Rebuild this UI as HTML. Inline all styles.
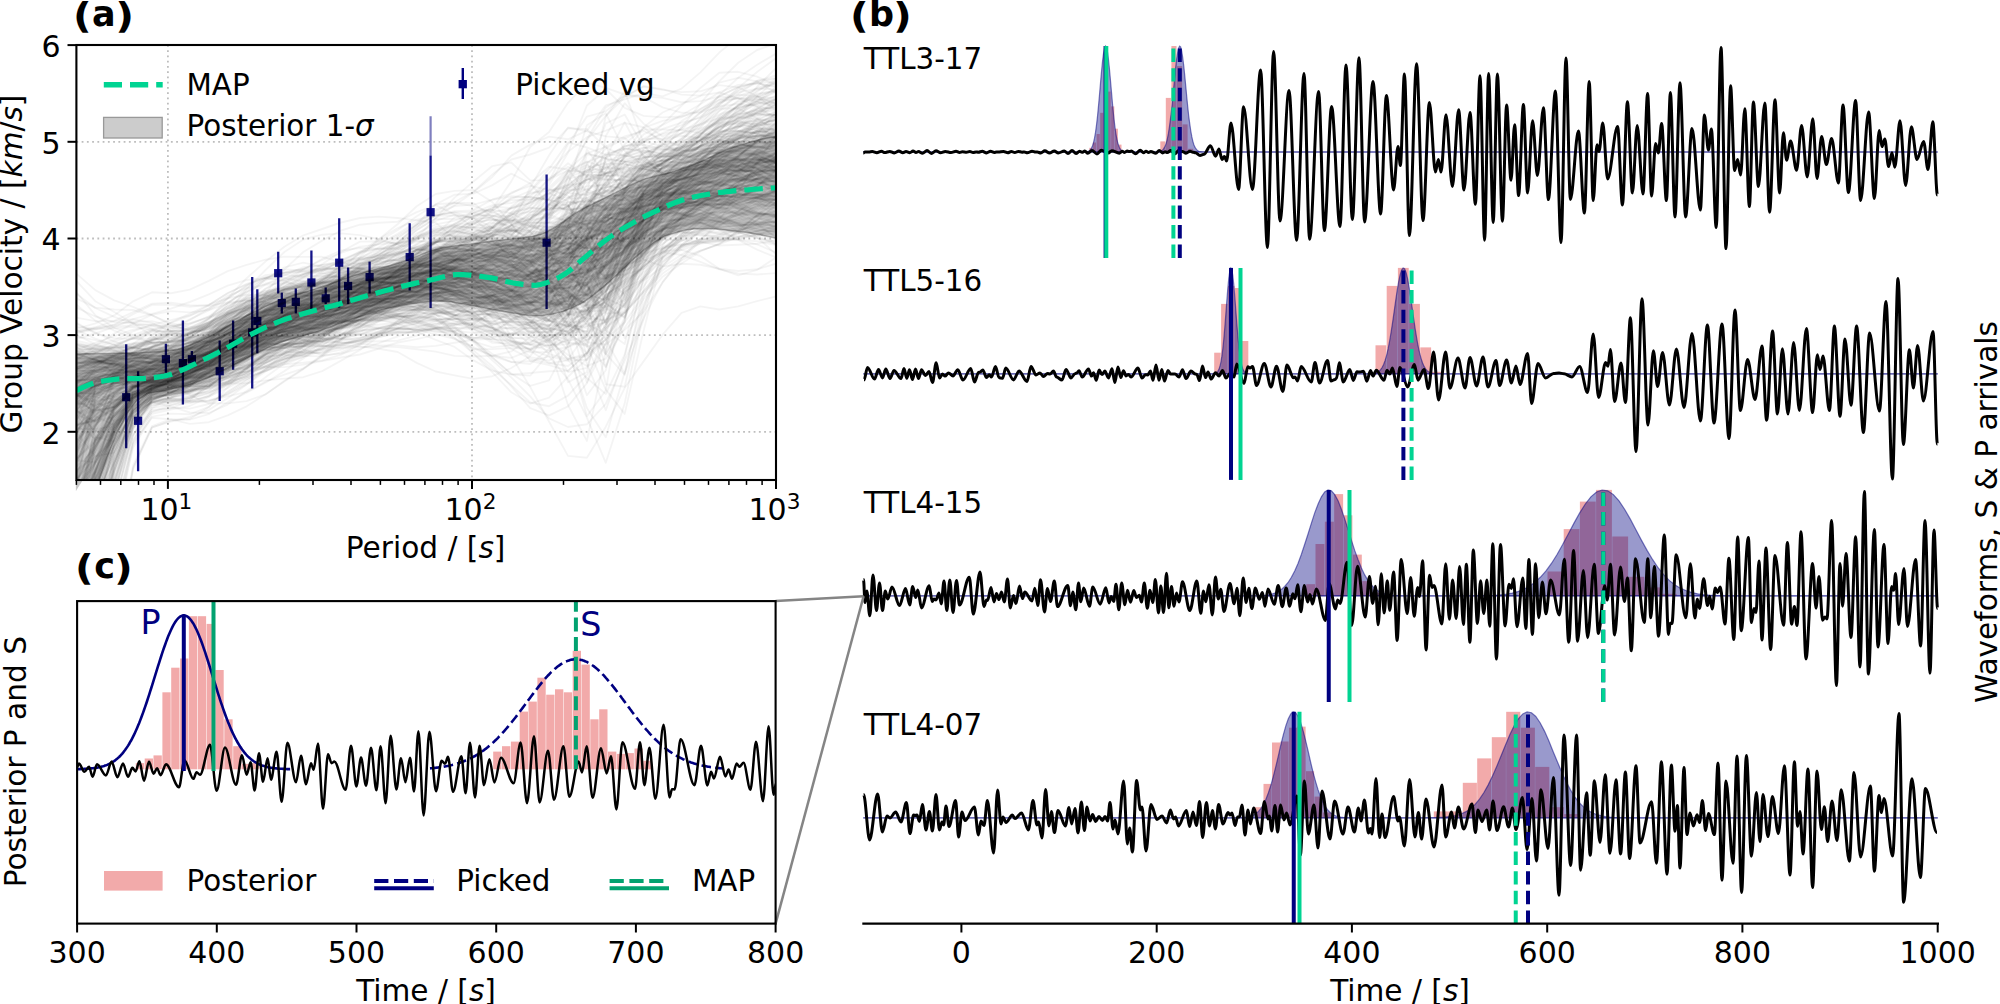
<!DOCTYPE html>
<html><head><meta charset="utf-8"><title>Figure</title><style>
html,body{margin:0;padding:0;background:#fff;}
svg{display:block;}
text{font-family:'DejaVu Sans','Liberation Sans',sans-serif;fill:#000;}
.tl{font-size:30px;}
.lb{font-size:29.6px;}
.lg{font-size:29.4px;}
.ttl{font-size:35px;font-weight:bold;}
.ttp{font-size:36px;font-weight:bold;}
.it{font-style:italic;}
.tk{stroke:#000;stroke-width:2.0;}
.grid{stroke:#bdbdbd;stroke-width:1.8;stroke-dasharray:1.8 3.45;}
</style></head>
<body><svg width="2000" height="1004" viewBox="0 0 2000 1004">
<rect width="2000" height="1004" fill="#fff"/>
<g id="pa">
<clipPath id="clipA"><rect x="76.4" y="45.0" width="699.6" height="435.0"/></clipPath>
<line x1="167.9" y1="45.0" x2="167.9" y2="480.0" class="grid"/>
<line x1="472" y1="45.0" x2="472" y2="480.0" class="grid"/>
<line x1="76.4" y1="431.8" x2="776.0" y2="431.8" class="grid"/>
<line x1="76.4" y1="335.1" x2="776.0" y2="335.1" class="grid"/>
<line x1="76.4" y1="238.5" x2="776.0" y2="238.5" class="grid"/>
<line x1="76.4" y1="141.8" x2="776.0" y2="141.8" class="grid"/>
<g clip-path="url(#clipA)">
<line x1="430.6" y1="116.2" x2="430.6" y2="156" stroke="#000080" stroke-opacity="0.5" stroke-width="2.2"/>
<line x1="126.2" y1="344.3" x2="126.2" y2="448.3" stroke="#000080" stroke-opacity="0.92" stroke-width="2.3"/>
<rect x="122.1" y="393.1" width="8.2" height="8.2" fill="#000080" fill-opacity="0.92"/>
<line x1="138.1" y1="371.2" x2="138.1" y2="471.3" stroke="#000080" stroke-opacity="0.92" stroke-width="2.3"/>
<rect x="134" y="416.7" width="8.2" height="8.2" fill="#000080" fill-opacity="0.92"/>
<line x1="165.9" y1="343.7" x2="165.9" y2="372.7" stroke="#000080" stroke-opacity="0.92" stroke-width="2.3"/>
<rect x="161.8" y="355.1" width="8.2" height="8.2" fill="#000080" fill-opacity="0.92"/>
<line x1="182.9" y1="320.4" x2="182.9" y2="404.6" stroke="#000080" stroke-opacity="0.92" stroke-width="2.3"/>
<rect x="178.8" y="359" width="8.2" height="8.2" fill="#000080" fill-opacity="0.92"/>
<line x1="191.9" y1="350.9" x2="191.9" y2="366.7" stroke="#000080" stroke-opacity="0.92" stroke-width="2.3"/>
<rect x="187.8" y="355.1" width="8.2" height="8.2" fill="#000080" fill-opacity="0.92"/>
<line x1="219.7" y1="340.4" x2="219.7" y2="401.1" stroke="#000080" stroke-opacity="0.92" stroke-width="2.3"/>
<rect x="215.6" y="367.1" width="8.2" height="8.2" fill="#000080" fill-opacity="0.92"/>
<line x1="233.1" y1="320.4" x2="233.1" y2="369.7" stroke="#000080" stroke-opacity="0.92" stroke-width="2.3"/>
<rect x="229" y="339.6" width="8.2" height="8.2" fill="#000080" fill-opacity="0.92"/>
<line x1="252.2" y1="277.1" x2="252.2" y2="388.5" stroke="#000080" stroke-opacity="0.92" stroke-width="2.3"/>
<rect x="248.1" y="328.3" width="8.2" height="8.2" fill="#000080" fill-opacity="0.92"/>
<line x1="257.3" y1="289.3" x2="257.3" y2="353.3" stroke="#000080" stroke-opacity="0.92" stroke-width="2.3"/>
<rect x="253.2" y="316.9" width="8.2" height="8.2" fill="#000080" fill-opacity="0.92"/>
<line x1="278.2" y1="251.7" x2="278.2" y2="293.5" stroke="#000080" stroke-opacity="0.92" stroke-width="2.3"/>
<rect x="274.1" y="269.1" width="8.2" height="8.2" fill="#000080" fill-opacity="0.92"/>
<line x1="281.8" y1="292.6" x2="281.8" y2="313.5" stroke="#000080" stroke-opacity="0.92" stroke-width="2.3"/>
<rect x="277.7" y="299" width="8.2" height="8.2" fill="#000080" fill-opacity="0.92"/>
<line x1="295.8" y1="288.4" x2="295.8" y2="313.5" stroke="#000080" stroke-opacity="0.92" stroke-width="2.3"/>
<rect x="291.7" y="297.8" width="8.2" height="8.2" fill="#000080" fill-opacity="0.92"/>
<line x1="311.4" y1="250.5" x2="311.4" y2="309.9" stroke="#000080" stroke-opacity="0.92" stroke-width="2.3"/>
<rect x="307.3" y="278.4" width="8.2" height="8.2" fill="#000080" fill-opacity="0.92"/>
<line x1="325.7" y1="287.5" x2="325.7" y2="304" stroke="#000080" stroke-opacity="0.92" stroke-width="2.3"/>
<rect x="321.6" y="294.2" width="8.2" height="8.2" fill="#000080" fill-opacity="0.92"/>
<line x1="339.2" y1="218.2" x2="339.2" y2="307.6" stroke="#000080" stroke-opacity="0.92" stroke-width="2.3"/>
<rect x="335.1" y="258.6" width="8.2" height="8.2" fill="#000080" fill-opacity="0.92"/>
<line x1="348.1" y1="267.5" x2="348.1" y2="304" stroke="#000080" stroke-opacity="0.92" stroke-width="2.3"/>
<rect x="344" y="281.9" width="8.2" height="8.2" fill="#000080" fill-opacity="0.92"/>
<line x1="369.6" y1="261.6" x2="369.6" y2="293.5" stroke="#000080" stroke-opacity="0.92" stroke-width="2.3"/>
<rect x="365.5" y="273" width="8.2" height="8.2" fill="#000080" fill-opacity="0.92"/>
<line x1="409.7" y1="223.3" x2="409.7" y2="290.5" stroke="#000080" stroke-opacity="0.92" stroke-width="2.3"/>
<rect x="405.6" y="253" width="8.2" height="8.2" fill="#000080" fill-opacity="0.92"/>
<line x1="430.6" y1="155.7" x2="430.6" y2="308" stroke="#000080" stroke-opacity="0.92" stroke-width="2.3"/>
<rect x="426.5" y="208.1" width="8.2" height="8.2" fill="#000080" fill-opacity="0.92"/>
<line x1="546.6" y1="174.5" x2="546.6" y2="309" stroke="#000080" stroke-opacity="0.92" stroke-width="2.3"/>
<rect x="542.5" y="238.6" width="8.2" height="8.2" fill="#000080" fill-opacity="0.92"/>
</g>
<g clip-path="url(#clipA)" fill="none" stroke="#000" stroke-opacity="0.043" stroke-width="1.9" stroke-linejoin="round">
<polyline points="76.4,424.4 95.3,398.3 114.2,387.2 133.1,380.9 152,380.1 170.9,377.1 189.8,370.3 208.8,368.7 227.7,365.6 246.6,359.5 265.5,354.5 284.4,345.2 303.3,335.5 322.2,331.1 341.1,322.8 360,309.7 378.9,299.6 397.8,291.7 416.7,286.4 435.7,284.3 454.6,286.8 473.5,302.2 492.4,326.7 511.3,356.2 530.2,386.9 549.1,421.8 568,455.9 586.9,457.7 605.8,426.7 624.7,387.8 643.6,361.4 662.6,334.7 681.5,312.8 700.4,306.4 719.3,309.5 738.2,306.4 757.1,301.1 776,296.4"/>
<polyline points="76.4,393.4 95.3,385.9 114.2,381.3 133.1,381.3 152,380.9 170.9,376.9 189.8,372.4 208.8,366.6 227.7,359 246.6,349.6 265.5,338.8 284.4,327.7 303.3,317.4 322.2,309.1 341.1,296.9 360,282.8 378.9,274.6 397.8,270.5 416.7,266.7 435.7,267 454.6,271.9 473.5,282.5 492.4,298.2 511.3,315.7 530.2,331.4 549.1,341.2 568,334.6 586.9,344.5 605.8,366.6 624.7,318.9 643.6,245.5 662.6,210.2 681.5,195 700.4,184 719.3,175.6 738.2,171.1 757.1,170.3 776,171.5"/>
<polyline points="76.4,419.1 95.3,408.8 114.2,399.9 133.1,391.9 152,390 170.9,392 189.8,388.7 208.8,381.7 227.7,371.4 246.6,358.3 265.5,347.4 284.4,340.8 303.3,333.1 322.2,324.4 341.1,317.3 360,311.5 378.9,307.5 397.8,305.4 416.7,301.9 435.7,298.2 454.6,299.3 473.5,298.4 492.4,295.1 511.3,291.6 530.2,292 549.1,290.2 568,285.8 586.9,306.5 605.8,354.5 624.7,322 643.6,228 662.6,184.3 681.5,169.1 700.4,162.1 719.3,153.1 738.2,143 757.1,134.2 776,127.5"/>
<polyline points="76.4,749 95.3,624.5 114.2,515.8 133.1,443 152,417.7 170.9,419.4 189.8,423.9 208.8,422.2 227.7,415.3 246.6,406.3 265.5,394.3 284.4,381.5 303.3,369.2 322.2,355.6 341.1,339.3 360,321.7 378.9,306.5 397.8,295.5 416.7,286.3 435.7,277.6 454.6,268.3 473.5,261.5 492.4,259.7 511.3,262.7 530.2,271.1 549.1,273.2 568,260.4 586.9,252.4 605.8,245.2 624.7,230.2 643.6,211.4 662.6,199.4 681.5,189 700.4,179.2 719.3,169.9 738.2,166.6 757.1,167.6 776,170.8"/>
<polyline points="76.4,563.1 95.3,497.7 114.2,436.6 133.1,394.2 152,377.7 170.9,364.9 189.8,354.8 208.8,344.4 227.7,333.1 246.6,323.9 265.5,315.6 284.4,313 303.3,316.1 322.2,317.9 341.1,313.3 360,304.9 378.9,296.6 397.8,285.8 416.7,273.2 435.7,257.9 454.6,244.1 473.5,234.1 492.4,230.5 511.3,230.6 530.2,232.6 549.1,236.1 568,235.8 586.9,238.4 605.8,239.3 624.7,225.4 643.6,212.4 662.6,205.9 681.5,199.8 700.4,197.7 719.3,195.3 738.2,188.8 757.1,181.1 776,175.2"/>
<polyline points="76.4,396 95.3,396.4 114.2,404.2 133.1,394.7 152,385.7 170.9,378.6 189.8,367.9 208.8,356.4 227.7,341.9 246.6,326.7 265.5,311.9 284.4,302 303.3,295.3 322.2,289.9 341.1,281.9 360,275.2 378.9,273.6 397.8,270.9 416.7,264.8 435.7,264.6 454.6,271.7 473.5,278.4 492.4,286.2 511.3,290.2 530.2,295.2 549.1,301.8 568,296.8 586.9,290.6 605.8,279.3 624.7,267.2 643.6,255.5 662.6,243.8 681.5,230.4 700.4,222.9 719.3,222 738.2,219.8 757.1,215.7 776,210.5"/>
<polyline points="76.4,576.8 95.3,526.8 114.2,469.6 133.1,421.4 152,400.1 170.9,392.6 189.8,384.5 208.8,373.3 227.7,360.5 246.6,351.1 265.5,342.4 284.4,336.7 303.3,334.4 322.2,331 341.1,328.2 360,323.9 378.9,317.9 397.8,314.2 416.7,313.2 435.7,312.8 454.6,315.4 473.5,318.5 492.4,321.3 511.3,322.7 530.2,328.1 549.1,328.7 568,321.3 586.9,313.2 605.8,301.2 624.7,279.8 643.6,260.7 662.6,240.2 681.5,222.5 700.4,208.4 719.3,195.9 738.2,185.8 757.1,178.7 776,175"/>
<polyline points="76.4,364.2 95.3,361.7 114.2,364 133.1,365.9 152,365.6 170.9,366.1 189.8,364.7 208.8,361.6 227.7,355.9 246.6,354.6 265.5,352.6 284.4,348.2 303.3,345.8 322.2,341.7 341.1,334.5 360,326.6 378.9,316.7 397.8,304.2 416.7,291.8 435.7,279.2 454.6,267.3 473.5,255.6 492.4,250.1 511.3,253.2 530.2,256.6 549.1,252.9 568,269.2 586.9,296.3 605.8,275 624.7,226 643.6,195.9 662.6,179.8 681.5,168.1 700.4,162.2 719.3,157.5 738.2,153.7 757.1,155.1 776,162.3"/>
<polyline points="76.4,554.8 95.3,504.9 114.2,450.5 133.1,413.2 152,397.6 170.9,392.3 189.8,383 208.8,371.5 227.7,361.1 246.6,350.1 265.5,336.3 284.4,326.9 303.3,322.2 322.2,314.3 341.1,303.8 360,293.6 378.9,284.4 397.8,271.4 416.7,253.3 435.7,236.5 454.6,223.7 473.5,216 492.4,208 511.3,200.1 530.2,199.5 549.1,199.6 568,206 586.9,227.5 605.8,232.9 624.7,229.7 643.6,223.2 662.6,213.8 681.5,204.4 700.4,197.6 719.3,187.2 738.2,174.2 757.1,163.1 776,153.6"/>
<polyline points="76.4,408.8 95.3,431.7 114.2,423.2 133.1,408.1 152,397.7 170.9,394.8 189.8,391.4 208.8,384.8 227.7,374.3 246.6,366.4 265.5,356.9 284.4,347.6 303.3,342.3 322.2,335.4 341.1,327.2 360,320.4 378.9,310.4 397.8,298.4 416.7,284.7 435.7,266.6 454.6,249.8 473.5,233 492.4,220.2 511.3,220.3 530.2,225.3 549.1,226.6 568,227.3 586.9,220.7 605.8,217.6 624.7,219.9 643.6,209 662.6,197.5 681.5,189.4 700.4,181.5 719.3,172.6 738.2,165.9 757.1,160 776,156.8"/>
<polyline points="76.4,401.6 95.3,410.6 114.2,407.1 133.1,390.4 152,381.9 170.9,375.6 189.8,367.3 208.8,358.6 227.7,350.5 246.6,344.8 265.5,337 284.4,332.2 303.3,333.6 322.2,333.6 341.1,328.4 360,319.8 378.9,312.4 397.8,307.3 416.7,299.4 435.7,287.6 454.6,278.3 473.5,269.5 492.4,262.9 511.3,260.6 530.2,268.7 549.1,272.8 568,264.5 586.9,299.3 605.8,384.3 624.7,386.8 643.6,304.4 662.6,266.6 681.5,263.7 700.4,264.8 719.3,268.8 738.2,271 757.1,269.3 776,263.7"/>
<polyline points="76.4,382.7 95.3,383.6 114.2,383.4 133.1,382.1 152,380 170.9,377.5 189.8,371.3 208.8,360.9 227.7,347.3 246.6,331.2 265.5,313 284.4,297 303.3,283.9 322.2,271.4 341.1,260.2 360,252.8 378.9,248.8 397.8,243.5 416.7,236.4 435.7,230.6 454.6,227.9 473.5,227.1 492.4,222.8 511.3,225.4 530.2,231.7 549.1,232.9 568,220.6 586.9,207 605.8,217.3 624.7,220.9 643.6,205.8 662.6,192.1 681.5,183.5 700.4,177.5 719.3,171 738.2,165.3 757.1,162.6 776,161.7"/>
<polyline points="76.4,568.1 95.3,480.4 114.2,427.7 133.1,400 152,389.8 170.9,386.6 189.8,384.2 208.8,382.4 227.7,376.3 246.6,368.8 265.5,358.5 284.4,344.1 303.3,332.8 322.2,321.1 341.1,308.3 360,295 378.9,282.8 397.8,272.8 416.7,262.3 435.7,251.6 454.6,248.5 473.5,251.2 492.4,257.6 511.3,261.8 530.2,264.4 549.1,261.3 568,253.9 586.9,237.9 605.8,231.5 624.7,218.5 643.6,192 662.6,173.5 681.5,160.6 700.4,145.8 719.3,130.1 738.2,117.8 757.1,108.3 776,107.9"/>
<polyline points="76.4,511 95.3,427.4 114.2,382.5 133.1,376.9 152,373.3 170.9,363.5 189.8,353.8 208.8,348.8 227.7,344.9 246.6,343.6 265.5,343.1 284.4,343.9 303.3,344.1 322.2,342 341.1,336 360,326.9 378.9,314.2 397.8,300.8 416.7,287.2 435.7,271.9 454.6,261.8 473.5,258 492.4,258.5 511.3,265.3 530.2,278.4 549.1,292.1 568,297.5 586.9,303 605.8,289 624.7,267.2 643.6,247.1 662.6,225.6 681.5,208 700.4,192.8 719.3,182 738.2,171.1 757.1,163.2 776,158.9"/>
<polyline points="76.4,634.5 95.3,548.2 114.2,464.3 133.1,410.9 152,392.6 170.9,384.4 189.8,370.5 208.8,353.3 227.7,335.9 246.6,317.2 265.5,298.3 284.4,282.6 303.3,269.8 322.2,258.7 341.1,250.5 360,248 378.9,248.7 397.8,249.2 416.7,249.2 435.7,250.7 454.6,258 473.5,266.6 492.4,269.3 511.3,273.1 530.2,274.5 549.1,267.8 568,258.2 586.9,254.4 605.8,247.4 624.7,233.4 643.6,220.6 662.6,214.6 681.5,215.4 700.4,218.2 719.3,221.9 738.2,222.7 757.1,222.5 776,222.3"/>
<polyline points="76.4,613.7 95.3,556.3 114.2,488.9 133.1,425.9 152,400 170.9,392.3 189.8,382.7 208.8,370.1 227.7,356.8 246.6,342.8 265.5,328.4 284.4,318.8 303.3,312.3 322.2,305.5 341.1,294.1 360,285.1 378.9,276.7 397.8,266.5 416.7,254.4 435.7,239.5 454.6,226.8 473.5,216.2 492.4,209.9 511.3,213.3 530.2,222.5 549.1,222.9 568,213.5 586.9,202.2 605.8,194.3 624.7,182.7 643.6,165.8 662.6,155.1 681.5,148.8 700.4,141.1 719.3,132.5 738.2,125.9 757.1,126.5 776,131.7"/>
<polyline points="76.4,395.1 95.3,382 114.2,376.5 133.1,375.4 152,377 170.9,376.9 189.8,370 208.8,361.9 227.7,354.9 246.6,348.4 265.5,339.5 284.4,333.8 303.3,330.7 322.2,325.6 341.1,314.7 360,301.9 378.9,288.9 397.8,284.9 416.7,285.1 435.7,279.8 454.6,279.9 473.5,289 492.4,292 511.3,297.7 530.2,318.5 549.1,334.2 568,316.5 586.9,274.8 605.8,251 624.7,227.4 643.6,192.4 662.6,167.5 681.5,154.9 700.4,140.1 719.3,119.1 738.2,105.4 757.1,91.8 776,78.6"/>
<polyline points="76.4,304.5 95.3,320.6 114.2,330.6 133.1,337.8 152,342.6 170.9,341.6 189.8,333.8 208.8,325.4 227.7,316.9 246.6,307.8 265.5,299.9 284.4,294.7 303.3,292.2 322.2,290.6 341.1,286.6 360,282.1 378.9,276.5 397.8,269.4 416.7,257.1 435.7,242.6 454.6,230.4 473.5,221.1 492.4,216.3 511.3,215.9 530.2,231.5 549.1,254.9 568,273.6 586.9,278.2 605.8,269.7 624.7,260 643.6,248.9 662.6,229.6 681.5,214.8 700.4,198.5 719.3,182.4 738.2,173.7 757.1,164 776,159.9"/>
<polyline points="76.4,500.9 95.3,446.7 114.2,407.6 133.1,388.1 152,378.4 170.9,369 189.8,356.9 208.8,340.3 227.7,325.2 246.6,312 265.5,298 284.4,289.9 303.3,287.7 322.2,286.5 341.1,287.5 360,288.9 378.9,290.8 397.8,292.8 416.7,293.8 435.7,294.1 454.6,296.3 473.5,299.2 492.4,305.6 511.3,303.9 530.2,293.3 549.1,284.7 568,279.7 586.9,267.4 605.8,240.7 624.7,212.6 643.6,194.6 662.6,179.4 681.5,162.7 700.4,157.9 719.3,156.4 738.2,159 757.1,168.1 776,179.8"/>
<polyline points="76.4,393.7 95.3,390.5 114.2,385 133.1,376.4 152,367.9 170.9,362.1 189.8,350.8 208.8,340.1 227.7,333.4 246.6,327.6 265.5,322.8 284.4,325 303.3,329.9 322.2,333.5 341.1,339 360,340.5 378.9,337 397.8,333.3 416.7,332.7 435.7,327.3 454.6,316.2 473.5,302.8 492.4,291.8 511.3,274 530.2,258.3 549.1,242.5 568,200.4 586.9,176.8 605.8,173.7 624.7,157.6 643.6,150.1 662.6,153.8 681.5,153.3 700.4,148.4 719.3,149.8 738.2,154.2 757.1,156.8 776,162.3"/>
<polyline points="76.4,521 95.3,460.1 114.2,418.1 133.1,391.9 152,380.1 170.9,368.6 189.8,356 208.8,344.9 227.7,333.5 246.6,323.4 265.5,313.6 284.4,309 303.3,306 322.2,301.4 341.1,298.1 360,293.8 378.9,291.4 397.8,290.8 416.7,289 435.7,285.6 454.6,285 473.5,287.5 492.4,289.6 511.3,296.8 530.2,298.1 549.1,292.9 568,284 586.9,259.9 605.8,232.8 624.7,206.8 643.6,180.2 662.6,159.5 681.5,143.2 700.4,130.8 719.3,123.5 738.2,123.7 757.1,128.2 776,135.7"/>
<polyline points="76.4,363.3 95.3,361.4 114.2,360.6 133.1,354.4 152,346 170.9,341 189.8,334.6 208.8,326.5 227.7,314.7 246.6,303.1 265.5,292.7 284.4,281.4 303.3,273.8 322.2,267.2 341.1,262.9 360,263.7 378.9,264.4 397.8,262.6 416.7,261.5 435.7,266 454.6,272.6 473.5,275.8 492.4,282.6 511.3,296.1 530.2,302.6 549.1,302.4 568,311.5 586.9,311.8 605.8,297.2 624.7,274.1 643.6,250.2 662.6,229.1 681.5,214.8 700.4,207.7 719.3,199.8 738.2,188.3 757.1,179.1 776,172.3"/>
<polyline points="76.4,357.9 95.3,360.9 114.2,365.6 133.1,369.5 152,376.4 170.9,378.8 189.8,377.1 208.8,376 227.7,373.3 246.6,371.8 265.5,368.1 284.4,364.2 303.3,362.7 322.2,360.5 341.1,354.6 360,345 378.9,336 397.8,328.4 416.7,320.3 435.7,311.7 454.6,304.8 473.5,301.2 492.4,299.9 511.3,290.3 530.2,274.8 549.1,256.2 568,248.9 586.9,284 605.8,322.5 624.7,265 643.6,194.7 662.6,173.1 681.5,165 700.4,156.1 719.3,143.8 738.2,136.4 757.1,131.4 776,131.3"/>
<polyline points="76.4,453.4 95.3,388.8 114.2,370.5 133.1,356.1 152,346.9 170.9,341.9 189.8,333.6 208.8,324.3 227.7,315 246.6,306.3 265.5,297.5 284.4,289.2 303.3,284.3 322.2,278.7 341.1,275.2 360,273.3 378.9,273.7 397.8,272.8 416.7,272.9 435.7,277.3 454.6,283.3 473.5,288.2 492.4,295.9 511.3,303.2 530.2,305.4 549.1,293.2 568,267 586.9,239.8 605.8,215.7 624.7,192.6 643.6,174.4 662.6,162.3 681.5,151.5 700.4,147.1 719.3,142.2 738.2,137.9 757.1,135.5 776,137.4"/>
<polyline points="76.4,395 95.3,385.5 114.2,381.8 133.1,379.2 152,379.9 170.9,381 189.8,378.4 208.8,370.4 227.7,359.7 246.6,348.4 265.5,334.7 284.4,320.9 303.3,310 322.2,301.4 341.1,290.9 360,282.2 378.9,277.9 397.8,276.5 416.7,276.1 435.7,276.3 454.6,285.7 473.5,300.3 492.4,312.6 511.3,326.2 530.2,339 549.1,348.2 568,339.5 586.9,310.6 605.8,281.6 624.7,258.6 643.6,230.4 662.6,199.5 681.5,175.1 700.4,159.1 719.3,145 738.2,133.8 757.1,123.6 776,113.3"/>
<polyline points="76.4,622.3 95.3,528 114.2,458.5 133.1,413.9 152,394.9 170.9,390.9 189.8,387.5 208.8,381.4 227.7,374 246.6,366.2 265.5,353.1 284.4,337.5 303.3,327.6 322.2,319.3 341.1,307.4 360,297.5 378.9,289.9 397.8,286.7 416.7,284.6 435.7,283.4 454.6,279.1 473.5,274.4 492.4,274.7 511.3,267.3 530.2,248.2 549.1,215 568,185.3 586.9,171.3 605.8,158 624.7,145.6 643.6,144.7 662.6,148.9 681.5,150.4 700.4,151.6 719.3,151.2 738.2,151.6 757.1,154.3 776,157.1"/>
<polyline points="76.4,421.3 95.3,391.5 114.2,377.2 133.1,372.1 152,367.2 170.9,360.7 189.8,349.7 208.8,341.4 227.7,330.2 246.6,319.3 265.5,311.9 284.4,307.8 303.3,307.1 322.2,304.5 341.1,299.3 360,293.8 378.9,291.6 397.8,288 416.7,283.8 435.7,282.9 454.6,285.9 473.5,288.6 492.4,290 511.3,287.2 530.2,277.8 549.1,262.6 568,250.5 586.9,231.3 605.8,210.2 624.7,189.5 643.6,168.4 662.6,159.6 681.5,157.2 700.4,155.7 719.3,152.1 738.2,150.9 757.1,150.1 776,153.1"/>
<polyline points="76.4,471.5 95.3,445.7 114.2,414.6 133.1,394.8 152,387.3 170.9,382.5 189.8,376.9 208.8,374.1 227.7,368.8 246.6,360.9 265.5,350.6 284.4,343.8 303.3,340.3 322.2,333.7 341.1,320.7 360,309 378.9,297.9 397.8,287.2 416.7,280.6 435.7,276.8 454.6,276 473.5,275.9 492.4,280.5 511.3,283.6 530.2,283.7 549.1,285.6 568,281.8 586.9,274.1 605.8,226.7 624.7,164.7 643.6,166.5 662.6,169.4 681.5,154.4 700.4,140.4 719.3,126.6 738.2,118.2 757.1,114.3 776,114.7"/>
<polyline points="76.4,449.9 95.3,419 114.2,399.9 133.1,388.5 152,383.3 170.9,378.4 189.8,370.5 208.8,362.1 227.7,352.4 246.6,342.6 265.5,331.9 284.4,322.1 303.3,314 322.2,307.7 341.1,303.1 360,299.6 378.9,293.8 397.8,289.7 416.7,288.1 435.7,283.5 454.6,279.3 473.5,277.6 492.4,276.6 511.3,266.4 530.2,254.7 549.1,247 568,238.5 586.9,236.6 605.8,231.5 624.7,214.8 643.6,199.4 662.6,194.3 681.5,194.6 700.4,196.7 719.3,199.6 738.2,205.3 757.1,211.1 776,216.6"/>
<polyline points="76.4,473.7 95.3,452.1 114.2,427 133.1,400 152,388.1 170.9,382 189.8,373 208.8,360.6 227.7,345.6 246.6,329.9 265.5,313.3 284.4,300.1 303.3,292 322.2,286.5 341.1,279.8 360,273.2 378.9,269.5 397.8,267.5 416.7,262.1 435.7,252.8 454.6,250.9 473.5,254.1 492.4,255.3 511.3,265.3 530.2,272.2 549.1,266.9 568,248.1 586.9,233 605.8,226.2 624.7,212.3 643.6,194.5 662.6,183.7 681.5,176 700.4,170.7 719.3,165.6 738.2,160.5 757.1,157.2 776,158.2"/>
<polyline points="76.4,444.5 95.3,415.2 114.2,397 133.1,386 152,377.6 170.9,368.9 189.8,359.7 208.8,351.9 227.7,344.4 246.6,338.5 265.5,333.9 284.4,333 303.3,336.2 322.2,338.7 341.1,338.2 360,334.3 378.9,328.4 397.8,324 416.7,314 435.7,298.5 454.6,286.9 473.5,273.8 492.4,258.7 511.3,236 530.2,215.3 549.1,213.7 568,206.3 586.9,197.8 605.8,191.5 624.7,198 643.6,210.8 662.6,213.3 681.5,213 700.4,215.6 719.3,222.5 738.2,225.1 757.1,223.9 776,225.8"/>
<polyline points="76.4,363 95.3,358.4 114.2,355.5 133.1,351.9 152,349.4 170.9,351.7 189.8,349.5 208.8,344.8 227.7,338.7 246.6,331.7 265.5,325.1 284.4,318.4 303.3,315.6 322.2,317 341.1,314.4 360,311.5 378.9,311.1 397.8,313.8 416.7,312.7 435.7,306.9 454.6,304.1 473.5,302.2 492.4,295.4 511.3,290.7 530.2,286.4 549.1,282 568,276.4 586.9,256.3 605.8,237.9 624.7,231.3 643.6,220 662.6,209.8 681.5,205.5 700.4,200.9 719.3,196.7 738.2,194.6 757.1,191 776,184.3"/>
<polyline points="76.4,442.9 95.3,404 114.2,387.7 133.1,380.5 152,377.8 170.9,374.9 189.8,364.4 208.8,352 227.7,341.1 246.6,332 265.5,322.6 284.4,314.7 303.3,306.3 322.2,297.4 341.1,289.7 360,283.6 378.9,278.5 397.8,275 416.7,272.3 435.7,273.9 454.6,278.6 473.5,279.6 492.4,284.6 511.3,295.6 530.2,298.7 549.1,291.1 568,281.9 586.9,282.9 605.8,266.7 624.7,244.9 643.6,225.1 662.6,205 681.5,190.3 700.4,177.3 719.3,161.2 738.2,149.7 757.1,142.5 776,137.5"/>
<polyline points="76.4,410.7 95.3,422.7 114.2,417.2 133.1,401.3 152,393.9 170.9,396.2 189.8,396.1 208.8,390.8 227.7,382.6 246.6,372.7 265.5,360 284.4,345.9 303.3,329.9 322.2,314 341.1,300.2 360,287.6 378.9,274.5 397.8,265.4 416.7,260.2 435.7,255 454.6,255.5 473.5,262.8 492.4,274.4 511.3,290.3 530.2,304.9 549.1,307.4 568,299.1 586.9,283.3 605.8,264.5 624.7,248.1 643.6,232.3 662.6,221.5 681.5,215.4 700.4,206.5 719.3,196.5 738.2,188.5 757.1,182.6 776,181.3"/>
<polyline points="76.4,470.1 95.3,456.8 114.2,440.8 133.1,414 152,395.5 170.9,384.9 189.8,374.4 208.8,363.8 227.7,345.1 246.6,320 265.5,293.7 284.4,269.5 303.3,252 322.2,240.6 341.1,230.5 360,224.7 378.9,222.7 397.8,221.7 416.7,212.2 435.7,205.2 454.6,214.3 473.5,227.4 492.4,236.6 511.3,247.4 530.2,255.7 549.1,250.4 568,220.6 586.9,195.4 605.8,185.9 624.7,176.2 643.6,164.7 662.6,156.2 681.5,151.8 700.4,149.3 719.3,153.2 738.2,161.2 757.1,169.3 776,176.8"/>
<polyline points="76.4,459 95.3,438 114.2,418.2 133.1,396.6 152,388.4 170.9,385 189.8,375.5 208.8,366.6 227.7,356.1 246.6,341.2 265.5,328.6 284.4,315.6 303.3,308.5 322.2,301 341.1,288.1 360,277.2 378.9,270.1 397.8,262.4 416.7,252.9 435.7,242.5 454.6,238.5 473.5,240 492.4,241.7 511.3,252.3 530.2,271.8 549.1,284 568,298.9 586.9,298.2 605.8,284.4 624.7,275 643.6,254.7 662.6,230.9 681.5,212 700.4,193.1 719.3,174.7 738.2,156 757.1,141.4 776,131.6"/>
<polyline points="76.4,384.2 95.3,371.1 114.2,363 133.1,351.9 152,338.4 170.9,328.1 189.8,319.3 208.8,310.3 227.7,298.8 246.6,285.5 265.5,275.2 284.4,272.6 303.3,271.2 322.2,268.8 341.1,268.1 360,268.1 378.9,266.8 397.8,261.4 416.7,253.8 435.7,249.1 454.6,248.8 473.5,250.2 492.4,260.5 511.3,274.6 530.2,286.5 549.1,299.9 568,307.6 586.9,301.3 605.8,288.1 624.7,275.9 643.6,257.7 662.6,234.7 681.5,224.3 700.4,222 719.3,217.5 738.2,208.3 757.1,198.3 776,188.2"/>
<polyline points="76.4,352.9 95.3,351 114.2,347.5 133.1,343.2 152,340 170.9,337.7 189.8,334.2 208.8,327 227.7,312.9 246.6,308.2 265.5,307.6 284.4,305.3 303.3,309.9 322.2,318.6 341.1,317.7 360,317.6 378.9,317.2 397.8,316.1 416.7,317.9 435.7,316.6 454.6,311.5 473.5,301.1 492.4,285.8 511.3,270 530.2,251.5 549.1,217.3 568,177.4 586.9,170.1 605.8,169.2 624.7,155 643.6,147.7 662.6,149.5 681.5,150.8 700.4,149.7 719.3,146.9 738.2,148.3 757.1,155.5 776,163.2"/>
<polyline points="76.4,448.2 95.3,424.8 114.2,393.5 133.1,380 152,366.2 170.9,357.5 189.8,350.2 208.8,339.4 227.7,327.7 246.6,320.5 265.5,315 284.4,310 303.3,307.1 322.2,305.9 341.1,302.5 360,297.7 378.9,293.7 397.8,289.4 416.7,282.9 435.7,273.2 454.6,263.4 473.5,255.7 492.4,248.7 511.3,244.7 530.2,249.6 549.1,253.4 568,238.7 586.9,221.6 605.8,209.2 624.7,203.1 643.6,196.2 662.6,188.1 681.5,182 700.4,179 719.3,175.6 738.2,171.9 757.1,170.8 776,170.9"/>
<polyline points="76.4,425.3 95.3,420.3 114.2,409.3 133.1,393.4 152,384.4 170.9,378.5 189.8,369 208.8,355.1 227.7,339.4 246.6,326 265.5,314.8 284.4,305.8 303.3,300.7 322.2,296.3 341.1,290.7 360,288.6 378.9,285.2 397.8,277.2 416.7,267.2 435.7,258.3 454.6,248.1 473.5,238.3 492.4,232.8 511.3,228.5 530.2,219.1 549.1,198.4 568,171.2 586.9,161.4 605.8,168.1 624.7,169.9 643.6,167.1 662.6,165.7 681.5,164.9 700.4,159 719.3,146.5 738.2,135.4 757.1,124 776,114.2"/>
<polyline points="76.4,366.7 95.3,364.7 114.2,361.8 133.1,355.8 152,349.8 170.9,346 189.8,340.8 208.8,335 227.7,326.1 246.6,317.9 265.5,311 284.4,307.3 303.3,309.1 322.2,311.1 341.1,308 360,305.8 378.9,304.9 397.8,300.8 416.7,294.6 435.7,287.5 454.6,280 473.5,270 492.4,266.9 511.3,267.8 530.2,263.2 549.1,255.9 568,247.6 586.9,238.7 605.8,221.6 624.7,207.7 643.6,195.5 662.6,184.6 681.5,175.4 700.4,168.1 719.3,161.2 738.2,159.8 757.1,163 776,168.6"/>
<polyline points="76.4,572 95.3,489.9 114.2,432.2 133.1,397.2 152,385.5 170.9,380.7 189.8,373.2 208.8,363.9 227.7,353.3 246.6,341.1 265.5,328.7 284.4,317.4 303.3,307.5 322.2,297.2 341.1,287.4 360,278.7 378.9,273.6 397.8,268.8 416.7,262.8 435.7,257.7 454.6,255.7 473.5,253 492.4,255.5 511.3,256.9 530.2,257.5 549.1,247.5 568,241.2 586.9,240 605.8,231.3 624.7,207.8 643.6,192.7 662.6,185.4 681.5,177.9 700.4,172.4 719.3,164.9 738.2,159.1 757.1,159 776,163"/>
<polyline points="76.4,380.1 95.3,373.7 114.2,371 133.1,371.3 152,371.6 170.9,373.2 189.8,370 208.8,365.7 227.7,357.3 246.6,349.7 265.5,345.1 284.4,340.1 303.3,335.4 322.2,329 341.1,321.7 360,313.1 378.9,305 397.8,301.9 416.7,301.6 435.7,297.3 454.6,293.2 473.5,293.4 492.4,299.8 511.3,310.8 530.2,305.6 549.1,279.9 568,253.5 586.9,253.5 605.8,238.1 624.7,218.5 643.6,201.5 662.6,187.4 681.5,180.2 700.4,173.5 719.3,167.6 738.2,162.4 757.1,159.8 776,159.6"/>
<polyline points="76.4,374.1 95.3,369.8 114.2,369.6 133.1,369.4 152,369.2 170.9,370.2 189.8,365.9 208.8,358.2 227.7,348.7 246.6,340.2 265.5,332.3 284.4,322.6 303.3,312.9 322.2,306 341.1,301.5 360,299.6 378.9,298.6 397.8,299.5 416.7,303 435.7,309.2 454.6,318.1 473.5,325.4 492.4,332.8 511.3,341.4 530.2,343.1 549.1,326.5 568,306.2 586.9,281.8 605.8,258.7 624.7,239.4 643.6,221.7 662.6,206.6 681.5,192 700.4,182.2 719.3,176 738.2,171.8 757.1,169.8 776,170"/>
<polyline points="76.4,568.1 95.3,498.1 114.2,447.8 133.1,410.6 152,393.4 170.9,388 189.8,382.8 208.8,375.7 227.7,363 246.6,349.4 265.5,337.4 284.4,329.7 303.3,324.4 322.2,314.2 341.1,302.7 360,293.4 378.9,284.2 397.8,276.2 416.7,265.2 435.7,252.6 454.6,243.9 473.5,238.4 492.4,232.7 511.3,229.7 530.2,226.1 549.1,214.4 568,202.1 586.9,201.3 605.8,202.2 624.7,210.9 643.6,206.8 662.6,200.9 681.5,200.3 700.4,202.5 719.3,208.8 738.2,214 757.1,216.1 776,217.1"/>
<polyline points="76.4,397 95.3,402.3 114.2,392.8 133.1,386.1 152,381.9 170.9,374.7 189.8,361.5 208.8,347.2 227.7,330.7 246.6,315.5 265.5,301.2 284.4,291.3 303.3,286 322.2,282.9 341.1,278.7 360,270.8 378.9,260.9 397.8,250.8 416.7,237.5 435.7,226.9 454.6,224.4 473.5,223.5 492.4,227.8 511.3,240.3 530.2,260.7 549.1,270.1 568,275.4 586.9,272.6 605.8,262.7 624.7,240.5 643.6,220.2 662.6,205.2 681.5,198.2 700.4,194.3 719.3,189 738.2,188.4 757.1,189.8 776,190.6"/>
<polyline points="76.4,521.8 95.3,479.1 114.2,441.4 133.1,409.4 152,395.9 170.9,391.7 189.8,385.2 208.8,376.5 227.7,364.3 246.6,350 265.5,336.9 284.4,329.3 303.3,322.9 322.2,317.3 341.1,311.8 360,306.2 378.9,301 397.8,296.8 416.7,296.4 435.7,298.4 454.6,305 473.5,310.3 492.4,314.6 511.3,319.1 530.2,326.1 549.1,339.1 568,325.7 586.9,291.7 605.8,260.8 624.7,231 643.6,202.9 662.6,183.5 681.5,175.1 700.4,166.7 719.3,159.9 738.2,156.2 757.1,150.2 776,144.8"/>
<polyline points="76.4,602.9 95.3,523.2 114.2,463.1 133.1,419.6 152,401.8 170.9,399.7 189.8,396.7 208.8,387.2 227.7,371 246.6,355 265.5,339.4 284.4,324.1 303.3,310.7 322.2,299.4 341.1,288.3 360,279.6 378.9,273.2 397.8,265.9 416.7,257.8 435.7,252.2 454.6,247.4 473.5,245.1 492.4,247.5 511.3,245 530.2,229 549.1,212.6 568,192.8 586.9,179.9 605.8,173.5 624.7,166.1 643.6,158.5 662.6,153.3 681.5,155.8 700.4,159 719.3,165.9 738.2,176.7 757.1,184.8 776,190.1"/>
<polyline points="76.4,434.2 95.3,393.9 114.2,388.6 133.1,387.1 152,383.6 170.9,382.1 189.8,379 208.8,373.2 227.7,365 246.6,356.8 265.5,347.8 284.4,338.9 303.3,331.1 322.2,321.9 341.1,312.4 360,306.8 378.9,306.1 397.8,303.3 416.7,298.7 435.7,299.3 454.6,306.9 473.5,313 492.4,310.1 511.3,305.1 530.2,301.8 549.1,286.6 568,256.5 586.9,234.5 605.8,221.5 624.7,209.8 643.6,194.2 662.6,186.3 681.5,186.9 700.4,191.1 719.3,194.7 738.2,196.1 757.1,198.6 776,200.5"/>
<polyline points="76.4,490.3 95.3,385.7 114.2,366.8 133.1,355.5 152,348.9 170.9,345.6 189.8,343 208.8,340.6 227.7,337.6 246.6,335 265.5,330.1 284.4,323.9 303.3,318.1 322.2,311.5 341.1,302.2 360,290.5 378.9,279.5 397.8,270.1 416.7,260.2 435.7,253.2 454.6,252.7 473.5,250.4 492.4,245.6 511.3,245.2 530.2,250.8 549.1,236.8 568,230.6 586.9,242.7 605.8,240.3 624.7,237.7 643.6,228.9 662.6,213.5 681.5,204.3 700.4,201 719.3,199.5 738.2,198.5 757.1,197.5 776,198.9"/>
<polyline points="76.4,361 95.3,345.6 114.2,333.6 133.1,323.6 152,314.7 170.9,311.1 189.8,312.4 208.8,310.1 227.7,303.6 246.6,300.4 265.5,298 284.4,296.5 303.3,299 322.2,299.9 341.1,297.4 360,293 378.9,290.4 397.8,288.1 416.7,286.4 435.7,286.8 454.6,292.7 473.5,303.1 492.4,304.7 511.3,299.4 530.2,289.8 549.1,272.2 568,249.7 586.9,219 605.8,197.1 624.7,179.1 643.6,168.8 662.6,159.2 681.5,147.5 700.4,135.2 719.3,119.8 738.2,108.5 757.1,101.7 776,104.7"/>
<polyline points="76.4,369.7 95.3,362.3 114.2,356.5 133.1,354.8 152,356 170.9,353.6 189.8,349.4 208.8,342.9 227.7,333.4 246.6,324.7 265.5,316.3 284.4,308.3 303.3,305.6 322.2,304.9 341.1,303.3 360,300.1 378.9,298.5 397.8,299.3 416.7,303.9 435.7,311.1 454.6,317.8 473.5,326.7 492.4,334.4 511.3,337.1 530.2,340.1 549.1,346.2 568,335.1 586.9,310.3 605.8,285 624.7,269.7 643.6,253 662.6,234.4 681.5,218.2 700.4,201.2 719.3,186.7 738.2,176 757.1,166.1 776,156.8"/>
<polyline points="76.4,353.6 95.3,353.3 114.2,355.8 133.1,360.3 152,364.6 170.9,365.4 189.8,360.7 208.8,355.7 227.7,349.6 246.6,342.2 265.5,335.8 284.4,336.2 303.3,339.7 322.2,341.9 341.1,342.4 360,343.8 378.9,345.3 397.8,345.4 416.7,347.3 435.7,345.9 454.6,342.8 473.5,339.7 492.4,338.8 511.3,340.7 530.2,344.8 549.1,350.7 568,347 586.9,339.6 605.8,327.1 624.7,313 643.6,292.7 662.6,273.5 681.5,260.5 700.4,250.6 719.3,244.1 738.2,237.1 757.1,231.5 776,225.7"/>
<polyline points="76.4,394.6 95.3,389.1 114.2,386.9 133.1,380.1 152,376.8 170.9,370.5 189.8,358.2 208.8,347.5 227.7,336.6 246.6,326.7 265.5,317.7 284.4,310.1 303.3,306.1 322.2,302.3 341.1,296.4 360,291.6 378.9,287.6 397.8,282.8 416.7,275.2 435.7,267.8 454.6,260.5 473.5,251.2 492.4,244.7 511.3,232.6 530.2,226.9 549.1,232.1 568,224.9 586.9,223.8 605.8,222.2 624.7,214.2 643.6,203.8 662.6,194.7 681.5,188.1 700.4,183.7 719.3,183.2 738.2,187.2 757.1,194.2 776,203"/>
<polyline points="76.4,392.7 95.3,383.8 114.2,375.9 133.1,367.8 152,361.6 170.9,358.2 189.8,354.3 208.8,348.4 227.7,341.1 246.6,337.8 265.5,336.6 284.4,331.4 303.3,327.6 322.2,323.1 341.1,314 360,308.2 378.9,304 397.8,299.6 416.7,295.6 435.7,293 454.6,292.1 473.5,294.6 492.4,300 511.3,301.6 530.2,302.4 549.1,303 568,282 586.9,264.7 605.8,250.4 624.7,225.4 643.6,202.6 662.6,188.2 681.5,172.6 700.4,161.1 719.3,156.2 738.2,153.7 757.1,153.4 776,153.6"/>
<polyline points="76.4,415.1 95.3,420.8 114.2,416.1 133.1,398.8 152,387.4 170.9,380.8 189.8,373.6 208.8,365.1 227.7,355.6 246.6,348.9 265.5,344 284.4,337.9 303.3,334.5 322.2,331.1 341.1,328 360,327.1 378.9,327.3 397.8,322.8 416.7,317.4 435.7,313.2 454.6,312.4 473.5,307.7 492.4,297.1 511.3,293.7 530.2,296.9 549.1,300.6 568,324.4 586.9,360.2 605.8,324.6 624.7,273.3 643.6,251.4 662.6,236.2 681.5,226.4 700.4,215.2 719.3,199.3 738.2,184.6 757.1,174.7 776,167.4"/>
<polyline points="76.4,505.9 95.3,443.9 114.2,408.4 133.1,392.8 152,386 170.9,385.8 189.8,386.7 208.8,385.8 227.7,378 246.6,369.4 265.5,361.1 284.4,352.7 303.3,342.1 322.2,330.2 341.1,317.4 360,306.9 378.9,294.9 397.8,282.1 416.7,270.5 435.7,258 454.6,250.1 473.5,244.6 492.4,236.8 511.3,229.6 530.2,230.7 549.1,233.8 568,236 586.9,234.1 605.8,228 624.7,225 643.6,215.2 662.6,210.7 681.5,207.4 700.4,198.8 719.3,193.2 738.2,191.2 757.1,184.4 776,176.7"/>
<polyline points="76.4,510.5 95.3,488.1 114.2,446 133.1,410.5 152,396.4 170.9,393.5 189.8,391.7 208.8,386.3 227.7,378 246.6,368.1 265.5,354.7 284.4,343.3 303.3,338.2 322.2,334.3 341.1,325 360,313.9 378.9,308 397.8,303.2 416.7,294.9 435.7,283.8 454.6,278.7 473.5,274.9 492.4,270.5 511.3,259.8 530.2,251.1 549.1,250.2 568,245.6 586.9,225.8 605.8,203.3 624.7,189.8 643.6,173.4 662.6,163 681.5,155 700.4,147.8 719.3,142.3 738.2,142.9 757.1,148.9 776,157.7"/>
<polyline points="76.4,727.5 95.3,598.1 114.2,485.9 133.1,417.2 152,392.7 170.9,381.1 189.8,368 208.8,353.5 227.7,341.1 246.6,332.2 265.5,325.1 284.4,319.1 303.3,317 322.2,320 341.1,321.7 360,321.5 378.9,320 397.8,318 416.7,315 435.7,317.9 454.6,323.8 473.5,328.6 492.4,337.7 511.3,348.9 530.2,358.8 549.1,363.3 568,360.4 586.9,378.1 605.8,394 624.7,354.4 643.6,276.4 662.6,228.6 681.5,205 700.4,187.4 719.3,171.4 738.2,155.6 757.1,141.6 776,128.2"/>
<polyline points="76.4,331.5 95.3,328.5 114.2,326.5 133.1,325.4 152,324.3 170.9,327.9 189.8,328.5 208.8,322 227.7,311.7 246.6,301.4 265.5,292.5 284.4,287 303.3,281.1 322.2,276.1 341.1,272.7 360,271.2 378.9,270.4 397.8,268.8 416.7,266.2 435.7,263.3 454.6,268 473.5,276.9 492.4,283.5 511.3,299.3 530.2,313 549.1,302.5 568,278.1 586.9,263.5 605.8,246.8 624.7,228.4 643.6,220.2 662.6,213.3 681.5,207 700.4,205.3 719.3,207.2 738.2,203.4 757.1,197.1 776,191.1"/>
<polyline points="76.4,403.6 95.3,396.4 114.2,389.6 133.1,384.7 152,381 170.9,375.1 189.8,366.1 208.8,355.1 227.7,341.4 246.6,325.9 265.5,311.1 284.4,299.4 303.3,287.5 322.2,277.3 341.1,269.8 360,263.6 378.9,258.9 397.8,254.2 416.7,247.1 435.7,241.6 454.6,238.2 473.5,238.1 492.4,239.9 511.3,251.3 530.2,271.6 549.1,275.5 568,273.9 586.9,278.1 605.8,264.4 624.7,243.9 643.6,217.5 662.6,195.2 681.5,174.3 700.4,152.7 719.3,130.6 738.2,111.8 757.1,100 776,92.3"/>
<polyline points="76.4,525.7 95.3,478.8 114.2,435.4 133.1,406.8 152,393.9 170.9,389.1 189.8,382 208.8,371.9 227.7,358.2 246.6,343.4 265.5,328.7 284.4,316.7 303.3,308.8 322.2,303.4 341.1,297.4 360,290.5 378.9,286.2 397.8,281.9 416.7,274.7 435.7,266.4 454.6,261.1 473.5,257.4 492.4,255.4 511.3,249.2 530.2,239.4 549.1,237.1 568,225.6 586.9,207.2 605.8,181.2 624.7,164.7 643.6,157.7 662.6,152.6 681.5,147.7 700.4,143 719.3,136.8 738.2,135.3 757.1,136.1 776,136.4"/>
<polyline points="76.4,358 95.3,356.6 114.2,355.4 133.1,353 152,353.5 170.9,353.3 189.8,345.9 208.8,335.8 227.7,323 246.6,309.4 265.5,294.6 284.4,283 303.3,274.9 322.2,267.1 341.1,260.2 360,251.6 378.9,248.5 397.8,247.8 416.7,241.9 435.7,239.8 454.6,242.1 473.5,242.5 492.4,247.3 511.3,254.2 530.2,262 549.1,260.8 568,250 586.9,240.9 605.8,226.3 624.7,214.1 643.6,202.5 662.6,194.5 681.5,192.4 700.4,188.9 719.3,183.5 738.2,180.9 757.1,175.7 776,169.4"/>
<polyline points="76.4,386.8 95.3,408.9 114.2,415.8 133.1,398.6 152,390.8 170.9,388.9 189.8,385.1 208.8,381.5 227.7,376.1 246.6,371.8 265.5,366.5 284.4,362.4 303.3,354.7 322.2,343 341.1,330.6 360,318.3 378.9,304.4 397.8,289.1 416.7,273.5 435.7,259.2 454.6,252.6 473.5,249.1 492.4,249.3 511.3,259.5 530.2,277.5 549.1,288.3 568,290.5 586.9,307.9 605.8,307.3 624.7,291.8 643.6,280.5 662.6,267 681.5,254.6 700.4,243.1 719.3,236.6 738.2,228.6 757.1,215.9 776,202.1"/>
<polyline points="76.4,367.7 95.3,361.7 114.2,363.9 133.1,367 152,368.7 170.9,371.5 189.8,366.2 208.8,357.3 227.7,347.3 246.6,336.6 265.5,320.3 284.4,307.6 303.3,303 322.2,297.5 341.1,288.6 360,280.7 378.9,275 397.8,271.4 416.7,265.5 435.7,259.6 454.6,259.7 473.5,259.6 492.4,256 511.3,245.1 530.2,231 549.1,218 568,198.3 586.9,175.8 605.8,153.6 624.7,148.6 643.6,150.5 662.6,154.3 681.5,160.2 700.4,164.2 719.3,166 738.2,172.2 757.1,179.3 776,187.6"/>
<polyline points="76.4,399.3 95.3,384.1 114.2,372.8 133.1,366.7 152,362.6 170.9,354.7 189.8,343.9 208.8,336.2 227.7,326.9 246.6,314.2 265.5,302.7 284.4,294.2 303.3,288.4 322.2,283.1 341.1,281.3 360,281.6 378.9,279.1 397.8,271.7 416.7,262.4 435.7,256.2 454.6,248.6 473.5,235.9 492.4,225 511.3,218.2 530.2,210.2 549.1,193.8 568,178.7 586.9,174.4 605.8,175.4 624.7,176.6 643.6,176.3 662.6,174.6 681.5,171.8 700.4,169 719.3,164.1 738.2,162.4 757.1,164.1 776,170.6"/>
<polyline points="76.4,388.2 95.3,381.3 114.2,378.3 133.1,380.2 152,382 170.9,378.8 189.8,372.9 208.8,366.4 227.7,360.9 246.6,355.6 265.5,346.1 284.4,339.4 303.3,336 322.2,332 341.1,321.1 360,308.2 378.9,299 397.8,291.4 416.7,284.4 435.7,278.2 454.6,273.5 473.5,271.9 492.4,268.2 511.3,264.6 530.2,266.5 549.1,253.5 568,234.7 586.9,223.3 605.8,217.7 624.7,219.6 643.6,211.1 662.6,204.5 681.5,198.4 700.4,194.3 719.3,191.6 738.2,182.7 757.1,171.4 776,162.4"/>
<polyline points="76.4,447.8 95.3,397.5 114.2,380.2 133.1,377.8 152,374.9 170.9,368.4 189.8,360.8 208.8,353.8 227.7,349.1 246.6,344.1 265.5,334.9 284.4,331.9 303.3,333.8 322.2,332.1 341.1,326.8 360,320 378.9,317.1 397.8,314.3 416.7,308.3 435.7,305.2 454.6,305.2 473.5,300.3 492.4,292.5 511.3,289.1 530.2,300.7 549.1,304.8 568,287.4 586.9,273.7 605.8,265.1 624.7,244.8 643.6,235.3 662.6,235.3 681.5,233.2 700.4,231.2 719.3,231.8 738.2,230.2 757.1,225.7 776,220"/>
<polyline points="76.4,380.9 95.3,378.4 114.2,379.1 133.1,376.3 152,373.3 170.9,368.1 189.8,355.3 208.8,343.3 227.7,327.1 246.6,309.8 265.5,296.5 284.4,288.8 303.3,284.2 322.2,282 341.1,281 360,279 378.9,277.9 397.8,273.3 416.7,268.8 435.7,266.6 454.6,264.9 473.5,262.7 492.4,258.9 511.3,254 530.2,254.6 549.1,255.3 568,245.3 586.9,225.3 605.8,207.6 624.7,198.3 643.6,194 662.6,182.6 681.5,172.9 700.4,169.5 719.3,167.2 738.2,166.9 757.1,167.8 776,168.4"/>
<polyline points="76.4,500.7 95.3,447.3 114.2,416.3 133.1,397.2 152,389.1 170.9,388.3 189.8,388.9 208.8,388.8 227.7,384.4 246.6,377.3 265.5,371 284.4,364.3 303.3,356.8 322.2,348.1 341.1,338.4 360,329.1 378.9,320.8 397.8,314.1 416.7,310.6 435.7,306.3 454.6,300.3 473.5,297.8 492.4,296.2 511.3,295.3 530.2,283.3 549.1,265.2 568,239.2 586.9,206.7 605.8,183.4 624.7,156.1 643.6,134.4 662.6,124.8 681.5,115.2 700.4,104.3 719.3,92.3 738.2,85 757.1,83.4 776,87.4"/>
<polyline points="76.4,352 95.3,359.1 114.2,367.2 133.1,374 152,378.9 170.9,380.6 189.8,380.7 208.8,381.7 227.7,383.5 246.6,383.3 265.5,380.4 284.4,378.6 303.3,377.2 322.2,371.2 341.1,360.6 360,349.9 378.9,336.3 397.8,320.8 416.7,307.7 435.7,294.7 454.6,282.1 473.5,270.1 492.4,256.9 511.3,240.4 530.2,221.7 549.1,204.8 568,191.5 586.9,186.3 605.8,184.9 624.7,189.7 643.6,190.4 662.6,190 681.5,190.7 700.4,190.8 719.3,189.7 738.2,188.1 757.1,186.5 776,183.1"/>
<polyline points="76.4,428.8 95.3,428.9 114.2,426.8 133.1,411.7 152,402.6 170.9,406.3 189.8,412.5 208.8,413 227.7,404.6 246.6,391.1 265.5,377.3 284.4,363.4 303.3,346.4 322.2,326.2 341.1,304.6 360,282.1 378.9,260.7 397.8,242.6 416.7,227.4 435.7,215.1 454.6,212.4 473.5,212.4 492.4,218.6 511.3,231.7 530.2,245.9 549.1,256.9 568,264.8 586.9,270.9 605.8,254.5 624.7,238.9 643.6,231.8 662.6,222.6 681.5,218.6 700.4,215.8 719.3,210.4 738.2,199.1 757.1,185 776,171.6"/>
<polyline points="76.4,491.6 95.3,461.7 114.2,435.1 133.1,407 152,391.8 170.9,386 189.8,382.1 208.8,379.9 227.7,372.1 246.6,365.4 265.5,360.4 284.4,356.8 303.3,352.8 322.2,348.3 341.1,343.7 360,340.3 378.9,337 397.8,332.8 416.7,331.4 435.7,325.3 454.6,315.6 473.5,309.4 492.4,303.8 511.3,296.3 530.2,284.3 549.1,274.2 568,271.7 586.9,270.9 605.8,266 624.7,249.9 643.6,227.1 662.6,209.4 681.5,197 700.4,184.9 719.3,173.7 738.2,165.4 757.1,158.7 776,154.9"/>
<polyline points="76.4,363.4 95.3,361.5 114.2,360.2 133.1,358.2 152,354.1 170.9,349.3 189.8,342.5 208.8,334.6 227.7,328.6 246.6,322 265.5,311.2 284.4,301.1 303.3,295.8 322.2,288.3 341.1,279.2 360,273.9 378.9,269.9 397.8,265.8 416.7,261.1 435.7,254.7 454.6,251.1 473.5,250.7 492.4,249.6 511.3,243.7 530.2,241.3 549.1,229.4 568,218.8 586.9,207 605.8,197.2 624.7,200.4 643.6,199.2 662.6,193.2 681.5,191 700.4,192.6 719.3,193.1 738.2,193.4 757.1,201.3 776,212.6"/>
<polyline points="76.4,379.7 95.3,379.5 114.2,376.7 133.1,372.5 152,369.6 170.9,365.5 189.8,357.8 208.8,351 227.7,341 246.6,328.3 265.5,314.2 284.4,302.7 303.3,293.3 322.2,283.3 341.1,271 360,258.5 378.9,247.3 397.8,236.9 416.7,225.4 435.7,215.6 454.6,211.3 473.5,210.5 492.4,210.3 511.3,224.4 530.2,245.1 549.1,250.5 568,244.3 586.9,251.1 605.8,249.8 624.7,232.9 643.6,218 662.6,209.5 681.5,199.1 700.4,187.6 719.3,174.3 738.2,162.8 757.1,151.2 776,142.5"/>
<polyline points="76.4,411.6 95.3,381.7 114.2,373.7 133.1,370.4 152,368.8 170.9,365.4 189.8,357.5 208.8,347.6 227.7,334.2 246.6,321 265.5,310.8 284.4,305.6 303.3,302.4 322.2,297.9 341.1,296.6 360,295.9 378.9,292.2 397.8,289.5 416.7,287.9 435.7,281.3 454.6,273.5 473.5,270.3 492.4,264 511.3,252 530.2,249.5 549.1,233.8 568,218.1 586.9,218.4 605.8,217.2 624.7,209.7 643.6,205.6 662.6,204.1 681.5,201.5 700.4,201.4 719.3,204 738.2,203.1 757.1,201.8 776,199"/>
<polyline points="76.4,508.3 95.3,473.6 114.2,432.4 133.1,401 152,389.8 170.9,385.2 189.8,377.6 208.8,369.7 227.7,359.5 246.6,351.5 265.5,343.8 284.4,337.6 303.3,333.2 322.2,328.3 341.1,322.5 360,319.2 378.9,318.2 397.8,319.1 416.7,322.5 435.7,327.9 454.6,337.5 473.5,353.4 492.4,369.1 511.3,385.1 530.2,402.5 549.1,406.2 568,395.7 586.9,375 605.8,343.3 624.7,296.5 643.6,253.6 662.6,223.2 681.5,194 700.4,169.8 719.3,151.8 738.2,136.1 757.1,125.3 776,118.9"/>
<polyline points="76.4,656.2 95.3,585.5 114.2,496.4 133.1,427.1 152,402.6 170.9,395.9 189.8,385.3 208.8,370.4 227.7,353.2 246.6,333.4 265.5,314.8 284.4,299.6 303.3,289.5 322.2,281.4 341.1,273 360,268.6 378.9,272.2 397.8,275.2 416.7,277 435.7,284.5 454.6,294.3 473.5,308.2 492.4,316.4 511.3,318.6 530.2,312.6 549.1,297.3 568,286.3 586.9,259.6 605.8,221.9 624.7,192 643.6,170.6 662.6,163.8 681.5,159.3 700.4,154 719.3,152.5 738.2,157.6 757.1,164.7 776,171.1"/>
<polyline points="76.4,393.4 95.3,393.5 114.2,400.3 133.1,398.1 152,392.1 170.9,391.5 189.8,390.5 208.8,385.9 227.7,372.8 246.6,356.5 265.5,337.5 284.4,319.4 303.3,303.1 322.2,289.2 341.1,278.1 360,271 378.9,266.3 397.8,260.1 416.7,250.2 435.7,248.7 454.6,257.3 473.5,262.8 492.4,264.7 511.3,270.7 530.2,278.1 549.1,286.9 568,289.1 586.9,272 605.8,249.9 624.7,237.3 643.6,225.6 662.6,211 681.5,197.9 700.4,188.6 719.3,183.8 738.2,180.8 757.1,179 776,182"/>
<polyline points="76.4,511.6 95.3,473.5 114.2,442.3 133.1,410.2 152,395.2 170.9,392.9 189.8,392.2 208.8,388.4 227.7,381.9 246.6,374.2 265.5,363 284.4,354 303.3,347.5 322.2,337.8 341.1,325.2 360,313.5 378.9,302.2 397.8,291.4 416.7,282.1 435.7,272.7 454.6,262.1 473.5,248.4 492.4,231.7 511.3,221.3 530.2,210.2 549.1,189.8 568,172.2 586.9,162.1 605.8,154.8 624.7,148.3 643.6,152.1 662.6,156.3 681.5,155.4 700.4,152.5 719.3,145.9 738.2,139.6 757.1,136 776,132.1"/>
<polyline points="76.4,389.7 95.3,369 114.2,359.2 133.1,352.9 152,347.8 170.9,343.8 189.8,338.3 208.8,332.5 227.7,326.6 246.6,321 265.5,312.7 284.4,307.5 303.3,305.4 322.2,303.2 341.1,301.4 360,296.3 378.9,289.8 397.8,286 416.7,283 435.7,279.1 454.6,279.1 473.5,280.1 492.4,280.9 511.3,289.7 530.2,294.7 549.1,287.8 568,279.3 586.9,260.9 605.8,242.4 624.7,224.5 643.6,207 662.6,199.7 681.5,201 700.4,203.1 719.3,203.6 738.2,207 757.1,212.5 776,216.2"/>
<polyline points="76.4,439.8 95.3,424.6 114.2,405.1 133.1,393.7 152,391.7 170.9,392.3 189.8,389.3 208.8,383.5 227.7,372.6 246.6,359.1 265.5,343.6 284.4,329.9 303.3,316.2 322.2,299.1 341.1,281.5 360,270.1 378.9,263.8 397.8,257.6 416.7,253 435.7,251.4 454.6,248.3 473.5,240.5 492.4,232.5 511.3,230.9 530.2,224.5 549.1,212.6 568,192.9 586.9,179.6 605.8,179.8 624.7,179.8 643.6,181.9 662.6,182.5 681.5,178.7 700.4,174.8 719.3,168.5 738.2,165.1 757.1,162.1 776,160.5"/>
<polyline points="76.4,350.6 95.3,352.2 114.2,356.7 133.1,360.8 152,362.4 170.9,364.5 189.8,362.7 208.8,357.4 227.7,351.1 246.6,343.7 265.5,332.2 284.4,321.1 303.3,315.2 322.2,310.8 341.1,305.4 360,301.3 378.9,298.6 397.8,297.2 416.7,297.2 435.7,299.8 454.6,305 473.5,307.2 492.4,311.8 511.3,315.4 530.2,317 549.1,319 568,309 586.9,293.2 605.8,275.4 624.7,250 643.6,220.1 662.6,191.3 681.5,177.4 700.4,167.1 719.3,154.6 738.2,145.9 757.1,143.9 776,148.2"/>
<polyline points="76.4,637.7 95.3,552.8 114.2,484.7 133.1,422.6 152,396.2 170.9,387 189.8,375.6 208.8,360 227.7,344.3 246.6,331 265.5,319.3 284.4,309.8 303.3,305.2 322.2,300.3 341.1,295.9 360,290.9 378.9,285.4 397.8,282.6 416.7,276.6 435.7,265.1 454.6,257.7 473.5,259.6 492.4,256.3 511.3,246.3 530.2,242.9 549.1,242.2 568,232.3 586.9,205.8 605.8,187.8 624.7,182.4 643.6,175.8 662.6,167.9 681.5,157.8 700.4,145.9 719.3,141.2 738.2,140.1 757.1,137 776,133.9"/>
<polyline points="76.4,404.9 95.3,390.8 114.2,382.9 133.1,381 152,381.2 170.9,378 189.8,371.8 208.8,365.4 227.7,355.7 246.6,346.1 265.5,337.9 284.4,332 303.3,327.7 322.2,321.2 341.1,311.1 360,301.3 378.9,293.7 397.8,286.6 416.7,279.6 435.7,272.7 454.6,272.2 473.5,277.9 492.4,282.3 511.3,278 530.2,276.5 549.1,275 568,264.8 586.9,245.5 605.8,225.1 624.7,211 643.6,197.7 662.6,186.3 681.5,178.6 700.4,174.4 719.3,172.4 738.2,175.8 757.1,181.7 776,187.9"/>
<polyline points="76.4,602.8 95.3,511.6 114.2,442.7 133.1,399.4 152,387.9 170.9,386.3 189.8,380.7 208.8,372.3 227.7,360.8 246.6,352.3 265.5,345.9 284.4,338.2 303.3,330.5 322.2,323.7 341.1,316.5 360,312.9 378.9,311 397.8,306.7 416.7,300.9 435.7,294.8 454.6,292.4 473.5,290.5 492.4,280.9 511.3,262.3 530.2,235.3 549.1,213.9 568,190.3 586.9,179.4 605.8,177.2 624.7,171.9 643.6,168.9 662.6,173.2 681.5,177.5 700.4,180.4 719.3,184.4 738.2,189.3 757.1,194.7 776,199.9"/>
<polyline points="76.4,380.6 95.3,379.8 114.2,377.4 133.1,378.4 152,373.7 170.9,363.8 189.8,354.5 208.8,341.9 227.7,325.2 246.6,311.7 265.5,302.2 284.4,298.2 303.3,298.8 322.2,298.8 341.1,295.3 360,290 378.9,285.5 397.8,280.4 416.7,272 435.7,264 454.6,258.5 473.5,255.1 492.4,262.9 511.3,281.3 530.2,302 549.1,320.8 568,325.8 586.9,326.4 605.8,322.4 624.7,304.5 643.6,279 662.6,259.4 681.5,250 700.4,243.5 719.3,241.6 738.2,239.3 757.1,235 776,229.4"/>
<polyline points="76.4,355.5 95.3,360.3 114.2,365.4 133.1,368.1 152,366.5 170.9,362.8 189.8,355.9 208.8,351.8 227.7,346.4 246.6,338.6 265.5,331.2 284.4,326.3 303.3,327.1 322.2,328.3 341.1,326.1 360,321.2 378.9,318.4 397.8,316.3 416.7,315.6 435.7,319.4 454.6,333 473.5,348.4 492.4,355.9 511.3,362.1 530.2,364 549.1,349 568,316.1 586.9,275.5 605.8,236.8 624.7,204.1 643.6,177.5 662.6,162.5 681.5,152.3 700.4,145.6 719.3,139.9 738.2,143.6 757.1,150.1 776,159.6"/>
<polyline points="76.4,426.1 95.3,409.9 114.2,391.3 133.1,385.3 152,382.1 170.9,379 189.8,375.2 208.8,371.2 227.7,364.8 246.6,357.2 265.5,349.8 284.4,345.7 303.3,343.1 322.2,335.6 341.1,326.5 360,316.9 378.9,306.2 397.8,298.3 416.7,293.4 435.7,288.8 454.6,291.7 473.5,299.5 492.4,306.6 511.3,309.2 530.2,313 549.1,303.5 568,284.9 586.9,268.7 605.8,249.2 624.7,230.6 643.6,215.9 662.6,203 681.5,196.5 700.4,195.7 719.3,195.7 738.2,197.6 757.1,198.9 776,199.3"/>
<polyline points="76.4,389.5 95.3,377.9 114.2,369.2 133.1,359.8 152,351.1 170.9,346.5 189.8,342.1 208.8,338.1 227.7,333.5 246.6,330 265.5,328.8 284.4,328.1 303.3,328.7 322.2,328.8 341.1,327.7 360,324 378.9,320.5 397.8,316.4 416.7,314.9 435.7,313.3 454.6,307.9 473.5,304.4 492.4,302.7 511.3,305.5 530.2,300.3 549.1,286.4 568,284.2 586.9,295.1 605.8,299.8 624.7,265.7 643.6,229.5 662.6,216.2 681.5,208.7 700.4,199.5 719.3,194.2 738.2,191.8 757.1,188.7 776,185.4"/>
<polyline points="76.4,438.3 95.3,418.1 114.2,408.6 133.1,392.6 152,385 170.9,382 189.8,379.2 208.8,374.8 227.7,368.3 246.6,363.5 265.5,359.6 284.4,353.9 303.3,347 322.2,337.2 341.1,326 360,316 378.9,304.5 397.8,293.6 416.7,282.7 435.7,273.9 454.6,268.7 473.5,263.5 492.4,257.5 511.3,251.6 530.2,247.3 549.1,235.3 568,217.3 586.9,200 605.8,190.4 624.7,192.9 643.6,191.1 662.6,187.5 681.5,190.1 700.4,196.5 719.3,204.8 738.2,214.9 757.1,224.7 776,230.4"/>
<polyline points="76.4,396.5 95.3,385.7 114.2,380.8 133.1,377.3 152,374.1 170.9,374.1 189.8,368.4 208.8,362.5 227.7,355.3 246.6,349.2 265.5,345.6 284.4,343.2 303.3,343.1 322.2,341.3 341.1,335.2 360,328.4 378.9,320.8 397.8,314.7 416.7,308.9 435.7,305 454.6,303.6 473.5,302.8 492.4,302.8 511.3,307.4 530.2,302.2 549.1,298 568,304.3 586.9,305 605.8,283.6 624.7,260.3 643.6,234.8 662.6,212.5 681.5,192.6 700.4,171.9 719.3,148.6 738.2,128.2 757.1,113.3 776,103.3"/>
<polyline points="76.4,459.5 95.3,441.7 114.2,423.3 133.1,402.4 152,390.4 170.9,385.6 189.8,377.8 208.8,368.3 227.7,357.1 246.6,344.1 265.5,332.2 284.4,322.4 303.3,314.1 322.2,309.2 341.1,303.1 360,297.4 378.9,292.8 397.8,287.8 416.7,283.2 435.7,278.4 454.6,277.1 473.5,275.4 492.4,272.9 511.3,264.2 530.2,253.7 549.1,255.7 568,248.7 586.9,229.6 605.8,214.9 624.7,196.5 643.6,177 662.6,168.1 681.5,162.2 700.4,154.8 719.3,148.6 738.2,146.2 757.1,145.8 776,148.2"/>
<polyline points="76.4,355.6 95.3,352 114.2,349 133.1,344.2 152,341.7 170.9,342.5 189.8,338.9 208.8,330 227.7,316.9 246.6,308.5 265.5,305.9 284.4,303.5 303.3,300.9 322.2,298.3 341.1,295.6 360,295.3 378.9,291.4 397.8,280.9 416.7,271 435.7,270 454.6,269.5 473.5,269.1 492.4,261.4 511.3,250.9 530.2,261.2 549.1,262.9 568,258.5 586.9,253.1 605.8,245.5 624.7,245.7 643.6,236 662.6,230.3 681.5,225.1 700.4,222.5 719.3,227.7 738.2,233.2 757.1,231 776,228.3"/>
<polyline points="76.4,359.8 95.3,359.5 114.2,357.8 133.1,357.7 152,359.8 170.9,359.7 189.8,356.3 208.8,350.5 227.7,340.9 246.6,331.7 265.5,323.3 284.4,315.8 303.3,311.6 322.2,307.3 341.1,303.5 360,299.6 378.9,296.3 397.8,291.5 416.7,284.7 435.7,275 454.6,266.6 473.5,260.9 492.4,251.7 511.3,240.9 530.2,236.7 549.1,246.8 568,279.5 586.9,272.3 605.8,207.9 624.7,190.3 643.6,194.3 662.6,190.7 681.5,179 700.4,166.9 719.3,153.6 738.2,138 757.1,124.8 776,114"/>
<polyline points="76.4,387.7 95.3,371.1 114.2,361.7 133.1,358.4 152,357.7 170.9,358.6 189.8,356.6 208.8,354.6 227.7,349.9 246.6,343 265.5,336.4 284.4,327.7 303.3,318 322.2,311.1 341.1,300.7 360,292.4 378.9,288.7 397.8,284.7 416.7,278.6 435.7,273.5 454.6,273.5 473.5,271.8 492.4,267 511.3,258.6 530.2,240.4 549.1,226.2 568,234.1 586.9,231.1 605.8,217.5 624.7,206 643.6,199.3 662.6,202.4 681.5,208.4 700.4,213.4 719.3,220.8 738.2,231.8 757.1,238.3 776,241.4"/>
<polyline points="76.4,365.4 95.3,358.6 114.2,356.4 133.1,357.8 152,357.5 170.9,354.9 189.8,350.5 208.8,347.4 227.7,340.6 246.6,332.5 265.5,327.6 284.4,328.3 303.3,327.9 322.2,324.5 341.1,321.3 360,320.6 378.9,318.5 397.8,310 416.7,298.7 435.7,288.8 454.6,283.7 473.5,279.9 492.4,278.1 511.3,279.1 530.2,281.9 549.1,275.9 568,261.8 586.9,236.9 605.8,208.1 624.7,189.5 643.6,167.4 662.6,155 681.5,145.8 700.4,133.3 719.3,119.7 738.2,112.1 757.1,101.2 776,87.3"/>
<polyline points="76.4,357.4 95.3,359.4 114.2,359.4 133.1,358.5 152,356.4 170.9,354.5 189.8,350 208.8,345.8 227.7,337.7 246.6,330.5 265.5,325.8 284.4,322.9 303.3,319.5 322.2,316.8 341.1,312.9 360,307.5 378.9,303.5 397.8,302.5 416.7,304.7 435.7,310.8 454.6,315.2 473.5,315.5 492.4,313.2 511.3,308.6 530.2,302.7 549.1,294.3 568,269.9 586.9,234.3 605.8,213.6 624.7,190.3 643.6,166.4 662.6,151 681.5,139.1 700.4,125.9 719.3,110.9 738.2,101.8 757.1,99.5 776,99.8"/>
<polyline points="76.4,342.3 95.3,348.5 114.2,348.1 133.1,348.7 152,349.3 170.9,348.8 189.8,345.6 208.8,336.6 227.7,327.4 246.6,318.3 265.5,310.2 284.4,304.1 303.3,295.6 322.2,290.7 341.1,286.3 360,275.2 378.9,263.7 397.8,255.2 416.7,243.9 435.7,232.5 454.6,223.8 473.5,212.8 492.4,205.2 511.3,203 530.2,196.5 549.1,179.1 568,170.6 586.9,172.1 605.8,172.2 624.7,170.9 643.6,167.6 662.6,167.8 681.5,169.6 700.4,170.4 719.3,167.7 738.2,164.3 757.1,161.4 776,161.6"/>
<polyline points="76.4,281 95.3,301.2 114.2,312 133.1,323.4 152,335.7 170.9,349 189.8,358.2 208.8,362.1 227.7,360.1 246.6,353.4 265.5,341.1 284.4,327 303.3,313.2 322.2,292.7 341.1,269.5 360,252.4 378.9,239 397.8,228.1 416.7,219.7 435.7,215.4 454.6,212.5 473.5,218.3 492.4,234.8 511.3,263 530.2,288.6 549.1,283.5 568,276.1 586.9,271.8 605.8,245.4 624.7,216.6 643.6,186.5 662.6,167.8 681.5,155.8 700.4,146.9 719.3,132.4 738.2,126.6 757.1,130.4 776,134.7"/>
<polyline points="76.4,466.3 95.3,448.9 114.2,414.1 133.1,398 152,390.2 170.9,387.1 189.8,381.7 208.8,373.3 227.7,362.8 246.6,347.5 265.5,332.8 284.4,325.1 303.3,318.5 322.2,309 341.1,303.7 360,299.5 378.9,295 397.8,290.5 416.7,292.2 435.7,295.2 454.6,301 473.5,303.7 492.4,296 511.3,279.8 530.2,263.9 549.1,248.3 568,244.3 586.9,269.9 605.8,262.3 624.7,193 643.6,148.6 662.6,139.6 681.5,135.7 700.4,138 719.3,137.1 738.2,135.4 757.1,139.1 776,146.3"/>
<polyline points="76.4,355.9 95.3,351 114.2,346.5 133.1,343.5 152,341.7 170.9,342.5 189.8,342.9 208.8,340.3 227.7,334.4 246.6,331.2 265.5,329.6 284.4,329.3 303.3,326.8 322.2,321.9 341.1,315 360,305.1 378.9,293.6 397.8,280.4 416.7,262.3 435.7,242.5 454.6,226 473.5,209.8 492.4,199.5 511.3,193.7 530.2,183.2 549.1,166.7 568,169.5 586.9,192.1 605.8,196.4 624.7,195.2 643.6,197.3 662.6,196.1 681.5,193.6 700.4,192 719.3,184.8 738.2,174.1 757.1,164.6 776,157.5"/>
<polyline points="76.4,352.3 95.3,347.8 114.2,341.6 133.1,335 152,328.7 170.9,326.9 189.8,323.3 208.8,316.6 227.7,308.3 246.6,301.8 265.5,298.4 284.4,299.1 303.3,301.3 322.2,308.1 341.1,311 360,309.7 378.9,310 397.8,313.7 416.7,317.1 435.7,319.3 454.6,326.2 473.5,340.4 492.4,354 511.3,362 530.2,361.3 549.1,356.3 568,360.5 586.9,359.8 605.8,339.3 624.7,311.6 643.6,286.3 662.6,262 681.5,248.2 700.4,241.2 719.3,234.3 738.2,226.8 757.1,220 776,214.9"/>
<polyline points="76.4,344 95.3,352.2 114.2,350.4 133.1,345 152,342.7 170.9,342.8 189.8,336.8 208.8,326.7 227.7,315.2 246.6,306.6 265.5,300.7 284.4,295.3 303.3,293.2 322.2,290.6 341.1,287.9 360,284.8 378.9,280 397.8,270.3 416.7,259.5 435.7,249.7 454.6,237.5 473.5,224.8 492.4,210.7 511.3,197.6 530.2,196.7 549.1,200.4 568,212.2 586.9,223.5 605.8,220.5 624.7,212.5 643.6,206.9 662.6,202 681.5,195.9 700.4,187.2 719.3,179.9 738.2,178 757.1,179.1 776,182.2"/>
<polyline points="76.4,382.3 95.3,373.5 114.2,368.8 133.1,365.1 152,360 170.9,352.2 189.8,341.9 208.8,333.2 227.7,322.4 246.6,312.7 265.5,304.9 284.4,299 303.3,295.6 322.2,292.8 341.1,290 360,284.4 378.9,278 397.8,277.3 416.7,279.3 435.7,284.6 454.6,295.5 473.5,311.1 492.4,327.6 511.3,340.3 530.2,357.1 549.1,360.8 568,346.7 586.9,336.3 605.8,304.3 624.7,264.6 643.6,232.9 662.6,209.3 681.5,193.4 700.4,180.9 719.3,167.3 738.2,155.5 757.1,145.2 776,140.9"/>
<polyline points="76.4,546.7 95.3,443.5 114.2,393.9 133.1,376.5 152,362.6 170.9,352.2 189.8,347.5 208.8,344.7 227.7,340.7 246.6,339.4 265.5,336.6 284.4,335.5 303.3,336.5 322.2,332 341.1,327.6 360,322 378.9,315.4 397.8,309.1 416.7,302 435.7,296.1 454.6,294.1 473.5,296.2 492.4,299.5 511.3,304.6 530.2,309 549.1,310.6 568,299 586.9,286 605.8,267.8 624.7,249.3 643.6,235.2 662.6,222.8 681.5,218.2 700.4,222.9 719.3,229.6 738.2,239.9 757.1,249.7 776,257.3"/>
<polyline points="76.4,370.3 95.3,358.2 114.2,347.1 133.1,337.2 152,330.3 170.9,332.4 189.8,337.1 208.8,334.1 227.7,327.6 246.6,323.3 265.5,319 284.4,315.1 303.3,313.9 322.2,314.3 341.1,313.3 360,313.1 378.9,312.2 397.8,308 416.7,301.3 435.7,292.4 454.6,283.1 473.5,273 492.4,262.6 511.3,256.3 530.2,243.4 549.1,220.4 568,205.6 586.9,190.8 605.8,173.3 624.7,161.9 643.6,157.8 662.6,154.7 681.5,147.3 700.4,136.6 719.3,130.6 738.2,130.9 757.1,133.7 776,138.3"/>
<polyline points="76.4,345.3 95.3,349.9 114.2,355.6 133.1,351.1 152,347.9 170.9,347.9 189.8,342.5 208.8,340.9 227.7,336.1 246.6,324.6 265.5,320.8 284.4,318.6 303.3,316.5 322.2,316.2 341.1,312.8 360,313.7 378.9,314.2 397.8,315.2 416.7,321.3 435.7,327.4 454.6,328.5 473.5,339.6 492.4,357.7 511.3,373.5 530.2,385.9 549.1,380.4 568,344.2 586.9,304.8 605.8,263.1 624.7,224.6 643.6,181.8 662.6,161.7 681.5,147.4 700.4,127.6 719.3,107.9 738.2,96.5 757.1,89 776,84.1"/>
<polyline points="76.4,516.6 95.3,476.8 114.2,433.3 133.1,398.5 152,383.6 170.9,374.3 189.8,360.5 208.8,344.2 227.7,324.2 246.6,305.2 265.5,288.5 284.4,278.1 303.3,274 322.2,270.1 341.1,266.6 360,268.7 378.9,274 397.8,277.7 416.7,282.6 435.7,291.6 454.6,307.7 473.5,320.4 492.4,327.8 511.3,337.8 530.2,350.7 549.1,363.2 568,366 586.9,352.9 605.8,328.8 624.7,312.6 643.6,291 662.6,270.2 681.5,257.6 700.4,250.7 719.3,244.5 738.2,230.5 757.1,215.4 776,202"/>
<polyline points="76.4,546.1 95.3,460.5 114.2,413.7 133.1,393.1 152,387.8 170.9,387.5 189.8,386.2 208.8,380.7 227.7,373.7 246.6,367.8 265.5,357.8 284.4,350.3 303.3,344.5 322.2,335.2 341.1,324.2 360,315.4 378.9,308.4 397.8,302 416.7,300 435.7,305 454.6,316.1 473.5,332.1 492.4,342.9 511.3,343.2 530.2,344.5 549.1,335.6 568,313.1 586.9,285.7 605.8,257.8 624.7,230.2 643.6,207.7 662.6,192.4 681.5,183.3 700.4,178.8 719.3,177.5 738.2,179.5 757.1,180.4 776,184.6"/>
<polyline points="76.4,577.1 95.3,521.2 114.2,469.7 133.1,424.2 152,403.8 170.9,401.3 189.8,398.6 208.8,392.6 227.7,383.9 246.6,375.5 265.5,366.3 284.4,359.4 303.3,355.3 322.2,349.1 341.1,339.4 360,327.1 378.9,313.2 397.8,299.9 416.7,285.9 435.7,271.3 454.6,257 473.5,247.1 492.4,244.5 511.3,244.9 530.2,241.1 549.1,235.2 568,228.2 586.9,220 605.8,209.1 624.7,196.8 643.6,186.6 662.6,186 681.5,185.7 700.4,184.8 719.3,179.7 738.2,175.3 757.1,176 776,181.5"/>
<polyline points="76.4,521.5 95.3,439.1 114.2,395.5 133.1,379.1 152,369.6 170.9,359.4 189.8,348.3 208.8,334.8 227.7,323.8 246.6,319.9 265.5,315.8 284.4,313.4 303.3,319.5 322.2,325.3 341.1,324.9 360,325.8 378.9,324.8 397.8,322.3 416.7,321.9 435.7,320 454.6,318.6 473.5,320.9 492.4,316.9 511.3,313.8 530.2,322.2 549.1,320.4 568,311.7 586.9,295.6 605.8,278.1 624.7,257.8 643.6,234.1 662.6,214.2 681.5,200.2 700.4,188.4 719.3,175 738.2,166.8 757.1,163 776,161"/>
<polyline points="76.4,425.7 95.3,419.2 114.2,401.6 133.1,388 152,381.9 170.9,379 189.8,375.6 208.8,371.2 227.7,366.2 246.6,359.8 265.5,351.8 284.4,345.2 303.3,336.9 322.2,327.3 341.1,316.3 360,308.6 378.9,302.1 397.8,295.7 416.7,290.4 435.7,288.1 454.6,285.2 473.5,280.8 492.4,280.9 511.3,285.7 530.2,288.5 549.1,275.7 568,262.6 586.9,263.1 605.8,256.8 624.7,247.5 643.6,238 662.6,229 681.5,224.8 700.4,223.6 719.3,228.4 738.2,232.1 757.1,233.7 776,234.3"/>
<polyline points="76.4,614.9 95.3,521.9 114.2,443.4 133.1,397.8 152,384.2 170.9,375.8 189.8,362.7 208.8,352 227.7,341.8 246.6,332.6 265.5,323.8 284.4,315.2 303.3,307.7 322.2,301.7 341.1,294.7 360,288.3 378.9,284.8 397.8,277.9 416.7,266.9 435.7,258.5 454.6,249.6 473.5,238.4 492.4,228 511.3,212.2 530.2,208 549.1,210.1 568,182.5 586.9,153.3 605.8,146.8 624.7,136.4 643.6,131 662.6,140.2 681.5,146.1 700.4,145 719.3,141.2 738.2,147.2 757.1,153.9 776,159"/>
<polyline points="76.4,376.4 95.3,371.2 114.2,362.9 133.1,357.8 152,355.1 170.9,349.5 189.8,342.2 208.8,334.6 227.7,326.7 246.6,318.9 265.5,310 284.4,303 303.3,300 322.2,296.9 341.1,290.8 360,285.2 378.9,280.8 397.8,272.7 416.7,265.2 435.7,258.9 454.6,255.3 473.5,250.9 492.4,246.6 511.3,240.2 530.2,225.9 549.1,205.1 568,171.5 586.9,140.2 605.8,115.8 624.7,97.3 643.6,86 662.6,89.2 681.5,94.6 700.4,95.6 719.3,92.5 738.2,98.4 757.1,106.9 776,118.2"/>
<polyline points="76.4,380.4 95.3,372.5 114.2,369.3 133.1,372.2 152,373.7 170.9,373.6 189.8,365.9 208.8,357.7 227.7,351.8 246.6,345.5 265.5,338.6 284.4,335.8 303.3,332.7 322.2,329.5 341.1,328.8 360,324.8 378.9,318.9 397.8,315.9 416.7,316.5 435.7,319.1 454.6,319.2 473.5,312.8 492.4,302.6 511.3,289.1 530.2,279.8 549.1,263.9 568,234.5 586.9,224.1 605.8,221.7 624.7,210.1 643.6,197.3 662.6,192.5 681.5,193 700.4,194.9 719.3,196.6 738.2,197 757.1,194.8 776,190.7"/>
<polyline points="76.4,344.3 95.3,345.5 114.2,349.8 133.1,350.9 152,351.6 170.9,352.7 189.8,349 208.8,345.5 227.7,341.6 246.6,335.6 265.5,329.3 284.4,323.1 303.3,319.4 322.2,316 341.1,308.6 360,302.2 378.9,297.6 397.8,293.7 416.7,289.6 435.7,285.4 454.6,286.1 473.5,293.9 492.4,306.4 511.3,319.7 530.2,332.2 549.1,332.8 568,314.6 586.9,309.1 605.8,299.2 624.7,260.6 643.6,227.5 662.6,203 681.5,184.6 700.4,166.9 719.3,149.3 738.2,136.2 757.1,126.2 776,119.8"/>
<polyline points="76.4,454.3 95.3,425.6 114.2,404.5 133.1,389.1 152,384.7 170.9,383.4 189.8,374.8 208.8,362.2 227.7,351 246.6,339.7 265.5,327.5 284.4,311 303.3,301 322.2,289.8 341.1,277.5 360,266.2 378.9,254.5 397.8,242.9 416.7,224.6 435.7,204.4 454.6,194.7 473.5,193.6 492.4,185.1 511.3,173.6 530.2,183.5 549.1,204.7 568,210.2 586.9,205.9 605.8,190.8 624.7,183.8 643.6,173.2 662.6,163 681.5,148.3 700.4,131.3 719.3,120.4 738.2,115.5 757.1,109.5 776,107.6"/>
<polyline points="76.4,695.4 95.3,564.2 114.2,464.9 133.1,412 152,391.4 170.9,379.6 189.8,365.1 208.8,351.9 227.7,337.2 246.6,321.8 265.5,309.3 284.4,301.4 303.3,295.4 322.2,289.6 341.1,282.8 360,278.1 378.9,272 397.8,264.8 416.7,258.9 435.7,257.6 454.6,258.7 473.5,263.5 492.4,268.7 511.3,273.3 530.2,289.2 549.1,305.4 568,297.9 586.9,283.9 605.8,277.9 624.7,265.1 643.6,244.5 662.6,226.6 681.5,212 700.4,198 719.3,183.2 738.2,166 757.1,150.5 776,136.9"/>
<polyline points="76.4,362.6 95.3,362.2 114.2,363.3 133.1,364 152,362.9 170.9,358.4 189.8,352.4 208.8,345.7 227.7,336.9 246.6,331.5 265.5,323.7 284.4,315.2 303.3,310 322.2,304 341.1,292.5 360,284.2 378.9,279.8 397.8,272.8 416.7,265.5 435.7,266.2 454.6,272.3 473.5,279.8 492.4,289.8 511.3,297.5 530.2,307.5 549.1,316.2 568,305.8 586.9,300.2 605.8,285.9 624.7,253.7 643.6,226.1 662.6,204.9 681.5,187.5 700.4,169.4 719.3,152 738.2,139.1 757.1,132 776,133.5"/>
<polyline points="76.4,390.6 95.3,380.3 114.2,373.5 133.1,368.8 152,366.1 170.9,361.2 189.8,355.4 208.8,346.5 227.7,332.6 246.6,320.1 265.5,306.6 284.4,297.8 303.3,293.3 322.2,288.1 341.1,285.5 360,283.9 378.9,280.7 397.8,275.1 416.7,267.7 435.7,262.5 454.6,262.1 473.5,267.3 492.4,270 511.3,268.1 530.2,261.6 549.1,246.9 568,224.9 586.9,217.6 605.8,215 624.7,212 643.6,202.6 662.6,195.2 681.5,187.6 700.4,182.8 719.3,179.9 738.2,179 757.1,179.4 776,179.5"/>
<polyline points="76.4,371 95.3,370.6 114.2,372.4 133.1,374.2 152,369.5 170.9,361.7 189.8,352.2 208.8,342.2 227.7,332.4 246.6,323.8 265.5,318.2 284.4,313.6 303.3,309.9 322.2,303.6 341.1,297.2 360,294.6 378.9,293.1 397.8,291 416.7,291.9 435.7,295.2 454.6,300.3 473.5,299.9 492.4,296.7 511.3,301.4 530.2,293.3 549.1,254.2 568,224.8 586.9,191.6 605.8,170.4 624.7,162.1 643.6,157.1 662.6,156.5 681.5,155 700.4,151.1 719.3,145.6 738.2,138.9 757.1,135.4 776,135.4"/>
<polyline points="76.4,396.8 95.3,386.6 114.2,385.9 133.1,383.6 152,380.7 170.9,380 189.8,377.9 208.8,376.1 227.7,369.3 246.6,361 265.5,349.5 284.4,332.1 303.3,314 322.2,299 341.1,285.4 360,269.9 378.9,256.8 397.8,247.1 416.7,235.8 435.7,228.6 454.6,225.6 473.5,227.6 492.4,227.3 511.3,229.4 530.2,238.1 549.1,239.2 568,225.6 586.9,211.8 605.8,209.5 624.7,209 643.6,207.3 662.6,208.5 681.5,213.8 700.4,219.6 719.3,224.3 738.2,223.8 757.1,222.3 776,222.1"/>
<polyline points="76.4,351 95.3,347.2 114.2,347.4 133.1,347.4 152,350.5 170.9,353.9 189.8,352.4 208.8,346.9 227.7,338.3 246.6,328.6 265.5,316.2 284.4,308 303.3,305.4 322.2,300.7 341.1,294.4 360,289.3 378.9,286 397.8,281.2 416.7,274.1 435.7,270.4 454.6,267 473.5,259.7 492.4,250.6 511.3,248.6 530.2,256.6 549.1,252 568,244.3 586.9,240.4 605.8,227.7 624.7,210.7 643.6,196.4 662.6,188.8 681.5,178.2 700.4,167.8 719.3,158.9 738.2,149.6 757.1,143.6 776,143.6"/>
<polyline points="76.4,366.4 95.3,362.2 114.2,359.1 133.1,359.3 152,362.2 170.9,361.9 189.8,359.2 208.8,353.8 227.7,343.7 246.6,335.1 265.5,326.6 284.4,319.8 303.3,317 322.2,314.9 341.1,308.8 360,303.4 378.9,299.5 397.8,293.5 416.7,286.3 435.7,278.3 454.6,276.4 473.5,282.5 492.4,284.5 511.3,277.2 530.2,275.5 549.1,269 568,249.5 586.9,247.7 605.8,246.9 624.7,237 643.6,219.7 662.6,206.5 681.5,201.2 700.4,202.8 719.3,207 738.2,212.1 757.1,217.8 776,222.6"/>
<polyline points="76.4,481.9 95.3,438.3 114.2,415.9 133.1,394.9 152,385.2 170.9,378.9 189.8,367.7 208.8,356.7 227.7,346.2 246.6,337.8 265.5,333.1 284.4,330.6 303.3,326.6 322.2,320.4 341.1,312.9 360,308.2 378.9,304.5 397.8,299.5 416.7,293.2 435.7,288.6 454.6,290.1 473.5,289.5 492.4,285.3 511.3,282.2 530.2,285.1 549.1,280.1 568,270 586.9,258.6 605.8,231.7 624.7,203.8 643.6,182.8 662.6,169.7 681.5,163.7 700.4,157.1 719.3,152.4 738.2,152.7 757.1,157.9 776,166.5"/>
<polyline points="76.4,556.2 95.3,481 114.2,425.9 133.1,395.4 152,385.1 170.9,380.7 189.8,373.1 208.8,364.9 227.7,353.5 246.6,344.8 265.5,339.3 284.4,334.1 303.3,330.9 322.2,326.7 341.1,318.7 360,310.5 378.9,302.7 397.8,293.1 416.7,283.2 435.7,277.2 454.6,272.9 473.5,263.4 492.4,253.7 511.3,243.8 530.2,230.9 549.1,211 568,188 586.9,172.4 605.8,165.1 624.7,156.1 643.6,151.8 662.6,149.2 681.5,147.5 700.4,147.3 719.3,144.3 738.2,144.3 757.1,146.5 776,149.4"/>
<polyline points="76.4,512 95.3,471.1 114.2,428 133.1,395.4 152,381.8 170.9,373.4 189.8,360.2 208.8,344.7 227.7,329.4 246.6,315.6 265.5,304 284.4,298 303.3,296.3 322.2,293.5 341.1,287.5 360,284.2 378.9,283.4 397.8,277.8 416.7,272.6 435.7,263.9 454.6,257.1 473.5,254.4 492.4,248.4 511.3,252.3 530.2,266.6 549.1,256.8 568,243.5 586.9,245.4 605.8,239 624.7,224.7 643.6,211.4 662.6,206.6 681.5,206.6 700.4,207.1 719.3,208.1 738.2,207.9 757.1,207.7 776,204.9"/>
<polyline points="76.4,534 95.3,500.8 114.2,452.2 133.1,411.6 152,395 170.9,389.1 189.8,382.5 208.8,373.8 227.7,364.8 246.6,357 265.5,348.6 284.4,340.9 303.3,335.2 322.2,330.4 341.1,325.7 360,319.3 378.9,311.8 397.8,303.6 416.7,296.5 435.7,289.1 454.6,285.9 473.5,291.6 492.4,299.4 511.3,308.2 530.2,311.4 549.1,301.5 568,297.2 586.9,294.4 605.8,287.1 624.7,275.6 643.6,252.4 662.6,230.3 681.5,218.9 700.4,209.5 719.3,199.4 738.2,190.6 757.1,182.6 776,177.4"/>
<polyline points="76.4,382 95.3,377.2 114.2,374 133.1,370.8 152,365.9 170.9,357 189.8,345.8 208.8,333.1 227.7,311.8 246.6,289.1 265.5,270 284.4,252 303.3,239.5 322.2,234.7 341.1,233.4 360,235.1 378.9,239.2 397.8,244.7 416.7,249 435.7,252.9 454.6,255.5 473.5,256.7 492.4,261.8 511.3,264.4 530.2,262.1 549.1,249.5 568,229.7 586.9,203.4 605.8,177.8 624.7,157.2 643.6,138.8 662.6,129 681.5,122.7 700.4,117.9 719.3,108.5 738.2,108.5 757.1,118.2 776,131.1"/>
<polyline points="76.4,848.9 95.3,643.8 114.2,497.6 133.1,416.2 152,390.1 170.9,377.4 189.8,360.9 208.8,339.4 227.7,314 246.6,295.6 265.5,279.2 284.4,267.3 303.3,262.6 322.2,266.7 341.1,270.2 360,273 378.9,281.9 397.8,283.4 416.7,277.3 435.7,271.5 454.6,264.1 473.5,257.1 492.4,245.7 511.3,231.1 530.2,227.3 549.1,215.3 568,205.9 586.9,220.9 605.8,232.6 624.7,225.8 643.6,208 662.6,199.3 681.5,195.7 700.4,184.5 719.3,171.3 738.2,162.3 757.1,152.9 776,150.7"/>
<polyline points="76.4,366.1 95.3,362.1 114.2,359.7 133.1,353 152,346.6 170.9,340.9 189.8,333.3 208.8,326.1 227.7,314.6 246.6,304.6 265.5,296.9 284.4,289.8 303.3,284.4 322.2,282 341.1,278.7 360,273.2 378.9,267.2 397.8,264.9 416.7,261.2 435.7,255.6 454.6,256.6 473.5,267 492.4,280.3 511.3,290.9 530.2,305.6 549.1,320.2 568,326.7 586.9,314.5 605.8,283.5 624.7,249.4 643.6,225.4 662.6,208.3 681.5,193.7 700.4,178 719.3,165.2 738.2,158.3 757.1,155.2 776,156.3"/>
<polyline points="76.4,450.3 95.3,431.3 114.2,405.5 133.1,387.2 152,379.8 170.9,371.1 189.8,361 208.8,352 227.7,340.8 246.6,332.5 265.5,327.7 284.4,326.8 303.3,328.2 322.2,326.9 341.1,322 360,319.3 378.9,315.8 397.8,309.9 416.7,303 435.7,296.8 454.6,293.4 473.5,290.2 492.4,290.8 511.3,292.3 530.2,295.6 549.1,299.8 568,287.8 586.9,263.3 605.8,229.8 624.7,196.1 643.6,175.5 662.6,164 681.5,152.9 700.4,140.8 719.3,126.7 738.2,117 757.1,113.2 776,115.2"/>
<polyline points="76.4,354.1 95.3,360.1 114.2,364.6 133.1,369.9 152,374 170.9,374.9 189.8,369.9 208.8,362.2 227.7,351.7 246.6,337 265.5,322.7 284.4,310.2 303.3,297.4 322.2,285.1 341.1,274 360,263.8 378.9,259 397.8,256 416.7,250 435.7,246.4 454.6,248.6 473.5,248.8 492.4,250.5 511.3,256.5 530.2,260.1 549.1,257.5 568,248.4 586.9,239.8 605.8,229.1 624.7,217.7 643.6,206.4 662.6,196.3 681.5,193.3 700.4,190.5 719.3,191.2 738.2,193.1 757.1,194.2 776,194.9"/>
<polyline points="76.4,404.2 95.3,382.2 114.2,366.6 133.1,352.2 152,340.1 170.9,330.2 189.8,320.1 208.8,308.4 227.7,295.9 246.6,288.4 265.5,284.7 284.4,283.2 303.3,283.6 322.2,283.5 341.1,283.6 360,284.8 378.9,284.6 397.8,282.6 416.7,278.5 435.7,276.1 454.6,276.3 473.5,274.3 492.4,268.5 511.3,261.5 530.2,257.7 549.1,246.5 568,240.4 586.9,228.3 605.8,209.5 624.7,198.2 643.6,180.5 662.6,168.7 681.5,159.8 700.4,146.3 719.3,129.6 738.2,114.4 757.1,102.4 776,90"/>
<polyline points="76.4,384.4 95.3,385.7 114.2,389.2 133.1,386.7 152,382.8 170.9,379.6 189.8,373.6 208.8,364.6 227.7,351.4 246.6,341.8 265.5,331.9 284.4,320.3 303.3,313.4 322.2,307.6 341.1,297.6 360,288.8 378.9,282.4 397.8,272.9 416.7,263.5 435.7,256.3 454.6,252.2 473.5,245.2 492.4,235.8 511.3,216.7 530.2,194.2 549.1,187.4 568,169.7 586.9,153.1 605.8,158.5 624.7,161.9 643.6,162.1 662.6,166.2 681.5,168.6 700.4,164.7 719.3,155.2 738.2,146.7 757.1,140.4 776,135.2"/>
<polyline points="76.4,412.7 95.3,405.7 114.2,421.2 133.1,415.4 152,401.6 170.9,400.5 189.8,402.4 208.8,401.7 227.7,393.9 246.6,382.9 265.5,369.1 284.4,358.5 303.3,354.5 322.2,347.4 341.1,339.1 360,338.1 378.9,332.2 397.8,320.7 416.7,309.5 435.7,295 454.6,280.1 473.5,265.8 492.4,257.1 511.3,261.3 530.2,263.5 549.1,242.7 568,248.5 586.9,306.7 605.8,367.3 624.7,321.6 643.6,247.6 662.6,228.5 681.5,228.6 700.4,229.3 719.3,226.1 738.2,213.9 757.1,202.7 776,188.8"/>
<polyline points="76.4,380.8 95.3,376.4 114.2,377.2 133.1,382.2 152,384.3 170.9,384.4 189.8,382.5 208.8,376.9 227.7,366.3 246.6,353.8 265.5,340.9 284.4,328.6 303.3,319.4 322.2,310.9 341.1,302.2 360,294.8 378.9,289.5 397.8,286.1 416.7,281.8 435.7,270.6 454.6,260.3 473.5,253.8 492.4,248.4 511.3,246.3 530.2,234.4 549.1,232.2 568,243.6 586.9,247 605.8,248.9 624.7,248.2 643.6,238.5 662.6,225.5 681.5,216.8 700.4,209.7 719.3,207.5 738.2,200 757.1,185.9 776,169.6"/>
<polyline points="76.4,344.1 95.3,347.9 114.2,350.8 133.1,355 152,359.2 170.9,361.2 189.8,359.6 208.8,357.9 227.7,350.5 246.6,341.6 265.5,335.1 284.4,329.1 303.3,323.5 322.2,319 341.1,311.4 360,303.7 378.9,296.4 397.8,289.7 416.7,282.8 435.7,278 454.6,277.3 473.5,277.5 492.4,277.2 511.3,277.7 530.2,267.8 549.1,246.5 568,227.5 586.9,204.6 605.8,182.9 624.7,167.5 643.6,153.5 662.6,145.4 681.5,142.3 700.4,141.1 719.3,135.2 738.2,126 757.1,119 776,112.1"/>
<polyline points="76.4,322.6 95.3,333.3 114.2,338.3 133.1,339.1 152,338.1 170.9,340.9 189.8,340.8 208.8,336.8 227.7,330.5 246.6,321.8 265.5,311 284.4,303.2 303.3,298.1 322.2,292.7 341.1,285.9 360,281.5 378.9,281.9 397.8,283.8 416.7,286.8 435.7,289.9 454.6,295.6 473.5,303.8 492.4,309.7 511.3,307.8 530.2,301.9 549.1,289.2 568,287.3 586.9,294 605.8,307.1 624.7,300.1 643.6,253.8 662.6,226.7 681.5,222.8 700.4,220.5 719.3,221.1 738.2,216.2 757.1,204.9 776,189.4"/>
<polyline points="76.4,351 95.3,354.4 114.2,362.5 133.1,372.7 152,381.8 170.9,384.7 189.8,385.4 208.8,386.3 227.7,383.1 246.6,375.8 265.5,366.3 284.4,356.8 303.3,347.5 322.2,335.5 341.1,321 360,310.3 378.9,302.4 397.8,293.7 416.7,285 435.7,276.5 454.6,268 473.5,259.6 492.4,252.3 511.3,247 530.2,234.2 549.1,218.7 568,184.8 586.9,125.2 605.8,113.2 624.7,150.9 643.6,166 662.6,164.1 681.5,159.4 700.4,155.9 719.3,151.9 738.2,144.2 757.1,138 776,134.4"/>
<polyline points="76.4,388.9 95.3,381.3 114.2,373.5 133.1,366.1 152,359 170.9,353.8 189.8,348.8 208.8,341.8 227.7,333.7 246.6,327.5 265.5,321.1 284.4,316 303.3,313.7 322.2,309.3 341.1,301.3 360,293.9 378.9,285.5 397.8,278.6 416.7,274.3 435.7,271.9 454.6,271.2 473.5,274.9 492.4,280.7 511.3,288.7 530.2,301.2 549.1,304.4 568,296.1 586.9,284.9 605.8,271.1 624.7,248.7 643.6,224.1 662.6,203 681.5,187.2 700.4,174 719.3,164.4 738.2,160.2 757.1,157.9 776,156.5"/>
<polyline points="76.4,368.4 95.3,365.9 114.2,363.1 133.1,359.1 152,356.5 170.9,357.2 189.8,353.7 208.8,347.6 227.7,338.5 246.6,329.6 265.5,321.1 284.4,314.7 303.3,310 322.2,306 341.1,302 360,299.3 378.9,297.2 397.8,297.6 416.7,294.1 435.7,292.3 454.6,297 473.5,301.7 492.4,304.7 511.3,301.7 530.2,296 549.1,279 568,225.6 586.9,154.2 605.8,158 624.7,174.1 643.6,168.2 662.6,162.8 681.5,154.7 700.4,145.9 719.3,144.4 738.2,147.8 757.1,147.5 776,145.4"/>
<polyline points="76.4,398.9 95.3,386.7 114.2,379.3 133.1,376.5 152,369.5 170.9,360.8 189.8,354.4 208.8,348.6 227.7,339.8 246.6,333.3 265.5,332.8 284.4,331.6 303.3,331.1 322.2,327.5 341.1,318.9 360,307.6 378.9,295.2 397.8,286.2 416.7,277.9 435.7,268.8 454.6,266.7 473.5,272.5 492.4,292.1 511.3,314.1 530.2,320.4 549.1,320.3 568,333 586.9,322.6 605.8,278.6 624.7,238.5 643.6,198.9 662.6,170.7 681.5,151.9 700.4,135.1 719.3,116.4 738.2,106.9 757.1,103.7 776,99.3"/>
<polyline points="76.4,366.9 95.3,360.8 114.2,359.6 133.1,360.7 152,362.4 170.9,366.3 189.8,366.4 208.8,365.9 227.7,366 246.6,365.1 265.5,362.9 284.4,358.6 303.3,354.3 322.2,349.4 341.1,344.5 360,338.3 378.9,331.5 397.8,325.5 416.7,319 435.7,313.3 454.6,311 473.5,305.5 492.4,294.2 511.3,278.1 530.2,274.3 549.1,268.1 568,248.5 586.9,233.4 605.8,217.4 624.7,205.2 643.6,199.1 662.6,192.5 681.5,183.7 700.4,172.3 719.3,163.3 738.2,158.2 757.1,152.2 776,145"/>
<polyline points="76.4,392.4 95.3,416.3 114.2,425.1 133.1,409.8 152,399 170.9,399.4 189.8,400.8 208.8,395.8 227.7,382.1 246.6,368.4 265.5,351.9 284.4,335.4 303.3,323.3 322.2,315.9 341.1,305.7 360,292.1 378.9,282.8 397.8,273.6 416.7,264.4 435.7,259.9 454.6,256.7 473.5,253.5 492.4,252 511.3,256.7 530.2,261.8 549.1,269.1 568,277.4 586.9,286.6 605.8,303.1 624.7,316.6 643.6,281.9 662.6,231 681.5,207.1 700.4,195.5 719.3,186.8 738.2,178.8 757.1,171.8 776,165.8"/>
<polyline points="76.4,380.8 95.3,375.4 114.2,370.3 133.1,364.5 152,361.1 170.9,356.5 189.8,347 208.8,335.2 227.7,320.1 246.6,308.6 265.5,299.3 284.4,293 303.3,292.1 322.2,297.3 341.1,303.2 360,303.4 378.9,302.8 397.8,303.5 416.7,303.2 435.7,301.5 454.6,298.3 473.5,293.6 492.4,288.8 511.3,279.8 530.2,275.2 549.1,264.6 568,262.5 586.9,246.8 605.8,240.2 624.7,239.7 643.6,233.1 662.6,230.9 681.5,231.6 700.4,233.5 719.3,237.8 738.2,233.1 757.1,220 776,205.9"/>
<polyline points="76.4,389.2 95.3,378.3 114.2,375.2 133.1,374.6 152,372.3 170.9,369.8 189.8,363.5 208.8,355 227.7,341.2 246.6,325.1 265.5,312.1 284.4,302.8 303.3,292.3 322.2,281.4 341.1,272.2 360,263.9 378.9,254.7 397.8,241.2 416.7,227.6 435.7,213.5 454.6,206 473.5,204.6 492.4,199.7 511.3,196.2 530.2,197.1 549.1,199.7 568,203.2 586.9,201.5 605.8,195.6 624.7,195.2 643.6,200.3 662.6,198.4 681.5,193.9 700.4,189.8 719.3,183.7 738.2,173.5 757.1,154.6 776,134.7"/>
<polyline points="76.4,381.4 95.3,371.6 114.2,365.5 133.1,358 152,355.8 170.9,356.8 189.8,348.7 208.8,337.3 227.7,327.8 246.6,318.3 265.5,307.1 284.4,297.4 303.3,290.6 322.2,283.8 341.1,276.1 360,268.8 378.9,263.8 397.8,258.5 416.7,253 435.7,254.1 454.6,257.5 473.5,255.9 492.4,254.9 511.3,254.3 530.2,255.4 549.1,251.6 568,248.3 586.9,238.6 605.8,232.5 624.7,219.6 643.6,210.8 662.6,209.5 681.5,202.5 700.4,194.6 719.3,188.4 738.2,181.9 757.1,175.1 776,169.1"/>
<polyline points="76.4,396.8 95.3,385.4 114.2,379 133.1,375.8 152,374.2 170.9,372.6 189.8,365.7 208.8,358.1 227.7,349 246.6,340.9 265.5,333.2 284.4,328.6 303.3,323.6 322.2,317.7 341.1,313 360,307.9 378.9,301.8 397.8,293.8 416.7,286.4 435.7,283.7 454.6,282.6 473.5,278.7 492.4,276.9 511.3,275.2 530.2,274.2 549.1,266.8 568,259.7 586.9,243 605.8,222.1 624.7,207.5 643.6,197.6 662.6,189.8 681.5,188.1 700.4,190.1 719.3,192.5 738.2,194.7 757.1,195.1 776,192.7"/>
<polyline points="76.4,362 95.3,360.6 114.2,357.8 133.1,352.9 152,347.4 170.9,340.4 189.8,332.4 208.8,323.6 227.7,314.2 246.6,305.8 265.5,299.3 284.4,296.3 303.3,293.7 322.2,292.5 341.1,290.2 360,284.2 378.9,277.1 397.8,272.2 416.7,266.2 435.7,259.2 454.6,258.4 473.5,263 492.4,270.1 511.3,267.8 530.2,260.4 549.1,260.5 568,256.2 586.9,237.3 605.8,215.4 624.7,192.9 643.6,167.5 662.6,156.7 681.5,149.3 700.4,139.4 719.3,127.6 738.2,121.9 757.1,121.2 776,126.8"/>
<polyline points="76.4,384.3 95.3,364.6 114.2,355.5 133.1,347.4 152,339.7 170.9,333.9 189.8,329.1 208.8,322.7 227.7,311.9 246.6,301.8 265.5,293.7 284.4,289.3 303.3,287.4 322.2,284.5 341.1,279.7 360,276.3 378.9,274.6 397.8,271.6 416.7,266.1 435.7,263.8 454.6,267.4 473.5,272.9 492.4,279.3 511.3,290.6 530.2,303.5 549.1,315.3 568,316.1 586.9,290.4 605.8,265 624.7,234.8 643.6,203.6 662.6,184.7 681.5,169 700.4,154.8 719.3,140.3 738.2,124 757.1,108.8 776,97.7"/>
<polyline points="76.4,399 95.3,385.9 114.2,380 133.1,381.8 152,382.6 170.9,380.9 189.8,375.3 208.8,370.6 227.7,365.7 246.6,361.6 265.5,358.4 284.4,352.3 303.3,346.1 322.2,340.1 341.1,329.6 360,315.7 378.9,300.3 397.8,286.3 416.7,269 435.7,251.7 454.6,241.7 473.5,238.5 492.4,239 511.3,241.3 530.2,241.7 549.1,237.8 568,234 586.9,236.1 605.8,233.6 624.7,220.7 643.6,204 662.6,191.8 681.5,184.8 700.4,175.9 719.3,169.5 738.2,170.8 757.1,171.7 776,170.3"/>
<polyline points="76.4,358.7 95.3,352.9 114.2,346.7 133.1,338.4 152,332.1 170.9,331.3 189.8,330.5 208.8,324.6 227.7,316.1 246.6,310.1 265.5,306 284.4,305.5 303.3,305.2 322.2,305.5 341.1,304.7 360,303.3 378.9,301.5 397.8,298.6 416.7,296 435.7,292.4 454.6,288.4 473.5,284.4 492.4,280.3 511.3,282.9 530.2,282.1 549.1,273.7 568,255.9 586.9,257 605.8,278 624.7,294.8 643.6,240.2 662.6,186.8 681.5,168.4 700.4,161.6 719.3,159.9 738.2,160.2 757.1,160.7 776,163.7"/>
<polyline points="76.4,410.7 95.3,396.7 114.2,386.8 133.1,378.1 152,372.2 170.9,366.3 189.8,359.4 208.8,352.2 227.7,343.6 246.6,333.9 265.5,324.4 284.4,317.3 303.3,311.6 322.2,308.1 341.1,304.1 360,298.1 378.9,292.6 397.8,287.4 416.7,278.3 435.7,265.5 454.6,252.9 473.5,239.2 492.4,226.5 511.3,212.6 530.2,191.5 549.1,172.9 568,151.7 586.9,137.2 605.8,130.6 624.7,123 643.6,127.3 662.6,143.3 681.5,153.9 700.4,161.4 719.3,169.7 738.2,182.4 757.1,193 776,197.1"/>
<polyline points="76.4,474 95.3,424.8 114.2,394.2 133.1,380.6 152,374.1 170.9,366.3 189.8,355.1 208.8,341.9 227.7,329.3 246.6,322.4 265.5,318.6 284.4,318.4 303.3,320.8 322.2,322.4 341.1,320.5 360,315.9 378.9,312.5 397.8,306 416.7,293 435.7,279.8 454.6,268.5 473.5,253.2 492.4,233.3 511.3,214.6 530.2,205.2 549.1,195.1 568,175.4 586.9,167.4 605.8,163.6 624.7,163.9 643.6,168.9 662.6,171.7 681.5,168.5 700.4,164 719.3,159.3 738.2,158.5 757.1,159.3 776,161.7"/>
<polyline points="76.4,371.8 95.3,362.8 114.2,361.3 133.1,362.7 152,365.9 170.9,363.3 189.8,354.3 208.8,344.3 227.7,334.3 246.6,323.4 265.5,311.6 284.4,303.4 303.3,304.7 322.2,304.5 341.1,298.2 360,296.1 378.9,292.9 397.8,284.4 416.7,271.8 435.7,260.9 454.6,252.9 473.5,243.3 492.4,232.6 511.3,225.4 530.2,218.9 549.1,207.6 568,209.3 586.9,208.6 605.8,208.1 624.7,208.2 643.6,199.4 662.6,194.2 681.5,191.5 700.4,188 719.3,185.2 738.2,185.5 757.1,186.6 776,185.4"/>
<polyline points="76.4,593.9 95.3,511.6 114.2,442.8 133.1,401.4 152,387.1 170.9,380.3 189.8,368.9 208.8,356.3 227.7,344.8 246.6,335.8 265.5,324.9 284.4,315.4 303.3,309.9 322.2,302.8 341.1,292.5 360,280.5 378.9,267.3 397.8,253.2 416.7,238.4 435.7,218.2 454.6,197.6 473.5,181.4 492.4,166.1 511.3,162.5 530.2,180.4 549.1,180.2 568,163.2 586.9,177.1 605.8,191.4 624.7,188.7 643.6,187.4 662.6,184.4 681.5,175 700.4,165.8 719.3,158.4 738.2,150.1 757.1,140.8 776,130.7"/>
<polyline points="76.4,552.8 95.3,491 114.2,433.6 133.1,398.8 152,384.7 170.9,374.2 189.8,357.7 208.8,341.3 227.7,322 246.6,308.1 265.5,300.7 284.4,294.3 303.3,291.5 322.2,291.2 341.1,291.6 360,292.5 378.9,292.3 397.8,291.4 416.7,291.2 435.7,291 454.6,292.6 473.5,292.2 492.4,286.8 511.3,274.9 530.2,267.4 549.1,263.6 568,263 586.9,260.8 605.8,251.2 624.7,229 643.6,213.4 662.6,200.9 681.5,191.7 700.4,184.8 719.3,180 738.2,179.5 757.1,182 776,187"/>
<polyline points="76.4,390.4 95.3,377.9 114.2,373.8 133.1,371 152,366 170.9,364.6 189.8,363.5 208.8,355.2 227.7,342.4 246.6,334.3 265.5,329.6 284.4,321 303.3,318.4 322.2,322.7 341.1,323.3 360,319.4 378.9,317.4 397.8,317.1 416.7,314.5 435.7,310.6 454.6,306.2 473.5,299.7 492.4,295.1 511.3,288.4 530.2,285.5 549.1,274.3 568,267.5 586.9,269.8 605.8,275.4 624.7,270.6 643.6,262.5 662.6,251.3 681.5,249.9 700.4,256 719.3,268.9 738.2,275.3 757.1,269.9 776,257.5"/>
<polyline points="76.4,368.8 95.3,361.7 114.2,357.3 133.1,354.3 152,351.5 170.9,350 189.8,346.9 208.8,342.1 227.7,333.3 246.6,323.5 265.5,313.4 284.4,304.1 303.3,297.8 322.2,294 341.1,291.1 360,289.4 378.9,287.6 397.8,286.2 416.7,284.6 435.7,283.4 454.6,283.6 473.5,284 492.4,280.4 511.3,277.8 530.2,285.1 549.1,288.4 568,300.7 586.9,325.6 605.8,311.5 624.7,252.4 643.6,221.3 662.6,209.1 681.5,198.1 700.4,188.7 719.3,181.7 738.2,179.5 757.1,180.2 776,181.5"/>
<polyline points="76.4,430.1 95.3,413 114.2,392.5 133.1,381.4 152,377.7 170.9,370.1 189.8,359.4 208.8,351.3 227.7,342.3 246.6,333.3 265.5,324 284.4,316.8 303.3,314.9 322.2,313.7 341.1,309.6 360,304.3 378.9,299 397.8,294.1 416.7,286.8 435.7,277.6 454.6,272.7 473.5,274.5 492.4,275.8 511.3,270.7 530.2,269.3 549.1,270 568,268.9 586.9,275.2 605.8,279.2 624.7,259.7 643.6,236 662.6,217.7 681.5,203.8 700.4,190.6 719.3,174.5 738.2,162.1 757.1,152.6 776,146.5"/>
<polyline points="76.4,335 95.3,344.1 114.2,350.5 133.1,355.3 152,359.6 170.9,364.8 189.8,360.1 208.8,349.4 227.7,333.2 246.6,316.2 265.5,302.4 284.4,292.1 303.3,285.4 322.2,281.7 341.1,276 360,272 378.9,272 397.8,273.2 416.7,272 435.7,268.9 454.6,269.6 473.5,273.8 492.4,279.4 511.3,288.6 530.2,297.8 549.1,307.5 568,315.4 586.9,310.1 605.8,290.3 624.7,269.1 643.6,251.9 662.6,239.1 681.5,229.5 700.4,219.5 719.3,212.2 738.2,211.2 757.1,212.9 776,215.1"/>
<polyline points="76.4,620.6 95.3,502.9 114.2,428.8 133.1,396.3 152,385.8 170.9,379.8 189.8,370.8 208.8,359.3 227.7,346.6 246.6,334.5 265.5,319.6 284.4,303.3 303.3,290.3 322.2,280 341.1,268.7 360,259.4 378.9,255.7 397.8,253.4 416.7,250 435.7,247.2 454.6,248.5 473.5,253.3 492.4,258.2 511.3,260.9 530.2,260 549.1,254.1 568,252.8 586.9,251.5 605.8,242.7 624.7,229.8 643.6,220.4 662.6,211.1 681.5,205.6 700.4,200.2 719.3,193 738.2,184.6 757.1,172.8 776,160.2"/>
<polyline points="76.4,380.9 95.3,367.7 114.2,363.1 133.1,368.6 152,377.3 170.9,377.2 189.8,372 208.8,366.3 227.7,357.2 246.6,344.7 265.5,330.8 284.4,315.3 303.3,304.8 322.2,299.6 341.1,292.2 360,283.6 378.9,281.2 397.8,283 416.7,286.3 435.7,290.9 454.6,299.8 473.5,312.1 492.4,326.5 511.3,338.4 530.2,337.5 549.1,336.1 568,343.3 586.9,345.6 605.8,389.7 624.7,413.9 643.6,330.7 662.6,256.7 681.5,226.7 700.4,205.3 719.3,187.8 738.2,171.6 757.1,154.5 776,143.9"/>
<polyline points="76.4,502.1 95.3,463.7 114.2,430 133.1,404.8 152,392.4 170.9,387.1 189.8,382 208.8,373.6 227.7,359.6 246.6,345.8 265.5,332.5 284.4,322.4 303.3,317.5 322.2,311.7 341.1,305.5 360,300.8 378.9,299.9 397.8,303.7 416.7,307.4 435.7,306.9 454.6,306 473.5,306.8 492.4,303.1 511.3,299.7 530.2,298.8 549.1,283.4 568,265.5 586.9,268.4 605.8,297.9 624.7,307.1 643.6,257.9 662.6,218.4 681.5,207.5 700.4,201.7 719.3,196.2 738.2,195.4 757.1,194.9 776,195.3"/>
<polyline points="76.4,559.7 95.3,498.2 114.2,445.4 133.1,408.2 152,390.6 170.9,381.6 189.8,371.4 208.8,360.4 227.7,346 246.6,329.2 265.5,314.4 284.4,303.3 303.3,291.8 322.2,279.7 341.1,269.1 360,260.3 378.9,254.5 397.8,251.8 416.7,251 435.7,249.7 454.6,254.8 473.5,267.8 492.4,281.5 511.3,289 530.2,303 549.1,311.9 568,340.4 586.9,395.3 605.8,370.3 624.7,282.9 643.6,231.5 662.6,210.3 681.5,202.3 700.4,197 719.3,192.5 738.2,187 757.1,183.3 776,179.9"/>
<polyline points="76.4,545 95.3,481.6 114.2,447.3 133.1,413.7 152,398 170.9,394.4 189.8,391.4 208.8,383.7 227.7,369.1 246.6,351.2 265.5,331.2 284.4,315.1 303.3,303.6 322.2,289.9 341.1,278 360,271.6 378.9,268.1 397.8,266 416.7,263.9 435.7,265.9 454.6,272.6 473.5,276.3 492.4,276.3 511.3,280.8 530.2,288.5 549.1,291.9 568,282.1 586.9,270.3 605.8,253.7 624.7,231.8 643.6,209.5 662.6,189.9 681.5,173.5 700.4,159.3 719.3,144.4 738.2,133.3 757.1,128.1 776,129.8"/>
<polyline points="76.4,396.5 95.3,376.5 114.2,362.7 133.1,352.8 152,346.7 170.9,342 189.8,337.3 208.8,331.8 227.7,325.7 246.6,322.1 265.5,320.3 284.4,320.8 303.3,324.9 322.2,325.1 341.1,321.9 360,316.7 378.9,312.3 397.8,309.4 416.7,306.9 435.7,304.2 454.6,308.1 473.5,317.2 492.4,331.2 511.3,345.3 530.2,349.5 549.1,345.1 568,344.2 586.9,317.6 605.8,276.4 624.7,229.7 643.6,192.7 662.6,166.3 681.5,147.8 700.4,134 719.3,121.8 738.2,114.3 757.1,110.2 776,111.8"/>
<polyline points="76.4,376 95.3,368.8 114.2,365.4 133.1,360.9 152,356.8 170.9,355.3 189.8,351.1 208.8,344.4 227.7,334.4 246.6,324.7 265.5,315.6 284.4,307.8 303.3,300.3 322.2,292.9 341.1,283.9 360,277.6 378.9,271 397.8,261.7 416.7,249.9 435.7,240.3 454.6,237.6 473.5,235.3 492.4,227.9 511.3,222.4 530.2,226.4 549.1,230.6 568,227.8 586.9,223.8 605.8,225.2 624.7,218.4 643.6,200.5 662.6,184.5 681.5,175.4 700.4,167.8 719.3,156.5 738.2,147.5 757.1,143.5 776,141.2"/>
<polyline points="76.4,364 95.3,359.8 114.2,356.6 133.1,355.8 152,354.4 170.9,352.6 189.8,352.5 208.8,351.8 227.7,347.6 246.6,345 265.5,344.8 284.4,344.7 303.3,342.7 322.2,340.5 341.1,335 360,326.6 378.9,319.4 397.8,312.3 416.7,305.5 435.7,299.9 454.6,298.7 473.5,305 492.4,309.7 511.3,308.3 530.2,305 549.1,305 568,295.2 586.9,273.6 605.8,257.9 624.7,234.6 643.6,216.2 662.6,208.7 681.5,203.7 700.4,203.2 719.3,207.8 738.2,214.7 757.1,221.5 776,226.3"/>
<polyline points="76.4,620 95.3,497.1 114.2,425.9 133.1,390.3 152,375.4 170.9,363.3 189.8,349 208.8,333.6 227.7,316.7 246.6,297.5 265.5,284.5 284.4,275.3 303.3,267.2 322.2,265 341.1,262.7 360,259.2 378.9,261.3 397.8,260.1 416.7,251 435.7,242.3 454.6,233.1 473.5,218.2 492.4,206.5 511.3,208.1 530.2,202.8 549.1,193.2 568,201.4 586.9,205.5 605.8,215.6 624.7,213.2 643.6,192.7 662.6,189.1 681.5,180.3 700.4,163.4 719.3,143.9 738.2,126.8 757.1,112.1 776,104.8"/>
<polyline points="76.4,408.3 95.3,403.4 114.2,407.4 133.1,397 152,388.6 170.9,384.1 189.8,375.2 208.8,359.8 227.7,340.1 246.6,320.6 265.5,303.7 284.4,291.2 303.3,285 322.2,283.1 341.1,283.2 360,282.2 378.9,282.1 397.8,282.8 416.7,279.7 435.7,274.4 454.6,270.5 473.5,269.1 492.4,264.6 511.3,258.2 530.2,257.8 549.1,259.5 568,257.7 586.9,247.9 605.8,217.4 624.7,193.6 643.6,171.3 662.6,152.7 681.5,138 700.4,122.5 719.3,104.8 738.2,91 757.1,83 776,81.7"/>
<polyline points="76.4,361.7 95.3,367.5 114.2,371.7 133.1,375 152,374.7 170.9,370.1 189.8,360.4 208.8,349.6 227.7,338.6 246.6,326.9 265.5,316 284.4,310.5 303.3,308.9 322.2,306.9 341.1,304.2 360,302.5 378.9,300.6 397.8,297.6 416.7,296.5 435.7,295.4 454.6,295.5 473.5,292.9 492.4,283.8 511.3,269.1 530.2,255.5 549.1,242.5 568,228.3 586.9,212.8 605.8,223.6 624.7,247.1 643.6,219.5 662.6,177.6 681.5,159.8 700.4,151.6 719.3,142.8 738.2,136.8 757.1,130.9 776,124.3"/>
<polyline points="76.4,414.5 95.3,440.3 114.2,434.6 133.1,412.5 152,397.8 170.9,392.9 189.8,390.1 208.8,387.2 227.7,380.6 246.6,368.7 265.5,354 284.4,338.6 303.3,326.2 322.2,317.2 341.1,308.1 360,298.5 378.9,293.1 397.8,289.1 416.7,285.4 435.7,281 454.6,277.3 473.5,272.3 492.4,264.8 511.3,253.6 530.2,241.7 549.1,234.6 568,229.3 586.9,215.5 605.8,196.4 624.7,179.6 643.6,169.6 662.6,164 681.5,159.9 700.4,160.3 719.3,162.8 738.2,168.3 757.1,175 776,182.6"/>
<polyline points="76.4,574.7 95.3,500.1 114.2,441.2 133.1,404 152,390.8 170.9,384.4 189.8,376.4 208.8,365.9 227.7,352.6 246.6,338.6 265.5,324.1 284.4,311.2 303.3,300.1 322.2,292.7 341.1,287.4 360,281.7 378.9,279.1 397.8,275.8 416.7,275.1 435.7,273.3 454.6,275.8 473.5,281.8 492.4,284.3 511.3,290.1 530.2,310 549.1,327.6 568,332.6 586.9,326.4 605.8,311.2 624.7,292.7 643.6,272.2 662.6,257.6 681.5,247.2 700.4,242.1 719.3,239.8 738.2,234.2 757.1,227.5 776,216"/>
<polyline points="76.4,480.6 95.3,448.4 114.2,415.4 133.1,394.3 152,386.2 170.9,383.5 189.8,378.7 208.8,372.5 227.7,362.7 246.6,352.6 265.5,341.4 284.4,331.2 303.3,324 322.2,317.2 341.1,309.3 360,301.4 378.9,294.6 397.8,291 416.7,290.7 435.7,294.2 454.6,302.9 473.5,314.9 492.4,329.6 511.3,334.9 530.2,326.8 549.1,319.9 568,296.5 586.9,274.6 605.8,251.7 624.7,227.7 643.6,211.9 662.6,202.5 681.5,198.5 700.4,198.8 719.3,201.3 738.2,202.3 757.1,197.6 776,188.7"/>
<polyline points="76.4,522.7 95.3,451.2 114.2,410.7 133.1,388.5 152,380 170.9,374.2 189.8,367 208.8,357.3 227.7,344.6 246.6,335.6 265.5,325.5 284.4,316 303.3,310.5 322.2,303.4 341.1,294.9 360,285.5 378.9,278.1 397.8,270.1 416.7,261.6 435.7,259.3 454.6,259.5 473.5,261.4 492.4,262.4 511.3,256.3 530.2,250.7 549.1,250.5 568,244 586.9,229.8 605.8,216.7 624.7,199.7 643.6,183.6 662.6,173.5 681.5,167.7 700.4,159.9 719.3,146.1 738.2,131.8 757.1,123.5 776,120.2"/>
<polyline points="76.4,478 95.3,440.8 114.2,415.9 133.1,404.4 152,392.4 170.9,388.2 189.8,384 208.8,376.6 227.7,367.9 246.6,359 265.5,348.8 284.4,343.4 303.3,343.6 322.2,346.2 341.1,345.4 360,346.4 378.9,348.8 397.8,352 416.7,362.9 435.7,371.5 454.6,375.4 473.5,378.9 492.4,376.2 511.3,368 530.2,356.2 549.1,330.5 568,313.6 586.9,304.6 605.8,281.2 624.7,247.7 643.6,226.3 662.6,209.6 681.5,206.9 700.4,204.1 719.3,194.5 738.2,182.4 757.1,170.3 776,162.5"/>
<polyline points="76.4,544.2 95.3,494 114.2,438.2 133.1,403.3 152,390.8 170.9,387.1 189.8,380.1 208.8,368.7 227.7,357.5 246.6,348.9 265.5,338.5 284.4,330.2 303.3,325.1 322.2,320.3 341.1,313 360,307.7 378.9,302.5 397.8,296.4 416.7,285.4 435.7,275.9 454.6,275.8 473.5,281.3 492.4,291.3 511.3,310.7 530.2,317 549.1,316 568,327.6 586.9,340.2 605.8,329.5 624.7,302.7 643.6,275.5 662.6,250 681.5,233.6 700.4,220.1 719.3,207.3 738.2,196.9 757.1,190.6 776,188.1"/>
<polyline points="76.4,675.8 95.3,573.3 114.2,479.8 133.1,418.5 152,396.7 170.9,388.6 189.8,378 208.8,364.2 227.7,349.3 246.6,336.6 265.5,323.6 284.4,311.2 303.3,302.7 322.2,299.7 341.1,295.1 360,288.3 378.9,281.2 397.8,275.5 416.7,266.8 435.7,257.8 454.6,252.8 473.5,248.6 492.4,252.2 511.3,259.3 530.2,255.1 549.1,251.1 568,248.6 586.9,247.9 605.8,251.3 624.7,247.1 643.6,236.1 662.6,227.9 681.5,225.3 700.4,229.4 719.3,234 738.2,236.5 757.1,236 776,232.9"/>
<polyline points="76.4,386.7 95.3,380 114.2,375.6 133.1,374.9 152,376.7 170.9,374.7 189.8,368.8 208.8,361.3 227.7,351.1 246.6,338.6 265.5,324 284.4,312.5 303.3,305.1 322.2,295.9 341.1,283.4 360,268.4 378.9,256.8 397.8,249.1 416.7,239.4 435.7,230 454.6,225.4 473.5,229 492.4,234.9 511.3,236.5 530.2,247.4 549.1,254.4 568,253.4 586.9,244.1 605.8,222.4 624.7,209.7 643.6,196.1 662.6,183 681.5,171.6 700.4,165.4 719.3,161.9 738.2,167.6 757.1,180.2 776,195.5"/>
<polyline points="76.4,516.3 95.3,475.1 114.2,431 133.1,400.2 152,388.4 170.9,381.6 189.8,373.4 208.8,366.8 227.7,356.4 246.6,345.4 265.5,336.7 284.4,331.8 303.3,330.1 322.2,326.6 341.1,320.6 360,314.3 378.9,308.5 397.8,300.1 416.7,291.7 435.7,283.7 454.6,282.3 473.5,284.7 492.4,286.5 511.3,286.9 530.2,286.6 549.1,281.3 568,277.7 586.9,258.8 605.8,223.4 624.7,201.9 643.6,183.6 662.6,167.4 681.5,156.2 700.4,151.5 719.3,150.1 738.2,151.8 757.1,157.7 776,168"/>
<polyline points="76.4,385.8 95.3,381 114.2,377.8 133.1,377.1 152,377.4 170.9,376 189.8,371.1 208.8,361.9 227.7,350.8 246.6,339.6 265.5,324.2 284.4,312.2 303.3,301.2 322.2,288.7 341.1,278 360,269.8 378.9,266.7 397.8,267.7 416.7,263.5 435.7,260.4 454.6,263.4 473.5,265.4 492.4,266 511.3,265.2 530.2,259.8 549.1,243.5 568,226.1 586.9,213.9 605.8,208.6 624.7,204.4 643.6,194.7 662.6,186 681.5,178.6 700.4,169.2 719.3,160.1 738.2,155.9 757.1,152.3 776,153.4"/>
<polyline points="76.4,482 95.3,491 114.2,452.2 133.1,416.5 152,400 170.9,392.8 189.8,386.8 208.8,383.1 227.7,376.7 246.6,364.5 265.5,351.9 284.4,340.5 303.3,330 322.2,317.3 341.1,301.3 360,284.1 378.9,270.1 397.8,257.5 416.7,245.7 435.7,241.6 454.6,246.8 473.5,261.3 492.4,273.7 511.3,270.4 530.2,263.1 549.1,289.5 568,331.4 586.9,317 605.8,295.6 624.7,280.4 643.6,260.4 662.6,236.1 681.5,220.8 700.4,204.2 719.3,179.3 738.2,156.3 757.1,141 776,129.5"/>
<polyline points="76.4,576.3 95.3,488.4 114.2,429.1 133.1,396.7 152,386.2 170.9,381.2 189.8,372.5 208.8,364.7 227.7,356.7 246.6,347.5 265.5,339.1 284.4,331.1 303.3,323.8 322.2,319.3 341.1,311.3 360,299.2 378.9,284.8 397.8,269.8 416.7,257.4 435.7,247.3 454.6,239.7 473.5,235.8 492.4,234.6 511.3,234.8 530.2,240.5 549.1,244.4 568,243.1 586.9,248 605.8,248.3 624.7,239 643.6,220.1 662.6,203.2 681.5,192 700.4,184.9 719.3,178.3 738.2,170.2 757.1,161 776,154"/>
<polyline points="76.4,329.8 95.3,338.6 114.2,344.7 133.1,348 152,351.4 170.9,354.5 189.8,352.6 208.8,347.3 227.7,338.8 246.6,329.9 265.5,323.5 284.4,318.2 303.3,311 322.2,306.9 341.1,301.8 360,292.8 378.9,282 397.8,269.7 416.7,257 435.7,247.9 454.6,245.6 473.5,244.5 492.4,244.6 511.3,247.9 530.2,259 549.1,260.4 568,260.5 586.9,259.6 605.8,248.6 624.7,238.8 643.6,222.7 662.6,206 681.5,193.8 700.4,181.7 719.3,170.2 738.2,155.8 757.1,142.2 776,133.7"/>
<polyline points="76.4,658.9 95.3,580.5 114.2,493.6 133.1,428 152,400.1 170.9,387.3 189.8,370.1 208.8,351.1 227.7,332.6 246.6,315.1 265.5,300 284.4,289.7 303.3,286.4 322.2,284.5 341.1,283.5 360,283 378.9,281.4 397.8,278.9 416.7,271.8 435.7,261.7 454.6,255.3 473.5,249.3 492.4,245.3 511.3,241.6 530.2,240.7 549.1,243.3 568,241.9 586.9,248.7 605.8,249.3 624.7,237 643.6,219.8 662.6,205.6 681.5,194.4 700.4,181.7 719.3,163.7 738.2,145.6 757.1,129.3 776,115.5"/>
<polyline points="76.4,473.1 95.3,444.3 114.2,425 133.1,406.3 152,394.1 170.9,392.7 189.8,393.4 208.8,386.7 227.7,374.8 246.6,365.3 265.5,355.5 284.4,345.4 303.3,333.2 322.2,323.2 341.1,317.5 360,310.8 378.9,304.2 397.8,296.9 416.7,291 435.7,286.9 454.6,287.3 473.5,287.3 492.4,286.9 511.3,291.2 530.2,301 549.1,307.4 568,301.7 586.9,294.8 605.8,274 624.7,257.2 643.6,246 662.6,228.5 681.5,214.5 700.4,203.1 719.3,192.8 738.2,185.5 757.1,179.3 776,177.2"/>
<polyline points="76.4,446.8 95.3,405.6 114.2,390.9 133.1,385.3 152,378.4 170.9,370.2 189.8,365.3 208.8,360.8 227.7,354.4 246.6,348.8 265.5,339.2 284.4,326.9 303.3,312.3 322.2,298.8 341.1,279.8 360,256.9 378.9,239.3 397.8,224 416.7,206.3 435.7,194 454.6,190.9 473.5,190 492.4,202.1 511.3,223.7 530.2,253.6 549.1,268.9 568,228.2 586.9,162.1 605.8,206 624.7,299.6 643.6,257.8 662.6,196 681.5,173.4 700.4,163.9 719.3,160.7 738.2,159.6 757.1,163.7 776,170.6"/>
<polyline points="76.4,809.8 95.3,651.3 114.2,526 133.1,441.1 152,408.2 170.9,397.7 189.8,386.4 208.8,368.9 227.7,350.5 246.6,329.2 265.5,309 284.4,296.7 303.3,289.4 322.2,280.2 341.1,270.5 360,265.4 378.9,262.9 397.8,259.4 416.7,254.4 435.7,248 454.6,244.8 473.5,246.6 492.4,254.6 511.3,257.7 530.2,261.2 549.1,284.2 568,324.1 586.9,337.4 605.8,292.8 624.7,248.5 643.6,219.7 662.6,201.6 681.5,188.8 700.4,174.2 719.3,161.4 738.2,157 757.1,154 776,149.6"/>
<polyline points="76.4,307.6 95.3,316.5 114.2,322.1 133.1,322.9 152,325.5 170.9,330.7 189.8,331.6 208.8,329.5 227.7,320.2 246.6,309.9 265.5,303.9 284.4,300.8 303.3,300.4 322.2,298.5 341.1,294.2 360,289.4 378.9,286.1 397.8,281.2 416.7,274.9 435.7,272.7 454.6,272.8 473.5,272.7 492.4,277.5 511.3,280.4 530.2,263.6 549.1,230.8 568,230 586.9,246.9 605.8,217.1 624.7,195.1 643.6,183.3 662.6,172.6 681.5,161.6 700.4,150.9 719.3,146.5 738.2,147.2 757.1,151.4 776,155.1"/>
<polyline points="76.4,557.6 95.3,517.9 114.2,479.6 133.1,429.1 152,405.6 170.9,402.7 189.8,397.6 208.8,387.7 227.7,371.1 246.6,352.2 265.5,335.8 284.4,322.9 303.3,309.6 322.2,293.9 341.1,278.6 360,266.2 378.9,255.6 397.8,243.1 416.7,230.1 435.7,218 454.6,205.3 473.5,192.2 492.4,176.9 511.3,155.6 530.2,144.6 549.1,136.6 568,139.3 586.9,130.6 605.8,105.3 624.7,99.3 643.6,93 662.6,96.4 681.5,88.6 700.4,72.4 719.3,52.6 738.2,37.1 757.1,26.7 776,26.5"/>
<polyline points="76.4,458 95.3,425.9 114.2,406.3 133.1,391.7 152,382.8 170.9,377.5 189.8,368.5 208.8,354.3 227.7,336.7 246.6,320.7 265.5,305.6 284.4,290.9 303.3,283.2 322.2,279.8 341.1,274.9 360,271.9 378.9,270.2 397.8,266.7 416.7,263 435.7,257.4 454.6,255.4 473.5,254.8 492.4,250.5 511.3,236.2 530.2,237.4 549.1,245.8 568,225.6 586.9,220.5 605.8,220.5 624.7,213 643.6,207.9 662.6,199.2 681.5,191.1 700.4,183.2 719.3,176.6 738.2,169 757.1,164.1 776,159.6"/>
<polyline points="76.4,273.7 95.3,290.1 114.2,300.4 133.1,306.8 152,315.2 170.9,324.9 189.8,330.6 208.8,332.2 227.7,330.6 246.6,329.6 265.5,328.8 284.4,331.2 303.3,332.1 322.2,332.3 341.1,326.1 360,319.6 378.9,315.6 397.8,313.7 416.7,308.3 435.7,298.4 454.6,298.2 473.5,301.4 492.4,300.8 511.3,299 530.2,286.6 549.1,256.2 568,249 586.9,243.5 605.8,229 624.7,211.7 643.6,209.3 662.6,208.2 681.5,199.6 700.4,197.2 719.3,196.6 738.2,197.4 757.1,196.7 776,195.5"/>
<polyline points="76.4,292.1 95.3,315.2 114.2,327.9 133.1,335 152,343.2 170.9,352.6 189.8,355.5 208.8,354.7 227.7,350.5 246.6,345.5 265.5,340 284.4,335.9 303.3,336.6 322.2,335.4 341.1,327.4 360,320 378.9,313.8 397.8,306.9 416.7,299.2 435.7,288.9 454.6,281.9 473.5,275.7 492.4,273.1 511.3,270.1 530.2,272.6 549.1,275.8 568,291.7 586.9,341.7 605.8,320.2 624.7,261.3 643.6,230.7 662.6,219.2 681.5,213.4 700.4,207.2 719.3,199.5 738.2,195.4 757.1,191.2 776,187.3"/>
<polyline points="76.4,504.7 95.3,471.1 114.2,433.8 133.1,402.8 152,389.5 170.9,382.5 189.8,373 208.8,359.2 227.7,343.3 246.6,329.5 265.5,316 284.4,305.1 303.3,299.2 322.2,293.4 341.1,287.4 360,282.2 378.9,279.5 397.8,277.3 416.7,270.9 435.7,264.5 454.6,262.2 473.5,260.9 492.4,260.2 511.3,260.6 530.2,266 549.1,278.5 568,282.8 586.9,279.1 605.8,266.2 624.7,252 643.6,231.7 662.6,214.4 681.5,205.6 700.4,200.1 719.3,192.5 738.2,184.8 757.1,178.4 776,174.3"/>
<polyline points="76.4,391 95.3,381.3 114.2,379.6 133.1,378.4 152,375.9 170.9,372.7 189.8,363.7 208.8,353.7 227.7,342.4 246.6,329.8 265.5,321.2 284.4,316.8 303.3,316.4 322.2,316.6 341.1,312.9 360,311 378.9,308.6 397.8,307.1 416.7,306 435.7,302.2 454.6,298.5 473.5,297.3 492.4,302.6 511.3,311.2 530.2,316.7 549.1,327.7 568,331.8 586.9,314.6 605.8,294.7 624.7,282.4 643.6,266.2 662.6,247.9 681.5,234.6 700.4,224.9 719.3,218.5 738.2,214.6 757.1,214.5 776,214.7"/>
<polyline points="76.4,397.8 95.3,383.4 114.2,373.8 133.1,365.1 152,353.8 170.9,345.3 189.8,336.5 208.8,327.3 227.7,318.5 246.6,309.5 265.5,302.7 284.4,298.6 303.3,295.8 322.2,295.8 341.1,295 360,292.1 378.9,288.2 397.8,283.1 416.7,279 435.7,273.9 454.6,271.3 473.5,274.3 492.4,279.2 511.3,281 530.2,283.4 549.1,284.9 568,277.4 586.9,270.6 605.8,261.6 624.7,253.4 643.6,242.5 662.6,229.8 681.5,219.2 700.4,207 719.3,194 738.2,182.6 757.1,173.2 776,164.8"/>
<polyline points="76.4,407.3 95.3,387 114.2,379.6 133.1,374.8 152,367.5 170.9,361.3 189.8,351 208.8,340.4 227.7,326.9 246.6,312.1 265.5,299.1 284.4,291.9 303.3,290.2 322.2,290 341.1,286.8 360,284.7 378.9,286.6 397.8,289.7 416.7,292.3 435.7,296.2 454.6,302.2 473.5,314.6 492.4,323.6 511.3,325.3 530.2,324.3 549.1,315.5 568,292.7 586.9,237.9 605.8,206 624.7,244.6 643.6,230.8 662.6,189.7 681.5,170.6 700.4,160 719.3,151 738.2,144 757.1,142.2 776,142.9"/>
<polyline points="76.4,424.9 95.3,416.3 114.2,400.8 133.1,388 152,375.8 170.9,361.2 189.8,348.6 208.8,337.6 227.7,323.1 246.6,310.3 265.5,302.4 284.4,301 303.3,304 322.2,308.9 341.1,311.1 360,310.7 378.9,313.4 397.8,319 416.7,321.2 435.7,319.4 454.6,318.8 473.5,320.3 492.4,321.4 511.3,314.4 530.2,314.5 549.1,321.6 568,313.4 586.9,298.6 605.8,262.9 624.7,223.2 643.6,192.4 662.6,166.3 681.5,141.5 700.4,118.1 719.3,95.1 738.2,77.7 757.1,64.8 776,53.6"/>
<polyline points="76.4,376.4 95.3,369.8 114.2,367.4 133.1,370.1 152,372.7 170.9,374 189.8,368 208.8,360.8 227.7,351.3 246.6,342.6 265.5,333.6 284.4,324.7 303.3,313.9 322.2,304 341.1,293.4 360,284.6 378.9,279.1 397.8,276.9 416.7,274.7 435.7,270.5 454.6,268.4 473.5,272 492.4,275.5 511.3,277.8 530.2,275 549.1,266.4 568,256.1 586.9,235.3 605.8,206.3 624.7,185.2 643.6,164.7 662.6,152 681.5,139.4 700.4,124.6 719.3,105.3 738.2,87.9 757.1,71.9 776,58.3"/>
<polyline points="76.4,512.9 95.3,450.8 114.2,402.6 133.1,382.5 152,377.4 170.9,371.6 189.8,361.2 208.8,349.8 227.7,336.4 246.6,324.5 265.5,313.2 284.4,303.2 303.3,296.8 322.2,288 341.1,280 360,275.2 378.9,271.8 397.8,270.1 416.7,267.7 435.7,265.9 454.6,271 473.5,281.2 492.4,287.1 511.3,293.9 530.2,294.7 549.1,280.1 568,256.6 586.9,239.8 605.8,219.6 624.7,196.7 643.6,176.9 662.6,162.8 681.5,153.2 700.4,146.1 719.3,136 738.2,131.3 757.1,133.4 776,136.8"/>
<polyline points="76.4,410.3 95.3,421.1 114.2,409 133.1,397.6 152,391.4 170.9,390.9 189.8,391.2 208.8,388.3 227.7,381.3 246.6,372.1 265.5,360.1 284.4,348.5 303.3,340.7 322.2,329.5 341.1,314.2 360,303.3 378.9,290.5 397.8,276.2 416.7,268 435.7,262.8 454.6,263.3 473.5,267.5 492.4,273.4 511.3,280.9 530.2,296.6 549.1,310.6 568,319.9 586.9,313.1 605.8,290.2 624.7,266.9 643.6,240.9 662.6,218.6 681.5,204.3 700.4,192.6 719.3,186 738.2,181.5 757.1,179 776,177.8"/>
<polyline points="76.4,409.2 95.3,389.2 114.2,383.1 133.1,381.9 152,381 170.9,379.3 189.8,375.8 208.8,373.4 227.7,369.2 246.6,367.1 265.5,362.1 284.4,356 303.3,351.4 322.2,345 341.1,334.3 360,322.7 378.9,311.3 397.8,301.7 416.7,292.3 435.7,280.9 454.6,273.3 473.5,273 492.4,275.9 511.3,280.8 530.2,286.9 549.1,288 568,277 586.9,265.1 605.8,250.5 624.7,231.9 643.6,220.7 662.6,208.8 681.5,196.7 700.4,187.7 719.3,178.7 738.2,170.8 757.1,165.6 776,167.4"/>
<polyline points="76.4,667.3 95.3,567.1 114.2,465.7 133.1,409.1 152,389.3 170.9,376.5 189.8,356.9 208.8,336.6 227.7,318.3 246.6,306.5 265.5,296.8 284.4,289.1 303.3,286.3 322.2,287.5 341.1,289.5 360,290.4 378.9,294.2 397.8,295.9 416.7,291.6 435.7,288.5 454.6,286.4 473.5,278.5 492.4,265.5 511.3,256.2 530.2,243.7 549.1,227.4 568,210.9 586.9,206.8 605.8,202.3 624.7,189.9 643.6,170.8 662.6,165.2 681.5,163.4 700.4,154.1 719.3,144.1 738.2,141.8 757.1,138.1 776,132.8"/>
<polyline points="76.4,526.3 95.3,477.7 114.2,444.7 133.1,410.6 152,394.1 170.9,388 189.8,382.2 208.8,371.1 227.7,356.7 246.6,343.6 265.5,329.3 284.4,313.9 303.3,301.7 322.2,291.5 341.1,283.9 360,275.3 378.9,265.1 397.8,254.8 416.7,244.5 435.7,234.5 454.6,231.4 473.5,235.3 492.4,244.3 511.3,246.8 530.2,246.1 549.1,255.6 568,257.6 586.9,255.6 605.8,252.7 624.7,246.6 643.6,233.1 662.6,218.1 681.5,208.1 700.4,203.2 719.3,199.7 738.2,196.9 757.1,198.6 776,200.3"/>
<polyline points="76.4,437.4 95.3,401.1 114.2,383.6 133.1,374.5 152,369.8 170.9,367 189.8,360.4 208.8,352 227.7,343.3 246.6,334.4 265.5,326.1 284.4,317.9 303.3,313.7 322.2,307.9 341.1,298.2 360,289.1 378.9,282.8 397.8,275.2 416.7,267.1 435.7,264.1 454.6,266.1 473.5,268.6 492.4,270.1 511.3,272.8 530.2,276.6 549.1,277.5 568,305.3 586.9,312.8 605.8,247.9 624.7,190.1 643.6,167 662.6,165.9 681.5,167.8 700.4,169.5 719.3,172.6 738.2,176.6 757.1,182.4 776,186.6"/>
<polyline points="76.4,415.3 95.3,403.7 114.2,391.9 133.1,377.8 152,368.4 170.9,356.5 189.8,344.8 208.8,332.2 227.7,314.1 246.6,301.9 265.5,294.4 284.4,285.5 303.3,277.1 322.2,270.6 341.1,266.7 360,262.8 378.9,262 397.8,260.1 416.7,249.3 435.7,241.2 454.6,242.2 473.5,249 492.4,256.6 511.3,267.2 530.2,274 549.1,259.8 568,249.2 586.9,251.7 605.8,245.9 624.7,223.2 643.6,201.1 662.6,181.1 681.5,154.4 700.4,135 719.3,118.4 738.2,105.1 757.1,93.6 776,91.2"/>
<polyline points="76.4,373.4 95.3,359.8 114.2,351.9 133.1,347.6 152,343.3 170.9,341.4 189.8,340.2 208.8,341.8 227.7,344 246.6,346.5 265.5,346.8 284.4,348.2 303.3,352.2 322.2,353.2 341.1,349.6 360,343.5 378.9,334.1 397.8,323.7 416.7,312.6 435.7,298.3 454.6,284.7 473.5,270.8 492.4,257.4 511.3,251.9 530.2,260.8 549.1,269.2 568,259.1 586.9,236.1 605.8,215.3 624.7,189.8 643.6,161.5 662.6,142.9 681.5,127.7 700.4,112.6 719.3,99.5 738.2,94.8 757.1,96.1 776,103.8"/>
<polyline points="76.4,377.1 95.3,374.6 114.2,373.3 133.1,372.3 152,371.3 170.9,371.2 189.8,366.2 208.8,361.1 227.7,353.3 246.6,343.7 265.5,335.4 284.4,331.6 303.3,329.3 322.2,326.4 341.1,319.9 360,313.8 378.9,309.7 397.8,305 416.7,298.7 435.7,292.1 454.6,287.5 473.5,285.7 492.4,281.1 511.3,276.9 530.2,273.8 549.1,266.9 568,253.9 586.9,244.9 605.8,241.8 624.7,230.3 643.6,210.4 662.6,192.4 681.5,182.5 700.4,175.7 719.3,166.3 738.2,161.5 757.1,159.4 776,158.4"/>
<polyline points="76.4,326.8 95.3,329.3 114.2,328.4 133.1,326.8 152,329.9 170.9,338.3 189.8,341.7 208.8,342.3 227.7,342.3 246.6,342 265.5,343.5 284.4,345.2 303.3,346.7 322.2,346.1 341.1,343 360,341.4 378.9,335.8 397.8,331.1 416.7,327.7 435.7,321.4 454.6,315.7 473.5,308.6 492.4,296.1 511.3,284.6 530.2,276.4 549.1,257 568,236.7 586.9,249.6 605.8,269.6 624.7,235.5 643.6,196.9 662.6,185.6 681.5,179.5 700.4,172.4 719.3,165.6 738.2,163.6 757.1,161.8 776,158.9"/>
<polyline points="76.4,600.7 95.3,520.4 114.2,451.2 133.1,406.2 152,389.5 170.9,380.6 189.8,366 208.8,349.7 227.7,332.5 246.6,318.7 265.5,309 284.4,301.3 303.3,296.8 322.2,293.1 341.1,291.6 360,292.7 378.9,291.3 397.8,288.4 416.7,285.8 435.7,280.2 454.6,273.9 473.5,271.8 492.4,273.3 511.3,272.1 530.2,265 549.1,250.7 568,206.7 586.9,176.3 605.8,179.2 624.7,180.5 643.6,174.1 662.6,169.9 681.5,170.3 700.4,166.9 719.3,169.1 738.2,178.8 757.1,187.7 776,198.1"/>
<polyline points="76.4,377 95.3,369.6 114.2,364.6 133.1,360.7 152,359 170.9,358.4 189.8,354.1 208.8,349 227.7,342.2 246.6,336.7 265.5,331.6 284.4,325.8 303.3,320.1 322.2,316.1 341.1,311.9 360,300.8 378.9,287.4 397.8,275.2 416.7,262.4 435.7,250.4 454.6,242.4 473.5,235.6 492.4,223.3 511.3,207.4 530.2,198.8 549.1,197.3 568,188.8 586.9,175.6 605.8,166.9 624.7,169 643.6,165.3 662.6,160.7 681.5,163 700.4,166.8 719.3,167.6 738.2,170.5 757.1,171.5 776,171.6"/>
<polyline points="76.4,381.6 95.3,380.5 114.2,379.9 133.1,379.7 152,379.7 170.9,376 189.8,366.8 208.8,361 227.7,353.8 246.6,346.3 265.5,339.9 284.4,336.1 303.3,330.7 322.2,325.1 341.1,318.1 360,307.2 378.9,299.5 397.8,297.1 416.7,292.6 435.7,288 454.6,290.2 473.5,296.1 492.4,304.8 511.3,305.4 530.2,297.9 549.1,301.9 568,304.9 586.9,291.2 605.8,263.7 624.7,242 643.6,218.1 662.6,198.9 681.5,187.8 700.4,176.3 719.3,164.4 738.2,150.8 757.1,141.1 776,136.3"/>
<polyline points="76.4,381 95.3,375.9 114.2,374.3 133.1,373.2 152,376.5 170.9,375.3 189.8,366.2 208.8,356.4 227.7,347.2 246.6,337.2 265.5,327.1 284.4,317.9 303.3,309.9 322.2,299.5 341.1,288.2 360,279.1 378.9,270.9 397.8,266.3 416.7,265.3 435.7,269.7 454.6,278.7 473.5,285.3 492.4,290.6 511.3,297.2 530.2,303.1 549.1,299.7 568,284.4 586.9,266.4 605.8,254.9 624.7,224.4 643.6,193.9 662.6,181.3 681.5,171.3 700.4,164 719.3,155 738.2,148.8 757.1,146.8 776,149.5"/>
<polyline points="76.4,515.7 95.3,426.3 114.2,384.5 133.1,371.3 152,361.8 170.9,355.6 189.8,349.9 208.8,342.3 227.7,333.1 246.6,330.6 265.5,334.5 284.4,336.6 303.3,339.7 322.2,345.7 341.1,348.2 360,343.4 378.9,333.5 397.8,328.5 416.7,329.9 435.7,331 454.6,333.9 473.5,337.9 492.4,336.8 511.3,333.8 530.2,321.6 549.1,306.5 568,269.1 586.9,194 605.8,163.1 624.7,197.3 643.6,215.2 662.6,209.4 681.5,208.5 700.4,207.6 719.3,203.6 738.2,200.8 757.1,194 776,189.4"/>
<polyline points="76.4,578.5 95.3,487.5 114.2,430.5 133.1,399.7 152,387.3 170.9,380 189.8,369.9 208.8,360.1 227.7,353.8 246.6,346.7 265.5,339.9 284.4,335.6 303.3,331 322.2,327.2 341.1,322.1 360,314.2 378.9,302.6 397.8,291.8 416.7,286.3 435.7,282.8 454.6,281.4 473.5,283 492.4,288.8 511.3,290.8 530.2,292.9 549.1,290.9 568,291.4 586.9,278.9 605.8,253 624.7,226.8 643.6,215.4 662.6,205 681.5,194 700.4,189.8 719.3,188.7 738.2,189.2 757.1,193.8 776,199.5"/>
<polyline points="76.4,593.5 95.3,472.3 114.2,409.6 133.1,387.4 152,378.6 170.9,367.1 189.8,358.3 208.8,350.4 227.7,339.1 246.6,329.9 265.5,322 284.4,317.5 303.3,316 322.2,312.7 341.1,306.9 360,301.9 378.9,298.9 397.8,296 416.7,294.7 435.7,289.2 454.6,286.7 473.5,290.9 492.4,293.8 511.3,292.6 530.2,290.4 549.1,288.8 568,287.9 586.9,267.9 605.8,239.7 624.7,214.5 643.6,191.4 662.6,176.6 681.5,165.6 700.4,158.7 719.3,156.3 738.2,155.9 757.1,158 776,167.9"/>
<polyline points="76.4,369.4 95.3,363 114.2,358.5 133.1,356.4 152,352.6 170.9,347.7 189.8,342.6 208.8,336.4 227.7,326.3 246.6,316.4 265.5,306.1 284.4,299.3 303.3,296.8 322.2,293.4 341.1,289.7 360,284.5 378.9,279.1 397.8,272.1 416.7,265.3 435.7,259 454.6,251.9 473.5,249.5 492.4,252.9 511.3,248.1 530.2,247 549.1,248.2 568,238.2 586.9,236.3 605.8,240.1 624.7,225.5 643.6,213.8 662.6,208.3 681.5,205 700.4,200.4 719.3,196.2 738.2,191.3 757.1,183.7 776,174.8"/>
<polyline points="76.4,515.2 95.3,448 114.2,409.3 133.1,387.8 152,374.9 170.9,360.5 189.8,348.2 208.8,336 227.7,320.2 246.6,307.6 265.5,298.3 284.4,290.5 303.3,287 322.2,285.9 341.1,284.1 360,279.4 378.9,277 397.8,275.8 416.7,270.1 435.7,264.7 454.6,259.6 473.5,254.9 492.4,249.6 511.3,243.4 530.2,238.5 549.1,227.3 568,220.1 586.9,225 605.8,271.5 624.7,307.1 643.6,241.6 662.6,180.1 681.5,169.7 700.4,168.3 719.3,163.7 738.2,162 757.1,159.9 776,160.7"/>
<polyline points="76.4,397.1 95.3,385.2 114.2,378.2 133.1,372.3 152,368.4 170.9,364.8 189.8,359.1 208.8,352.1 227.7,344.2 246.6,338.9 265.5,331.6 284.4,325 303.3,321.3 322.2,315.6 341.1,307.2 360,298 378.9,287.5 397.8,281.1 416.7,276.6 435.7,274.9 454.6,279 473.5,287.9 492.4,301.4 511.3,312.6 530.2,324.8 549.1,339.7 568,359.2 586.9,355.8 605.8,339.5 624.7,322.3 643.6,295.7 662.6,266.7 681.5,246.9 700.4,231.8 719.3,222.1 738.2,211.4 757.1,196.7 776,183.1"/>
<polyline points="76.4,403.6 95.3,404.8 114.2,401.9 133.1,394.5 152,388.4 170.9,384.5 189.8,376.4 208.8,363.8 227.7,349.4 246.6,337.8 265.5,326.2 284.4,316.9 303.3,310.5 322.2,304.5 341.1,296.7 360,287.8 378.9,281.6 397.8,275 416.7,269.8 435.7,271.7 454.6,277.6 473.5,287.9 492.4,296 511.3,298.2 530.2,289.6 549.1,276.9 568,262 586.9,235.4 605.8,205.2 624.7,173.8 643.6,153.4 662.6,144.8 681.5,140.6 700.4,137 719.3,139.3 738.2,143.7 757.1,146.9 776,151.4"/>
<polyline points="76.4,445.5 95.3,409.4 114.2,392.2 133.1,385 152,379.9 170.9,375.5 189.8,368.9 208.8,363.8 227.7,357.4 246.6,353.9 265.5,349.1 284.4,345.6 303.3,342 322.2,337.3 341.1,329 360,315.7 378.9,306.1 397.8,301.5 416.7,292.9 435.7,285.3 454.6,286.5 473.5,286.5 492.4,293.1 511.3,305.9 530.2,311.7 549.1,306.8 568,301.2 586.9,272.9 605.8,233 624.7,206.6 643.6,188 662.6,176.7 681.5,165.6 700.4,157.4 719.3,152.2 738.2,151.1 757.1,155 776,162.6"/>
<polyline points="76.4,399.9 95.3,391.7 114.2,397 133.1,394.7 152,389.8 170.9,388.2 189.8,385.7 208.8,379.5 227.7,369.8 246.6,358.3 265.5,343.8 284.4,333.2 303.3,324.4 322.2,311.4 341.1,297.8 360,287.7 378.9,281.4 397.8,274.8 416.7,264.5 435.7,251.6 454.6,243.1 473.5,239.1 492.4,235.7 511.3,230.8 530.2,236.1 549.1,242.7 568,229.7 586.9,203.9 605.8,185 624.7,177.8 643.6,168 662.6,160.1 681.5,151.4 700.4,139.9 719.3,127.6 738.2,122.6 757.1,123.9 776,131"/>
<polyline points="76.4,347.3 95.3,345.8 114.2,347.4 133.1,347.4 152,345 170.9,345.9 189.8,345.3 208.8,341.8 227.7,335.6 246.6,330.9 265.5,329.6 284.4,329.7 303.3,329.2 322.2,327.9 341.1,326.1 360,322.9 378.9,315.8 397.8,306.5 416.7,298.4 435.7,292.5 454.6,290.8 473.5,286.1 492.4,281 511.3,274.3 530.2,276.1 549.1,282.4 568,280.8 586.9,260.7 605.8,239.7 624.7,230.3 643.6,221.7 662.6,203.7 681.5,187 700.4,176.3 719.3,166.6 738.2,157.1 757.1,151.4 776,151.9"/>
<polyline points="76.4,462.7 95.3,418.2 114.2,401.2 133.1,391.8 152,385 170.9,380 189.8,374.3 208.8,367.8 227.7,355.3 246.6,342.6 265.5,331 284.4,323.2 303.3,318 322.2,314.1 341.1,308.6 360,298.8 378.9,287.4 397.8,279.8 416.7,274.9 435.7,267.1 454.6,257.2 473.5,252.1 492.4,249.3 511.3,248.7 530.2,245.6 549.1,203.6 568,176.3 586.9,207.3 605.8,234.7 624.7,242.4 643.6,233.9 662.6,221.3 681.5,213.7 700.4,208.1 719.3,204.4 738.2,200.5 757.1,197.1 776,196.1"/>
<polyline points="76.4,364.2 95.3,357.2 114.2,355.2 133.1,353.8 152,355.4 170.9,357.8 189.8,354.1 208.8,347.7 227.7,338.2 246.6,329.5 265.5,321.8 284.4,312.5 303.3,302.7 322.2,292.6 341.1,283.1 360,275.1 378.9,270.2 397.8,266.6 416.7,264.5 435.7,266.3 454.6,270 473.5,277.5 492.4,287 511.3,291.4 530.2,295.1 549.1,291.4 568,292.6 586.9,304.8 605.8,305.5 624.7,262.6 643.6,217.6 662.6,193.7 681.5,182.4 700.4,181.7 719.3,185.5 738.2,190.5 757.1,198 776,203.3"/>
<polyline points="76.4,513.3 95.3,398.9 114.2,374.7 133.1,358.2 152,347 170.9,341.5 189.8,337.6 208.8,331.3 227.7,321.8 246.6,315.7 265.5,310.5 284.4,307.4 303.3,306.5 322.2,306.2 341.1,304.3 360,300.5 378.9,298.9 397.8,299.2 416.7,297.7 435.7,292.4 454.6,288.6 473.5,283.5 492.4,275.5 511.3,265.6 530.2,259.1 549.1,254.3 568,240.3 586.9,212.6 605.8,191.8 624.7,173.1 643.6,163.7 662.6,160.7 681.5,156 700.4,155.9 719.3,158.9 738.2,167.6 757.1,178.8 776,190.2"/>
<polyline points="76.4,404.8 95.3,394.3 114.2,387.6 133.1,377.5 152,365.7 170.9,356.3 189.8,347.6 208.8,338.5 227.7,327.7 246.6,321.5 265.5,321.6 284.4,320.6 303.3,318.8 322.2,318.8 341.1,315.8 360,313.4 378.9,313.6 397.8,311 416.7,309.5 435.7,303 454.6,294.4 473.5,284.9 492.4,275.5 511.3,274.5 530.2,280.6 549.1,296.4 568,306.9 586.9,297.8 605.8,276.9 624.7,255.5 643.6,230.4 662.6,204.5 681.5,183.8 700.4,160.4 719.3,132.5 738.2,107.9 757.1,86.8 776,68.1"/>
<polyline points="76.4,385.9 95.3,366.2 114.2,355 133.1,346.5 152,339.7 170.9,338.6 189.8,333.9 208.8,324.2 227.7,312.4 246.6,303.1 265.5,297.2 284.4,294.8 303.3,293.5 322.2,292.5 341.1,288.1 360,282 378.9,278.3 397.8,276.8 416.7,273.2 435.7,270.3 454.6,269.6 473.5,272.1 492.4,278.1 511.3,283.5 530.2,290.8 549.1,296.8 568,294.5 586.9,295.3 605.8,272.7 624.7,246.8 643.6,230.2 662.6,217.8 681.5,206.2 700.4,195.3 719.3,186.2 738.2,180.5 757.1,175 776,171.5"/>
<polyline points="76.4,345.2 95.3,349.3 114.2,352.5 133.1,354.2 152,357 170.9,362.1 189.8,359.8 208.8,354 227.7,345.3 246.6,337.7 265.5,329.1 284.4,323.7 303.3,319.3 322.2,312.6 341.1,300.9 360,287.5 378.9,279.7 397.8,272.2 416.7,262.3 435.7,256.5 454.6,255.4 473.5,253.8 492.4,253.3 511.3,260.1 530.2,272.6 549.1,283.1 568,293 586.9,307 605.8,302.6 624.7,282.5 643.6,263.9 662.6,239.4 681.5,217.4 700.4,202.8 719.3,188 738.2,172.4 757.1,156.9 776,139.9"/>
<polyline points="76.4,358.4 95.3,358.2 114.2,354.8 133.1,351.6 152,350.7 170.9,350.3 189.8,347.9 208.8,343.4 227.7,333.1 246.6,321.2 265.5,309.3 284.4,299.4 303.3,291.3 322.2,282.5 341.1,272.8 360,263.1 378.9,254.5 397.8,245.6 416.7,229.9 435.7,218.7 454.6,219 473.5,216.4 492.4,215.2 511.3,220.4 530.2,226.2 549.1,227.5 568,226.2 586.9,228.3 605.8,231.3 624.7,225.9 643.6,216.3 662.6,210.4 681.5,203.9 700.4,195.6 719.3,182.4 738.2,166.4 757.1,149.4 776,136.3"/>
<polyline points="76.4,353.7 95.3,359.6 114.2,364.7 133.1,365.8 152,366.3 170.9,370 189.8,367.2 208.8,357.7 227.7,344.4 246.6,334.4 265.5,327.9 284.4,320.5 303.3,310.8 322.2,302.9 341.1,298.7 360,292.3 378.9,285.9 397.8,282.4 416.7,279.8 435.7,278 454.6,282.1 473.5,292.5 492.4,302.2 511.3,306.4 530.2,303.8 549.1,311.7 568,322.4 586.9,321.2 605.8,305.6 624.7,287.9 643.6,279.4 662.6,257.6 681.5,239 700.4,229.5 719.3,222.2 738.2,211.2 757.1,199.8 776,190.3"/>
<polyline points="76.4,390.3 95.3,380 114.2,376 133.1,370.5 152,362.5 170.9,359.2 189.8,353.3 208.8,343.1 227.7,330.9 246.6,317.9 265.5,304.6 284.4,296 303.3,292.9 322.2,290.4 341.1,286.7 360,286.4 378.9,286.3 397.8,282.7 416.7,280.9 435.7,276.1 454.6,265.9 473.5,260.8 492.4,255.7 511.3,250 530.2,247.3 549.1,243.4 568,243.2 586.9,243.4 605.8,217.6 624.7,200.6 643.6,190.2 662.6,175.8 681.5,164.3 700.4,155.1 719.3,146.9 738.2,138.7 757.1,130.5 776,124.5"/>
<polyline points="76.4,391.3 95.3,385.6 114.2,378.3 133.1,373.5 152,369.2 170.9,367 189.8,358.1 208.8,344.1 227.7,330.1 246.6,319.5 265.5,309.4 284.4,297.7 303.3,291.1 322.2,286.9 341.1,277.8 360,268.3 378.9,264.7 397.8,259.5 416.7,249.6 435.7,242.9 454.6,240.5 473.5,238.6 492.4,244 511.3,249.5 530.2,244.4 549.1,248.1 568,314.3 586.9,382.6 605.8,328.8 624.7,257.6 643.6,233.4 662.6,221.9 681.5,208.9 700.4,199 719.3,192 738.2,185.8 757.1,179.2 776,173.7"/>
<polyline points="76.4,386.9 95.3,379.4 114.2,377.7 133.1,375.8 152,371.6 170.9,369.1 189.8,364.3 208.8,356.6 227.7,345.5 246.6,334.8 265.5,327.9 284.4,326.1 303.3,325.7 322.2,323.5 341.1,320.7 360,317.2 378.9,314.5 397.8,311.2 416.7,305.9 435.7,304.9 454.6,309.9 473.5,312.9 492.4,308.3 511.3,308.6 530.2,322 549.1,325.8 568,325.8 586.9,332.2 605.8,320.9 624.7,289.4 643.6,266.7 662.6,252.2 681.5,238 700.4,227.5 719.3,220.7 738.2,215.4 757.1,209.1 776,199.8"/>
<polyline points="76.4,463.5 95.3,426.6 114.2,392.7 133.1,377.4 152,370.8 170.9,364 189.8,352.7 208.8,338.3 227.7,324.2 246.6,311.8 265.5,305 284.4,303 303.3,302 322.2,300.6 341.1,295.8 360,290.6 378.9,285.3 397.8,279.9 416.7,276.2 435.7,270.9 454.6,269.8 473.5,274.7 492.4,277.8 511.3,278.6 530.2,279 549.1,267.1 568,264.7 586.9,296.1 605.8,309.4 624.7,256.8 643.6,213.9 662.6,207.1 681.5,207.7 700.4,209.8 719.3,217.5 738.2,227.6 757.1,235.5 776,244.5"/>
<polyline points="76.4,479.7 95.3,457.2 114.2,436.1 133.1,407.2 152,392 170.9,388.4 189.8,385.2 208.8,378.1 227.7,367 246.6,357.2 265.5,346.9 284.4,335 303.3,324.7 322.2,317.3 341.1,309.7 360,300.4 378.9,289.8 397.8,281.7 416.7,276.4 435.7,270.9 454.6,270.2 473.5,273.8 492.4,276.2 511.3,271.7 530.2,267 549.1,260.1 568,247 586.9,222.2 605.8,203.9 624.7,187.6 643.6,163.7 662.6,140.1 681.5,121.1 700.4,109.3 719.3,96.7 738.2,86.9 757.1,83.3 776,86.4"/>
<polyline points="76.4,707.7 95.3,587.2 114.2,503.7 133.1,434.5 152,407.9 170.9,404.8 189.8,403.3 208.8,395.7 227.7,383.3 246.6,370 265.5,354.8 284.4,341.9 303.3,331.7 322.2,320.3 341.1,309.5 360,302.5 378.9,295.8 397.8,287.3 416.7,282.1 435.7,279.6 454.6,278.8 473.5,278.4 492.4,280.6 511.3,285 530.2,279.7 549.1,270.1 568,270.9 586.9,260.4 605.8,238 624.7,210.4 643.6,190.7 662.6,174.1 681.5,154.8 700.4,139.6 719.3,125 738.2,111 757.1,100.9 776,96.1"/>
<polyline points="76.4,389.9 95.3,383.5 114.2,377.2 133.1,371.3 152,365.7 170.9,359.3 189.8,349.1 208.8,337.7 227.7,326.8 246.6,315.7 265.5,306.1 284.4,299.2 303.3,294.4 322.2,289.1 341.1,284.9 360,282.6 378.9,280.1 397.8,275.1 416.7,268.2 435.7,263 454.6,259.9 473.5,255.2 492.4,251.8 511.3,254.5 530.2,270 549.1,287.5 568,294.7 586.9,303.4 605.8,288.9 624.7,272.3 643.6,253.7 662.6,236.4 681.5,223.8 700.4,213.1 719.3,207.8 738.2,208.9 757.1,213 776,217.1"/>
<polyline points="76.4,349.8 95.3,342.9 114.2,336.1 133.1,329.7 152,325.8 170.9,325.8 189.8,323.5 208.8,317.6 227.7,311.5 246.6,304.6 265.5,296.6 284.4,293.6 303.3,294.7 322.2,298.4 341.1,302.4 360,308.3 378.9,313.9 397.8,318.6 416.7,326.4 435.7,332.3 454.6,331.2 473.5,324.2 492.4,311.4 511.3,296.7 530.2,278.5 549.1,247.9 568,208.9 586.9,179.9 605.8,167.9 624.7,159.7 643.6,154.3 662.6,156.6 681.5,157.2 700.4,153.8 719.3,148.3 738.2,142.6 757.1,137.9 776,137.9"/>
<polyline points="76.4,505.7 95.3,487.7 114.2,446.5 133.1,411.8 152,398.7 170.9,395 189.8,390.6 208.8,384.8 227.7,377.7 246.6,371.1 265.5,362.9 284.4,353.9 303.3,343 322.2,333.7 341.1,326.1 360,317.6 378.9,312.2 397.8,314.9 416.7,320.6 435.7,326.1 454.6,331.5 473.5,340.8 492.4,357.2 511.3,374.5 530.2,375.6 549.1,353.2 568,320.3 586.9,241.1 605.8,136 624.7,103.2 643.6,123.7 662.6,136.4 681.5,129.2 700.4,112.7 719.3,96.2 738.2,87.4 757.1,82.2 776,78.7"/>
<polyline points="76.4,581.3 95.3,474.6 114.2,420.5 133.1,395.4 152,384.9 170.9,378.2 189.8,366.1 208.8,352.8 227.7,339.8 246.6,328.9 265.5,319.6 284.4,312 303.3,307.3 322.2,304.4 341.1,299 360,290.7 378.9,284.7 397.8,275.2 416.7,261.1 435.7,249.1 454.6,239.5 473.5,227.4 492.4,216.4 511.3,208.6 530.2,203.1 549.1,192.2 568,185.1 586.9,182.6 605.8,173.3 624.7,167.3 643.6,169.1 662.6,172.5 681.5,173.8 700.4,173.5 719.3,173.9 738.2,173.7 757.1,169.1 776,160.8"/>
<polyline points="76.4,381.9 95.3,376.9 114.2,373.5 133.1,369.2 152,367.8 170.9,367.4 189.8,361.4 208.8,354.4 227.7,349.7 246.6,347.2 265.5,341.5 284.4,337.4 303.3,334.1 322.2,327.2 341.1,318.9 360,311.8 378.9,302.3 397.8,290.8 416.7,281.3 435.7,274.8 454.6,279.2 473.5,286.1 492.4,286.7 511.3,293 530.2,311.5 549.1,319.8 568,317.9 586.9,310.4 605.8,297.5 624.7,276.6 643.6,254.3 662.6,237.5 681.5,227.5 700.4,218.8 719.3,213.3 738.2,206.5 757.1,198.5 776,191.6"/>
<polyline points="76.4,481.4 95.3,444.9 114.2,413.3 133.1,391.8 152,382.3 170.9,374.7 189.8,363.3 208.8,350.1 227.7,334.5 246.6,320.9 265.5,310.4 284.4,302 303.3,296 322.2,290 341.1,284 360,278.8 378.9,274.1 397.8,269.5 416.7,267.2 435.7,266.4 454.6,268.4 473.5,268.4 492.4,271.1 511.3,274.4 530.2,281.5 549.1,286.2 568,291.6 586.9,304.8 605.8,339.6 624.7,373.7 643.6,319.1 662.6,245.8 681.5,216.1 700.4,203.2 719.3,194.6 738.2,186.2 757.1,173.9 776,162.5"/>
<polyline points="76.4,522.1 95.3,486.4 114.2,438.4 133.1,403.1 152,391.2 170.9,387.8 189.8,380.7 208.8,369.2 227.7,356.1 246.6,343.1 265.5,326.8 284.4,313.3 303.3,306.4 322.2,302.4 341.1,295.7 360,290 378.9,285.1 397.8,280.6 416.7,275.1 435.7,275.6 454.6,282.5 473.5,294.2 492.4,311.8 511.3,328.5 530.2,344.6 549.1,345.3 568,340.9 586.9,336.8 605.8,299.1 624.7,260.5 643.6,226.6 662.6,194.4 681.5,169.1 700.4,145.2 719.3,120.8 738.2,105.8 757.1,96.5 776,91.2"/>
<polyline points="76.4,367.2 95.3,363.6 114.2,360.9 133.1,358.2 152,359.1 170.9,362.9 189.8,360.4 208.8,354.6 227.7,347.6 246.6,339.7 265.5,330.8 284.4,323.2 303.3,318.1 322.2,313.6 341.1,309.5 360,305.5 378.9,302.1 397.8,298.5 416.7,295.3 435.7,292.8 454.6,290.9 473.5,289 492.4,282.6 511.3,270.2 530.2,264.5 549.1,250.6 568,230.1 586.9,218.5 605.8,203.5 624.7,188.1 643.6,170.5 662.6,156 681.5,148.8 700.4,140 719.3,126.8 738.2,118.7 757.1,115.1 776,115"/>
<polyline points="76.4,424 95.3,420.8 114.2,403.7 133.1,386.3 152,379.3 170.9,375.3 189.8,366.8 208.8,358.3 227.7,351.2 246.6,347.2 265.5,343.1 284.4,337.5 303.3,336.6 322.2,338.7 341.1,338.5 360,332 378.9,321.7 397.8,315.7 416.7,311.1 435.7,309.4 454.6,313.3 473.5,316.7 492.4,323.8 511.3,329.9 530.2,328.5 549.1,329.5 568,331.2 586.9,315.1 605.8,291.5 624.7,264.7 643.6,236.4 662.6,219.8 681.5,206.9 700.4,198.4 719.3,199.8 738.2,206.6 757.1,216.7 776,228.7"/>
<polyline points="76.4,388.8 95.3,378.3 114.2,372.5 133.1,371.7 152,369.4 170.9,367.3 189.8,364.3 208.8,359.2 227.7,353.9 246.6,347.9 265.5,338.5 284.4,328.7 303.3,321.7 322.2,314.6 341.1,304.9 360,294.1 378.9,288.6 397.8,283.7 416.7,276.6 435.7,269.4 454.6,268.1 473.5,265.4 492.4,260.4 511.3,253.9 530.2,244.8 549.1,241.9 568,223.2 586.9,177 605.8,123.3 624.7,114.6 643.6,146.6 662.6,161.3 681.5,162.6 700.4,161.7 719.3,160 738.2,165.7 757.1,174.8 776,184.9"/>
<polyline points="76.4,399.5 95.3,387.9 114.2,393.1 133.1,391.5 152,386 170.9,384.8 189.8,381.8 208.8,377.3 227.7,371.3 246.6,364.7 265.5,355 284.4,346.4 303.3,342.5 322.2,335.1 341.1,327 360,318.7 378.9,311 397.8,308.8 416.7,311.6 435.7,314.9 454.6,320.6 473.5,326.9 492.4,331.2 511.3,321.5 530.2,322.9 549.1,330.1 568,308 586.9,269.1 605.8,235.3 624.7,218.5 643.6,198.4 662.6,187.2 681.5,174.4 700.4,154.2 719.3,134.2 738.2,124.3 757.1,119.4 776,119.3"/>
<polyline points="76.4,468.8 95.3,401.9 114.2,380.9 133.1,366.7 152,356 170.9,347.9 189.8,338.7 208.8,328.8 227.7,319.1 246.6,309.9 265.5,300.3 284.4,293.5 303.3,291.9 322.2,294.5 341.1,296.2 360,297.2 378.9,299.5 397.8,304.3 416.7,307.5 435.7,308.6 454.6,309 473.5,305.1 492.4,302.5 511.3,290.7 530.2,273 549.1,270.6 568,271.5 586.9,257.6 605.8,236.6 624.7,218 643.6,195.3 662.6,177 681.5,159.2 700.4,135.1 719.3,110.5 738.2,94.1 757.1,81 776,75.5"/>
<polyline points="76.4,374.1 95.3,363 114.2,354.5 133.1,347.3 152,337.2 170.9,333.7 189.8,332.8 208.8,326.9 227.7,318.6 246.6,312.9 265.5,308.7 284.4,307.8 303.3,310.1 322.2,311.7 341.1,310 360,305.2 378.9,300.5 397.8,297 416.7,296.7 435.7,296.7 454.6,296.3 473.5,296.4 492.4,297.8 511.3,293.8 530.2,282.3 549.1,263.6 568,253.4 586.9,246.7 605.8,227 624.7,204.7 643.6,186.9 662.6,171.7 681.5,162.8 700.4,154.7 719.3,146.6 738.2,141.2 757.1,141.3 776,146.5"/>
<polyline points="76.4,616.7 95.3,531.9 114.2,466.1 133.1,419.9 152,398.2 170.9,390.4 189.8,381.7 208.8,368 227.7,350.9 246.6,334.3 265.5,319.5 284.4,308.4 303.3,300.4 322.2,293.3 341.1,286.7 360,278.9 378.9,275 397.8,272.5 416.7,270.3 435.7,268.9 454.6,276.5 473.5,284.4 492.4,289.9 511.3,291 530.2,289.4 549.1,299.3 568,313.8 586.9,309.9 605.8,297.8 624.7,285.2 643.6,266 662.6,249.4 681.5,233.7 700.4,218.4 719.3,208.6 738.2,190.6 757.1,164.2 776,136.4"/>
<polyline points="76.4,373.6 95.3,372.1 114.2,369.6 133.1,366.5 152,362.5 170.9,358.7 189.8,351.6 208.8,340 227.7,325.3 246.6,313.3 265.5,304.4 284.4,296 303.3,288.7 322.2,282.7 341.1,278.7 360,274.1 378.9,273.5 397.8,274.4 416.7,274.2 435.7,274.2 454.6,273.8 473.5,270.1 492.4,261.9 511.3,262.6 530.2,254.9 549.1,229.3 568,237.3 586.9,295.6 605.8,281.2 624.7,212.7 643.6,186.2 662.6,192.1 681.5,200.2 700.4,206.7 719.3,216.7 738.2,223.7 757.1,229.2 776,231.7"/>
<polyline points="76.4,576.9 95.3,487.1 114.2,429.5 133.1,397.9 152,386.5 170.9,379.8 189.8,371.3 208.8,363.1 227.7,352.8 246.6,341.9 265.5,330.5 284.4,320.3 303.3,311.6 322.2,302 341.1,291.2 360,283.4 378.9,276.8 397.8,270.3 416.7,264.8 435.7,264.5 454.6,270.5 473.5,274 492.4,277.7 511.3,279.6 530.2,279.9 549.1,279.9 568,274.8 586.9,254.8 605.8,229.9 624.7,212.3 643.6,192.6 662.6,181.2 681.5,178.6 700.4,173.8 719.3,169.7 738.2,170.4 757.1,170.6 776,166.7"/>
<polyline points="76.4,419.1 95.3,393.2 114.2,381.5 133.1,373.8 152,367.7 170.9,357.4 189.8,345.1 208.8,333.9 227.7,321.4 246.6,307.3 265.5,295.7 284.4,289.7 303.3,284 322.2,280.8 341.1,278 360,273.2 378.9,270.6 397.8,269.7 416.7,266.6 435.7,265.5 454.6,268.2 473.5,269.1 492.4,273.1 511.3,274.4 530.2,274.8 549.1,277.2 568,276.9 586.9,266.1 605.8,253.6 624.7,238.4 643.6,217.8 662.6,201.3 681.5,194.1 700.4,184.1 719.3,173.3 738.2,165.4 757.1,160.1 776,158.8"/>
<polyline points="76.4,375.3 95.3,363.2 114.2,352.9 133.1,347.3 152,343.5 170.9,342.4 189.8,339.5 208.8,331.7 227.7,319.8 246.6,310.3 265.5,303.6 284.4,302.5 303.3,305.3 322.2,306.3 341.1,307.7 360,309 378.9,307.7 397.8,304.8 416.7,299.9 435.7,293.6 454.6,290.4 473.5,291.2 492.4,286.5 511.3,273.5 530.2,266 549.1,263.6 568,260.6 586.9,255.3 605.8,255.9 624.7,252.6 643.6,242.6 662.6,229.8 681.5,218.7 700.4,208.2 719.3,197.7 738.2,184.2 757.1,169.8 776,162.6"/>
<polyline points="76.4,404.1 95.3,385 114.2,375.8 133.1,363.2 152,351.9 170.9,345.1 189.8,339.4 208.8,333.2 227.7,322.5 246.6,315 265.5,311.9 284.4,313.3 303.3,312.7 322.2,309.3 341.1,302.7 360,294.8 378.9,284.9 397.8,271.7 416.7,260.8 435.7,249.7 454.6,243.6 473.5,240.1 492.4,241.7 511.3,256.2 530.2,264.4 549.1,276.5 568,315 586.9,342.3 605.8,344.5 624.7,329.9 643.6,311.8 662.6,282.4 681.5,259.3 700.4,241 719.3,220 738.2,192.8 757.1,161.6 776,136"/>
<polyline points="76.4,293.8 95.3,308 114.2,316.9 133.1,323.5 152,328.7 170.9,335 189.8,338.3 208.8,337.2 227.7,331.7 246.6,325.9 265.5,317 284.4,305.4 303.3,297.2 322.2,289.1 341.1,279.3 360,270.1 378.9,267 397.8,268.1 416.7,269.2 435.7,271.1 454.6,276 473.5,281.6 492.4,280.3 511.3,271.9 530.2,261.8 549.1,253.4 568,243.2 586.9,219.4 605.8,178.4 624.7,146.8 643.6,139.1 662.6,138.5 681.5,133.4 700.4,128.5 719.3,122.6 738.2,121 757.1,125.9 776,138.1"/>
<polyline points="76.4,383 95.3,376 114.2,371.1 133.1,367.4 152,365.8 170.9,363.9 189.8,358.4 208.8,351.9 227.7,344.5 246.6,337.8 265.5,329 284.4,319.4 303.3,312.4 322.2,306.1 341.1,295.4 360,286.3 378.9,280.7 397.8,276.9 416.7,273.1 435.7,268.4 454.6,266.4 473.5,271.3 492.4,279.7 511.3,290.6 530.2,286.5 549.1,267.8 568,296.6 586.9,355.5 605.8,304.3 624.7,227.2 643.6,197.6 662.6,186.3 681.5,179.6 700.4,174.1 719.3,167.9 738.2,161.3 757.1,154 776,146.4"/>
<polyline points="76.4,493.9 95.3,440.9 114.2,406.5 133.1,386.2 152,378.8 170.9,373.3 189.8,366.1 208.8,357.4 227.7,349.7 246.6,344.5 265.5,340.2 284.4,338.6 303.3,338.5 322.2,333.5 341.1,326.7 360,320.3 378.9,313.2 397.8,305.3 416.7,298.5 435.7,291.3 454.6,287.8 473.5,283.8 492.4,276.8 511.3,269.9 530.2,266.8 549.1,252.3 568,220.7 586.9,207 605.8,204.9 624.7,191.4 643.6,178.3 662.6,172.6 681.5,167.8 700.4,166.9 719.3,165.4 738.2,168 757.1,174.1 776,180.3"/>
<polyline points="76.4,384.3 95.3,367.8 114.2,359.1 133.1,354.5 152,350 170.9,348.3 189.8,344.3 208.8,341.9 227.7,335.5 246.6,327.1 265.5,320.9 284.4,314.3 303.3,308.3 322.2,303.1 341.1,297.6 360,287.3 378.9,281.4 397.8,277.6 416.7,269.6 435.7,264.4 454.6,268.8 473.5,275.5 492.4,280.8 511.3,281.6 530.2,278.7 549.1,277.9 568,276.8 586.9,254.7 605.8,242.5 624.7,240.8 643.6,228.6 662.6,225.8 681.5,231.7 700.4,235.6 719.3,235.2 738.2,231.5 757.1,224.5 776,215.1"/>
<polyline points="76.4,858.4 95.3,729.3 114.2,584.6 133.1,467.9 152,427.4 170.9,421.5 189.8,417 208.8,409.9 227.7,398.3 246.6,384.5 265.5,371.5 284.4,362.6 303.3,356.8 322.2,351.1 341.1,347.7 360,347.1 378.9,346.4 397.8,347.1 416.7,349.3 435.7,351.6 454.6,355.9 473.5,356.5 492.4,355.7 511.3,351.4 530.2,336.9 549.1,314.2 568,297.4 586.9,294.1 605.8,300.1 624.7,257.2 643.6,191.1 662.6,162.6 681.5,151.8 700.4,140.5 719.3,130.2 738.2,118.7 757.1,106.4 776,99.7"/>
<polyline points="76.4,487.4 95.3,460.3 114.2,422.7 133.1,394.6 152,384.9 170.9,380.8 189.8,373.1 208.8,363.2 227.7,350.8 246.6,340.2 265.5,329.5 284.4,321.9 303.3,314.4 322.2,303.2 341.1,293.1 360,283.8 378.9,273.9 397.8,263.8 416.7,251.6 435.7,241.8 454.6,239.7 473.5,240.9 492.4,243.1 511.3,244.9 530.2,249.9 549.1,258.3 568,263.1 586.9,262.6 605.8,256.6 624.7,243.5 643.6,228 662.6,212.4 681.5,203.1 700.4,195 719.3,187.7 738.2,179.4 757.1,172.9 776,169.7"/>
<polyline points="76.4,567.2 95.3,507.7 114.2,449.7 133.1,407.7 152,392.3 170.9,385.6 189.8,377.2 208.8,365.6 227.7,346.9 246.6,327.3 265.5,310.5 284.4,301.8 303.3,297.4 322.2,292.5 341.1,286 360,281 378.9,278.7 397.8,276.1 416.7,273.2 435.7,269.6 454.6,269.8 473.5,270.7 492.4,270.9 511.3,272.9 530.2,279.2 549.1,286 568,284.8 586.9,261.7 605.8,244.3 624.7,220.2 643.6,197.2 662.6,185.5 681.5,172.4 700.4,158.9 719.3,144 738.2,132.6 757.1,125.2 776,123.9"/>
<polyline points="76.4,384 95.3,377.4 114.2,373.7 133.1,372.4 152,374 170.9,374 189.8,369 208.8,363.5 227.7,357 246.6,347.9 265.5,338.7 284.4,330.7 303.3,322.3 322.2,314.2 341.1,307.6 360,301.5 378.9,295.2 397.8,289.2 416.7,285 435.7,284.6 454.6,285.5 473.5,286.8 492.4,287.1 511.3,284.4 530.2,293 549.1,303.5 568,289.4 586.9,258.7 605.8,236.3 624.7,217.6 643.6,203.3 662.6,186.5 681.5,176.4 700.4,170.9 719.3,165.5 738.2,165.9 757.1,168 776,171.6"/>
<polyline points="76.4,543.8 95.3,503.2 114.2,453.9 133.1,413.4 152,398.1 170.9,398 189.8,401.1 208.8,400.6 227.7,396.4 246.6,391.9 265.5,381.7 284.4,374.7 303.3,368.5 322.2,356.8 341.1,340.8 360,323.3 378.9,310.1 397.8,302.4 416.7,296.5 435.7,293 454.6,294.1 473.5,293.6 492.4,297.2 511.3,306.7 530.2,311.5 549.1,317.7 568,309.4 586.9,284.3 605.8,267.5 624.7,243.6 643.6,214.4 662.6,195.1 681.5,179.5 700.4,167.2 719.3,158.6 738.2,148.9 757.1,141.2 776,137.6"/>
<polyline points="76.4,358.5 95.3,349.5 114.2,345.4 133.1,338 152,330.2 170.9,331.2 189.8,329.6 208.8,322.8 227.7,313 246.6,302.6 265.5,293.4 284.4,287.4 303.3,283.6 322.2,281.5 341.1,282.2 360,284.2 378.9,283.2 397.8,282.7 416.7,281.5 435.7,278.3 454.6,277.8 473.5,274.7 492.4,269.6 511.3,268.1 530.2,263.1 549.1,255.1 568,238.6 586.9,214 605.8,206.1 624.7,204.4 643.6,195.8 662.6,195.4 681.5,198 700.4,198.9 719.3,202 738.2,204.1 757.1,204.5 776,204.7"/>
<polyline points="76.4,410.2 95.3,388 114.2,375.6 133.1,359.5 152,340.8 170.9,332 189.8,328.2 208.8,319.3 227.7,306.1 246.6,298.2 265.5,295 284.4,291.8 303.3,289 322.2,290.7 341.1,291.3 360,287.5 378.9,283.5 397.8,279.6 416.7,274.9 435.7,270 454.6,273.3 473.5,282.6 492.4,299.7 511.3,320.7 530.2,325.5 549.1,342 568,372.1 586.9,367.9 605.8,312 624.7,261.8 643.6,234.5 662.6,214.5 681.5,196.3 700.4,179.3 719.3,159.8 738.2,144.4 757.1,131.3 776,119.7"/>
<polyline points="76.4,398.3 95.3,413.6 114.2,406.3 133.1,395.3 152,388.3 170.9,384.2 189.8,377.9 208.8,373.3 227.7,369.8 246.6,362.7 265.5,353.8 284.4,347.3 303.3,341.2 322.2,333.1 341.1,321.3 360,309.7 378.9,300.4 397.8,292.8 416.7,288.3 435.7,285.3 454.6,284.6 473.5,285.7 492.4,290.6 511.3,301.5 530.2,314.5 549.1,321 568,321.6 586.9,334.1 605.8,354 624.7,317.7 643.6,263 662.6,237 681.5,226.8 700.4,219.5 719.3,216.2 738.2,210.5 757.1,203.8 776,195.8"/>
<polyline points="76.4,442.5 95.3,408.3 114.2,391.6 133.1,378 152,366.1 170.9,354.9 189.8,343.9 208.8,334.5 227.7,324.8 246.6,317.6 265.5,312 284.4,307.8 303.3,308.5 322.2,310.1 341.1,309 360,305 378.9,297.9 397.8,289.9 416.7,280.7 435.7,270 454.6,260.4 473.5,247.1 492.4,228.2 511.3,214.8 530.2,211.9 549.1,209.6 568,206.8 586.9,191.7 605.8,173.9 624.7,167.7 643.6,159.3 662.6,144.7 681.5,133.4 700.4,124 719.3,114.4 738.2,107.9 757.1,104.1 776,101.9"/>
<polyline points="76.4,379.2 95.3,370.5 114.2,364.3 133.1,364.5 152,368.2 170.9,369.2 189.8,363.9 208.8,356.3 227.7,346.9 246.6,340.1 265.5,334.6 284.4,329.4 303.3,323.3 322.2,315.4 341.1,308.3 360,300.7 378.9,291.3 397.8,283.9 416.7,275.8 435.7,265.4 454.6,260.9 473.5,257.8 492.4,253.3 511.3,251.7 530.2,246.1 549.1,240 568,228.4 586.9,214.1 605.8,199.5 624.7,192.6 643.6,186.5 662.6,182.2 681.5,178.9 700.4,174.6 719.3,172.8 738.2,170.5 757.1,166.6 776,162.6"/>
<polyline points="76.4,411.1 95.3,431.8 114.2,428.7 133.1,406.6 152,396.7 170.9,395.1 189.8,389.9 208.8,382.2 227.7,370.8 246.6,358.3 265.5,345.1 284.4,332.2 303.3,321.2 322.2,310.7 341.1,301 360,289.9 378.9,280.1 397.8,274.2 416.7,265.7 435.7,258.3 454.6,253.2 473.5,249.2 492.4,248.8 511.3,252.1 530.2,256.3 549.1,256.3 568,246.8 586.9,225.6 605.8,211.5 624.7,203.1 643.6,190.2 662.6,179.7 681.5,171.3 700.4,161.2 719.3,144.4 738.2,131 757.1,121.8 776,117"/>
<polyline points="76.4,418.3 95.3,387.6 114.2,375.5 133.1,364 152,353.8 170.9,348 189.8,341.9 208.8,332.7 227.7,321.1 246.6,309.2 265.5,298.7 284.4,291.5 303.3,285.8 322.2,282.6 341.1,281.9 360,279.5 378.9,280.8 397.8,285.1 416.7,288.3 435.7,291.1 454.6,295.2 473.5,304.9 492.4,312.4 511.3,303.3 530.2,287.6 549.1,265.2 568,210.1 586.9,149.5 605.8,175.6 624.7,220.7 643.6,218.7 662.6,205.1 681.5,199.2 700.4,198.3 719.3,198 738.2,199.1 757.1,201.2 776,205.5"/>
<polyline points="76.4,317.6 95.3,321.1 114.2,320.9 133.1,319.3 152,322.9 170.9,331.3 189.8,336.6 208.8,336.3 227.7,332.6 246.6,326.2 265.5,317.4 284.4,310.2 303.3,305.2 322.2,300.7 341.1,295.6 360,290.9 378.9,286.9 397.8,280.9 416.7,274 435.7,271.4 454.6,271.9 473.5,266.5 492.4,255.5 511.3,248.6 530.2,243 549.1,246.9 568,254.9 586.9,263.3 605.8,258.2 624.7,254.5 643.6,253.5 662.6,248.1 681.5,245 700.4,241.8 719.3,240.5 738.2,232.8 757.1,220 776,204.5"/>
<polyline points="76.4,578.4 95.3,486.8 114.2,424.9 133.1,396.8 152,385.9 170.9,379.3 189.8,369.6 208.8,359 227.7,349.3 246.6,339.8 265.5,330.8 284.4,324.1 303.3,321.9 322.2,318.7 341.1,312.1 360,304.3 378.9,297.6 397.8,294.1 416.7,289.6 435.7,282.9 454.6,277.4 473.5,273.1 492.4,269.6 511.3,259 530.2,248.9 549.1,236.6 568,223.8 586.9,192.7 605.8,116.4 624.7,91.4 643.6,143.3 662.6,174.2 681.5,172.8 700.4,165.5 719.3,152.2 738.2,138.5 757.1,126.9 776,118"/>
<polyline points="76.4,378.6 95.3,365.8 114.2,359.4 133.1,357.3 152,358.4 170.9,359.4 189.8,356 208.8,352.1 227.7,347.7 246.6,344.1 265.5,341.9 284.4,340.8 303.3,340.5 322.2,341.1 341.1,338.5 360,334.5 378.9,331.5 397.8,327.7 416.7,323.3 435.7,320.9 454.6,323.9 473.5,322.6 492.4,313 511.3,306.9 530.2,301.2 549.1,280.9 568,266.4 586.9,238.3 605.8,201.5 624.7,177.4 643.6,161.8 662.6,160.4 681.5,158.8 700.4,152.7 719.3,153.6 738.2,159.2 757.1,162.9 776,169.3"/>
<polyline points="76.4,368.9 95.3,357.2 114.2,353.1 133.1,349.2 152,349.4 170.9,350.1 189.8,348.3 208.8,349.4 227.7,348.4 246.6,346.7 265.5,347.4 284.4,347.3 303.3,346.3 322.2,343.7 341.1,340.6 360,337.5 378.9,333.4 397.8,329.4 416.7,328.2 435.7,329.3 454.6,327.9 473.5,327.5 492.4,325.1 511.3,318.8 530.2,319.8 549.1,329.7 568,326.4 586.9,303.7 605.8,279.8 624.7,261.1 643.6,242.9 662.6,227.7 681.5,217.3 700.4,203.6 719.3,195.3 738.2,197.9 757.1,202.6 776,208.4"/>
<polyline points="76.4,497.3 95.3,462.7 114.2,424.2 133.1,398.2 152,388 170.9,382.5 189.8,374.5 208.8,367.4 227.7,357 246.6,347.3 265.5,338.3 284.4,330.9 303.3,328.3 322.2,321.9 341.1,308.8 360,297.8 378.9,287.5 397.8,275.6 416.7,263 435.7,250.9 454.6,239.9 473.5,232.6 492.4,230.6 511.3,227 530.2,222 549.1,214.7 568,221.3 586.9,269.8 605.8,323.9 624.7,303.2 643.6,233.8 662.6,200.7 681.5,188.1 700.4,182 719.3,181.3 738.2,179.2 757.1,174.3 776,172.4"/>
<polyline points="76.4,468 95.3,409 114.2,381.1 133.1,373.4 152,362.8 170.9,352.4 189.8,342.6 208.8,333.7 227.7,325.6 246.6,317 265.5,310.6 284.4,307.6 303.3,304.5 322.2,303.2 341.1,303 360,303.6 378.9,301 397.8,296.6 416.7,295.5 435.7,295.2 454.6,299.6 473.5,305.6 492.4,306.5 511.3,299.9 530.2,294 549.1,293 568,284.2 586.9,254.2 605.8,232.3 624.7,216.7 643.6,201.3 662.6,194.9 681.5,191.7 700.4,191.2 719.3,190.3 738.2,187.4 757.1,184.1 776,181"/>
<polyline points="76.4,407.5 95.3,395.6 114.2,383.2 133.1,379 152,378.5 170.9,373 189.8,359 208.8,345 227.7,329.9 246.6,315.4 265.5,301.5 284.4,290 303.3,281.4 322.2,277.6 341.1,276.9 360,274.6 378.9,270.7 397.8,269.4 416.7,266.3 435.7,261.5 454.6,261.5 473.5,261.7 492.4,259.4 511.3,265.7 530.2,276.2 549.1,279.8 568,276.1 586.9,271.4 605.8,265.9 624.7,248.3 643.6,228.1 662.6,216.4 681.5,210.5 700.4,203.3 719.3,195.3 738.2,189.3 757.1,187.7 776,188.2"/>
<polyline points="76.4,553 95.3,500.2 114.2,456.9 133.1,414.1 152,397.8 170.9,395 189.8,391.1 208.8,385.5 227.7,374.4 246.6,363.6 265.5,354.3 284.4,344.4 303.3,341.2 322.2,341.4 341.1,336 360,331.3 378.9,328.8 397.8,327.7 416.7,329.6 435.7,329.6 454.6,330.7 473.5,332.9 492.4,330.5 511.3,327.6 530.2,328.3 549.1,325.9 568,302.3 586.9,261.3 605.8,233.5 624.7,220.2 643.6,205.1 662.6,190.8 681.5,176.9 700.4,161.6 719.3,148.3 738.2,141.3 757.1,141.1 776,142.5"/>
<polyline points="76.4,347 95.3,358.6 114.2,374.1 133.1,385.5 152,386.9 170.9,387.7 189.8,386.1 208.8,380.8 227.7,369.3 246.6,357.4 265.5,345.2 284.4,336.5 303.3,326.9 322.2,315.9 341.1,306.6 360,297.5 378.9,290.7 397.8,286.6 416.7,285.4 435.7,282.5 454.6,279.2 473.5,274 492.4,268.4 511.3,266.5 530.2,260.7 549.1,236 568,217.7 586.9,206 605.8,198 624.7,200.6 643.6,192.8 662.6,180.3 681.5,175.3 700.4,176 719.3,174.7 738.2,172.8 757.1,168.2 776,165.7"/>
<polyline points="76.4,419.4 95.3,379.9 114.2,368.5 133.1,364.4 152,361.7 170.9,356.9 189.8,351.1 208.8,344.8 227.7,337.9 246.6,333.5 265.5,328.1 284.4,324.3 303.3,320.3 322.2,314.3 341.1,307.1 360,298.3 378.9,290.9 397.8,286.6 416.7,283.2 435.7,279.4 454.6,280.1 473.5,286.1 492.4,292.5 511.3,302.9 530.2,315.3 549.1,310.3 568,308 586.9,300.1 605.8,284.3 624.7,265.8 643.6,245.1 662.6,229.5 681.5,219.1 700.4,209.9 719.3,205 738.2,202.3 757.1,196.9 776,192.2"/>
<polyline points="76.4,460.3 95.3,462.3 114.2,438.9 133.1,411 152,395.9 170.9,391.8 189.8,388.7 208.8,378.3 227.7,360.5 246.6,342.7 265.5,328.4 284.4,315.8 303.3,303 322.2,293.5 341.1,285.7 360,280 378.9,277.3 397.8,273.9 416.7,272.6 435.7,274 454.6,276.5 473.5,279.9 492.4,280.7 511.3,286.2 530.2,284.2 549.1,275.5 568,263.8 586.9,229.1 605.8,157.6 624.7,122.3 643.6,157.2 662.6,175.3 681.5,165.1 700.4,153.1 719.3,139.7 738.2,125 757.1,111.4 776,101.6"/>
<polyline points="76.4,348.5 95.3,349.2 114.2,351.5 133.1,354.1 152,359.4 170.9,364.9 189.8,366.6 208.8,369.5 227.7,370.4 246.6,368.8 265.5,367 284.4,367.1 303.3,364.6 322.2,361.1 341.1,357.5 360,354.5 378.9,348.5 397.8,342.5 416.7,339.1 435.7,334.7 454.6,335.1 473.5,338.5 492.4,333.3 511.3,319.5 530.2,308.3 549.1,294.6 568,281.1 586.9,267.5 605.8,250.3 624.7,240.8 643.6,224.9 662.6,210.4 681.5,206.4 700.4,205.3 719.3,202.5 738.2,199.3 757.1,197.3 776,195.9"/>
<polyline points="76.4,376.5 95.3,377.3 114.2,381.2 133.1,387.1 152,386 170.9,384.3 189.8,380.6 208.8,375.3 227.7,363.1 246.6,345.9 265.5,328.8 284.4,311.8 303.3,295.3 322.2,279.2 341.1,266.2 360,254.2 378.9,243.5 397.8,233.8 416.7,222.1 435.7,209.6 454.6,202 473.5,191.7 492.4,174.4 511.3,159.5 530.2,154.5 549.1,147.6 568,128.2 586.9,129.3 605.8,147.6 624.7,156.2 643.6,156.4 662.6,157.5 681.5,155.4 700.4,153.5 719.3,150.5 738.2,147.1 757.1,145.7 776,150.8"/>
<polyline points="76.4,782.6 95.3,670.1 114.2,565.1 133.1,469 152,427.7 170.9,420.6 189.8,419 208.8,407.1 227.7,387.3 246.6,366.9 265.5,354.7 284.4,348 303.3,336.4 322.2,324.6 341.1,315.9 360,309.6 378.9,300.6 397.8,291.3 416.7,280.3 435.7,268 454.6,260.2 473.5,259.5 492.4,252.6 511.3,224.6 530.2,187.5 549.1,155.3 568,127.5 586.9,131.4 605.8,136.4 624.7,138 643.6,155.1 662.6,176.2 681.5,190.8 700.4,200.8 719.3,209.9 738.2,217.6 757.1,225.5 776,236.7"/>
<polyline points="76.4,396.2 95.3,382.4 114.2,376.1 133.1,371.6 152,369.7 170.9,366.6 189.8,360.4 208.8,353.9 227.7,347.4 246.6,338.1 265.5,325.5 284.4,316.3 303.3,306.1 322.2,291.8 341.1,278.4 360,267.7 378.9,260.4 397.8,254.1 416.7,248.9 435.7,251.1 454.6,260.6 473.5,279 492.4,304.9 511.3,336.8 530.2,361 549.1,365.1 568,370.9 586.9,353.1 605.8,324.6 624.7,295.7 643.6,263.5 662.6,235.6 681.5,219.8 700.4,203.1 719.3,189.6 738.2,176.2 757.1,165.6 776,158.9"/>
<polyline points="76.4,397 95.3,367.3 114.2,354 133.1,353 152,357.8 170.9,364.5 189.8,364.8 208.8,364.5 227.7,359.8 246.6,351.4 265.5,343 284.4,327.9 303.3,309.7 322.2,293.6 341.1,279.7 360,267.8 378.9,260.7 397.8,253.9 416.7,246.9 435.7,249.9 454.6,263.8 473.5,280.1 492.4,294.7 511.3,311.5 530.2,335.2 549.1,354.2 568,359 586.9,353.6 605.8,339.7 624.7,308.7 643.6,277.5 662.6,251.9 681.5,237.2 700.4,221.9 719.3,205.6 738.2,190.9 757.1,177.6 776,165.6"/>
<polyline points="76.4,425.2 95.3,421 114.2,406.5 133.1,392.7 152,388.4 170.9,388.4 189.8,383.4 208.8,373.7 227.7,360.6 246.6,347.4 265.5,334.8 284.4,320 303.3,304.8 322.2,291.3 341.1,275.4 360,261.8 378.9,251.4 397.8,243.3 416.7,238.9 435.7,235 454.6,235.8 473.5,236.7 492.4,233.3 511.3,238.2 530.2,244.3 549.1,241.8 568,232 586.9,225.9 605.8,231.6 624.7,230 643.6,224.9 662.6,221.8 681.5,218.8 700.4,219.9 719.3,219.7 738.2,215.2 757.1,206.2 776,192.9"/>
<polyline points="76.4,537.2 95.3,466.4 114.2,411.8 133.1,387.4 152,379.2 170.9,369 189.8,355.6 208.8,341.1 227.7,324.5 246.6,310 265.5,296.2 284.4,286.3 303.3,278.9 322.2,273.5 341.1,271.9 360,271.3 378.9,271.9 397.8,272.3 416.7,267.4 435.7,263.4 454.6,260.3 473.5,250.7 492.4,247.7 511.3,240.9 530.2,238.3 549.1,250.4 568,254.4 586.9,240.8 605.8,224.7 624.7,217.8 643.6,209.7 662.6,201.2 681.5,198.8 700.4,196.7 719.3,190.9 738.2,182.2 757.1,173.7 776,163.8"/>
<polyline points="76.4,741.4 95.3,629.3 114.2,509.1 133.1,428.4 152,400.7 170.9,393.1 189.8,382 208.8,366 227.7,345.1 246.6,322.9 265.5,303.2 284.4,286.8 303.3,276.3 322.2,269.4 341.1,262.7 360,257.4 378.9,257.9 397.8,260.6 416.7,261.4 435.7,260.4 454.6,259.9 473.5,268.2 492.4,276.3 511.3,279.6 530.2,276.7 549.1,298 568,325.9 586.9,331.5 605.8,305.1 624.7,278 643.6,257.2 662.6,235.3 681.5,216.6 700.4,197.3 719.3,177.7 738.2,158.4 757.1,134.5 776,111.8"/>
<polyline points="76.4,354 95.3,359.9 114.2,364.2 133.1,370.3 152,379.3 170.9,381.2 189.8,378.5 208.8,374.3 227.7,365.8 246.6,354.4 265.5,341.6 284.4,330.2 303.3,319.9 322.2,310.6 341.1,299.9 360,290.4 378.9,283.7 397.8,277.3 416.7,272.6 435.7,270.6 454.6,270.7 473.5,268.5 492.4,260.8 511.3,256.4 530.2,262.2 549.1,267.8 568,253.6 586.9,237.7 605.8,235.1 624.7,241.6 643.6,241.7 662.6,239.6 681.5,240.3 700.4,241.6 719.3,245.5 738.2,244.8 757.1,243.7 776,240.3"/>
<polyline points="76.4,484.5 95.3,440.1 114.2,407.9 133.1,389.8 152,383.2 170.9,380.3 189.8,374.1 208.8,364.4 227.7,355.2 246.6,347.1 265.5,335 284.4,323.8 303.3,314.8 322.2,306.9 341.1,300.7 360,293.4 378.9,285.7 397.8,279.3 416.7,274.5 435.7,271.3 454.6,267.2 473.5,268 492.4,269.8 511.3,276 530.2,283.8 549.1,279.8 568,265.5 586.9,253.7 605.8,243.1 624.7,224.1 643.6,206.4 662.6,196.4 681.5,185.7 700.4,169.8 719.3,155.7 738.2,148.6 757.1,147.7 776,152.6"/>
<polyline points="76.4,529.1 95.3,506.9 114.2,460.5 133.1,418.3 152,401.8 170.9,398.7 189.8,392.9 208.8,381.3 227.7,364 246.6,343.1 265.5,322.8 284.4,306.6 303.3,291.9 322.2,277.4 341.1,266.6 360,258.6 378.9,253.1 397.8,247 416.7,238 435.7,232.5 454.6,231.4 473.5,233.7 492.4,239.2 511.3,244.2 530.2,248.1 549.1,242.1 568,247.2 586.9,278.4 605.8,353.6 624.7,374.8 643.6,289 662.6,229.4 681.5,206.9 700.4,192.1 719.3,179.8 738.2,170.2 757.1,160.4 776,152.3"/>
<polyline points="76.4,377.9 95.3,366 114.2,355.8 133.1,346.6 152,339 170.9,336.4 189.8,334.1 208.8,328.3 227.7,321.7 246.6,315.4 265.5,309.4 284.4,311 303.3,315.4 322.2,315.6 341.1,316.6 360,316.1 378.9,312.4 397.8,310.3 416.7,309.7 435.7,310.4 454.6,311.9 473.5,311.8 492.4,310.3 511.3,306 530.2,303.2 549.1,297 568,267 586.9,229.1 605.8,214.9 624.7,211.6 643.6,206.3 662.6,196.2 681.5,189 700.4,183.8 719.3,178.9 738.2,172.1 757.1,163.4 776,153.8"/>
<polyline points="76.4,336.5 95.3,340.1 114.2,344.8 133.1,355.9 152,364.4 170.9,368.6 189.8,367.9 208.8,363.3 227.7,355.9 246.6,351.8 265.5,346.3 284.4,338 303.3,331 322.2,323.2 341.1,314.2 360,302.5 378.9,289.6 397.8,282.5 416.7,279 435.7,273.1 454.6,265.2 473.5,260.6 492.4,261.9 511.3,266.6 530.2,282.3 549.1,294.8 568,295.9 586.9,299.7 605.8,290.8 624.7,280.1 643.6,268.2 662.6,249.8 681.5,236 700.4,229.5 719.3,227.5 738.2,225.3 757.1,224.4 776,225.8"/>
<polyline points="76.4,566.8 95.3,499.4 114.2,447.2 133.1,407.8 152,393.5 170.9,390.2 189.8,382 208.8,372.6 227.7,359.4 246.6,341.9 265.5,330 284.4,324.9 303.3,318.1 322.2,306.1 341.1,295.7 360,285.1 378.9,275.2 397.8,270.8 416.7,264 435.7,259.5 454.6,260 473.5,258.6 492.4,253.2 511.3,248.9 530.2,244.8 549.1,252.9 568,226.7 586.9,203 605.8,189 624.7,154.5 643.6,127.2 662.6,112.5 681.5,104.1 700.4,95.8 719.3,82.6 738.2,77.8 757.1,81.4 776,92.6"/>
<polyline points="76.4,392.9 95.3,382.8 114.2,374.2 133.1,365.9 152,354.7 170.9,346.9 189.8,337.6 208.8,325.5 227.7,311 246.6,301.5 265.5,296.1 284.4,293 303.3,294.9 322.2,299.7 341.1,302.9 360,305.2 378.9,307.8 397.8,308.9 416.7,309.1 435.7,309.2 454.6,314.7 473.5,319.6 492.4,315.2 511.3,310.4 530.2,303.2 549.1,284.2 568,250.1 586.9,211.8 605.8,191 624.7,182.2 643.6,178.4 662.6,176.4 681.5,173.9 700.4,170.2 719.3,163.2 738.2,158.2 757.1,157.8 776,160"/>
<polyline points="76.4,392.4 95.3,394.3 114.2,383.9 133.1,379.1 152,378 170.9,371.2 189.8,356.8 208.8,342.5 227.7,323.6 246.6,306.6 265.5,294.3 284.4,283.3 303.3,275 322.2,269.7 341.1,261.8 360,251.7 378.9,243.6 397.8,235.3 416.7,224.3 435.7,215.9 454.6,215.4 473.5,218.1 492.4,218.3 511.3,228.1 530.2,239.7 549.1,237.1 568,218.1 586.9,163.7 605.8,145.4 624.7,192.3 643.6,206.7 662.6,193.9 681.5,182.2 700.4,169.2 719.3,150.4 738.2,133.4 757.1,120.5 776,111.1"/>
<polyline points="76.4,371.1 95.3,358.1 114.2,351.2 133.1,347.5 152,347 170.9,346.9 189.8,343.3 208.8,337.5 227.7,330 246.6,326.8 265.5,323.9 284.4,319 303.3,314.2 322.2,311.2 341.1,306.6 360,299.8 378.9,293.6 397.8,287.1 416.7,282.5 435.7,278.7 454.6,278.6 473.5,280.5 492.4,284.9 511.3,291.2 530.2,291.1 549.1,292.5 568,292.7 586.9,279.2 605.8,265.1 624.7,252.6 643.6,237.6 662.6,226.7 681.5,218.7 700.4,213.5 719.3,211.9 738.2,212.9 757.1,213.7 776,213.7"/>
<polyline points="76.4,711.5 95.3,582.4 114.2,486.9 133.1,424.4 152,399.6 170.9,392.4 189.8,385 208.8,372.9 227.7,359.1 246.6,346.9 265.5,334.1 284.4,322.7 303.3,313.8 322.2,307.3 341.1,302.2 360,298.4 378.9,294.8 397.8,292 416.7,289.4 435.7,292.5 454.6,303.3 473.5,315.4 492.4,323 511.3,321.8 530.2,311.6 549.1,308.2 568,300.5 586.9,276.6 605.8,240.3 624.7,210.8 643.6,187.8 662.6,173.9 681.5,162.6 700.4,151.1 719.3,140.8 738.2,131.7 757.1,125.5 776,124.2"/>
<polyline points="76.4,360 95.3,364 114.2,371.2 133.1,385.8 152,389.5 170.9,390.5 189.8,386 208.8,379.3 227.7,368.2 246.6,355.3 265.5,343.3 284.4,334.4 303.3,329.7 322.2,322.5 341.1,314.6 360,307.5 378.9,304.4 397.8,305.4 416.7,300.3 435.7,296.4 454.6,298.4 473.5,301.5 492.4,305.3 511.3,309.8 530.2,320.1 549.1,346 568,405 586.9,440.9 605.8,350.8 624.7,268.9 643.6,239.6 662.6,229.3 681.5,223.6 700.4,221 719.3,222.1 738.2,218.6 757.1,210.9 776,199"/>
<polyline points="76.4,622.7 95.3,533 114.2,456.1 133.1,404.5 152,389.1 170.9,382.1 189.8,371.7 208.8,360 227.7,346.8 246.6,332.7 265.5,321.1 284.4,314.9 303.3,311.5 322.2,308.6 341.1,308 360,307.8 378.9,307.7 397.8,306.5 416.7,309.9 435.7,311.5 454.6,314.7 473.5,326.4 492.4,334 511.3,335.2 530.2,333.9 549.1,325.7 568,309.7 586.9,305.6 605.8,291.7 624.7,265.8 643.6,250.7 662.6,237.5 681.5,226.8 700.4,222.5 719.3,223.9 738.2,220.9 757.1,216.4 776,212.2"/>
<polyline points="76.4,502.5 95.3,462.6 114.2,420.9 133.1,395.2 152,386.4 170.9,383.2 189.8,375.4 208.8,364.2 227.7,350.3 246.6,337.5 265.5,324.2 284.4,313.6 303.3,307.3 322.2,298.8 341.1,290.5 360,286.7 378.9,283.2 397.8,280.2 416.7,275.9 435.7,269.1 454.6,266 473.5,266.4 492.4,265.5 511.3,266.7 530.2,275.7 549.1,282.6 568,284.5 586.9,273.4 605.8,258.4 624.7,251.4 643.6,234.1 662.6,215.6 681.5,207.7 700.4,204.4 719.3,200.8 738.2,194.5 757.1,185.7 776,175.7"/>
<polyline points="76.4,479.6 95.3,458.4 114.2,420.1 133.1,397.9 152,387 170.9,379.4 189.8,367.3 208.8,356.6 227.7,346.4 246.6,334.7 265.5,322.7 284.4,311.1 303.3,300.9 322.2,291.9 341.1,279.3 360,265 378.9,251.8 397.8,238.4 416.7,224.4 435.7,211.2 454.6,202.8 473.5,203.3 492.4,216.9 511.3,229.8 530.2,232.8 549.1,243.4 568,257 586.9,256.7 605.8,251.3 624.7,238.5 643.6,223.6 662.6,214.7 681.5,208.6 700.4,202.9 719.3,200.2 738.2,199.7 757.1,204.4 776,215.2"/>
<polyline points="76.4,489.5 95.3,462.6 114.2,431.7 133.1,402.3 152,388.4 170.9,381.3 189.8,370.8 208.8,357.1 227.7,343.5 246.6,331.3 265.5,322 284.4,316.1 303.3,310.7 322.2,305 341.1,298.8 360,294.4 378.9,292 397.8,290.9 416.7,291.9 435.7,293.1 454.6,293.6 473.5,296.7 492.4,301.2 511.3,300.6 530.2,304.3 549.1,306.2 568,303.6 586.9,290.2 605.8,280.5 624.7,268.1 643.6,248.7 662.6,230.7 681.5,217.6 700.4,203.5 719.3,192.1 738.2,181.1 757.1,169.4 776,156.7"/>
<polyline points="76.4,458.8 95.3,440.7 114.2,420.5 133.1,400.1 152,393.4 170.9,392.9 189.8,391.2 208.8,386.6 227.7,378.5 246.6,368 265.5,353.5 284.4,337.3 303.3,325.6 322.2,314.8 341.1,300.5 360,287.2 378.9,276.2 397.8,267.2 416.7,259.8 435.7,257.7 454.6,259.4 473.5,264.7 492.4,272 511.3,273 530.2,279.8 549.1,285.3 568,276.8 586.9,264.8 605.8,254.1 624.7,238.6 643.6,219.7 662.6,209 681.5,201.3 700.4,191.6 719.3,183.4 738.2,178.4 757.1,172.2 776,167.6"/>
<polyline points="76.4,386.1 95.3,377.8 114.2,371.8 133.1,371.5 152,371.7 170.9,370.1 189.8,366.7 208.8,360.5 227.7,353.8 246.6,348.6 265.5,340.5 284.4,330.8 303.3,322.1 322.2,311.9 341.1,300.7 360,287.7 378.9,277 397.8,266.1 416.7,252.7 435.7,242.4 454.6,237 473.5,232.2 492.4,226.5 511.3,214.9 530.2,207.5 549.1,209.2 568,198.4 586.9,198.2 605.8,210.4 624.7,208.8 643.6,208.5 662.6,211.7 681.5,214.8 700.4,217 719.3,217.5 738.2,214.2 757.1,206.3 776,198.8"/>
<polyline points="76.4,402 95.3,384.8 114.2,376 133.1,370.2 152,364.2 170.9,360.3 189.8,355.9 208.8,350.3 227.7,343.9 246.6,337.4 265.5,330.3 284.4,325.5 303.3,322.3 322.2,316.6 341.1,308.6 360,304.8 378.9,302.1 397.8,294.1 416.7,284.6 435.7,276.8 454.6,274.8 473.5,272.1 492.4,264.5 511.3,256.5 530.2,256.3 549.1,257.8 568,251.6 586.9,261 605.8,303.4 624.7,317.9 643.6,260.4 662.6,216.2 681.5,206.6 700.4,205.6 719.3,204.6 738.2,204.4 757.1,201.5 776,192.8"/>
<polyline points="76.4,455.7 95.3,397.1 114.2,372.1 133.1,366.5 152,361.2 170.9,347.2 189.8,332.3 208.8,317.7 227.7,302.8 246.6,291.2 265.5,278.6 284.4,269.4 303.3,270.5 322.2,271 341.1,272.7 360,275.3 378.9,277.9 397.8,280.3 416.7,279.4 435.7,282.1 454.6,284.8 473.5,285 492.4,286.5 511.3,286.8 530.2,286.8 549.1,279.4 568,259.3 586.9,243.1 605.8,215.1 624.7,192.8 643.6,186.2 662.6,178.4 681.5,170 700.4,169.4 719.3,166.1 738.2,156.8 757.1,141.7 776,121.9"/>
<polyline points="76.4,349.6 95.3,349.5 114.2,348.3 133.1,346.1 152,343.1 170.9,340.1 189.8,332.1 208.8,322.3 227.7,313.5 246.6,308.3 265.5,301.3 284.4,296.1 303.3,295.2 322.2,293.9 341.1,294.7 360,295.1 378.9,292 397.8,286.3 416.7,281.5 435.7,278.3 454.6,276.8 473.5,275.4 492.4,272.2 511.3,269.1 530.2,265.2 549.1,244.8 568,205.1 586.9,199.6 605.8,208.4 624.7,187.9 643.6,171.2 662.6,170.6 681.5,175.3 700.4,182.2 719.3,191.6 738.2,201.9 757.1,212.6 776,222.6"/>
<polyline points="76.4,575.5 95.3,480.5 114.2,423.3 133.1,395.1 152,384.9 170.9,378.4 189.8,368.6 208.8,360.6 227.7,350.5 246.6,338.5 265.5,326.2 284.4,317.9 303.3,313.4 322.2,309.1 341.1,303.7 360,302 378.9,298.4 397.8,293.1 416.7,289 435.7,285.2 454.6,279.8 473.5,267.6 492.4,256.4 511.3,254.7 530.2,247.4 549.1,230.3 568,213.6 586.9,209.7 605.8,199.6 624.7,184 643.6,185.6 662.6,182.6 681.5,172 700.4,167 719.3,166.6 738.2,166 757.1,164 776,166.8"/>
<polyline points="76.4,592.7 95.3,526.5 114.2,461.8 133.1,416.5 152,397.6 170.9,391.8 189.8,385 208.8,377.2 227.7,367.9 246.6,356.5 265.5,345.6 284.4,334.6 303.3,326.1 322.2,318.2 341.1,307.6 360,297.4 378.9,290.3 397.8,284.6 416.7,277.7 435.7,268.6 454.6,261 473.5,255.1 492.4,248 511.3,245.2 530.2,250.5 549.1,243.2 568,216 586.9,232.3 605.8,308.6 624.7,317.4 643.6,220.3 662.6,163.2 681.5,151.8 700.4,145.9 719.3,139.7 738.2,137.2 757.1,135.5 776,137.9"/>
<polyline points="76.4,395.7 95.3,383.7 114.2,380 133.1,376.6 152,370.4 170.9,365.6 189.8,358.6 208.8,348.1 227.7,334 246.6,322.5 265.5,314.7 284.4,310 303.3,308 322.2,306.3 341.1,302.1 360,297.1 378.9,293.2 397.8,290.4 416.7,283.8 435.7,272 454.6,264.7 473.5,255.9 492.4,244.8 511.3,236.8 530.2,239.6 549.1,249.5 568,253.4 586.9,257.6 605.8,262.1 624.7,260.5 643.6,248.3 662.6,231.6 681.5,222.2 700.4,213.4 719.3,203.9 738.2,192.4 757.1,180.1 776,170.9"/>
<polyline points="76.4,399.4 95.3,388.8 114.2,383 133.1,381.7 152,379.6 170.9,374.4 189.8,366.6 208.8,355.2 227.7,340.1 246.6,326.3 265.5,313.8 284.4,305.9 303.3,303.3 322.2,301.6 341.1,300.5 360,297.7 378.9,294.8 397.8,292 416.7,285.6 435.7,277.3 454.6,270.5 473.5,269.1 492.4,266 511.3,264.2 530.2,270 549.1,272 568,270 586.9,269.4 605.8,263.8 624.7,249.7 643.6,243.1 662.6,236.6 681.5,228 700.4,218.2 719.3,210.8 738.2,205.1 757.1,200.3 776,200.1"/>
<polyline points="76.4,388.2 95.3,378.7 114.2,372.4 133.1,370.7 152,369 170.9,362.9 189.8,353.7 208.8,344.6 227.7,334 246.6,322.6 265.5,309.7 284.4,299 303.3,295.9 322.2,294.2 341.1,291.9 360,293 378.9,293.1 397.8,294 416.7,300.3 435.7,309.3 454.6,317.9 473.5,329.4 492.4,341.1 511.3,345.5 530.2,352.3 549.1,352.1 568,336.4 586.9,316.5 605.8,286.3 624.7,250.3 643.6,219.6 662.6,200 681.5,184.5 700.4,172.4 719.3,163.1 738.2,158.8 757.1,158.9 776,163.7"/>
<polyline points="76.4,442.8 95.3,405.5 114.2,394 133.1,386 152,384.8 170.9,385.6 189.8,384.3 208.8,380.5 227.7,376 246.6,371.2 265.5,364.9 284.4,359.6 303.3,351.9 322.2,338.9 341.1,324.8 360,309.5 378.9,293.3 397.8,279.2 416.7,265 435.7,251.4 454.6,244.5 473.5,240.9 492.4,239 511.3,243.8 530.2,263.3 549.1,279.2 568,305.6 586.9,294.6 605.8,227.9 624.7,209.9 643.6,222.2 662.6,222.1 681.5,217 700.4,211.3 719.3,208.4 738.2,200.2 757.1,188.8 776,179.8"/>
<polyline points="76.4,432.5 95.3,456.3 114.2,452.6 133.1,423.7 152,405.5 170.9,400.7 189.8,397.4 208.8,390.4 227.7,376 246.6,360 265.5,341.4 284.4,325.2 303.3,313.1 322.2,302.6 341.1,293 360,283.8 378.9,276 397.8,268.8 416.7,258.3 435.7,250.5 454.6,252.3 473.5,256.9 492.4,264.2 511.3,270.2 530.2,272.6 549.1,276.4 568,272.3 586.9,241 605.8,187 624.7,161.1 643.6,165.8 662.6,163.5 681.5,152.8 700.4,140.8 719.3,132.2 738.2,130.9 757.1,133.3 776,141.5"/>
<polyline points="76.4,362.8 95.3,363.2 114.2,365.7 133.1,373 152,378.1 170.9,377 189.8,372.6 208.8,368.2 227.7,360.7 246.6,355 265.5,349.3 284.4,345.9 303.3,343.3 322.2,339.6 341.1,334.5 360,326 378.9,316.8 397.8,305.3 416.7,294.1 435.7,279.5 454.6,264.4 473.5,252.6 492.4,240.3 511.3,228.8 530.2,212.8 549.1,198.5 568,197.1 586.9,193.7 605.8,187.6 624.7,181.4 643.6,175.2 662.6,171.3 681.5,164.6 700.4,158.5 719.3,152.7 738.2,149 757.1,146.2 776,143.7"/>
<polyline points="76.4,608 95.3,508.3 114.2,444.8 133.1,405.4 152,389.9 170.9,382.1 189.8,370.9 208.8,355.7 227.7,337.3 246.6,318 265.5,299.7 284.4,289 303.3,285.6 322.2,285.4 341.1,285.4 360,286.5 378.9,290 397.8,289.7 416.7,284.2 435.7,280.7 454.6,282.8 473.5,284 492.4,279.8 511.3,280.7 530.2,286 549.1,287.4 568,301.8 586.9,301.9 605.8,275.4 624.7,248.5 643.6,225.1 662.6,204.6 681.5,184 700.4,162.3 719.3,140.4 738.2,116.7 757.1,96.3 776,80.1"/>
<polyline points="76.4,764.9 95.3,585.8 114.2,470.1 133.1,410.4 152,388 170.9,376.3 189.8,360.6 208.8,340.4 227.7,319.1 246.6,301 265.5,289.1 284.4,279.2 303.3,269 322.2,260 341.1,252.8 360,246.6 378.9,244.4 397.8,242.4 416.7,233.3 435.7,224.5 454.6,220.6 473.5,214.5 492.4,215.6 511.3,221.6 530.2,206.5 549.1,181.3 568,144 586.9,116.6 605.8,111.3 624.7,96.1 643.6,86.7 662.6,89.9 681.5,92.1 700.4,91.3 719.3,85.1 738.2,87.4 757.1,96 776,110.5"/>
<polyline points="76.4,700.1 95.3,615.6 114.2,514.7 133.1,440.1 152,411.7 170.9,405.3 189.8,399 208.8,386.5 227.7,369.1 246.6,355.4 265.5,343 284.4,329 303.3,315.1 322.2,306.3 341.1,299.8 360,296 378.9,295.8 397.8,296.1 416.7,294.6 435.7,296.1 454.6,302.4 473.5,308 492.4,310.1 511.3,312.5 530.2,313.3 549.1,302.3 568,289.8 586.9,284.6 605.8,267.6 624.7,239.1 643.6,211.2 662.6,191.4 681.5,175.5 700.4,159.9 719.3,147.4 738.2,135.4 757.1,130.9 776,137.8"/>
<polyline points="76.4,407.2 95.3,385.8 114.2,377.4 133.1,368.9 152,354.4 170.9,348.7 189.8,346.2 208.8,341.2 227.7,327.4 246.6,319.2 265.5,316.2 284.4,312.4 303.3,304.4 322.2,294.2 341.1,285.4 360,279.6 378.9,274.3 397.8,270.3 416.7,269.1 435.7,279.9 454.6,294 473.5,298.7 492.4,295.8 511.3,306.3 530.2,303.9 549.1,290 568,311.3 586.9,346.1 605.8,295.7 624.7,232.1 643.6,201.8 662.6,186.4 681.5,177.1 700.4,160.9 719.3,141.4 738.2,127.9 757.1,116 776,99.1"/>
<polyline points="76.4,339 95.3,333.5 114.2,326.8 133.1,319.1 152,313.9 170.9,308.6 189.8,302 208.8,294.4 227.7,285.7 246.6,280 265.5,278.1 284.4,280.8 303.3,288.1 322.2,291.8 341.1,292.9 360,292 378.9,291 397.8,289.7 416.7,286.2 435.7,286.6 454.6,292 473.5,302.4 492.4,308.5 511.3,313.7 530.2,307.1 549.1,292.2 568,287.6 586.9,284.2 605.8,262.4 624.7,223.2 643.6,204.5 662.6,202.3 681.5,196.9 700.4,191.3 719.3,195.8 738.2,209.4 757.1,223.6 776,237.6"/>
<polyline points="76.4,412.1 95.3,410 114.2,407.4 133.1,397.2 152,389.4 170.9,385.9 189.8,379.7 208.8,371.8 227.7,360.3 246.6,347.3 265.5,336.4 284.4,326.9 303.3,319.8 322.2,314.4 341.1,305.9 360,296.2 378.9,288.5 397.8,284.9 416.7,284.4 435.7,284.1 454.6,284.9 473.5,286.8 492.4,288.3 511.3,290.5 530.2,289.2 549.1,288.1 568,283.6 586.9,269.2 605.8,254.7 624.7,239.9 643.6,228.1 662.6,214.5 681.5,204.6 700.4,198.8 719.3,196 738.2,193.7 757.1,194 776,197.2"/>
<polyline points="76.4,400.1 95.3,411.2 114.2,407 133.1,396.2 152,388.1 170.9,383.5 189.8,373.9 208.8,358.4 227.7,339.1 246.6,321.5 265.5,304.2 284.4,292.7 303.3,286.1 322.2,282.5 341.1,280 360,279.3 378.9,279.3 397.8,278.5 416.7,273.7 435.7,265.3 454.6,261.3 473.5,259.7 492.4,256.6 511.3,255.8 530.2,256.8 549.1,258.8 568,256.9 586.9,240.3 605.8,229.2 624.7,222.6 643.6,218.2 662.6,209.5 681.5,203.8 700.4,204.6 719.3,203.8 738.2,197.7 757.1,186.6 776,171"/>
<polyline points="76.4,394.3 95.3,386.2 114.2,383.6 133.1,382 152,379 170.9,375.7 189.8,369.8 208.8,363.7 227.7,354.5 246.6,344.7 265.5,336 284.4,325.9 303.3,312.6 322.2,299.9 341.1,291.7 360,285.3 378.9,279.3 397.8,274.8 416.7,268.7 435.7,260.4 454.6,256.2 473.5,255.2 492.4,258.5 511.3,250.6 530.2,241.8 549.1,236.8 568,216.3 586.9,198.2 605.8,186.7 624.7,188 643.6,186.7 662.6,183.1 681.5,182.7 700.4,184.6 719.3,184.4 738.2,185.7 757.1,185.5 776,183.5"/>
<polyline points="76.4,517.9 95.3,470 114.2,426.4 133.1,397.1 152,387.9 170.9,382 189.8,372.9 208.8,362 227.7,347.2 246.6,330.8 265.5,314.8 284.4,300.9 303.3,290.1 322.2,282.7 341.1,274.8 360,265.6 378.9,257.8 397.8,252.5 416.7,247.6 435.7,244.7 454.6,243.9 473.5,239.2 492.4,240.8 511.3,256.8 530.2,272.5 549.1,280.6 568,291 586.9,311.6 605.8,310.2 624.7,288.2 643.6,257.4 662.6,230.1 681.5,208.4 700.4,187.9 719.3,165.8 738.2,139.9 757.1,118.2 776,103.8"/>
<polyline points="76.4,395.9 95.3,384.9 114.2,380.2 133.1,381.6 152,382.9 170.9,381.8 189.8,376.2 208.8,367.7 227.7,358.2 246.6,346.6 265.5,332.8 284.4,324 303.3,315.7 322.2,306.9 341.1,302.3 360,298.6 378.9,295 397.8,293.1 416.7,290.1 435.7,285.5 454.6,282.9 473.5,275.9 492.4,269.3 511.3,256 530.2,238.6 549.1,228.7 568,212.7 586.9,200.5 605.8,192.2 624.7,173.7 643.6,163.5 662.6,165 681.5,166.3 700.4,164.9 719.3,165.2 738.2,172.6 757.1,181.9 776,192.6"/>
<polyline points="76.4,367.2 95.3,363.6 114.2,363.8 133.1,363.3 152,357.9 170.9,352.6 189.8,345.4 208.8,336.1 227.7,323.9 246.6,311.8 265.5,302.1 284.4,294.8 303.3,288.6 322.2,284.5 341.1,276.8 360,265.6 378.9,257.9 397.8,253.2 416.7,247 435.7,239.7 454.6,232.7 473.5,227.2 492.4,229.1 511.3,231 530.2,235 549.1,242.6 568,238.9 586.9,223.9 605.8,212.4 624.7,198.1 643.6,184.4 662.6,174.6 681.5,171.2 700.4,167.9 719.3,162.5 738.2,161.5 757.1,168.9 776,178.2"/>
<polyline points="76.4,357 95.3,360.3 114.2,362.5 133.1,360.7 152,355.6 170.9,348.1 189.8,337.5 208.8,324.3 227.7,307.9 246.6,292.8 265.5,280.2 284.4,272.6 303.3,269.1 322.2,269.2 341.1,270.3 360,271.8 378.9,273.1 397.8,269.5 416.7,263.6 435.7,261.9 454.6,267.4 473.5,278.3 492.4,295.2 511.3,308.8 530.2,313.4 549.1,321.9 568,307.7 586.9,277.5 605.8,247 624.7,210.8 643.6,179.5 662.6,163.6 681.5,150.1 700.4,134.9 719.3,120.6 738.2,113.7 757.1,113.3 776,117.6"/>
<polyline points="76.4,431 95.3,410.1 114.2,389.3 133.1,378.6 152,371.4 170.9,360.3 189.8,346.3 208.8,333.6 227.7,321.9 246.6,314.5 265.5,310.9 284.4,309.2 303.3,307.8 322.2,308.1 341.1,304.8 360,295.6 378.9,284.1 397.8,272.2 416.7,259.2 435.7,250.8 454.6,247.5 473.5,244.9 492.4,244.9 511.3,246.1 530.2,245.4 549.1,237.7 568,238.1 586.9,235.7 605.8,223.9 624.7,202 643.6,178.7 662.6,167.8 681.5,159.5 700.4,145.2 719.3,126.9 738.2,113.9 757.1,103.9 776,95.9"/>
<polyline points="76.4,352.2 95.3,356.1 114.2,361.1 133.1,366.7 152,372.5 170.9,377.5 189.8,378.2 208.8,377 227.7,370.6 246.6,367.3 265.5,360.8 284.4,349 303.3,339.4 322.2,329.9 341.1,317.7 360,306.2 378.9,292.6 397.8,279.5 416.7,268.2 435.7,259.4 454.6,254.1 473.5,253.6 492.4,257.7 511.3,264.9 530.2,275.5 549.1,281.2 568,291.7 586.9,310.3 605.8,290.6 624.7,248.3 643.6,213 662.6,196.4 681.5,187.6 700.4,180.5 719.3,171.5 738.2,160.9 757.1,150 776,141.7"/>
<polyline points="76.4,491.6 95.3,445 114.2,407 133.1,387.2 152,380.7 170.9,375.6 189.8,364.1 208.8,353.5 227.7,344.6 246.6,334.5 265.5,321.7 284.4,312.4 303.3,309.4 322.2,309.7 341.1,308.1 360,302.3 378.9,300.1 397.8,301.9 416.7,307.9 435.7,314.7 454.6,321.5 473.5,325 492.4,328.2 511.3,333.5 530.2,335.8 549.1,343.2 568,328.6 586.9,303.5 605.8,278.3 624.7,252.2 643.6,226.3 662.6,205.3 681.5,191.9 700.4,179.8 719.3,173.6 738.2,169.6 757.1,164.3 776,160.9"/>
<polyline points="76.4,565.1 95.3,470.8 114.2,426.1 133.1,398.6 152,388.2 170.9,383.2 189.8,373.9 208.8,365 227.7,353.8 246.6,339.9 265.5,325.8 284.4,316.1 303.3,308.5 322.2,301.4 341.1,296.4 360,290 378.9,283.4 397.8,280.8 416.7,280.7 435.7,281.1 454.6,283.2 473.5,292.6 492.4,300.6 511.3,296.5 530.2,297.6 549.1,296.4 568,293.8 586.9,324.2 605.8,333.8 624.7,269.2 643.6,209.8 662.6,189.1 681.5,179.2 700.4,167.7 719.3,161.3 738.2,160.1 757.1,159.6 776,160.2"/>
<polyline points="76.4,396.2 95.3,391.7 114.2,382.7 133.1,384 152,381.8 170.9,377.5 189.8,370.8 208.8,364.1 227.7,353.3 246.6,342.8 265.5,334.4 284.4,328.8 303.3,323.6 322.2,322.4 341.1,321.3 360,316.9 378.9,315.7 397.8,315.9 416.7,319.5 435.7,326.3 454.6,332.9 473.5,341.3 492.4,347.4 511.3,345.2 530.2,342 549.1,335.3 568,333.1 586.9,353.5 605.8,327 624.7,269.1 643.6,240 662.6,225.3 681.5,215.8 700.4,213.3 719.3,213.3 738.2,213.3 757.1,213.8 776,214.9"/>
<polyline points="76.4,340.8 95.3,345 114.2,340 133.1,331.4 152,324.6 170.9,320.1 189.8,315.4 208.8,308.6 227.7,298.1 246.6,286.2 265.5,277.3 284.4,272.5 303.3,268.7 322.2,265 341.1,261.3 360,257.6 378.9,249.9 397.8,243.8 416.7,237.7 435.7,229.1 454.6,226.8 473.5,232.9 492.4,245.3 511.3,254.3 530.2,261.9 549.1,286.1 568,315.1 586.9,314 605.8,294.6 624.7,283.4 643.6,266.4 662.6,248.7 681.5,235.2 700.4,219.3 719.3,199.3 738.2,179.1 757.1,162.3 776,152.2"/>
<polyline points="76.4,413.1 95.3,412 114.2,401.5 133.1,388.8 152,380.9 170.9,373 189.8,359.2 208.8,347.4 227.7,334.3 246.6,322.4 265.5,313 284.4,307 303.3,303.5 322.2,300.8 341.1,296.3 360,292.9 378.9,290.4 397.8,285.6 416.7,278.2 435.7,273.4 454.6,268.8 473.5,266.2 492.4,263.9 511.3,266.6 530.2,271.6 549.1,266.9 568,255.2 586.9,240.4 605.8,218.1 624.7,196.4 643.6,173.8 662.6,161.4 681.5,153.6 700.4,147.1 719.3,134.4 738.2,120.6 757.1,113.3 776,108.9"/>
<polyline points="76.4,586.9 95.3,538.2 114.2,481.6 133.1,425 152,402.7 170.9,397.7 189.8,390 208.8,377.2 227.7,363.5 246.6,347.4 265.5,329.5 284.4,318.1 303.3,308.2 322.2,294.9 341.1,280 360,267.5 378.9,257.5 397.8,247.7 416.7,234.8 435.7,220.8 454.6,214.6 473.5,217.8 492.4,227.3 511.3,234.7 530.2,256.3 549.1,288.6 568,313.9 586.9,318.5 605.8,319.7 624.7,313 643.6,291.4 662.6,265.1 681.5,244.9 700.4,230.5 719.3,217.5 738.2,202.4 757.1,185.8 776,174"/>
<polyline points="76.4,323.9 95.3,332.4 114.2,341.5 133.1,347.6 152,349.2 170.9,350.6 189.8,347.1 208.8,339.8 227.7,329.6 246.6,322.2 265.5,315.1 284.4,308.8 303.3,304.1 322.2,299.2 341.1,293.3 360,287.1 378.9,280.3 397.8,273.4 416.7,267.2 435.7,262.9 454.6,255.8 473.5,244.8 492.4,236.1 511.3,225.1 530.2,215.1 549.1,206.8 568,204.9 586.9,238.4 605.8,278.2 624.7,237.3 643.6,187.5 662.6,176.3 681.5,176.2 700.4,179 719.3,185.6 738.2,192.8 757.1,198.8 776,206.3"/>
<polyline points="76.4,386.4 95.3,372.1 114.2,364 133.1,361.9 152,362.5 170.9,360.8 189.8,356.2 208.8,352.6 227.7,347 246.6,342.2 265.5,338.5 284.4,334.6 303.3,330.6 322.2,329 341.1,324.3 360,316.8 378.9,312.2 397.8,309.7 416.7,304.8 435.7,300.7 454.6,300.3 473.5,296.3 492.4,291.7 511.3,276.6 530.2,261.5 549.1,253.8 568,243.7 586.9,229.7 605.8,232.1 624.7,236.8 643.6,213 662.6,195.2 681.5,186.5 700.4,180.4 719.3,177.6 738.2,175.8 757.1,172.3 776,168.3"/>
<polyline points="76.4,426.8 95.3,389.5 114.2,377.5 133.1,373.6 152,371.8 170.9,369.7 189.8,364.6 208.8,358.4 227.7,350.8 246.6,344.5 265.5,337.6 284.4,331 303.3,327.3 322.2,324.3 341.1,317.3 360,307.9 378.9,299.7 397.8,294.3 416.7,291 435.7,289.2 454.6,287.8 473.5,288 492.4,288.9 511.3,295 530.2,296.4 549.1,290.9 568,288.4 586.9,277.2 605.8,255 624.7,232.6 643.6,220 662.6,208.6 681.5,195.9 700.4,185.8 719.3,179.3 738.2,174.9 757.1,167.9 776,159.5"/>
<polyline points="76.4,383 95.3,381.5 114.2,382.9 133.1,386.4 152,385.9 170.9,386.2 189.8,386.9 208.8,386.8 227.7,384.1 246.6,375.6 265.5,362.6 284.4,351.8 303.3,345.1 322.2,337.2 341.1,326.9 360,315.2 378.9,306.1 397.8,297.7 416.7,288.4 435.7,277.5 454.6,268.1 473.5,263 492.4,255.8 511.3,245.2 530.2,231.4 549.1,210.1 568,197.8 586.9,189 605.8,183.3 624.7,177.4 643.6,166.1 662.6,155.9 681.5,146.1 700.4,134.1 719.3,118.5 738.2,105.8 757.1,94.9 776,89.8"/>
<polyline points="76.4,380.7 95.3,378.7 114.2,380 133.1,383.5 152,382.5 170.9,381.1 189.8,379.4 208.8,376.5 227.7,371.9 246.6,365.8 265.5,356.2 284.4,345.3 303.3,335.8 322.2,326.3 341.1,314.8 360,304.1 378.9,295.2 397.8,286.9 416.7,276.9 435.7,267.2 454.6,261.8 473.5,257.2 492.4,253.8 511.3,263.6 530.2,278.1 549.1,273 568,264.6 586.9,262.3 605.8,250.8 624.7,237.3 643.6,214 662.6,190.3 681.5,173.1 700.4,155.7 719.3,135.8 738.2,121.1 757.1,112.4 776,105.7"/>
<polyline points="76.4,412.3 95.3,398.4 114.2,395.2 133.1,387.6 152,383.2 170.9,379.5 189.8,373.6 208.8,367.2 227.7,358 246.6,349.5 265.5,342 284.4,334.5 303.3,328 322.2,320.3 341.1,312.3 360,305 378.9,294.3 397.8,282.2 416.7,268.3 435.7,252.6 454.6,244.8 473.5,237.4 492.4,227.2 511.3,220.5 530.2,217.3 549.1,208.2 568,208.6 586.9,221.7 605.8,221 624.7,210.5 643.6,198.6 662.6,184.3 681.5,168 700.4,153.9 719.3,138.2 738.2,127 757.1,120.4 776,120.9"/>
<polyline points="76.4,485.6 95.3,437.5 114.2,406.9 133.1,391 152,385.7 170.9,384.4 189.8,381.9 208.8,375.3 227.7,364.9 246.6,356.4 265.5,350.1 284.4,348 303.3,344.7 322.2,340.3 341.1,335.5 360,330.3 378.9,328.4 397.8,327.7 416.7,329.7 435.7,334.4 454.6,338.8 473.5,347 492.4,355.8 511.3,357.9 530.2,350.3 549.1,339.6 568,326.9 586.9,315.1 605.8,300.8 624.7,274.9 643.6,245 662.6,226.5 681.5,219.2 700.4,213.7 719.3,204.4 738.2,193.8 757.1,186.3 776,179.3"/>
<polyline points="76.4,460.5 95.3,422.4 114.2,404.3 133.1,394.2 152,390.4 170.9,391.5 189.8,389.7 208.8,384.4 227.7,376.3 246.6,367.6 265.5,354.3 284.4,340.6 303.3,327.8 322.2,315.4 341.1,302 360,288.2 378.9,277.4 397.8,267.7 416.7,259.3 435.7,250.7 454.6,247.7 473.5,251.1 492.4,256.7 511.3,263.6 530.2,273 549.1,275.1 568,271.8 586.9,263.8 605.8,245.6 624.7,225.1 643.6,206.6 662.6,188.8 681.5,171.8 700.4,161.4 719.3,153.1 738.2,149.8 757.1,151.9 776,159"/>
<polyline points="76.4,534.5 95.3,463.9 114.2,417.9 133.1,392.9 152,384.5 170.9,380.7 189.8,372.6 208.8,366 227.7,362.1 246.6,359.4 265.5,356.3 284.4,354.7 303.3,356 322.2,356.4 341.1,352.5 360,344.6 378.9,333.5 397.8,322.3 416.7,311.1 435.7,296.4 454.6,284.4 473.5,278.6 492.4,274.7 511.3,275.5 530.2,279 549.1,282.1 568,278.6 586.9,285.6 605.8,330.6 624.7,344.1 643.6,267.5 662.6,206 681.5,184.7 700.4,171 719.3,156.4 738.2,142.9 757.1,132.7 776,125.3"/>
<polyline points="76.4,499.7 95.3,453.9 114.2,410.9 133.1,383.5 152,368 170.9,357 189.8,345.5 208.8,336.1 227.7,325.5 246.6,319.4 265.5,315.2 284.4,312.5 303.3,310.5 322.2,307.8 341.1,306.4 360,305.8 378.9,300.7 397.8,296.7 416.7,295.1 435.7,293.4 454.6,291.3 473.5,283.8 492.4,272.7 511.3,260.6 530.2,249.3 549.1,243.9 568,229 586.9,210.8 605.8,204.8 624.7,204.1 643.6,202.4 662.6,207.7 681.5,214.2 700.4,216.9 719.3,222.1 738.2,224.9 757.1,224.7 776,221.3"/>
<polyline points="76.4,388.4 95.3,376.1 114.2,366.2 133.1,364.4 152,364.3 170.9,363.9 189.8,360.1 208.8,357.9 227.7,356.1 246.6,352.3 265.5,349.6 284.4,351.1 303.3,353.5 322.2,352.5 341.1,346.4 360,340.3 378.9,333.9 397.8,328.7 416.7,323.3 435.7,313.4 454.6,306.4 473.5,303.1 492.4,298.6 511.3,287.5 530.2,274.3 549.1,261.6 568,250.8 586.9,244 605.8,220.1 624.7,198.5 643.6,184.9 662.6,179.1 681.5,179.1 700.4,181.5 719.3,181.7 738.2,187.8 757.1,197.5 776,204.1"/>
<polyline points="76.4,434.5 95.3,390.4 114.2,382.4 133.1,377.9 152,372.6 170.9,368.7 189.8,362.8 208.8,355.1 227.7,345.7 246.6,338.4 265.5,332.2 284.4,326.9 303.3,324.4 322.2,320.6 341.1,313.1 360,305.5 378.9,296.6 397.8,285.1 416.7,273.3 435.7,266.3 454.6,265.9 473.5,266.5 492.4,264.5 511.3,262.4 530.2,259.9 549.1,262.6 568,262.8 586.9,257.1 605.8,245.8 624.7,231.4 643.6,219.7 662.6,203.5 681.5,187 700.4,172.3 719.3,156.3 738.2,144.1 757.1,135.6 776,132.7"/>
<polyline points="76.4,494 95.3,447.5 114.2,405.4 133.1,386.6 152,381.5 170.9,377 189.8,371.1 208.8,366.2 227.7,356.1 246.6,349.7 265.5,343.5 284.4,335.2 303.3,328.8 322.2,322.6 341.1,316.6 360,309.9 378.9,303.6 397.8,299.7 416.7,299.3 435.7,300.2 454.6,307.3 473.5,318.3 492.4,328.5 511.3,342 530.2,349.2 549.1,338 568,333.2 586.9,331.1 605.8,304.4 624.7,256.7 643.6,219.6 662.6,200.1 681.5,187.4 700.4,177.4 719.3,173.8 738.2,175.8 757.1,177.7 776,177.3"/>
<polyline points="76.4,487.1 95.3,472.3 114.2,431.2 133.1,402 152,391.7 170.9,387.9 189.8,382.7 208.8,377 227.7,370.9 246.6,360.8 265.5,347.4 284.4,339.3 303.3,335.5 322.2,328.4 341.1,319.3 360,311 378.9,307.8 397.8,307.3 416.7,306.1 435.7,307 454.6,315.5 473.5,328.1 492.4,337.7 511.3,333.4 530.2,330.9 549.1,332.2 568,314.6 586.9,284.2 605.8,251.2 624.7,227.6 643.6,209.7 662.6,193.7 681.5,184.8 700.4,181.6 719.3,182.9 738.2,188.6 757.1,196.3 776,205.3"/>
<polyline points="76.4,457.2 95.3,390.4 114.2,371.6 133.1,365.5 152,362.5 170.9,361.5 189.8,359.3 208.8,356 227.7,350.7 246.6,345.9 265.5,340.9 284.4,334.6 303.3,326.2 322.2,317.9 341.1,307.8 360,296.5 378.9,286.4 397.8,278.5 416.7,270.7 435.7,264.4 454.6,263.7 473.5,263 492.4,258.9 511.3,253.9 530.2,251.3 549.1,244.3 568,232.6 586.9,228.3 605.8,226.1 624.7,217.1 643.6,216.7 662.6,219.3 681.5,220.3 700.4,218.4 719.3,218.1 738.2,222.8 757.1,226.2 776,228.9"/>
<polyline points="76.4,402.7 95.3,384.1 114.2,372.2 133.1,363.2 152,356.7 170.9,352.1 189.8,348 208.8,342.1 227.7,333.1 246.6,322.3 265.5,310.7 284.4,302.8 303.3,297.3 322.2,291.7 341.1,286.1 360,277.8 378.9,270.7 397.8,263 416.7,250 435.7,240.4 454.6,233.6 473.5,223.9 492.4,212.4 511.3,208.2 530.2,200.9 549.1,184.8 568,152.8 586.9,105.5 605.8,89 624.7,107.9 643.6,115.9 662.6,117.4 681.5,116.5 700.4,111.1 719.3,102.3 738.2,98.1 757.1,96.9 776,98.3"/>
<polyline points="76.4,729.8 95.3,582.2 114.2,481.2 133.1,420 152,399.4 170.9,392.6 189.8,385.1 208.8,377.7 227.7,366.8 246.6,350.9 265.5,332.9 284.4,315.3 303.3,298.7 322.2,281.5 341.1,264.5 360,253.4 378.9,241.4 397.8,230 416.7,216.2 435.7,204.3 454.6,203 473.5,206.1 492.4,212.6 511.3,219 530.2,223.9 549.1,234.9 568,248.7 586.9,235.3 605.8,216.6 624.7,211.5 643.6,199.6 662.6,187.5 681.5,181.2 700.4,176.3 719.3,171.7 738.2,170.9 757.1,166.6 776,163.1"/>
<polyline points="76.4,485.1 95.3,400.7 114.2,381.1 133.1,371.4 152,360.7 170.9,354.3 189.8,348.3 208.8,342 227.7,334.2 246.6,325.4 265.5,318.9 284.4,315.3 303.3,310.4 322.2,305.5 341.1,301.6 360,296.7 378.9,293.8 397.8,291 416.7,287.2 435.7,282.9 454.6,275.7 473.5,264.2 492.4,252.9 511.3,249.7 530.2,245.8 549.1,231.2 568,215.6 586.9,204.3 605.8,207 624.7,208.6 643.6,205.7 662.6,203.4 681.5,200.7 700.4,195.8 719.3,191.3 738.2,185.8 757.1,177.9 776,170.4"/>
<polyline points="76.4,332.8 95.3,327.6 114.2,324.8 133.1,321.8 152,321.2 170.9,325.9 189.8,328.9 208.8,327.6 227.7,322.2 246.6,319.4 265.5,317.2 284.4,312.8 303.3,308.8 322.2,303.2 341.1,294.4 360,283.5 378.9,274.6 397.8,265.7 416.7,254.5 435.7,242 454.6,237 473.5,237.2 492.4,238.4 511.3,237.8 530.2,236.1 549.1,224.6 568,217 586.9,240.6 605.8,282.3 624.7,256.8 643.6,202.4 662.6,184.4 681.5,179.3 700.4,173.9 719.3,171.9 738.2,170.2 757.1,162.7 776,152.7"/>
<polyline points="76.4,478.8 95.3,395.5 114.2,374 133.1,359.9 152,347.8 170.9,340.1 189.8,332.9 208.8,324.2 227.7,313.3 246.6,307 265.5,304 284.4,303.4 303.3,302.8 322.2,303 341.1,302.6 360,301.7 378.9,298.7 397.8,293.5 416.7,286.8 435.7,274.3 454.6,259.9 473.5,246.3 492.4,236.7 511.3,225.6 530.2,213 549.1,203.8 568,192.9 586.9,195.1 605.8,192.8 624.7,184 643.6,176.1 662.6,169.4 681.5,163.7 700.4,157.6 719.3,150.4 738.2,146.3 757.1,139.7 776,131.6"/>
<polyline points="76.4,573.9 95.3,525 114.2,471.5 133.1,418.7 152,397 170.9,394.1 189.8,386.9 208.8,371.2 227.7,352 246.6,337.4 265.5,327.2 284.4,314.9 303.3,309.4 322.2,305.7 341.1,296.4 360,285.9 378.9,277.2 397.8,264.7 416.7,250.1 435.7,242.1 454.6,240.9 473.5,243 492.4,246.5 511.3,239.9 530.2,239 549.1,253.9 568,275.9 586.9,290.6 605.8,259.6 624.7,215 643.6,175.8 662.6,151 681.5,127.4 700.4,103.6 719.3,81.2 738.2,62.8 757.1,50 776,43.5"/>
<polyline points="76.4,376.6 95.3,365.4 114.2,357.7 133.1,352.7 152,347 170.9,338.4 189.8,329.5 208.8,322.1 227.7,314.1 246.6,310.6 265.5,312.6 284.4,319 303.3,328.5 322.2,338.5 341.1,342.8 360,341.9 378.9,341.3 397.8,340.7 416.7,335.5 435.7,328.2 454.6,323 473.5,316.9 492.4,308.1 511.3,299.2 530.2,285.2 549.1,273.1 568,249.9 586.9,213.2 605.8,194.6 624.7,184.5 643.6,167.6 662.6,160.4 681.5,158.8 700.4,153.3 719.3,148.7 738.2,150.5 757.1,152.3 776,156.8"/>
<polyline points="76.4,374.1 95.3,372.2 114.2,370 133.1,369.7 152,369.7 170.9,368.9 189.8,362.6 208.8,353.8 227.7,341.8 246.6,329 265.5,318.4 284.4,308.1 303.3,301.3 322.2,297.7 341.1,291.8 360,288.3 378.9,287.7 397.8,287.5 416.7,287.1 435.7,283.8 454.6,283.1 473.5,280.1 492.4,271.3 511.3,264.8 530.2,264.4 549.1,257 568,239.5 586.9,214.2 605.8,204.2 624.7,192.6 643.6,174.8 662.6,162.5 681.5,152.1 700.4,142.9 719.3,132.2 738.2,126.5 757.1,123.1 776,123.6"/>
<polyline points="76.4,432.2 95.3,415.3 114.2,402.3 133.1,392.5 152,385.2 170.9,379.1 189.8,372.7 208.8,366.1 227.7,357.1 246.6,347.6 265.5,335.4 284.4,325 303.3,318.6 322.2,314.5 341.1,306 360,292.8 378.9,282.9 397.8,272 416.7,259.9 435.7,249.3 454.6,241.4 473.5,237 492.4,236.4 511.3,237.9 530.2,239.6 549.1,238.3 568,237.4 586.9,250.4 605.8,268.1 624.7,268.3 643.6,253.1 662.6,235.8 681.5,223.1 700.4,215.9 719.3,211.1 738.2,203.5 757.1,196.1 776,191.4"/>
<polyline points="76.4,423 95.3,381.4 114.2,360 133.1,343.7 152,330.9 170.9,322.8 189.8,315.8 208.8,305.4 227.7,293 246.6,284.6 265.5,277.7 284.4,273.5 303.3,271.7 322.2,273.1 341.1,277.7 360,280.9 378.9,279.2 397.8,277.3 416.7,277 435.7,273.2 454.6,274.5 473.5,281.6 492.4,285.4 511.3,281.6 530.2,279.1 549.1,287.8 568,288.5 586.9,282.2 605.8,266.2 624.7,252.1 643.6,230.3 662.6,202.4 681.5,180.9 700.4,163.2 719.3,151.3 738.2,137.3 757.1,124.7 776,119.6"/>
<polyline points="76.4,395 95.3,381.6 114.2,375.5 133.1,370.7 152,367.5 170.9,365.8 189.8,359.1 208.8,351.3 227.7,342.7 246.6,332.2 265.5,323.3 284.4,318.1 303.3,311.9 322.2,307 341.1,302.3 360,296.4 378.9,290.2 397.8,281 416.7,275 435.7,268 454.6,262.4 473.5,260.3 492.4,254.9 511.3,245.4 530.2,239.2 549.1,237 568,222.1 586.9,211.6 605.8,200 624.7,176.3 643.6,169.1 662.6,168.6 681.5,163.2 700.4,159.7 719.3,154.9 738.2,152.4 757.1,154.8 776,161.8"/>
<polyline points="76.4,562 95.3,507.3 114.2,450.4 133.1,408.3 152,389.6 170.9,380.2 189.8,368.8 208.8,357.3 227.7,345.6 246.6,333.8 265.5,322.8 284.4,314.8 303.3,308 322.2,302.6 341.1,301.1 360,297.8 378.9,290.3 397.8,282.5 416.7,274.5 435.7,265.9 454.6,255.7 473.5,246.6 492.4,235.5 511.3,218.6 530.2,201.5 549.1,178.1 568,166.9 586.9,175.2 605.8,176 624.7,174.2 643.6,175 662.6,179.6 681.5,180 700.4,171.9 719.3,160.1 738.2,149.1 757.1,137.2 776,125.5"/>
<polyline points="76.4,368.6 95.3,375 114.2,374.5 133.1,376.9 152,381 170.9,385 189.8,395.2 208.8,403.3 227.7,403.4 246.6,401.1 265.5,394.4 284.4,380.7 303.3,368.6 322.2,354.8 341.1,334.9 360,318 378.9,302.6 397.8,285.9 416.7,267.8 435.7,252.6 454.6,236.4 473.5,222.2 492.4,219.5 511.3,222.8 530.2,220 549.1,217.2 568,221.1 586.9,223.8 605.8,209.8 624.7,180.9 643.6,180.2 662.6,181 681.5,170.6 700.4,164.3 719.3,156.2 738.2,158.9 757.1,175.9 776,193.5"/>
<polyline points="76.4,359.2 95.3,358.2 114.2,357.6 133.1,359 152,363.5 170.9,368.5 189.8,368 208.8,362.8 227.7,353.4 246.6,346.4 265.5,341.1 284.4,334.7 303.3,328.7 322.2,324.9 341.1,322.3 360,320.1 378.9,320 397.8,323.6 416.7,331.7 435.7,339.9 454.6,346.9 473.5,360.4 492.4,370.7 511.3,374.4 530.2,373 549.1,371.2 568,370.9 586.9,353.3 605.8,312.9 624.7,270.2 643.6,237.7 662.6,215.3 681.5,200.3 700.4,191.1 719.3,182.5 738.2,178.9 757.1,178.2 776,178.7"/>
<polyline points="76.4,673.7 95.3,552.4 114.2,462.3 133.1,412.1 152,396.5 170.9,394.4 189.8,394.2 208.8,392.3 227.7,385.4 246.6,379 265.5,371.2 284.4,361.7 303.3,350 322.2,337.8 341.1,326.7 360,316.7 378.9,309.1 397.8,301.4 416.7,292 435.7,285.3 454.6,282.7 473.5,278.6 492.4,276.6 511.3,283.2 530.2,286.6 549.1,280 568,255.7 586.9,245.5 605.8,248.1 624.7,239.3 643.6,231.2 662.6,225.8 681.5,221.7 700.4,219.8 719.3,220.9 738.2,223 757.1,228.8 776,232.4"/>
<polyline points="76.4,431.8 95.3,410.9 114.2,395.5 133.1,386.8 152,382.9 170.9,380.8 189.8,372.8 208.8,361.9 227.7,350 246.6,336.3 265.5,320.6 284.4,307.9 303.3,299.4 322.2,291.2 341.1,282.4 360,275.9 378.9,270.9 397.8,262.7 416.7,249.4 435.7,236.8 454.6,229.5 473.5,221.2 492.4,210.3 511.3,198.8 530.2,190.8 549.1,168.9 568,142.4 586.9,147.5 605.8,154.6 624.7,155.4 643.6,160.3 662.6,173.1 681.5,185.6 700.4,188.9 719.3,195 738.2,204.8 757.1,209.1 776,208.4"/>
<polyline points="76.4,597 95.3,432.6 114.2,378.4 133.1,354.5 152,335.1 170.9,322.4 189.8,313.6 208.8,304.8 227.7,293.4 246.6,283.8 265.5,277.8 284.4,274.8 303.3,276.7 322.2,275.8 341.1,277.3 360,286 378.9,295.3 397.8,300.1 416.7,304.3 435.7,313.8 454.6,333.2 473.5,353.9 492.4,372.4 511.3,392.3 530.2,403.5 549.1,397.6 568,376.7 586.9,358.9 605.8,334.2 624.7,287.9 643.6,252.9 662.6,230.5 681.5,218 700.4,214.3 719.3,215.3 738.2,223.7 757.1,237.2 776,254.3"/>
<polyline points="76.4,347.8 95.3,352.1 114.2,353.2 133.1,355.3 152,355.5 170.9,355.3 189.8,348.6 208.8,339.4 227.7,330.6 246.6,320.1 265.5,308.9 284.4,303 303.3,296.9 322.2,291.6 341.1,287.4 360,280.5 378.9,278.5 397.8,280.6 416.7,279.5 435.7,282.4 454.6,286.8 473.5,293.2 492.4,299.8 511.3,303.1 530.2,317.4 549.1,336.5 568,330.9 586.9,318.4 605.8,299.8 624.7,268.8 643.6,237.5 662.6,214.3 681.5,199.2 700.4,183.4 719.3,168.1 738.2,159.2 757.1,159.9 776,167.3"/>
<polyline points="76.4,521.3 95.3,469.6 114.2,431.7 133.1,398.7 152,382.9 170.9,375.1 189.8,366.1 208.8,356.5 227.7,346.9 246.6,337.3 265.5,329.5 284.4,326.2 303.3,326.7 322.2,325.5 341.1,320.3 360,314.9 378.9,309.8 397.8,305 416.7,300.2 435.7,297.1 454.6,302.3 473.5,303.5 492.4,300.8 511.3,303.8 530.2,310.9 549.1,304.7 568,270.8 586.9,249.1 605.8,239.4 624.7,226.5 643.6,212.7 662.6,207.1 681.5,205.6 700.4,201.3 719.3,196.6 738.2,195.7 757.1,194.8 776,193.1"/>
<polyline points="76.4,425.9 95.3,438.8 114.2,433.2 133.1,409.4 152,395.9 170.9,390.1 189.8,383.4 208.8,377.6 227.7,368.7 246.6,358.4 265.5,346.1 284.4,334.1 303.3,322.3 322.2,312 341.1,303.7 360,295 378.9,288.9 397.8,283.8 416.7,279.9 435.7,278.9 454.6,278.1 473.5,287 492.4,298.4 511.3,306 530.2,309.9 549.1,313.5 568,314.6 586.9,311.7 605.8,291.4 624.7,271.2 643.6,257.9 662.6,248.8 681.5,240.8 700.4,229.9 719.3,224.9 738.2,222.3 757.1,216.8 776,210.9"/>
<polyline points="76.4,475.3 95.3,411.6 114.2,380.6 133.1,373.7 152,361.7 170.9,348.7 189.8,335.2 208.8,318.8 227.7,298.2 246.6,278.2 265.5,261.5 284.4,246.7 303.3,235.3 322.2,229 341.1,222.5 360,218 378.9,216.6 397.8,218 416.7,220.4 435.7,222.8 454.6,238.4 473.5,256.7 492.4,273.6 511.3,286.3 530.2,291.6 549.1,302.8 568,300.8 586.9,264.6 605.8,242.2 624.7,223.7 643.6,195.8 662.6,192.9 681.5,196 700.4,190.8 719.3,194.3 738.2,204.8 757.1,215.4 776,224.1"/>
<polyline points="76.4,389.4 95.3,372.8 114.2,366 133.1,360.5 152,351.7 170.9,345.3 189.8,336.8 208.8,326.4 227.7,314.8 246.6,305.7 265.5,297.7 284.4,293.1 303.3,289.9 322.2,287 341.1,286.2 360,287.6 378.9,287.7 397.8,288.1 416.7,287.4 435.7,286.6 454.6,292.7 473.5,301 492.4,302.4 511.3,301.4 530.2,302.6 549.1,305.7 568,300.4 586.9,292.2 605.8,270.7 624.7,241.2 643.6,220.2 662.6,204.2 681.5,192.7 700.4,183.6 719.3,174.8 738.2,166.4 757.1,160.4 776,156.6"/>
<polyline points="76.4,748.7 95.3,594.7 114.2,471.7 133.1,408.4 152,386.5 170.9,370.9 189.8,347.1 208.8,324.8 227.7,304.1 246.6,288.2 265.5,278.7 284.4,278.2 303.3,281.5 322.2,287.8 341.1,296 360,299.5 378.9,301.7 397.8,302.5 416.7,295.1 435.7,287.2 454.6,289.9 473.5,296.5 492.4,298 511.3,301.2 530.2,322.1 549.1,338.9 568,359.5 586.9,332.9 605.8,245.5 624.7,215.4 643.6,259.7 662.6,266.2 681.5,245.1 700.4,231.1 719.3,227.6 738.2,225.3 757.1,231.6 776,243.5"/>
<polyline points="76.4,532.1 95.3,483 114.2,445.4 133.1,409.3 152,394.9 170.9,388.9 189.8,378.2 208.8,362.4 227.7,345.7 246.6,328.6 265.5,311.8 284.4,301.1 303.3,297.5 322.2,297.8 341.1,296.7 360,291.9 378.9,286.6 397.8,282.7 416.7,276.5 435.7,268.2 454.6,259.9 473.5,251.5 492.4,241.1 511.3,231.1 530.2,230 549.1,222.1 568,222.8 586.9,230.2 605.8,222 624.7,207.4 643.6,194.7 662.6,191.9 681.5,193.8 700.4,194.7 719.3,196.2 738.2,195.8 757.1,192.3 776,191.1"/>
<polyline points="76.4,943.9 95.3,738.7 114.2,573.3 133.1,465.5 152,426.2 170.9,419.2 189.8,419.6 208.8,414.2 227.7,402.2 246.6,392.6 265.5,382.7 284.4,371.1 303.3,358.4 322.2,345.9 341.1,331.7 360,319.7 378.9,312.6 397.8,304.4 416.7,293.4 435.7,284.2 454.6,280 473.5,274.1 492.4,258.6 511.3,243 530.2,218.9 549.1,188.8 568,195.9 586.9,214.4 605.8,209.1 624.7,211.8 643.6,215.3 662.6,212.9 681.5,213.7 700.4,222.3 719.3,229.3 738.2,228.7 757.1,228.1 776,222.3"/>
<polyline points="76.4,359.6 95.3,361.9 114.2,364.1 133.1,367.4 152,369.3 170.9,369.4 189.8,363.9 208.8,357.2 227.7,348.8 246.6,337.7 265.5,325 284.4,315.8 303.3,307.4 322.2,297.8 341.1,291.7 360,288.5 378.9,284.6 397.8,282.9 416.7,285.4 435.7,288 454.6,295.1 473.5,298.1 492.4,295.5 511.3,285.7 530.2,273.5 549.1,261.6 568,236.3 586.9,208.1 605.8,182.2 624.7,161.7 643.6,152.7 662.6,151 681.5,147.3 700.4,139.9 719.3,133.8 738.2,134.4 757.1,139.4 776,149.2"/>
<polyline points="76.4,368.1 95.3,353.2 114.2,344 133.1,338.7 152,334.5 170.9,334 189.8,333 208.8,329.4 227.7,322.8 246.6,318.3 265.5,315.7 284.4,311.7 303.3,310.6 322.2,310.3 341.1,307.7 360,306.4 378.9,306.8 397.8,306.4 416.7,310.2 435.7,317.9 454.6,331.4 473.5,350.5 492.4,366.2 511.3,386.3 530.2,408.2 549.1,415.4 568,406.4 586.9,383.2 605.8,343.6 624.7,295.6 643.6,249.1 662.6,215.8 681.5,199.3 700.4,183.8 719.3,172.1 738.2,170.1 757.1,173.4 776,182.8"/>
<polyline points="76.4,409.8 95.3,387.3 114.2,379.4 133.1,373.3 152,364.8 170.9,357.2 189.8,348.1 208.8,338.5 227.7,326.9 246.6,315.4 265.5,304.5 284.4,295 303.3,287.6 322.2,283.3 341.1,279.1 360,277.1 378.9,281.5 397.8,284.3 416.7,285.4 435.7,288.3 454.6,295.1 473.5,302.8 492.4,301.9 511.3,295.3 530.2,296.6 549.1,298.7 568,289.7 586.9,270.6 605.8,243.7 624.7,216.8 643.6,203.5 662.6,193.5 681.5,184.1 700.4,177.7 719.3,171.3 738.2,169.1 757.1,169.7 776,170.2"/>
<polyline points="76.4,361.1 95.3,361.4 114.2,360.9 133.1,361.4 152,361 170.9,360.7 189.8,357.7 208.8,353.5 227.7,348.9 246.6,341.2 265.5,335.1 284.4,329.2 303.3,323.2 322.2,318.1 341.1,312.1 360,306.1 378.9,300 397.8,296.8 416.7,291.2 435.7,283.7 454.6,280.8 473.5,278 492.4,269.6 511.3,260 530.2,250.6 549.1,241.7 568,219.7 586.9,206.3 605.8,206.2 624.7,198.2 643.6,182.6 662.6,171.8 681.5,167.1 700.4,161.6 719.3,158.9 738.2,162.8 757.1,168.6 776,177"/>
<polyline points="76.4,298.4 95.3,307.6 114.2,309.5 133.1,310 152,315.3 170.9,323.3 189.8,327 208.8,326.1 227.7,320.3 246.6,316.8 265.5,313.6 284.4,308.8 303.3,306.9 322.2,303.6 341.1,300 360,299 378.9,297.5 397.8,293.6 416.7,288.6 435.7,287.2 454.6,291.2 473.5,296.4 492.4,300.3 511.3,309.2 530.2,321.1 549.1,331.3 568,334.4 586.9,323.7 605.8,319.5 624.7,300.5 643.6,269.7 662.6,240.4 681.5,221.5 700.4,206.4 719.3,194.7 738.2,181.7 757.1,169.4 776,163.3"/>
<polyline points="76.4,357.9 95.3,362.7 114.2,363.6 133.1,366 152,366.3 170.9,365.4 189.8,363.4 208.8,359.1 227.7,349.8 246.6,339.4 265.5,332.4 284.4,329.4 303.3,324.4 322.2,320.5 341.1,314.3 360,307.9 378.9,303.8 397.8,298.9 416.7,291.8 435.7,287.1 454.6,290.3 473.5,296 492.4,302.8 511.3,302.3 530.2,297.2 549.1,288.5 568,281 586.9,264.2 605.8,243.7 624.7,220.2 643.6,204.8 662.6,193.5 681.5,181.6 700.4,171.3 719.3,158.9 738.2,147.3 757.1,139.7 776,136.1"/>
<polyline points="76.4,394.9 95.3,402.4 114.2,396.6 133.1,387.1 152,380.4 170.9,372 189.8,361.5 208.8,351.9 227.7,340.7 246.6,330.8 265.5,324.3 284.4,324.1 303.3,327.5 322.2,330.5 341.1,332.6 360,334 378.9,328.3 397.8,324 416.7,321.9 435.7,314.6 454.6,310.3 473.5,311.4 492.4,308.9 511.3,296.1 530.2,294.1 549.1,304.1 568,304.1 586.9,284.6 605.8,266.6 624.7,264 643.6,260.5 662.6,252.3 681.5,255 700.4,261.9 719.3,269.4 738.2,273.5 757.1,274.5 776,273.1"/>
<polyline points="76.4,333.3 95.3,329.2 114.2,324.9 133.1,314.1 152,304.8 170.9,304.5 189.8,306.8 208.8,304.6 227.7,298.2 246.6,294.7 265.5,295.1 284.4,300.1 303.3,307.3 322.2,314.7 341.1,318.9 360,324 378.9,328.6 397.8,329 416.7,330.1 435.7,328.4 454.6,325.2 473.5,319.1 492.4,307.2 511.3,291.8 530.2,274 549.1,255.8 568,235 586.9,219.3 605.8,222.8 624.7,218.3 643.6,212.5 662.6,209.5 681.5,207.7 700.4,210 719.3,217.4 738.2,225 757.1,230.6 776,231.3"/>
<polyline points="76.4,370.9 95.3,369.6 114.2,367.7 133.1,368.5 152,370.1 170.9,369.2 189.8,360.6 208.8,352.3 227.7,341 246.6,328.3 265.5,317.5 284.4,308.9 303.3,303.7 322.2,297.9 341.1,290.1 360,283.7 378.9,280.4 397.8,277.3 416.7,272.9 435.7,270.7 454.6,276.6 473.5,284.5 492.4,289.2 511.3,296.4 530.2,301.9 549.1,302.5 568,308 586.9,311 605.8,302.7 624.7,285.6 643.6,266.1 662.6,252.9 681.5,246.1 700.4,239.3 719.3,240 738.2,239.1 757.1,234.1 776,228.2"/>
<polyline points="76.4,531.4 95.3,469.8 114.2,423.3 133.1,398.4 152,387.1 170.9,381.7 189.8,373.7 208.8,362.8 227.7,354.6 246.6,346.7 265.5,333.2 284.4,321.7 303.3,311.3 322.2,297.9 341.1,283.8 360,270.3 378.9,259.4 397.8,248.9 416.7,237.9 435.7,230.6 454.6,230.1 473.5,235 492.4,241.3 511.3,245.8 530.2,253.4 549.1,263.2 568,264.6 586.9,246.8 605.8,227.6 624.7,207.8 643.6,189.7 662.6,179.7 681.5,167.8 700.4,159.5 719.3,155.3 738.2,151.5 757.1,147.4 776,145.8"/>
<polyline points="76.4,542.7 95.3,417.7 114.2,378.1 133.1,364.5 152,347 170.9,331.3 189.8,324.5 208.8,316.4 227.7,302.4 246.6,292 265.5,283.5 284.4,280.1 303.3,274.2 322.2,268.7 341.1,268.2 360,268 378.9,268.1 397.8,270.8 416.7,273.2 435.7,273.5 454.6,275.2 473.5,285.6 492.4,295.9 511.3,300.9 530.2,288.6 549.1,268.2 568,253.1 586.9,236.6 605.8,213.1 624.7,192.2 643.6,176.5 662.6,159.2 681.5,145.5 700.4,139.3 719.3,140.6 738.2,144.8 757.1,147 776,150.4"/>
<polyline points="76.4,353.6 95.3,359.8 114.2,361.7 133.1,366.4 152,376.5 170.9,380.3 189.8,378.2 208.8,372.5 227.7,362.6 246.6,353.5 265.5,346.8 284.4,340.5 303.3,337.2 322.2,333.3 341.1,323.8 360,311 378.9,302.9 397.8,297.9 416.7,288.2 435.7,273.9 454.6,260.1 473.5,245.8 492.4,227.8 511.3,206.6 530.2,192.7 549.1,190.7 568,184.5 586.9,170.1 605.8,161.9 624.7,153.6 643.6,147.6 662.6,147 681.5,144.1 700.4,136.3 719.3,127.2 738.2,119.1 757.1,108.7 776,99.3"/>
<polyline points="76.4,373.4 95.3,366.4 114.2,363 133.1,361.5 152,363.4 170.9,365.2 189.8,360.6 208.8,354.2 227.7,347.3 246.6,341.5 265.5,337 284.4,331.6 303.3,328.6 322.2,324.8 341.1,317.3 360,309.2 378.9,302.2 397.8,293.9 416.7,282.3 435.7,273.1 454.6,272.1 473.5,272.8 492.4,274 511.3,275.7 530.2,278.8 549.1,270.8 568,255.5 586.9,240.7 605.8,221.2 624.7,205.6 643.6,184.1 662.6,167.1 681.5,161 700.4,152.5 719.3,143.8 738.2,142 757.1,141.6 776,143.8"/>
<polyline points="76.4,745.3 95.3,611.6 114.2,503.2 133.1,434.6 152,409.9 170.9,408.3 189.8,400.8 208.8,382.6 227.7,368.2 246.6,358.2 265.5,346.7 284.4,340.7 303.3,337.6 322.2,333.6 341.1,333.6 360,334.9 378.9,333.3 397.8,331.8 416.7,331.7 435.7,328.5 454.6,325.3 473.5,322.6 492.4,327.8 511.3,335.8 530.2,324.2 549.1,295.5 568,264.9 586.9,209.2 605.8,157.6 624.7,149.5 643.6,142 662.6,124.4 681.5,105.8 700.4,87.9 719.3,72.8 738.2,71.8 757.1,76.6 776,85.1"/>
<polyline points="76.4,672.8 95.3,544.1 114.2,454.1 133.1,406 152,388.9 170.9,383.2 189.8,376.6 208.8,369.8 227.7,360.9 246.6,351.4 265.5,343.6 284.4,337.1 303.3,331.4 322.2,325.5 341.1,319.4 360,310.7 378.9,302.1 397.8,296.8 416.7,295 435.7,293 454.6,294.4 473.5,298.4 492.4,293.7 511.3,282.2 530.2,273.1 549.1,257.3 568,219.8 586.9,184.7 605.8,167.3 624.7,154.6 643.6,142 662.6,134.2 681.5,129.7 700.4,124.5 719.3,117.8 738.2,117.2 757.1,119 776,122.5"/>
<polyline points="76.4,401.1 95.3,392.2 114.2,385.3 133.1,383 152,382.5 170.9,382.1 189.8,384.3 208.8,384.3 227.7,379.2 246.6,373 265.5,363.5 284.4,353.3 303.3,345.6 322.2,336.7 341.1,323.6 360,309.8 378.9,295.9 397.8,286.5 416.7,277.8 435.7,269.8 454.6,270.5 473.5,279.4 492.4,288.4 511.3,297.2 530.2,309 549.1,309.2 568,303.4 586.9,314.6 605.8,321.8 624.7,268.2 643.6,206.8 662.6,184.2 681.5,179.4 700.4,177.4 719.3,176.5 738.2,174.7 757.1,174.4 776,174.1"/>
<polyline points="76.4,477.8 95.3,447.3 114.2,414.9 133.1,395.3 152,386.9 170.9,382.9 189.8,376.6 208.8,369.8 227.7,363.6 246.6,358 265.5,351.1 284.4,343.9 303.3,339.6 322.2,336.1 341.1,328.5 360,316.4 378.9,305.1 397.8,296.4 416.7,291.5 435.7,283.4 454.6,275.9 473.5,273.2 492.4,272.2 511.3,271.5 530.2,282 549.1,285.7 568,288.2 586.9,282.9 605.8,275.3 624.7,274.7 643.6,268.9 662.6,257 681.5,245.5 700.4,239.7 719.3,238.9 738.2,236.7 757.1,230.9 776,226.3"/>
<polyline points="76.4,667.8 95.3,549.4 114.2,467.2 133.1,414.5 152,395 170.9,387.3 189.8,377.3 208.8,366 227.7,352.3 246.6,337.6 265.5,323.2 284.4,309.4 303.3,297.3 322.2,291 341.1,287 360,281 378.9,276.6 397.8,278.3 416.7,282.9 435.7,287.8 454.6,290.7 473.5,293.4 492.4,298.3 511.3,304.7 530.2,303.2 549.1,295.3 568,275.9 586.9,256.2 605.8,235.8 624.7,213.3 643.6,195.1 662.6,183.7 681.5,170.9 700.4,157.6 719.3,147.4 738.2,138.1 757.1,132.3 776,130.3"/>
<polyline points="76.4,547.1 95.3,469.5 114.2,428.7 133.1,400.9 152,387.6 170.9,382.4 189.8,376.4 208.8,372.8 227.7,365.8 246.6,356.9 265.5,349.8 284.4,344.8 303.3,339.4 322.2,329.9 341.1,316 360,299.4 378.9,284.4 397.8,270.1 416.7,254.7 435.7,234.2 454.6,217.4 473.5,212.8 492.4,208.9 511.3,192.5 530.2,185.8 549.1,190.1 568,187.8 586.9,179.6 605.8,173 624.7,176.2 643.6,183.1 662.6,180.8 681.5,174.3 700.4,166.9 719.3,153.8 738.2,142.4 757.1,134.8 776,128"/>
<polyline points="76.4,441.2 95.3,419.1 114.2,402.3 133.1,385.6 152,379.7 170.9,376 189.8,369.2 208.8,358.9 227.7,342.3 246.6,326.5 265.5,315.2 284.4,307.2 303.3,303.9 322.2,305.8 341.1,308 360,309.7 378.9,312.1 397.8,316.4 416.7,322.8 435.7,328.1 454.6,332.4 473.5,337.5 492.4,339.4 511.3,341.9 530.2,344.6 549.1,339.8 568,325.5 586.9,309.7 605.8,279.8 624.7,251.4 643.6,226.8 662.6,208.6 681.5,203.7 700.4,201.5 719.3,199.2 738.2,200.9 757.1,204.1 776,207.6"/>
<polyline points="76.4,622.4 95.3,507.3 114.2,432 133.1,393.4 152,381 170.9,369.9 189.8,357.3 208.8,349.1 227.7,341.6 246.6,334.3 265.5,324.8 284.4,316.3 303.3,311.9 322.2,304.1 341.1,293.7 360,282.5 378.9,271.8 397.8,263.5 416.7,254.4 435.7,242.4 454.6,231.6 473.5,223.1 492.4,219.4 511.3,220.7 530.2,218.6 549.1,206.2 568,190 586.9,189.3 605.8,197.3 624.7,193.8 643.6,185.5 662.6,182.4 681.5,179.8 700.4,173.8 719.3,163 738.2,151.2 757.1,141.7 776,132.1"/>
<polyline points="76.4,657.7 95.3,549.3 114.2,471.6 133.1,417.3 152,398.5 170.9,393.3 189.8,385.5 208.8,375 227.7,364 246.6,351.3 265.5,338.4 284.4,327.1 303.3,319.5 322.2,313.6 341.1,302.6 360,292.5 378.9,285.9 397.8,280.7 416.7,273.3 435.7,260.9 454.6,251 473.5,244.6 492.4,242.4 511.3,234.7 530.2,220.3 549.1,204.4 568,204.6 586.9,247.8 605.8,299.5 624.7,269.3 643.6,219.8 662.6,200.4 681.5,193.4 700.4,189.1 719.3,185.6 738.2,178 757.1,171.9 776,170.8"/>
<polyline points="76.4,434.6 95.3,394.8 114.2,382.3 133.1,375.1 152,370.2 170.9,369.2 189.8,367.1 208.8,364.9 227.7,359.3 246.6,354.3 265.5,351.1 284.4,347.7 303.3,346.1 322.2,346.5 341.1,344.7 360,339.3 378.9,334.1 397.8,332.2 416.7,332 435.7,328.5 454.6,328.2 473.5,329 492.4,322.7 511.3,311.4 530.2,309.8 549.1,307.7 568,292.7 586.9,273.2 605.8,256.9 624.7,241.3 643.6,223 662.6,206.6 681.5,194.5 700.4,181.9 719.3,170.9 738.2,163 757.1,157 776,154.4"/>
<polyline points="76.4,369.3 95.3,367.9 114.2,365.9 133.1,367 152,368.3 170.9,365.8 189.8,360.6 208.8,354 227.7,343.5 246.6,335.2 265.5,328.9 284.4,324.5 303.3,322.7 322.2,321.5 341.1,320.4 360,320.3 378.9,320.7 397.8,320.7 416.7,324.7 435.7,328.5 454.6,338.8 473.5,349.2 492.4,349.1 511.3,348.1 530.2,348.5 549.1,341.4 568,316.7 586.9,294.8 605.8,277.6 624.7,265.3 643.6,251.3 662.6,238.1 681.5,230.9 700.4,227 719.3,224 738.2,218.1 757.1,207.8 776,195.4"/>
<polyline points="76.4,374.6 95.3,364.6 114.2,357 133.1,348.7 152,341 170.9,335.2 189.8,327.6 208.8,318.7 227.7,306.3 246.6,296.6 265.5,291 284.4,288.3 303.3,283 322.2,274 341.1,267.6 360,269.8 378.9,268.5 397.8,263.2 416.7,264.1 435.7,269.6 454.6,276.1 473.5,286.6 492.4,298.1 511.3,301 530.2,291.4 549.1,276.3 568,254.6 586.9,227.7 605.8,203.5 624.7,184.6 643.6,174.7 662.6,173.9 681.5,170.3 700.4,164.8 719.3,161.3 738.2,156.6 757.1,153.9 776,153.9"/>
<polyline points="76.4,451.8 95.3,427 114.2,395.7 133.1,375.7 152,362.4 170.9,351.4 189.8,337.7 208.8,323.7 227.7,309.2 246.6,299.2 265.5,293 284.4,289.8 303.3,286.9 322.2,286.6 341.1,285.3 360,286.2 378.9,289.1 397.8,290.6 416.7,294.3 435.7,301.9 454.6,309.7 473.5,312.1 492.4,310.6 511.3,317.3 530.2,323.5 549.1,316.3 568,294.9 586.9,271.9 605.8,258.2 624.7,233.3 643.6,212.5 662.6,206.6 681.5,201.3 700.4,196.3 719.3,194.3 738.2,197.6 757.1,201 776,203.3"/>
<polyline points="76.4,461.7 95.3,420.8 114.2,402.9 133.1,387.5 152,378 170.9,371 189.8,364.5 208.8,353.9 227.7,341.7 246.6,330.6 265.5,319 284.4,311 303.3,307.6 322.2,304.2 341.1,302.3 360,301.7 378.9,301.7 397.8,305.3 416.7,308.3 435.7,311.8 454.6,314.8 473.5,315.3 492.4,313.9 511.3,306.4 530.2,289.6 549.1,262.7 568,231 586.9,212.2 605.8,195.3 624.7,183.6 643.6,165.2 662.6,151.7 681.5,142.4 700.4,130.6 719.3,115.4 738.2,100.5 757.1,87.8 776,82.4"/>
<polyline points="76.4,558.7 95.3,537.3 114.2,490.1 133.1,435.9 152,411.9 170.9,407.6 189.8,408.6 208.8,404 227.7,391.5 246.6,379.5 265.5,368.1 284.4,356.5 303.3,345.9 322.2,334.9 341.1,323.3 360,310.6 378.9,297.9 397.8,286.9 416.7,274 435.7,264 454.6,259.5 473.5,257.3 492.4,260.4 511.3,256.3 530.2,246.7 549.1,241.2 568,243.6 586.9,239.6 605.8,224.5 624.7,221.4 643.6,214.3 662.6,206.7 681.5,202.5 700.4,204.1 719.3,204.9 738.2,202.5 757.1,198 776,190"/>
<polyline points="76.4,361.9 95.3,366.1 114.2,368.7 133.1,374.2 152,379.3 170.9,377.9 189.8,370.5 208.8,361 227.7,347.5 246.6,331.3 265.5,314.9 284.4,300.4 303.3,289.8 322.2,283.7 341.1,282.5 360,281.4 378.9,281.7 397.8,287.1 416.7,292.8 435.7,298.4 454.6,306.2 473.5,313.6 492.4,315 511.3,316.8 530.2,317.4 549.1,310.8 568,296.3 586.9,272.3 605.8,239.9 624.7,207.9 643.6,187.8 662.6,175 681.5,168.5 700.4,164.7 719.3,163.8 738.2,165.5 757.1,165.9 776,169.1"/>
<polyline points="76.4,378.6 95.3,371.2 114.2,366.1 133.1,362.5 152,360.8 170.9,362.9 189.8,359.1 208.8,353.4 227.7,346.6 246.6,339.4 265.5,330.6 284.4,320.8 303.3,313.6 322.2,306.4 341.1,297.7 360,291.4 378.9,287.4 397.8,281.3 416.7,274.3 435.7,269.5 454.6,268.7 473.5,273 492.4,281.3 511.3,287.7 530.2,294.2 549.1,305.6 568,347 586.9,416.2 605.8,390.3 624.7,280.3 643.6,214.5 662.6,184.5 681.5,164.3 700.4,145.3 719.3,123.3 738.2,104.7 757.1,90.6 776,82.8"/>
<polyline points="76.4,514.6 95.3,502.8 114.2,463.3 133.1,420.9 152,400.5 170.9,393 189.8,384 208.8,372.7 227.7,357.3 246.6,343.4 265.5,331.8 284.4,322.8 303.3,317.6 322.2,310.6 341.1,302.4 360,293.8 378.9,287.7 397.8,283.3 416.7,280.7 435.7,281.1 454.6,283.2 473.5,288.5 492.4,298.6 511.3,307.2 530.2,307.6 549.1,304.3 568,301.1 586.9,281.6 605.8,262.1 624.7,250.4 643.6,233.3 662.6,220 681.5,212 700.4,204.8 719.3,203.5 738.2,208.5 757.1,213 776,215.1"/>
<polyline points="76.4,536.3 95.3,496.9 114.2,457.1 133.1,416.8 152,400.4 170.9,399 189.8,398.1 208.8,393.5 227.7,381.3 246.6,369 265.5,357.5 284.4,346.1 303.3,336 322.2,322.9 341.1,307.1 360,292.5 378.9,279.2 397.8,270.4 416.7,264.5 435.7,263.1 454.6,267.1 473.5,276.3 492.4,289.3 511.3,302.4 530.2,326.6 549.1,341.8 568,354.9 586.9,366 605.8,358.6 624.7,327.8 643.6,299.1 662.6,276.7 681.5,263.5 700.4,251.5 719.3,243.4 738.2,231.3 757.1,214.9 776,196.2"/>
<polyline points="76.4,608 95.3,541.2 114.2,474 133.1,423.3 152,402.4 170.9,397.5 189.8,391.5 208.8,379.9 227.7,362.8 246.6,348.7 265.5,336.6 284.4,325.7 303.3,316.5 322.2,308.6 341.1,299.2 360,291.3 378.9,283 397.8,275.3 416.7,269.3 435.7,263.1 454.6,259.3 473.5,257.3 492.4,255.2 511.3,257.5 530.2,268.5 549.1,282.3 568,287 586.9,282.2 605.8,264.6 624.7,249.5 643.6,234.4 662.6,217.3 681.5,201.9 700.4,193.5 719.3,186 738.2,177.6 757.1,175.3 776,176.5"/>
<polyline points="76.4,350.8 95.3,356 114.2,356.4 133.1,355.7 152,350.7 170.9,344.7 189.8,340 208.8,331.5 227.7,317 246.6,304.1 265.5,295.5 284.4,288.4 303.3,282.5 322.2,278.9 341.1,274.4 360,271.5 378.9,270 397.8,268.6 416.7,263.1 435.7,254.9 454.6,251.7 473.5,247.5 492.4,234.7 511.3,225.4 530.2,218.6 549.1,199 568,173.1 586.9,165.1 605.8,173.4 624.7,172.4 643.6,160.5 662.6,157.2 681.5,153.7 700.4,146.6 719.3,135.9 738.2,130.8 757.1,129 776,129.6"/>
<polyline points="76.4,518.1 95.3,487.4 114.2,446 133.1,413 152,402 170.9,402.6 189.8,401.9 208.8,400.5 227.7,394.7 246.6,384.5 265.5,369.5 284.4,352.6 303.3,334.3 322.2,320 341.1,305.6 360,293.8 378.9,288.6 397.8,286.7 416.7,285.4 435.7,287.7 454.6,296.4 473.5,307.2 492.4,316.8 511.3,322.4 530.2,325.5 549.1,324.9 568,308 586.9,278.4 605.8,248.6 624.7,225.8 643.6,199.7 662.6,179.2 681.5,166.3 700.4,154.6 719.3,143.7 738.2,138.8 757.1,136.4 776,135.2"/>
<polyline points="76.4,355 95.3,357.1 114.2,357.8 133.1,360.9 152,363.4 170.9,362.4 189.8,359 208.8,354.5 227.7,348.2 246.6,343.2 265.5,339.1 284.4,335.2 303.3,331 322.2,326.4 341.1,318.9 360,309.9 378.9,302.8 397.8,294.7 416.7,282.2 435.7,269 454.6,260.9 473.5,255.8 492.4,247.9 511.3,235.1 530.2,219.3 549.1,204.4 568,188.5 586.9,172 605.8,156.1 624.7,146.5 643.6,141.3 662.6,146.7 681.5,149.5 700.4,148.9 719.3,146.4 738.2,150.3 757.1,156.2 776,162.2"/>
<polyline points="76.4,637.4 95.3,536.7 114.2,459.8 133.1,411.6 152,394.4 170.9,387 189.8,375.7 208.8,363.3 227.7,350.3 246.6,339.4 265.5,329.4 284.4,321 303.3,316.7 322.2,313.7 341.1,309.9 360,302.6 378.9,295.4 397.8,293.2 416.7,291.3 435.7,287.1 454.6,281.8 473.5,276.9 492.4,274.7 511.3,271.1 530.2,270.9 549.1,266.8 568,249.2 586.9,232.6 605.8,207.3 624.7,187.5 643.6,172.5 662.6,168.1 681.5,161.8 700.4,151.9 719.3,144.3 738.2,138.4 757.1,132.1 776,127.9"/>
<polyline points="76.4,399.1 95.3,437 114.2,441.7 133.1,417.3 152,402.9 170.9,401 189.8,400.6 208.8,396.6 227.7,387.9 246.6,377.4 265.5,361.4 284.4,344.8 303.3,333.5 322.2,323.7 341.1,313.6 360,305.8 378.9,302.3 397.8,301 416.7,298 435.7,298.3 454.6,303.1 473.5,305.8 492.4,302 511.3,296.4 530.2,294.5 549.1,283 568,262.5 586.9,227.5 605.8,185.2 624.7,157.5 643.6,141.6 662.6,133.2 681.5,125.2 700.4,116.6 719.3,103.4 738.2,92.4 757.1,88.6 776,89.4"/>
<polyline points="76.4,429.2 95.3,415.2 114.2,397.6 133.1,386.5 152,381.3 170.9,375.7 189.8,364.4 208.8,353 227.7,342.5 246.6,331.9 265.5,321.2 284.4,313.3 303.3,310.7 322.2,308.9 341.1,303.2 360,295.8 378.9,290.7 397.8,286.7 416.7,283 435.7,283.5 454.6,290.8 473.5,301.8 492.4,315.1 511.3,325.4 530.2,335.8 549.1,335.1 568,334.6 586.9,316.2 605.8,285.9 624.7,260.5 643.6,231.7 662.6,207.1 681.5,189.9 700.4,177.1 719.3,166.6 738.2,153.7 757.1,143.4 776,139.6"/>
<polyline points="76.4,578.5 95.3,485.8 114.2,424.9 133.1,394.5 152,385 170.9,380.7 189.8,373.5 208.8,368.1 227.7,361.2 246.6,352.8 265.5,343.3 284.4,333 303.3,322.4 322.2,311.7 341.1,298.1 360,282.7 378.9,270.8 397.8,266.6 416.7,264.3 435.7,262.6 454.6,269.9 473.5,281.2 492.4,287.6 511.3,292.5 530.2,304.6 549.1,314.3 568,342.4 586.9,344.3 605.8,293.5 624.7,247.3 643.6,224.8 662.6,212.2 681.5,203.6 700.4,196.8 719.3,192.9 738.2,188.7 757.1,184 776,180.3"/>
<polyline points="76.4,406.3 95.3,393.7 114.2,384.7 133.1,377.2 152,368.6 170.9,363.9 189.8,358.8 208.8,347.4 227.7,330.4 246.6,315.7 265.5,301 284.4,289.1 303.3,277.7 322.2,264.1 341.1,251.8 360,241.6 378.9,241.2 397.8,243.5 416.7,240.5 435.7,243.7 454.6,259.3 473.5,274.2 492.4,289.9 511.3,298.4 530.2,302.8 549.1,294.1 568,276 586.9,272.4 605.8,254.9 624.7,227 643.6,201.3 662.6,189 681.5,178.5 700.4,171.4 719.3,170.6 738.2,168.1 757.1,164.8 776,162.1"/>
<polyline points="76.4,328.8 95.3,323.3 114.2,315.4 133.1,301.3 152,292.3 170.9,293.3 189.8,289.6 208.8,280.8 227.7,271.1 246.6,264.9 265.5,259.7 284.4,256.6 303.3,256.9 322.2,256.8 341.1,262.2 360,268.7 378.9,271.2 397.8,272.4 416.7,276 435.7,283.7 454.6,293.1 473.5,302.8 492.4,318.1 511.3,340 530.2,349.7 549.1,356.4 568,379.1 586.9,417.7 605.8,462.8 624.7,403.4 643.6,309.8 662.6,262.1 681.5,246.3 700.4,239 719.3,237 738.2,239.8 757.1,244.3 776,252.5"/>
<polyline points="76.4,449.3 95.3,407.3 114.2,384.4 133.1,379.1 152,376 170.9,368.4 189.8,359 208.8,352.5 227.7,343.4 246.6,332.2 265.5,323.3 284.4,316.4 303.3,310.9 322.2,306.7 341.1,302.3 360,298 378.9,298.7 397.8,298.5 416.7,296.9 435.7,296.7 454.6,296.1 473.5,295.3 492.4,295.1 511.3,293.2 530.2,298.4 549.1,306.2 568,290.5 586.9,279.4 605.8,278.1 624.7,267.1 643.6,255.7 662.6,246.8 681.5,244.2 700.4,243.2 719.3,241 738.2,237.4 757.1,234 776,231.1"/>
<polyline points="76.4,398 95.3,386.5 114.2,376.6 133.1,369.9 152,362.2 170.9,357.5 189.8,352.8 208.8,343.5 227.7,333.9 246.6,331 265.5,328.9 284.4,324.8 303.3,323.7 322.2,323.7 341.1,321.6 360,319.6 378.9,314.5 397.8,311.3 416.7,309.7 435.7,307.6 454.6,306.5 473.5,304.4 492.4,302.1 511.3,298.1 530.2,289.7 549.1,288.9 568,281.3 586.9,249.9 605.8,219 624.7,199.3 643.6,188.5 662.6,177.5 681.5,160.6 700.4,141.8 719.3,124.2 738.2,110.3 757.1,97.5 776,89.1"/>
<polyline points="76.4,539.1 95.3,459.4 114.2,406.5 133.1,384.8 152,376.1 170.9,367.7 189.8,360 208.8,352.2 227.7,342.2 246.6,332.5 265.5,323.6 284.4,318.5 303.3,315.7 322.2,311.6 341.1,305.4 360,300.5 378.9,297.2 397.8,292.4 416.7,287.4 435.7,286.9 454.6,293.2 473.5,300.4 492.4,307.8 511.3,308.3 530.2,311.5 549.1,311.2 568,291.3 586.9,284.6 605.8,313.5 624.7,312.2 643.6,242.1 662.6,190.3 681.5,174.3 700.4,167.7 719.3,163.5 738.2,165.6 757.1,172.6 776,183.4"/>
<polyline points="76.4,368.5 95.3,361.8 114.2,358.9 133.1,355.4 152,354.6 170.9,357 189.8,354 208.8,345.2 227.7,335.4 246.6,328.8 265.5,324.8 284.4,321.4 303.3,319.3 322.2,316.3 341.1,309.6 360,303.3 378.9,301.1 397.8,301.8 416.7,302.7 435.7,304.7 454.6,310 473.5,313.8 492.4,314.8 511.3,313.4 530.2,312.3 549.1,320.2 568,332.3 586.9,347 605.8,337.2 624.7,304.8 643.6,277.8 662.6,254.3 681.5,236.7 700.4,222.2 719.3,208.3 738.2,194 757.1,177.6 776,158.2"/>
<polyline points="76.4,364.6 95.3,357.5 114.2,357.9 133.1,362.6 152,369.6 170.9,375.7 189.8,376.7 208.8,379.1 227.7,377.9 246.6,374.3 265.5,366.1 284.4,358.3 303.3,350.2 322.2,338.6 341.1,323.5 360,305 378.9,286.7 397.8,269.8 416.7,254.8 435.7,242.7 454.6,234.8 473.5,230.4 492.4,230.6 511.3,233.8 530.2,248.7 549.1,263.9 568,271.8 586.9,284.5 605.8,324.6 624.7,304.9 643.6,233.7 662.6,198.6 681.5,186.3 700.4,169.8 719.3,151 738.2,139.2 757.1,131.8 776,126.8"/>
<polyline points="76.4,416 95.3,386.1 114.2,376.8 133.1,372.4 152,370.2 170.9,369.6 189.8,367.4 208.8,363.4 227.7,357.1 246.6,351 265.5,342.7 284.4,332.4 303.3,325.4 322.2,317.8 341.1,307 360,298.6 378.9,293.3 397.8,286.6 416.7,280 435.7,273.3 454.6,268.9 473.5,268.3 492.4,270.6 511.3,275.2 530.2,276.6 549.1,274.8 568,265 586.9,245.4 605.8,230.1 624.7,214.8 643.6,199.5 662.6,195.8 681.5,193.8 700.4,191.6 719.3,191.6 738.2,193.8 757.1,197.6 776,203.7"/>
<polyline points="76.4,364.5 95.3,371.7 114.2,376.3 133.1,380.4 152,382.7 170.9,381.2 189.8,374.3 208.8,364.9 227.7,350.3 246.6,335.1 265.5,321.2 284.4,308.4 303.3,301.2 322.2,297.3 341.1,293.1 360,292.2 378.9,293.1 397.8,296.2 416.7,300.6 435.7,305.8 454.6,314.5 473.5,323.5 492.4,331.6 511.3,334.3 530.2,332.4 549.1,320.2 568,278.5 586.9,203.6 605.8,173.7 624.7,187.4 643.6,177.1 662.6,164.4 681.5,161.9 700.4,162.3 719.3,165.5 738.2,169.3 757.1,172.4 776,172.8"/>
<polyline points="76.4,402.2 95.3,393.7 114.2,387.8 133.1,384.7 152,381.3 170.9,379.8 189.8,376.8 208.8,372.1 227.7,365.9 246.6,360.5 265.5,357.8 284.4,353.9 303.3,345.9 322.2,336.3 341.1,327.4 360,319.5 378.9,307.7 397.8,296.9 416.7,290.2 435.7,288.2 454.6,289.4 473.5,294 492.4,302.5 511.3,315.5 530.2,325.9 549.1,328.8 568,350.3 586.9,408.1 605.8,437.3 624.7,372.3 643.6,296.9 662.6,257.7 681.5,238.6 700.4,226.7 719.3,214.2 738.2,198 757.1,185.3 776,177.8"/>
<polyline points="76.4,801.6 95.3,650.9 114.2,531.4 133.1,444.7 152,413.8 170.9,409.5 189.8,406 208.8,397 227.7,384.8 246.6,373.3 265.5,359.7 284.4,348.2 303.3,336.5 322.2,324.3 341.1,311.2 360,300.4 378.9,291.1 397.8,286.5 416.7,281.1 435.7,279.4 454.6,287.3 473.5,298.1 492.4,311 511.3,320.7 530.2,333 549.1,331.6 568,323.6 586.9,334.1 605.8,321.5 624.7,290.1 643.6,263.8 662.6,244.4 681.5,228.8 700.4,217.1 719.3,202.9 738.2,183.7 757.1,163 776,143.4"/>
<polyline points="76.4,404.9 95.3,400.4 114.2,398.4 133.1,388.8 152,382.8 170.9,378.4 189.8,371.3 208.8,362.2 227.7,353.3 246.6,347.7 265.5,344.7 284.4,340.7 303.3,337.7 322.2,334.3 341.1,327.8 360,319.6 378.9,310.7 397.8,304.9 416.7,301 435.7,294.4 454.6,291.1 473.5,287.8 492.4,283 511.3,276.9 530.2,271.4 549.1,270 568,294.1 586.9,321.3 605.8,285 624.7,231.4 643.6,206.9 662.6,196.7 681.5,189.2 700.4,181.4 719.3,173.7 738.2,167 757.1,162.6 776,162.6"/>
<polyline points="76.4,368.1 95.3,367.1 114.2,367.1 133.1,367.4 152,371.1 170.9,372.4 189.8,366 208.8,358.4 227.7,351.4 246.6,344.8 265.5,336.5 284.4,329.1 303.3,322.5 322.2,318.6 341.1,311.8 360,301 378.9,289 397.8,276.8 416.7,263.8 435.7,249.7 454.6,240.8 473.5,236.7 492.4,237.4 511.3,240.1 530.2,244.6 549.1,249 568,268.5 586.9,288 605.8,281.9 624.7,270.5 643.6,254.1 662.6,235.7 681.5,225.2 700.4,216.8 719.3,206.4 738.2,196.7 757.1,189.9 776,187.4"/>
<polyline points="76.4,735.9 95.3,635.2 114.2,530.3 133.1,447.4 152,416.6 170.9,413.6 189.8,414.3 208.8,406.9 227.7,392.6 246.6,380.6 265.5,369.6 284.4,359.6 303.3,350.2 322.2,340.5 341.1,328 360,315.9 378.9,307.3 397.8,303.1 416.7,301.7 435.7,299.5 454.6,295.5 473.5,292.3 492.4,292.1 511.3,289.7 530.2,284.2 549.1,284.2 568,273.2 586.9,255.1 605.8,253.7 624.7,248.5 643.6,232.7 662.6,218.6 681.5,212.3 700.4,214.1 719.3,219.1 738.2,220.8 757.1,223.9 776,227.1"/>
<polyline points="76.4,330.7 95.3,327.3 114.2,320.9 133.1,312.2 152,303.6 170.9,302.6 189.8,305.3 208.8,305.9 227.7,302.4 246.6,300.1 265.5,302.3 284.4,307.3 303.3,308.5 322.2,306.4 341.1,304.7 360,301.8 378.9,297.7 397.8,292.1 416.7,292.4 435.7,293.2 454.6,290 473.5,289.8 492.4,294.9 511.3,304.8 530.2,304.6 549.1,289 568,303.9 586.9,363.6 605.8,410.2 624.7,356.5 643.6,278.9 662.6,251.6 681.5,240.9 700.4,232.8 719.3,233.3 738.2,231.1 757.1,224 776,217.3"/>
<polyline points="76.4,390.8 95.3,378.7 114.2,371.7 133.1,366.1 152,359.9 170.9,354.7 189.8,348.4 208.8,342.2 227.7,335 246.6,329.2 265.5,327.6 284.4,323.5 303.3,317.1 322.2,310.3 341.1,301.1 360,289.2 378.9,279.2 397.8,270.5 416.7,264.9 435.7,260.9 454.6,261.3 473.5,272.6 492.4,285.5 511.3,296.8 530.2,312.3 549.1,319.2 568,309.4 586.9,292.6 605.8,266.6 624.7,235 643.6,214.8 662.6,202.4 681.5,187.1 700.4,171 719.3,156.7 738.2,145.1 757.1,136.1 776,132.4"/>
<polyline points="76.4,427.2 95.3,408 114.2,399.8 133.1,396.2 152,391.2 170.9,388.5 189.8,380.5 208.8,368.1 227.7,354.7 246.6,342.5 265.5,328.4 284.4,314.8 303.3,305 322.2,298.7 341.1,291.8 360,283.9 378.9,278.6 397.8,276.1 416.7,276.6 435.7,280.5 454.6,287.5 473.5,302.4 492.4,317.5 511.3,321.6 530.2,322.2 549.1,324.9 568,324.5 586.9,307.4 605.8,285.4 624.7,269.1 643.6,245.8 662.6,227.9 681.5,217 700.4,203.5 719.3,193.7 738.2,186.5 757.1,178.5 776,170"/>
<polyline points="76.4,391.1 95.3,380 114.2,370.3 133.1,361 152,351 170.9,344.7 189.8,334.9 208.8,322.1 227.7,308.3 246.6,298.8 265.5,291.2 284.4,287.1 303.3,285.5 322.2,285.5 341.1,286.9 360,287.6 378.9,287.9 397.8,285.9 416.7,282.7 435.7,281.6 454.6,278.1 473.5,276.5 492.4,276 511.3,278.9 530.2,281.1 549.1,278.4 568,266.4 586.9,249.2 605.8,227.1 624.7,223.3 643.6,218 662.6,206 681.5,204.8 700.4,205 719.3,204.9 738.2,205.5 757.1,206.1 776,204.9"/>
<polyline points="76.4,394.5 95.3,373.5 114.2,361.5 133.1,349.2 152,343.1 170.9,346.7 189.8,343.4 208.8,335.7 227.7,331.9 246.6,330.9 265.5,324.7 284.4,316.9 303.3,314.1 322.2,311.5 341.1,302 360,288.3 378.9,274.1 397.8,264.5 416.7,253.7 435.7,241 454.6,227.4 473.5,216.2 492.4,208.9 511.3,181.4 530.2,147 549.1,131.9 568,102.8 586.9,82.7 605.8,87.8 624.7,94.5 643.6,96.4 662.6,97.9 681.5,102.3 700.4,101.1 719.3,96.5 738.2,98 757.1,101.9 776,107.1"/>
<polyline points="76.4,500.8 95.3,440 114.2,410.4 133.1,392.2 152,386.2 170.9,385.4 189.8,386.2 208.8,385.9 227.7,381.4 246.6,377 265.5,370.6 284.4,361.6 303.3,352.5 322.2,342 341.1,329.3 360,318.3 378.9,307.9 397.8,297.7 416.7,290.6 435.7,284.9 454.6,282.3 473.5,280.4 492.4,280.2 511.3,284 530.2,289.9 549.1,290.8 568,277.3 586.9,251.8 605.8,240.2 624.7,226.5 643.6,205.3 662.6,191 681.5,185.8 700.4,183.9 719.3,181.7 738.2,180.9 757.1,182.2 776,185.4"/>
<polyline points="76.4,380.1 95.3,370.9 114.2,366.8 133.1,363.7 152,361.5 170.9,361.5 189.8,358.6 208.8,353.6 227.7,344.2 246.6,332.1 265.5,320.1 284.4,311.6 303.3,304.8 322.2,298.8 341.1,292.9 360,287.3 378.9,286.3 397.8,287 416.7,287.2 435.7,288.9 454.6,292.3 473.5,293.3 492.4,289.6 511.3,288.4 530.2,286.1 549.1,261.6 568,233.1 586.9,209.2 605.8,170.9 624.7,144.2 643.6,127.8 662.6,120.9 681.5,117.2 700.4,108.8 719.3,100 738.2,98.9 757.1,98.8 776,103.5"/>
<polyline points="76.4,572.6 95.3,472.9 114.2,409 133.1,388.8 152,378.9 170.9,366.4 189.8,354.3 208.8,343.2 227.7,330.6 246.6,319.9 265.5,311.9 284.4,305.1 303.3,299 322.2,296.5 341.1,294.5 360,290.6 378.9,289.7 397.8,288.8 416.7,285.3 435.7,279.7 454.6,273.2 473.5,268.7 492.4,261.5 511.3,246.1 530.2,240.7 549.1,237.5 568,217.5 586.9,204.5 605.8,198.5 624.7,178 643.6,157.2 662.6,144.4 681.5,132.9 700.4,119.7 719.3,102.9 738.2,89.9 757.1,80.7 776,77.9"/>
<polyline points="76.4,394.3 95.3,406.6 114.2,395.2 133.1,387.7 152,385.2 170.9,383.6 189.8,377.2 208.8,371.1 227.7,362.1 246.6,353.6 265.5,347.8 284.4,346.3 303.3,342.7 322.2,338.6 341.1,334.9 360,330.8 378.9,327.9 397.8,324.1 416.7,318.1 435.7,306 454.6,293.1 473.5,288.7 492.4,280.3 511.3,273.5 530.2,271.8 549.1,245.5 568,217.8 586.9,225.7 605.8,278.1 624.7,273.7 643.6,209.4 662.6,176.7 681.5,171.3 700.4,167.8 719.3,158.6 738.2,154 757.1,147.7 776,141.7"/>
<polyline points="76.4,369.3 95.3,366.6 114.2,367.7 133.1,365.3 152,364.2 170.9,368.9 189.8,365.6 208.8,356.8 227.7,345.4 246.6,330.8 265.5,316.3 284.4,302.9 303.3,291.6 322.2,279.6 341.1,268.2 360,259.9 378.9,255.6 397.8,254.9 416.7,251.8 435.7,247.5 454.6,247.1 473.5,251.1 492.4,258.3 511.3,266.3 530.2,277.7 549.1,281.5 568,281.6 586.9,272.1 605.8,264.8 624.7,263.5 643.6,250.3 662.6,232.8 681.5,223.4 700.4,222.8 719.3,226 738.2,226 757.1,223.8 776,221.7"/>
<polyline points="76.4,492 95.3,478.7 114.2,444.7 133.1,409.8 152,394.8 170.9,390.8 189.8,386.4 208.8,379.6 227.7,369.9 246.6,357.1 265.5,341.8 284.4,326.4 303.3,313 322.2,301.1 341.1,292.3 360,285.3 378.9,281.7 397.8,281.9 416.7,284.3 435.7,285.9 454.6,288 473.5,287.5 492.4,283.7 511.3,272.9 530.2,250.8 549.1,221.9 568,177.4 586.9,138.9 605.8,107.5 624.7,95.5 643.6,97.2 662.6,107.3 681.5,112.7 700.4,112.6 719.3,106.2 738.2,104 757.1,105.9 776,110.4"/>
<polyline points="76.4,497.7 95.3,459.6 114.2,428.5 133.1,402.2 152,388.3 170.9,381.7 189.8,373.6 208.8,364 227.7,351.6 246.6,339.8 265.5,331.8 284.4,327.8 303.3,325.7 322.2,324.4 341.1,323.3 360,321.2 378.9,318.5 397.8,317.1 416.7,318.4 435.7,320.5 454.6,327.8 473.5,342.1 492.4,360.4 511.3,377.4 530.2,396.3 549.1,418.3 568,427 586.9,424.3 605.8,403.8 624.7,360.7 643.6,318.4 662.6,282.1 681.5,257.9 700.4,238.7 719.3,226 738.2,211.9 757.1,200 776,191.6"/>
<polyline points="76.4,431.9 95.3,386 114.2,376.8 133.1,375.1 152,377.9 170.9,375.7 189.8,369.9 208.8,366.7 227.7,361.7 246.6,353.4 265.5,344.8 284.4,335.3 303.3,325.3 322.2,313.4 341.1,301.5 360,294.5 378.9,293.8 397.8,294.7 416.7,295 435.7,296.5 454.6,305.8 473.5,316.7 492.4,324.8 511.3,320.6 530.2,310.7 549.1,305.3 568,297.6 586.9,320.7 605.8,351.1 624.7,291.9 643.6,222 662.6,199.8 681.5,190.2 700.4,184.3 719.3,182.1 738.2,177.6 757.1,173 776,169.4"/>
<polyline points="76.4,378.2 95.3,373.1 114.2,369 133.1,371.2 152,371.9 170.9,370.9 189.8,362.8 208.8,353.2 227.7,345.1 246.6,335.6 265.5,322.5 284.4,311.5 303.3,303.1 322.2,294.3 341.1,280 360,266.4 378.9,258.9 397.8,252.5 416.7,240 435.7,231.9 454.6,236.5 473.5,249.3 492.4,262.7 511.3,281.6 530.2,309.6 549.1,313.1 568,324.1 586.9,328.4 605.8,308.3 624.7,283.3 643.6,245.4 662.6,209.1 681.5,182 700.4,161.8 719.3,146.3 738.2,138.6 757.1,136.7 776,142.8"/>
<polyline points="76.4,371 95.3,370.6 114.2,369.2 133.1,372.5 152,374.4 170.9,372.2 189.8,368.6 208.8,365.8 227.7,362 246.6,357.4 265.5,353.5 284.4,352.8 303.3,351.8 322.2,349.8 341.1,345.5 360,340.1 378.9,334.9 397.8,329.2 416.7,326.2 435.7,323.6 454.6,324 473.5,325.2 492.4,327.3 511.3,328.4 530.2,322.1 549.1,312.9 568,306.9 586.9,279.4 605.8,248 624.7,216.5 643.6,191.5 662.6,175.1 681.5,161.2 700.4,150.2 719.3,139.6 738.2,133.2 757.1,131.3 776,132.2"/>
<polyline points="76.4,501.6 95.3,440.6 114.2,408.8 133.1,388.4 152,378.1 170.9,369.3 189.8,360.6 208.8,354 227.7,349.9 246.6,346 265.5,343.3 284.4,344.5 303.3,349.5 322.2,355.2 341.1,353.6 360,348.9 378.9,343.2 397.8,336.3 416.7,329.9 435.7,323.7 454.6,319.1 473.5,318.8 492.4,318.8 511.3,315.5 530.2,320.2 549.1,334.3 568,340.2 586.9,322.4 605.8,301.1 624.7,278.1 643.6,253.4 662.6,234.2 681.5,216.9 700.4,199.6 719.3,184.1 738.2,168.9 757.1,155.9 776,149.7"/>
<polyline points="76.4,395.6 95.3,400.2 114.2,413.1 133.1,405.6 152,394 170.9,387.3 189.8,376.7 208.8,367.2 227.7,354.6 246.6,339.2 265.5,328.6 284.4,322.1 303.3,316.9 322.2,315.9 341.1,314.6 360,311.8 378.9,308.9 397.8,305 416.7,301.4 435.7,299.7 454.6,301.7 473.5,301 492.4,295.7 511.3,296.1 530.2,299.6 549.1,303 568,306.8 586.9,294.1 605.8,264.3 624.7,238.9 643.6,221.1 662.6,197.6 681.5,170.5 700.4,149.5 719.3,134.1 738.2,120.6 757.1,110.6 776,115.3"/>
<polyline points="76.4,388.3 95.3,381.7 114.2,379.4 133.1,376.3 152,374.3 170.9,374.8 189.8,370.8 208.8,369.1 227.7,364.7 246.6,357.2 265.5,349.8 284.4,344.8 303.3,341.1 322.2,334 341.1,324.9 360,315.8 378.9,307.8 397.8,302.1 416.7,297.3 435.7,294.9 454.6,294.9 473.5,293.9 492.4,295.9 511.3,290.8 530.2,282.1 549.1,276.4 568,259.1 586.9,238 605.8,233.6 624.7,216 643.6,194.5 662.6,188.5 681.5,184.8 700.4,178.5 719.3,173.8 738.2,170.4 757.1,167.3 776,166.8"/>
<polyline points="76.4,567.8 95.3,504.2 114.2,461.9 133.1,417.8 152,399.3 170.9,394.7 189.8,386.3 208.8,372.9 227.7,359.6 246.6,347.2 265.5,336.6 284.4,330.7 303.3,329.2 322.2,327.5 341.1,322.3 360,315.4 378.9,306.2 397.8,296.6 416.7,288.4 435.7,281.5 454.6,275.1 473.5,265 492.4,257.7 511.3,252.2 530.2,238.4 549.1,229.4 568,225.1 586.9,258.1 605.8,278.8 624.7,228.3 643.6,191.5 662.6,183.2 681.5,180.4 700.4,177.1 719.3,171 738.2,164.2 757.1,161.6 776,161.1"/>
<polyline points="76.4,626.3 95.3,545.3 114.2,475.7 133.1,421.6 152,401.4 170.9,397.5 189.8,392.5 208.8,385.2 227.7,375.3 246.6,362 265.5,345.2 284.4,333.6 303.3,325.6 322.2,316.1 341.1,302.7 360,288.6 378.9,277.1 397.8,267.9 416.7,258.5 435.7,252.7 454.6,253.4 473.5,254.4 492.4,264.5 511.3,271.1 530.2,274.7 549.1,275.3 568,251.8 586.9,216.1 605.8,159.4 624.7,161 643.6,194.1 662.6,197.8 681.5,192.9 700.4,195.5 719.3,201.6 738.2,208.1 757.1,214.4 776,216.9"/>
<polyline points="76.4,376.6 95.3,363.6 114.2,356.2 133.1,348.2 152,340.1 170.9,335.1 189.8,333.3 208.8,328.3 227.7,316.7 246.6,306.2 265.5,300.8 284.4,296.7 303.3,293.7 322.2,290.7 341.1,289.3 360,285.7 378.9,282.8 397.8,277.1 416.7,268.1 435.7,257.4 454.6,248.3 473.5,241 492.4,227.8 511.3,214.1 530.2,202.3 549.1,193.5 568,185.9 586.9,170.1 605.8,148.5 624.7,138.7 643.6,129.4 662.6,129.5 681.5,130.1 700.4,133 719.3,136.3 738.2,141.3 757.1,148.5 776,157.9"/>
<polyline points="76.4,382.3 95.3,369.2 114.2,361.2 133.1,355.7 152,350.4 170.9,349.8 189.8,348.8 208.8,345.9 227.7,337.3 246.6,326.2 265.5,318.7 284.4,315 303.3,313 322.2,308.2 341.1,303.3 360,294.9 378.9,285.5 397.8,276 416.7,262.2 435.7,252 454.6,246.3 473.5,239.5 492.4,235.5 511.3,229.1 530.2,222.9 549.1,222.7 568,227.4 586.9,248 605.8,292.4 624.7,338.2 643.6,307.4 662.6,253.8 681.5,236.2 700.4,234.6 719.3,239.2 738.2,239.6 757.1,241.2 776,245"/>
<polyline points="76.4,411 95.3,392.2 114.2,386.1 133.1,382.9 152,379.8 170.9,375.5 189.8,368.8 208.8,365.2 227.7,360.9 246.6,353.9 265.5,342 284.4,332.5 303.3,329.9 322.2,327.9 341.1,320 360,310.2 378.9,303.9 397.8,298.6 416.7,296 435.7,293.3 454.6,291.3 473.5,291.9 492.4,296.1 511.3,299.4 530.2,301.9 549.1,325.3 568,382.3 586.9,372 605.8,292.7 624.7,238 643.6,217.4 662.6,207.1 681.5,198.9 700.4,192.8 719.3,193.2 738.2,194.5 757.1,195.7 776,200.6"/>
<polyline points="76.4,353.5 95.3,354.1 114.2,355.3 133.1,356.5 152,358.5 170.9,360.5 189.8,357.3 208.8,353.4 227.7,346 246.6,337.7 265.5,329 284.4,321.7 303.3,317 322.2,311.7 341.1,304.7 360,298.6 378.9,290.3 397.8,282.9 416.7,276.3 435.7,269.9 454.6,267 473.5,264.9 492.4,260.6 511.3,254.6 530.2,248.3 549.1,244.5 568,234.1 586.9,225.2 605.8,238.8 624.7,246.4 643.6,238.1 662.6,229.3 681.5,225.3 700.4,225.2 719.3,229.5 738.2,232.4 757.1,237.9 776,244"/>
</g>
<polygon clip-path="url(#clipA)" points="76.4,353.9 86.5,353.7 96.7,353.5 106.8,353.4 117,353.2 127.1,353 137.2,352.7 147.4,352.3 157.5,351.8 167.7,351.1 177.8,349.3 187.9,345.8 198.1,341.8 208.2,337.2 218.3,331.6 228.5,325.6 238.6,319.9 248.8,314.6 258.9,309.4 269,304.4 279.2,300.1 289.3,296.6 299.5,293.5 309.6,290.6 319.7,287.5 329.9,284 340,280.4 350.2,276.8 360.3,273.5 370.4,270.6 380.6,267.9 390.7,265.2 400.9,262.2 411,258.5 421.1,254.4 431.3,250.6 441.4,248 451.5,246.3 461.7,245 471.8,243.7 482,242.4 492.1,241.1 502.2,239.9 512.4,238.7 522.5,237.7 532.7,236.3 542.8,233.6 552.9,228.5 563.1,222 573.2,214.4 583.4,208.4 593.5,203.5 603.6,198.6 613.8,193.4 623.9,188.4 634.1,183.4 644.2,179.1 654.3,176.2 664.5,173.9 674.6,171.1 684.7,167.7 694.9,164 705,159.8 715.2,154.7 725.3,150 735.4,146.5 745.6,143.3 755.7,140.5 765.9,138.1 776,136.4 776,238.3 765.9,236 755.7,234 745.6,232.3 735.4,231 725.3,230 715.2,229.1 705,228.6 694.9,228.7 684.7,230.3 674.6,232.9 664.5,236.3 654.3,242.4 644.2,249.8 634.1,258.8 623.9,268.3 613.8,277.7 603.6,286.9 593.5,295 583.4,302.3 573.2,307.5 563.1,311.4 552.9,313.9 542.8,315.5 532.7,315.8 522.5,314.7 512.4,313 502.2,311.3 492.1,309.4 482,307.4 471.8,305.6 461.7,303.7 451.5,301.9 441.4,301 431.3,301.3 421.1,302.4 411,304 400.9,305.7 390.7,307.7 380.6,310.3 370.4,313.3 360.3,316.4 350.2,319.7 340,323.5 329.9,327.3 319.7,330.9 309.6,333.9 299.5,336.6 289.3,339.5 279.2,342.9 269,347.2 258.9,352.1 248.8,357.3 238.6,362.3 228.5,367.5 218.3,372.8 208.2,377.7 198.1,381.7 187.9,385 177.8,387.8 167.7,390.2 157.5,391.7 147.4,393.5 137.2,400.1 127.1,413.1 117,433.1 106.8,458 96.7,487.3 86.5,521.3 76.4,560" fill="#000" fill-opacity="0.2" stroke="#000" stroke-opacity="0.25" stroke-width="1.5"/>
<polygon points="75.9,480.0 82.9,480.0 75.9,491.0" fill="#000" fill-opacity="0.22"/>
<path clip-path="url(#clipA)" d="M76.4 390.7 L79.9 388.9 L83.4 387.2 L86.9 385.6 L90.5 384.2 L94 383 L97.5 382.1 L101 381.4 L104.5 380.8 L108 380.3 L111.6 379.8 L115.1 379.3 L118.6 379 L122.1 378.8 L125.6 378.7 L129.1 378.7 L132.6 378.7 L136.2 378.7 L139.7 378.7 L143.2 378.6 L146.7 378.3 L150.2 378 L153.7 377.6 L157.3 377.1 L160.8 376.6 L164.3 376 L167.8 375.3 L171.3 374.3 L174.8 373 L178.4 371.6 L181.9 370.1 L185.4 368.6 L188.9 367 L192.4 365.2 L195.9 363.5 L199.4 361.7 L203 359.9 L206.5 358.3 L210 356.6 L213.5 354.9 L217 353.2 L220.5 351.4 L224.1 349.4 L227.6 347.4 L231.1 345.4 L234.6 343.5 L238.1 341.5 L241.6 339.5 L245.1 337.5 L248.7 335.6 L252.2 333.8 L255.7 332.1 L259.2 330.3 L262.7 328.6 L266.2 327 L269.8 325.4 L273.3 323.9 L276.8 322.5 L280.3 321.1 L283.8 319.8 L287.3 318.6 L290.9 317.5 L294.4 316.3 L297.9 315.3 L301.4 314.2 L304.9 313.2 L308.4 312.2 L311.9 311.2 L315.5 310.3 L319 309.4 L322.5 308.4 L326 307.5 L329.5 306.6 L333 305.7 L336.6 304.7 L340.1 303.8 L343.6 302.7 L347.1 301.7 L350.6 300.6 L354.1 299.6 L357.6 298.5 L361.2 297.4 L364.7 296.4 L368.2 295.4 L371.7 294.4 L375.2 293.5 L378.7 292.5 L382.3 291.5 L385.8 290.6 L389.3 289.7 L392.8 288.8 L396.3 287.9 L399.8 287 L403.3 286.1 L406.9 285.3 L410.4 284.4 L413.9 283.6 L417.4 282.8 L420.9 282.1 L424.4 281.3 L428 280.6 L431.5 279.8 L435 279 L438.5 278.1 L442 277.2 L445.5 276.3 L449.1 275.5 L452.6 274.9 L456.1 274.6 L459.6 274.5 L463.1 274.6 L466.6 274.8 L470.1 275.1 L473.7 275.5 L477.2 275.9 L480.7 276.4 L484.2 276.9 L487.7 277.4 L491.2 277.9 L494.8 278.6 L498.3 279.4 L501.8 280.3 L505.3 281.2 L508.8 282 L512.3 282.8 L515.8 283.4 L519.4 283.9 L522.9 284.4 L526.4 284.8 L529.9 285.1 L533.4 285.3 L536.9 285.1 L540.5 284.5 L544 283.5 L547.5 282.4 L551 281.1 L554.5 279.6 L558 277.9 L561.5 275.9 L565.1 273.8 L568.6 271.4 L572.1 268.6 L575.6 265.5 L579.1 262.4 L582.6 259.4 L586.2 256.4 L589.7 253.4 L593.2 250.4 L596.7 247.4 L600.2 244.4 L603.7 241.6 L607.3 239 L610.8 236.5 L614.3 234.1 L617.8 231.8 L621.3 229.6 L624.8 227.5 L628.3 225.4 L631.9 223.4 L635.4 221.4 L638.9 219.5 L642.4 217.6 L645.9 215.8 L649.4 214.1 L653 212.4 L656.5 210.8 L660 209.2 L663.5 207.6 L667 206 L670.5 204.5 L674 203 L677.6 201.7 L681.1 200.5 L684.6 199.5 L688.1 198.5 L691.6 197.6 L695.1 196.8 L698.7 196 L702.2 195.3 L705.7 194.7 L709.2 194.1 L712.7 193.5 L716.2 193 L719.8 192.5 L723.3 192.1 L726.8 191.6 L730.3 191.3 L733.8 190.9 L737.3 190.6 L740.8 190.3 L744.4 190 L747.9 189.8 L751.4 189.5 L754.9 189.2 L758.4 189 L761.9 188.7 L765.5 188.5 L769 188.3 L772.5 188 L776 187.8" fill="none" stroke="#00d492" stroke-width="5.2" stroke-dasharray="18.5 8"/>
<rect x="76.4" y="45.0" width="699.6" height="435.0" fill="none" stroke="#000" stroke-width="2.1"/>
<line x1="67.5" y1="431.8" x2="76.4" y2="431.8" class="tk"/>
<text x="60.5" y="443.7" class="tl" text-anchor="end">2</text>
<line x1="67.5" y1="335.1" x2="76.4" y2="335.1" class="tk"/>
<text x="60.5" y="347" class="tl" text-anchor="end">3</text>
<line x1="67.5" y1="238.5" x2="76.4" y2="238.5" class="tk"/>
<text x="60.5" y="250.4" class="tl" text-anchor="end">4</text>
<line x1="67.5" y1="141.8" x2="76.4" y2="141.8" class="tk"/>
<text x="60.5" y="153.7" class="tl" text-anchor="end">5</text>
<line x1="67.5" y1="45.1" x2="76.4" y2="45.1" class="tk"/>
<text x="60.5" y="57" class="tl" text-anchor="end">6</text>
<line x1="167.9" y1="480.0" x2="167.9" y2="488.9" class="tk"/>
<text x="166.4" y="520" class="tl" text-anchor="middle">10<tspan dy="-11.2" style="font-size:21.6px">1</tspan></text>
<line x1="472" y1="480.0" x2="472" y2="488.9" class="tk"/>
<text x="470.5" y="520" class="tl" text-anchor="middle">10<tspan dy="-11.2" style="font-size:21.6px">2</tspan></text>
<line x1="776" y1="480.0" x2="776" y2="488.9" class="tk"/>
<text x="774.5" y="520" class="tl" text-anchor="middle">10<tspan dy="-11.2" style="font-size:21.6px">3</tspan></text>
<line x1="76.4" y1="480.0" x2="76.4" y2="484.9" class="tk" style="stroke-width:1.5"/>
<line x1="100.5" y1="480.0" x2="100.5" y2="484.9" class="tk" style="stroke-width:1.5"/>
<line x1="120.8" y1="480.0" x2="120.8" y2="484.9" class="tk" style="stroke-width:1.5"/>
<line x1="138.5" y1="480.0" x2="138.5" y2="484.9" class="tk" style="stroke-width:1.5"/>
<line x1="154" y1="480.0" x2="154" y2="484.9" class="tk" style="stroke-width:1.5"/>
<line x1="259.4" y1="480.0" x2="259.4" y2="484.9" class="tk" style="stroke-width:1.5"/>
<line x1="313" y1="480.0" x2="313" y2="484.9" class="tk" style="stroke-width:1.5"/>
<line x1="351" y1="480.0" x2="351" y2="484.9" class="tk" style="stroke-width:1.5"/>
<line x1="380.4" y1="480.0" x2="380.4" y2="484.9" class="tk" style="stroke-width:1.5"/>
<line x1="404.5" y1="480.0" x2="404.5" y2="484.9" class="tk" style="stroke-width:1.5"/>
<line x1="424.9" y1="480.0" x2="424.9" y2="484.9" class="tk" style="stroke-width:1.5"/>
<line x1="442.5" y1="480.0" x2="442.5" y2="484.9" class="tk" style="stroke-width:1.5"/>
<line x1="458.1" y1="480.0" x2="458.1" y2="484.9" class="tk" style="stroke-width:1.5"/>
<line x1="563.5" y1="480.0" x2="563.5" y2="484.9" class="tk" style="stroke-width:1.5"/>
<line x1="617" y1="480.0" x2="617" y2="484.9" class="tk" style="stroke-width:1.5"/>
<line x1="655" y1="480.0" x2="655" y2="484.9" class="tk" style="stroke-width:1.5"/>
<line x1="684.5" y1="480.0" x2="684.5" y2="484.9" class="tk" style="stroke-width:1.5"/>
<line x1="708.5" y1="480.0" x2="708.5" y2="484.9" class="tk" style="stroke-width:1.5"/>
<line x1="728.9" y1="480.0" x2="728.9" y2="484.9" class="tk" style="stroke-width:1.5"/>
<line x1="746.5" y1="480.0" x2="746.5" y2="484.9" class="tk" style="stroke-width:1.5"/>
<line x1="762.1" y1="480.0" x2="762.1" y2="484.9" class="tk" style="stroke-width:1.5"/>
<text x="425.6" y="557.8" class="lb" text-anchor="middle">Period / [<tspan class="it">s</tspan>]</text>
<text transform="translate(22.2,264) rotate(-90)" class="lb" text-anchor="middle">Group Velocity / [<tspan class="it">km</tspan>/<tspan class="it">s</tspan>]</text>
<text transform="translate(73,28.0) scale(1.14,1)" class="ttp">(</text><text x="92" y="25.7" class="ttl">a</text><text transform="translate(115.2,28.0) scale(1.14,1)" class="ttp">)</text>
<line x1="103.8" y1="84.8" x2="162.7" y2="84.8" stroke="#00d492" stroke-width="5.4" stroke-dasharray="18.2 8"/>
<text x="186.5" y="95" class="lg">MAP</text>
<rect x="103.6" y="117.4" width="58.6" height="20.6" fill="#cccccc" stroke="#999" stroke-width="1.3"/>
<text x="186.5" y="135.7" class="lg">Posterior 1-<tspan class="it">σ</tspan></text>
<line x1="462.8" y1="68" x2="462.8" y2="99" stroke="#000080" stroke-width="2.4"/>
<rect x="458.6" y="80" width="8.3" height="8.3" fill="#000080"/>
<text x="515.2" y="95" class="lg">Picked vg</text>
</g>
<g id="pb">
<rect x="1089.3" y="147.8" width="3.2" height="4.2" fill="#f2aaaa"/>
<rect x="1092.9" y="142.5" width="3.2" height="9.5" fill="#f2aaaa"/>
<rect x="1096.6" y="134" width="3.2" height="18" fill="#f2aaaa"/>
<rect x="1100.2" y="112.8" width="3.2" height="39.2" fill="#f2aaaa"/>
<rect x="1103.8" y="46" width="3.2" height="106" fill="#f2aaaa"/>
<rect x="1107.5" y="91.6" width="3.2" height="60.4" fill="#f2aaaa"/>
<rect x="1111.1" y="106.4" width="3.2" height="45.6" fill="#f2aaaa"/>
<rect x="1114.7" y="128.7" width="3.2" height="23.3" fill="#f2aaaa"/>
<rect x="1118.3" y="144.6" width="3.2" height="7.4" fill="#f2aaaa"/>
<rect x="1160.3" y="141.4" width="5.1" height="10.6" fill="#f2aaaa"/>
<rect x="1165.8" y="97.9" width="5.1" height="54.1" fill="#f2aaaa"/>
<rect x="1171.4" y="46" width="5.1" height="106" fill="#f2aaaa"/>
<rect x="1177" y="66.1" width="5.1" height="85.9" fill="#f2aaaa"/>
<rect x="1182.5" y="124.4" width="5.1" height="27.6" fill="#f2aaaa"/>
<rect x="1188" y="148.8" width="5.1" height="3.2" fill="#f2aaaa"/>
<path d="M863.3 152 L1082.5 152 L1083.5 152 L1084.5 151.9 L1085.5 151.9 L1086.5 151.7 L1087.5 151.5 L1088.5 151.2 L1089.5 150.5 L1090.5 149.6 L1091.5 148 L1092.5 145.8 L1093.5 142.6 L1094.5 138.2 L1095.5 132.4 L1096.5 125 L1097.5 116.2 L1098.5 105.9 L1099.5 94.7 L1100.5 83 L1101.5 71.7 L1102.5 61.6 L1103.5 53.5 L1104.5 48.1 L1105.5 46 L1106.5 47.4 L1107.5 52.1 L1108.5 59.8 L1109.5 69.6 L1110.5 80.7 L1111.5 92.4 L1112.5 103.7 L1113.5 114.2 L1114.5 123.4 L1115.5 131 L1116.5 137.1 L1117.5 141.8 L1118.5 145.2 L1119.5 147.7 L1120.5 149.3 L1121.5 150.4 L1122.5 151.1 L1123.5 151.5 L1124.5 151.7 L1125.5 151.8 L1126.5 151.9 L1127.5 152 L1128.5 152 L1154.2 152 L1155.2 152 L1156.2 151.9 L1157.2 151.9 L1158.2 151.8 L1159.3 151.6 L1160.3 151.4 L1161.3 150.9 L1162.3 150.3 L1163.3 149.2 L1164.3 147.7 L1165.4 145.6 L1166.4 142.6 L1167.4 138.6 L1168.4 133.4 L1169.4 127 L1170.4 119.3 L1171.5 110.3 L1172.5 100.4 L1173.5 89.9 L1174.5 79.2 L1175.5 69 L1176.5 60.1 L1177.6 52.9 L1178.6 48.1 L1179.6 46.1 L1180.6 46.9 L1181.6 50.7 L1182.6 56.9 L1183.7 65.3 L1184.7 75 L1185.7 85.6 L1186.7 96.2 L1187.7 106.5 L1188.7 115.8 L1189.8 124.1 L1190.8 131 L1191.8 136.7 L1192.8 141.1 L1193.8 144.5 L1194.8 146.9 L1195.9 148.7 L1196.9 149.9 L1197.9 150.7 L1198.9 151.2 L1199.9 151.5 L1200.9 151.7 L1202 151.9 L1203 151.9 L1204 152 L1205 152 L1938 152 L1938 152 L863.3 152 Z" fill="#000080" fill-opacity="0.4" stroke="#000080" stroke-opacity="0.5" stroke-width="1.2"/>
<line x1="863.3" y1="152" x2="1937.4" y2="152" stroke="#000080" stroke-opacity="0.45" stroke-width="1.3"/>
<path d="M863.3 153C863.9 153 864.5 152 865 152C865.6 152 866.2 152 866.8 152C867.5 152 868.1 152 868.8 152C870 152 871.1 151.6 872.3 151.6C873.8 151.6 875.3 152.7 876.8 152.7C878.4 152.7 880 151.2 881.5 151.2C882.6 151.2 883.7 152.6 884.8 152.6C886.4 152.6 888.1 151.4 889.8 151.4C891.3 151.4 892.8 152.9 894.3 152.9C895.8 152.9 897.3 151.1 898.8 151.1C900.1 151.1 901.5 152.7 902.8 152.7C903.9 152.7 905 151.5 906 151.5C907.3 151.5 908.6 152.7 909.8 152.7C910.9 152.7 912 151.1 913 151.1C914 151.1 915.1 152.5 916 152.5C916.9 152.5 917.7 151.6 918.5 151.6C919.9 151.6 921.2 153.2 922.5 153.2C924 153.2 925.6 150.6 927 150.6C928.5 150.6 929.9 153.4 931.3 153.4C932.9 153.4 934.5 150.8 936 150.8C937.5 150.8 939.1 152.8 940.5 152.8C942.1 152.8 943.7 151.4 945.3 151.4C947.2 151.4 949.2 152.6 951 152.6C952.7 152.6 954.4 151.3 956 151.3C957.2 151.3 958.4 152.5 959.5 152.5C960.5 152.5 961.4 151.8 962.3 151.8C963.7 151.8 965.1 152.2 966.5 152.2C967.6 152.2 968.7 151.4 969.8 151.4C970.9 151.4 972 152.6 973 152.6C974 152.6 975.1 151.9 976 151.9C976.8 151.9 977.6 152.2 978.3 152.2C979.6 152.2 981 151.3 982.3 151.3C983.7 151.3 985.1 152.9 986.5 152.9C987.9 152.9 989.2 151.3 990.5 151.3C991.8 151.3 993.1 152.4 994.3 152.4C995 152.4 995.8 152 996.5 152C997.1 152 997.7 152.1 998.3 152.1C1000 152.1 1001.8 151.5 1003.5 151.5C1005 151.5 1006.4 152.8 1007.8 152.8C1009 152.8 1010.1 151.4 1011.3 151.4C1012.5 151.4 1013.6 152.6 1014.8 152.6C1016 152.6 1017.1 151.4 1018.3 151.4C1019.5 151.4 1020.8 152.2 1022 152.2C1022.8 152.2 1023.6 151.9 1024.3 151.9C1025.3 151.9 1026.3 152.8 1027.3 152.8C1028.9 152.8 1030.5 151.2 1032 151.2C1033.2 151.2 1034.4 152.1 1035.5 152.1C1036.1 152.1 1036.7 152 1037.3 152C1038.5 152 1039.6 153 1040.8 153C1042.1 153 1043.5 150.8 1044.8 150.8C1046.4 150.8 1048 153.1 1049.5 153.1C1051.1 153.1 1052.7 150.9 1054.3 150.9C1055.6 150.9 1057 153 1058.3 153C1060.3 153 1062.3 151 1064.3 151C1065.5 151 1066.8 153.6 1068 153.6C1069.4 153.6 1070.7 150.5 1072 150.5C1073.4 150.5 1074.7 153.5 1076 153.5C1077.2 153.5 1078.4 151.2 1079.5 151.2C1080.4 151.2 1081.2 152.3 1082 152.3C1083 152.3 1083.9 151.1 1084.8 151.1C1085.8 151.1 1086.8 153.2 1087.8 153.2C1089.2 153.2 1090.6 150.5 1092 150.5C1093.7 150.5 1095.4 153.9 1097 153.9C1098.5 153.9 1099.9 150.3 1101.3 150.3C1103.6 150.3 1106 153.1 1108.3 153.1C1109.5 153.1 1110.6 150.7 1111.8 150.7C1114.3 150.7 1116.8 153.2 1119.3 153.2C1120.3 153.2 1121.3 151.3 1122.3 151.3C1123 151.3 1123.8 152.4 1124.5 152.4C1125.5 152.4 1126.4 151 1127.3 151C1128 151 1128.8 151.6 1129.5 151.6C1130.1 151.6 1130.7 151.1 1131.3 151.1C1132.7 151.1 1134.1 153.8 1135.5 153.8C1137.1 153.8 1138.7 150.2 1140.3 150.2C1141.4 150.2 1142.5 152.8 1143.5 152.8C1144.4 152.8 1145.2 151.2 1146 151.2C1146.9 151.2 1147.7 152.5 1148.5 152.5C1149.3 152.5 1150.1 151.5 1150.8 151.5C1152.5 151.5 1154.1 153.3 1155.8 153.3C1157 153.3 1158.1 150.4 1159.3 150.4C1160.5 150.4 1161.6 152.9 1162.8 152.9C1163.6 152.9 1164.5 151.8 1165.3 151.8C1166 151.8 1166.6 152.5 1167.3 152.5C1168.5 152.5 1169.6 150.5 1170.8 150.5C1172 150.5 1173.3 154 1174.5 154C1176 154 1177.4 150.6 1178.8 150.6C1179.6 150.6 1180.5 151.5 1181.3 151.5C1181.6 151.5 1182 151.4 1182.3 151.4C1183.5 151.4 1184.8 153.2 1186 153.2C1187.4 153.2 1188.7 151.2 1190 151.2C1191 151.2 1191.9 152.2 1192.8 152.2C1193 152.2 1193.1 152.2 1193.3 152.2C1194 152.2 1194.8 152.8 1195.5 152.8C1197 152.8 1198.5 155.4 1200 155.4C1201.3 155.4 1202.7 154.2 1204 154.2C1206.1 154.2 1208.3 145.8 1210.4 145.8C1212.1 145.8 1213.9 156.2 1215.6 156.2C1216.7 156.2 1217.9 149 1219 149C1220 149 1221 159.6 1222 159.6C1222.8 159.6 1223.6 156.4 1224.4 156.4C1225.1 156.4 1225.9 161 1226.6 161C1228.1 161 1229.5 123 1231 123C1233.5 123 1236.1 189.6 1238.6 189.6C1240.2 189.6 1241.9 106.8 1243.6 106.8C1246.5 106.8 1249.5 189.6 1252.4 189.6C1255.1 189.6 1257.9 70 1260.6 70C1262.8 70 1265.2 247.6 1267.4 247.6C1269.4 247.6 1271.6 51.4 1273.6 51.4C1275.7 51.4 1277.9 221 1280 221C1283 221 1286 90.4 1289 90.4C1291.5 90.4 1294.1 240.2 1296.6 240.2C1299 240.2 1301.6 73.4 1304 73.4C1305.8 73.4 1307.8 239.2 1309.6 239.2C1312.6 239.2 1315.6 91.4 1318.6 91.4C1320.5 91.4 1322.5 230.6 1324.4 230.6C1326.8 230.6 1329.2 106.4 1331.6 106.4C1334.4 106.4 1337.2 226.6 1340 226.6C1342 226.6 1344 65 1346 65C1348.1 65 1350.3 219.6 1352.4 219.6C1354.6 219.6 1356.8 57.8 1359 57.8C1360.8 57.8 1362.8 222 1364.6 222C1367.4 222 1370.2 81.4 1373 81.4C1375.5 81.4 1378.1 214 1380.6 214C1382.5 214 1384.5 95.4 1386.4 95.4C1388.8 95.4 1391.2 190 1393.6 190C1395.1 190 1396.5 146.4 1398 146.4C1398.8 146.4 1399.6 165.6 1400.4 165.6C1401.7 165.6 1403.1 74 1404.4 74C1406.1 74 1407.8 235.6 1409.4 235.6C1411.8 235.6 1414.2 63.8 1416.6 63.8C1418.7 63.8 1420.9 220.6 1423 220.6C1425.1 220.6 1427.3 102.4 1429.4 102.4C1431.4 102.4 1433.4 172 1435.4 172C1436.4 172 1437.4 159.4 1438.4 159.4C1439.3 159.4 1440.1 172 1441 172C1442.7 172 1444.3 114.8 1446 114.8C1448.1 114.8 1450.3 186.6 1452.4 186.6C1454.4 186.6 1456.6 109.8 1458.6 109.8C1460.4 109.8 1462.2 190 1464 190C1466 190 1468 112.4 1470 112.4C1471.8 112.4 1473.6 204.2 1475.4 204.2C1476.9 204.2 1478.5 75.8 1480 75.8C1481.5 75.8 1483.1 240.2 1484.6 240.2C1485.9 240.2 1487.3 73.4 1488.6 73.4C1490.1 73.4 1491.7 222.6 1493.2 222.6C1494.6 222.6 1496 74 1497.4 74C1499.1 74 1500.8 221.2 1502.4 221.2C1503.8 221.2 1505.2 105 1506.6 105C1508.1 105 1509.5 180.2 1511 180.2C1512.2 180.2 1513.4 124.8 1514.6 124.8C1515.9 124.8 1517.3 195.6 1518.6 195.6C1520.2 195.6 1521.8 104.4 1523.4 104.4C1524.8 104.4 1526.2 193 1527.6 193C1529.2 193 1530.9 120.8 1532.6 120.8C1534.2 120.8 1535.8 175.6 1537.4 175.6C1539.4 175.6 1541.4 107.8 1543.4 107.8C1545.1 107.8 1546.8 199.6 1548.4 199.6C1550.7 199.6 1553.1 91 1555.4 91C1557.2 91 1559.2 242.6 1561 242.6C1562.7 242.6 1564.3 58 1566 58C1567.5 58 1568.9 199.6 1570.4 199.6C1573 199.6 1575.8 131 1578.4 131C1580.4 131 1582.4 213 1584.4 213C1586 213 1587.6 81.4 1589.2 81.4C1590.5 81.4 1591.9 200.6 1593.2 200.6C1594.5 200.6 1595.7 144.8 1597 144.8C1597.7 144.8 1598.3 151.6 1599 151.6C1600.3 151.6 1601.5 123 1602.8 123C1604.4 123 1606 179 1607.6 179C1610.9 179 1614.3 126.4 1617.6 126.4C1619.2 126.4 1620.8 205 1622.4 205C1624.1 205 1625.8 101.8 1627.4 101.8C1629.1 101.8 1630.8 193 1632.4 193C1634 193 1635.6 125.4 1637.2 125.4C1639.1 125.4 1641.1 194 1643 194C1644.5 194 1646.1 93.4 1647.6 93.4C1648.9 93.4 1650.3 196 1651.6 196C1652.9 196 1654.3 143.4 1655.6 143.4C1656.5 143.4 1657.5 153 1658.4 153C1659.5 153 1660.5 123.4 1661.6 123.4C1663.2 123.4 1664.8 200.6 1666.4 200.6C1667.7 200.6 1669.1 92.4 1670.4 92.4C1671.9 92.4 1673.5 217 1675 217C1676.7 217 1678.3 82.8 1680 82.8C1681.8 82.8 1683.8 217 1685.6 217C1687.7 217 1689.9 128.4 1692 128.4C1694.8 128.4 1697.6 210 1700.4 210C1701.7 210 1703.1 115 1704.4 115C1705.7 115 1707.1 150 1708.4 150C1709.4 150 1710.4 129 1711.4 129C1713 129 1714.6 227.6 1716.2 227.6C1717.8 227.6 1719.4 47.4 1721 47.4C1722.7 47.4 1724.3 248.6 1726 248.6C1727.5 248.6 1729.1 85.8 1730.6 85.8C1731.9 85.8 1733.3 170.6 1734.6 170.6C1735.6 170.6 1736.6 159.4 1737.6 159.4C1738.6 159.4 1739.6 175 1740.6 175C1742 175 1743.4 108.8 1744.8 108.8C1746.3 108.8 1747.9 206.6 1749.4 206.6C1750.7 206.6 1752.1 102 1753.4 102C1755.1 102 1756.8 186.6 1758.4 186.6C1760.5 186.6 1762.7 103 1764.8 103C1766.4 103 1768 212.2 1769.6 212.2C1771.4 212.2 1773.2 99.8 1775 99.8C1776.5 99.8 1778.1 193 1779.6 193C1780.9 193 1782.1 132.8 1783.4 132.8C1784.5 132.8 1785.5 160.2 1786.6 160.2C1787.9 160.2 1789.3 141 1790.6 141C1792.6 141 1794.6 170.2 1796.6 170.2C1798.2 170.2 1799.9 125.4 1801.6 125.4C1803.4 125.4 1805.4 177 1807.2 177C1809 177 1811 118.8 1812.8 118.8C1814.2 118.8 1815.6 178.6 1817 178.6C1818.5 178.6 1820.1 136.4 1821.6 136.4C1823.2 136.4 1824.8 164.6 1826.4 164.6C1828.1 164.6 1829.9 138.4 1831.6 138.4C1833.8 138.4 1836.2 183 1838.4 183C1839.9 183 1841.5 105 1843 105C1844.8 105 1846.6 192.6 1848.4 192.6C1850.8 192.6 1853.2 100.4 1855.6 100.4C1857.2 100.4 1858.9 200.6 1860.6 200.6C1863.2 200.6 1866 112 1868.6 112C1870.5 112 1872.5 198.6 1874.4 198.6C1876 198.6 1877.6 130.4 1879.2 130.4C1880.1 130.4 1881.1 146.6 1882 146.6C1882.9 146.6 1883.9 139 1884.8 139C1886.1 139 1887.3 166.6 1888.6 166.6C1889.7 166.6 1890.9 152.8 1892 152.8C1892.9 152.8 1893.9 167.2 1894.8 167.2C1896.5 167.2 1898.3 120.8 1900 120.8C1901.8 120.8 1903.8 185.6 1905.6 185.6C1907.5 185.6 1909.5 126.8 1911.4 126.8C1913.2 126.8 1915.2 159.6 1917 159.6C1919.2 159.6 1921.4 141.4 1923.6 141.4C1925.1 141.4 1926.5 169.6 1928 169.6C1929.6 169.6 1931.2 121.8 1932.8 121.8C1934.3 121.8 1935.9 195 1937.4 195" fill="none" stroke="#000" stroke-width="3" stroke-linejoin="round"/>
<line x1="1105.6" y1="46" x2="1105.6" y2="258" stroke="#000080" stroke-width="4"/>
<line x1="1106.3" y1="46" x2="1106.3" y2="258" stroke="#00d492" stroke-width="4"/>
<line x1="1179.8" y1="258" x2="1179.8" y2="46" stroke="#000080" stroke-width="4" stroke-dasharray="13.4 6.2"/>
<line x1="1173.4" y1="258" x2="1173.4" y2="46" stroke="#00d492" stroke-width="4" stroke-dasharray="13.4 6.2"/>
<text x="863.8" y="68.8" class="lg">TTL3-17</text>
<rect x="1214.2" y="352.7" width="6.5" height="21.2" fill="#f2aaaa"/>
<rect x="1221.1" y="303.9" width="6.5" height="70" fill="#f2aaaa"/>
<rect x="1228" y="285.9" width="6.5" height="88" fill="#f2aaaa"/>
<rect x="1234.9" y="288" width="6.5" height="85.9" fill="#f2aaaa"/>
<rect x="1241.8" y="341" width="6.5" height="32.9" fill="#f2aaaa"/>
<rect x="1375.5" y="345.3" width="10.8" height="28.6" fill="#f2aaaa"/>
<rect x="1386.7" y="285.9" width="10.8" height="88" fill="#f2aaaa"/>
<rect x="1397.9" y="267.9" width="10.8" height="106" fill="#f2aaaa"/>
<rect x="1409.1" y="303.9" width="10.8" height="70" fill="#f2aaaa"/>
<rect x="1420.3" y="347.4" width="10.8" height="26.5" fill="#f2aaaa"/>
<rect x="1431.5" y="371.8" width="10.8" height="2.1" fill="#f2aaaa"/>
<path d="M863.3 373.9 L1210.8 373.9 L1211.8 373.9 L1212.8 373.8 L1213.8 373.7 L1214.8 373.5 L1215.8 373.2 L1216.8 372.5 L1217.8 371.4 L1218.8 369.6 L1219.8 366.8 L1220.8 362.6 L1221.8 356.7 L1222.8 348.9 L1223.8 339.1 L1224.8 327.4 L1225.8 314.4 L1226.8 301.1 L1227.8 288.6 L1228.8 278.1 L1229.8 271 L1230.8 268 L1231.8 269.5 L1232.8 275.4 L1233.8 284.9 L1234.8 296.9 L1235.8 310.1 L1236.8 323.3 L1237.8 335.5 L1238.8 346 L1239.8 354.5 L1240.8 360.9 L1241.8 365.6 L1242.8 368.8 L1243.8 370.9 L1244.8 372.2 L1245.8 373 L1246.8 373.4 L1247.8 373.7 L1248.8 373.8 L1249.8 373.9 L1250.8 373.9 L1365.6 373.9 L1367.1 373.9 L1368.6 373.8 L1370.1 373.8 L1371.6 373.7 L1373.1 373.5 L1374.6 373.3 L1376.1 372.8 L1377.6 372.2 L1379.1 371.1 L1380.6 369.6 L1382.1 367.5 L1383.6 364.5 L1385.1 360.5 L1386.6 355.3 L1388.1 348.9 L1389.6 341.2 L1391.1 332.2 L1392.6 322.3 L1394.1 311.8 L1395.6 301.1 L1397.1 290.9 L1398.6 282 L1400.1 274.8 L1401.6 270 L1403.1 268 L1404.6 268.8 L1406.1 272.6 L1407.6 278.8 L1409.1 287.2 L1410.6 296.9 L1412.1 307.5 L1413.6 318.1 L1415.1 328.4 L1416.6 337.7 L1418.1 346 L1419.6 352.9 L1421.1 358.6 L1422.6 363 L1424.1 366.4 L1425.6 368.8 L1427.1 370.6 L1428.6 371.8 L1430.1 372.6 L1431.6 373.1 L1433.1 373.4 L1434.6 373.6 L1436.1 373.8 L1437.6 373.8 L1439.1 373.9 L1440.6 373.9 L1938 373.9 L1938 373.9 L863.3 373.9 Z" fill="#000080" fill-opacity="0.4" stroke="#000080" stroke-opacity="0.5" stroke-width="1.2"/>
<line x1="863.3" y1="373.9" x2="1937.4" y2="373.9" stroke="#000080" stroke-opacity="0.45" stroke-width="1.3"/>
<path d="M864 380.1C865.2 380.1 866.3 367.4 867.5 367.4C869.8 367.4 872.2 379.1 874.5 379.1C875.8 379.1 877.2 369.4 878.5 369.4C879.8 369.4 881.2 377.9 882.5 377.9C883.6 377.9 884.7 369.1 885.8 369.1C887.2 369.1 888.6 378.6 890 378.6C891.3 378.6 892.7 370.4 894 370.4C896.3 370.4 898.7 378.6 901 378.6C902 378.6 903 368.4 904 368.4C904.9 368.4 905.9 378.3 906.8 378.3C907.7 378.3 908.6 369.7 909.5 369.7C910.5 369.7 911.5 379.6 912.5 379.6C913.5 379.6 914.5 368.9 915.5 368.9C916.5 368.9 917.5 378.6 918.5 378.6C919.5 378.6 920.5 369.7 921.5 369.7C922.8 369.7 924.2 375.6 925.5 375.6C926.7 375.6 927.8 371.4 929 371.4C930.2 371.4 931.3 382.6 932.5 382.6C933.7 382.6 935 362.7 936.2 362.7C937.3 362.7 938.4 378.1 939.5 378.1C940.5 378.1 941.5 374.1 942.5 374.1C943.3 374.1 944.2 376.1 945 376.1C946.2 376.1 947.3 372.9 948.5 372.9C950 372.9 951.5 375.9 953 375.9C954.6 375.9 956.2 369.7 957.8 369.7C959.5 369.7 961.3 380.1 963 380.1C965.5 380.1 968.2 368.4 970.7 368.4C972 368.4 973.2 382.1 974.5 382.1C975.8 382.1 977.2 372.4 978.5 372.4C979 372.4 979.5 372.1 980 372.1C980.9 372.1 981.9 369.9 982.8 369.9C984 369.9 985.3 377.6 986.5 377.6C987.4 377.6 988.4 374.7 989.3 374.7C990 374.7 990.8 377.1 991.5 377.1C992.8 377.1 994.2 366.4 995.5 366.4C996.7 366.4 997.8 377.6 999 377.6C999.5 377.6 1000 377.9 1000.5 377.9C1001.2 377.9 1001.8 378.3 1002.5 378.3C1003.6 378.3 1004.7 368.1 1005.8 368.1C1008.3 368.1 1011 379.9 1013.5 379.9C1015.3 379.9 1017.2 371.1 1019 371.1C1021.6 371.1 1024.4 381.4 1027 381.4C1028.3 381.4 1029.7 366.4 1031 366.4C1032.7 366.4 1034.3 374.9 1036 374.9C1037.3 374.9 1038.7 372.9 1040 372.9C1041.2 372.9 1042.3 376.6 1043.5 376.6C1044.8 376.6 1046.2 373.4 1047.5 373.4C1048.3 373.4 1049.2 374.1 1050 374.1C1051.2 374.1 1052.3 371.1 1053.5 371.1C1054.5 371.1 1055.5 376.9 1056.5 376.9C1058.3 376.9 1060.2 380.1 1062 380.1C1063.3 380.1 1064.7 369.4 1066 369.4C1067.7 369.4 1069.3 377.9 1071 377.9C1072.3 377.9 1073.7 373.7 1075 373.7C1075.6 373.7 1076.2 372.9 1076.8 372.9C1077.5 372.9 1078.3 370.7 1079 370.7C1080.1 370.7 1081.1 377.1 1082.2 377.1C1084.3 377.1 1086.4 368.9 1088.5 368.9C1089.5 368.9 1090.5 376.1 1091.5 376.1C1092.2 376.1 1092.8 372.7 1093.5 372.7C1094.4 372.7 1095.3 380.3 1096.2 380.3C1097.2 380.3 1098.2 370.1 1099.2 370.1C1100.1 370.1 1101.1 374.6 1102 374.6C1102.9 374.6 1103.9 371.1 1104.8 371.1C1106 371.1 1107.3 377.9 1108.5 377.9C1109.7 377.9 1110.8 368.7 1112 368.7C1112.9 368.7 1113.9 382.6 1114.8 382.6C1115.9 382.6 1116.9 366.9 1118 366.9C1118.9 366.9 1119.9 377.6 1120.8 377.6C1121.7 377.6 1122.6 370.7 1123.5 370.7C1124.3 370.7 1125.2 375.9 1126 375.9C1126.8 375.9 1127.7 374.4 1128.5 374.4C1129.3 374.4 1130.2 377.1 1131 377.1C1133.3 377.1 1135.7 368.1 1138 368.1C1139.3 368.1 1140.7 378.1 1142 378.1C1143.2 378.1 1144.3 374.7 1145.5 374.7C1146.3 374.7 1147 374.9 1147.8 374.9C1148.7 374.9 1149.6 371.1 1150.5 371.1C1151.3 371.1 1152.2 380.3 1153 380.3C1154 380.3 1155 364.9 1156 364.9C1157 364.9 1158 380.3 1159 380.3C1159.9 380.3 1160.9 369.4 1161.8 369.4C1162.7 369.4 1163.6 381.1 1164.5 381.1C1165.7 381.1 1166.8 370.4 1168 370.4C1168.8 370.4 1169.7 374.1 1170.5 374.1C1172 374.1 1173.5 373.9 1175 373.9C1176.3 373.9 1177.7 377.1 1179 377.1C1180.2 377.1 1181.3 369.7 1182.5 369.7C1183.7 369.7 1184.8 378.6 1186 378.6C1187.7 378.6 1189.3 371.1 1191 371.1C1192.5 371.1 1194 374.1 1195.5 374.1C1195.9 374.1 1196.4 374.4 1196.8 374.4C1197.7 374.4 1198.6 380.6 1199.5 380.6C1200.5 380.6 1201.5 365.9 1202.5 365.9C1203.5 365.9 1204.5 377.6 1205.5 377.6C1206.3 377.6 1207.2 371.9 1208 371.9C1209.1 371.9 1210.1 379.1 1211.2 379.1C1212.6 379.1 1214.1 372.7 1215.5 372.7C1216.7 372.7 1217.8 376.1 1219 376.1C1220.2 376.1 1221.3 370.4 1222.5 370.4C1223.7 370.4 1224.8 378.1 1226 378.1C1227.3 378.1 1228.7 373.4 1230 373.4C1231.3 373.4 1232.7 377.1 1234 377.1C1234.9 377.1 1235.9 363.9 1236.8 363.9C1239.2 363.9 1241.6 383.6 1244 383.6C1245.3 383.6 1246.5 366.7 1247.8 366.7C1248.5 366.7 1249.3 368.1 1250 368.1C1250.8 368.1 1251.7 366.4 1252.5 366.4C1253.8 366.4 1255.2 385.5 1256.5 385.5C1259.1 385.5 1261.7 363.5 1264.3 363.5C1266.5 363.5 1268.8 387 1271 387C1272.8 387 1274.7 366.2 1276.5 366.2C1278.6 366.2 1280.7 391.5 1282.8 391.5C1284.2 391.5 1285.6 365 1287 365C1289.1 365 1291.4 377.8 1293.5 377.8C1294 377.8 1294.5 377 1295 377C1295.8 377 1296.7 381 1297.5 381C1298.7 381 1300 366.5 1301.2 366.5C1304.5 366.5 1307.9 382 1311.2 382C1312.5 382 1313.7 362.5 1315 362.5C1316.5 362.5 1318 383 1319.5 383C1322.1 383 1324.9 360.5 1327.5 360.5C1328.7 360.5 1329.8 381 1331 381C1332.3 381 1333.7 379.5 1335 379.5C1335.5 379.5 1336 378.2 1336.5 378.2C1337.4 378.2 1338.4 362.8 1339.3 362.8C1340.6 362.8 1342 382 1343.3 382C1345.4 382 1347.7 369.5 1349.8 369.5C1351 369.5 1352.1 380.5 1353.3 380.5C1354.5 380.5 1355.8 371.8 1357 371.8C1358 371.8 1359 372 1360 372C1361.2 372 1362.3 371.2 1363.5 371.2C1364.6 371.2 1365.7 381.2 1366.8 381.2C1368 381.2 1369.3 370.5 1370.5 370.5C1371.3 370.5 1372.2 376 1373 376C1374.1 376 1375.2 370.2 1376.3 370.2C1378.8 370.2 1381.5 380.2 1384 380.2C1385 380.2 1386 370.2 1387 370.2C1387.9 370.2 1388.9 374 1389.8 374C1390.7 374 1391.6 368 1392.5 368C1393.9 368 1395.4 386.5 1396.8 386.5C1397.9 386.5 1398.9 367.4 1400 367.4C1402.5 367.4 1405.1 387 1407.6 387C1409.8 387 1412.2 364.4 1414.4 364.4C1415.6 364.4 1416.8 380.2 1418 380.2C1420 380.2 1422 369.4 1424 369.4C1425.5 369.4 1426.9 388.6 1428.4 388.6C1430.1 388.6 1431.9 352 1433.6 352C1435.2 352 1436.9 400 1438.6 400C1440.9 400 1443.3 352 1445.6 352C1447.1 352 1448.5 388.2 1450 388.2C1452.6 388.2 1455.4 358 1458 358C1460.3 358 1462.7 388 1465 388C1466.7 388 1468.3 357.4 1470 357.4C1472.2 357.4 1474.4 386 1476.6 386C1478.7 386 1480.9 357 1483 357C1484.7 357 1486.3 387 1488 387C1490.6 387 1493.4 360.4 1496 360.4C1497.2 360.4 1498.4 385.6 1499.6 385.6C1501.9 385.6 1504.3 360 1506.6 360C1508.2 360 1509.8 383 1511.4 383C1512.9 383 1514.5 366 1516 366C1517.3 366 1518.7 384.6 1520 384.6C1522.5 384.6 1525.1 353.4 1527.6 353.4C1528.9 353.4 1530.3 403.6 1531.6 403.6C1533.7 403.6 1535.9 363.4 1538 363.4C1540.5 363.4 1543.1 378 1545.6 378C1548.2 378 1551 373.4 1553.6 373.4C1555.4 373.4 1557.2 373 1559 373C1560.7 373 1562.3 373.8 1564 373.8C1566.6 373.8 1569.4 377 1572 377C1574.5 377 1577.1 366.4 1579.6 366.4C1582.2 366.4 1585 392.6 1587.6 392.6C1589.4 392.6 1591.4 334 1593.2 334C1595 334 1596.8 397.6 1598.6 397.6C1600.9 397.6 1603.3 362.4 1605.6 362.4C1606.4 362.4 1607.2 366.2 1608 366.2C1608.8 366.2 1609.6 349.4 1610.4 349.4C1611.8 349.4 1613.2 401.6 1614.6 401.6C1616.7 401.6 1618.9 363 1621 363C1622.5 363 1623.9 402.6 1625.4 402.6C1627.1 402.6 1628.8 317.8 1630.4 317.8C1632.2 317.8 1634.2 451.6 1636 451.6C1638 451.6 1640 298.8 1642 298.8C1644 298.8 1646 425 1648 425C1649.8 425 1651.6 350.8 1653.4 350.8C1654.8 350.8 1656.2 386.6 1657.6 386.6C1659.2 386.6 1660.9 352.4 1662.6 352.4C1664.8 352.4 1667.2 405 1669.4 405C1671.7 405 1674.1 349 1676.4 349C1678.9 349 1681.5 407.6 1684 407.6C1686.6 407.6 1689.4 333.4 1692 333.4C1694.8 333.4 1697.6 421 1700.4 421C1702.7 421 1705.1 325 1707.4 325C1709.6 325 1711.8 423 1714 423C1716.6 423 1719.4 324 1722 324C1724.3 324 1726.7 438.6 1729 438.6C1731 438.6 1733 310 1735 310C1736.8 310 1738.6 410.6 1740.4 410.6C1742.8 410.6 1745.2 359.4 1747.6 359.4C1750 359.4 1752.6 399.6 1755 399.6C1757.3 399.6 1759.7 346 1762 346C1763.5 346 1765.1 420.2 1766.6 420.2C1768.6 420.2 1770.6 331 1772.6 331C1774.2 331 1775.8 414 1777.4 414C1779.1 414 1780.8 348.8 1782.4 348.8C1784.2 348.8 1786.2 414 1788 414C1789.8 414 1791.8 342.4 1793.6 342.4C1795.5 342.4 1797.5 410.6 1799.4 410.6C1801.7 410.6 1804.1 328.4 1806.4 328.4C1808.4 328.4 1810.6 412.6 1812.6 412.6C1814.2 412.6 1815.8 354.8 1817.4 354.8C1818.3 354.8 1819.1 369.6 1820 369.6C1821 369.6 1822 356 1823 356C1825.1 356 1827.3 410.6 1829.4 410.6C1831.1 410.6 1832.8 326 1834.4 326C1836.2 326 1838.2 416.2 1840 416.2C1841.7 416.2 1843.3 339 1845 339C1847 339 1849 405.2 1851 405.2C1852.8 405.2 1854.8 326 1856.6 326C1858.8 326 1861.2 432.6 1863.4 432.6C1865.4 432.6 1867.6 333 1869.6 333C1872.8 333 1876.2 411 1879.4 411C1881.6 411 1883.8 301.4 1886 301.4C1888.1 301.4 1890.3 479 1892.4 479C1894.2 479 1896.2 278.4 1898 278.4C1899.8 278.4 1901.6 444.6 1903.4 444.6C1905.4 444.6 1907.4 349.8 1909.4 349.8C1910.7 349.8 1912.1 388 1913.4 388C1914.8 388 1916.2 345.4 1917.6 345.4C1919.5 345.4 1921.5 401 1923.4 401C1926.6 401 1929.8 331.4 1933 331.4C1934.5 331.4 1935.9 444.2 1937.4 444.2" fill="none" stroke="#000" stroke-width="3" stroke-linejoin="round"/>
<line x1="1231.0" y1="267.9" x2="1231.0" y2="479.9" stroke="#000080" stroke-width="4"/>
<line x1="1240.5" y1="267.9" x2="1240.5" y2="479.9" stroke="#00d492" stroke-width="4"/>
<line x1="1403.4" y1="479.9" x2="1403.4" y2="267.9" stroke="#000080" stroke-width="4" stroke-dasharray="13.4 6.2"/>
<line x1="1411.6" y1="479.9" x2="1411.6" y2="267.9" stroke="#00d492" stroke-width="4" stroke-dasharray="13.4 6.2"/>
<text x="863.8" y="290.7" class="lg">TTL5-16</text>
<rect x="1306.2" y="584.2" width="8.9" height="11.7" fill="#f2aaaa"/>
<rect x="1315.5" y="544" width="8.9" height="51.9" fill="#f2aaaa"/>
<rect x="1324.9" y="521.7" width="8.9" height="74.2" fill="#f2aaaa"/>
<rect x="1334.2" y="494.1" width="8.9" height="101.8" fill="#f2aaaa"/>
<rect x="1343.5" y="515.3" width="8.9" height="80.6" fill="#f2aaaa"/>
<rect x="1352.9" y="554.6" width="8.9" height="41.3" fill="#f2aaaa"/>
<rect x="1362.2" y="581.1" width="8.9" height="14.8" fill="#f2aaaa"/>
<rect x="1371.5" y="592.7" width="8.9" height="3.2" fill="#f2aaaa"/>
<rect x="1547.5" y="571.5" width="15.8" height="24.4" fill="#f2aaaa"/>
<rect x="1563.7" y="529.1" width="15.8" height="66.8" fill="#f2aaaa"/>
<rect x="1579.9" y="501.6" width="15.8" height="94.3" fill="#f2aaaa"/>
<rect x="1596.1" y="489.9" width="15.8" height="106" fill="#f2aaaa"/>
<rect x="1612.3" y="536.5" width="15.8" height="59.4" fill="#f2aaaa"/>
<rect x="1628.5" y="576.8" width="15.8" height="19.1" fill="#f2aaaa"/>
<rect x="1644.7" y="587.4" width="15.8" height="8.5" fill="#f2aaaa"/>
<rect x="1660.9" y="593.8" width="15.8" height="2.1" fill="#f2aaaa"/>
<path d="M863.3 595.9 L1244.8 595.9 L1248.1 595.9 L1251.4 595.8 L1254.7 595.8 L1258.1 595.7 L1261.4 595.5 L1264.7 595.3 L1268.1 594.8 L1271.4 594.2 L1274.7 593.1 L1278.1 591.6 L1281.4 589.5 L1284.7 586.5 L1288.1 582.5 L1291.4 577.3 L1294.7 570.9 L1298.1 563.2 L1301.4 554.2 L1304.7 544.3 L1308.1 533.8 L1311.4 523.1 L1314.7 512.9 L1318.1 504 L1321.4 496.8 L1324.7 492 L1328.1 490 L1331.4 490.8 L1334.7 494.6 L1338.1 500.8 L1341.4 509.2 L1344.7 518.9 L1348.1 529.5 L1351.4 540.1 L1354.7 550.4 L1358.1 559.7 L1361.4 568 L1364.7 574.9 L1368.1 580.6 L1371.4 585 L1374.7 588.4 L1378.1 590.8 L1381.4 592.6 L1384.7 593.8 L1388.1 594.6 L1391.4 595.1 L1394.7 595.4 L1398.1 595.6 L1401.4 595.8 L1404.7 595.8 L1408.1 595.9 L1411.4 595.9 L1461.7 595.9 L1467.3 595.9 L1472.9 595.8 L1478.6 595.8 L1484.2 595.7 L1489.8 595.5 L1495.4 595.3 L1501 594.8 L1506.6 594.2 L1512.3 593.1 L1517.9 591.6 L1523.5 589.5 L1529.1 586.5 L1534.7 582.5 L1540.3 577.3 L1546 570.9 L1551.6 563.2 L1557.2 554.2 L1562.8 544.3 L1568.4 533.8 L1574 523.1 L1579.7 512.9 L1585.3 504 L1590.9 496.8 L1596.5 492 L1602.1 490 L1607.7 490.8 L1613.4 494.6 L1619 500.8 L1624.6 509.2 L1630.2 518.9 L1635.8 529.5 L1641.4 540.1 L1647.1 550.4 L1652.7 559.7 L1658.3 568 L1663.9 574.9 L1669.5 580.6 L1675.1 585 L1680.8 588.4 L1686.4 590.8 L1692 592.6 L1697.6 593.8 L1703.2 594.6 L1708.8 595.1 L1714.5 595.4 L1720.1 595.6 L1725.7 595.8 L1731.3 595.8 L1736.9 595.9 L1742.5 595.9 L1938 595.9 L1938 595.9 L863.3 595.9 Z" fill="#000080" fill-opacity="0.4" stroke="#000080" stroke-opacity="0.5" stroke-width="1.2"/>
<line x1="863.3" y1="595.9" x2="1937.4" y2="595.9" stroke="#000080" stroke-opacity="0.45" stroke-width="1.3"/>
<path d="M863.5 579.4C864 579.4 864.5 602.6 865 602.6C865.6 602.6 866.2 590.9 866.8 590.9C867.8 590.9 868.8 615.8 869.8 615.8C870.9 615.8 871.9 574.9 873 574.9C874.2 574.9 875.3 610.6 876.5 610.6C877.5 610.6 878.5 582.9 879.5 582.9C880.5 582.9 881.5 610.6 882.5 610.6C883.4 610.6 884.4 591.1 885.3 591.1C886.1 591.1 887 599.1 887.8 599.1C889.2 599.1 890.6 586.9 892 586.9C894.5 586.9 897 605.6 899.5 605.6C901.5 605.6 903.5 588.6 905.5 588.6C906.9 588.6 908.3 604.9 909.7 604.9C910.7 604.9 911.7 586.4 912.7 586.4C913.7 586.4 914.7 597.6 915.7 597.6C916.4 597.6 917.1 589.9 917.8 589.9C919 589.9 920.3 607.9 921.5 607.9C924 607.9 926.7 585.7 929.2 585.7C930.2 585.7 931.2 601.6 932.2 601.6C932.8 601.6 933.4 599.1 934 599.1C934.7 599.1 935.3 599.9 936 599.9C937 599.9 938 592.9 939 592.9C939.7 592.9 940.5 603.9 941.2 603.9C942.1 603.9 943.1 581.1 944 581.1C944.9 581.1 945.9 610.6 946.8 610.6C947.8 610.6 948.8 579.9 949.8 579.9C950.9 579.9 951.9 612.6 953 612.6C954.2 612.6 955.3 580.4 956.5 580.4C957.5 580.4 958.5 605.1 959.5 605.1C962.7 605.1 966.1 577.2 969.3 577.2C970.6 577.2 972 614.1 973.3 614.1C975.5 614.1 977.8 571.9 980 571.9C981.3 571.9 982.7 606.6 984 606.6C984.8 606.6 985.7 599.9 986.5 599.9C986.8 599.9 987.2 600.6 987.5 600.6C988.7 600.6 989.8 587.4 991 587.4C992 587.4 993 601.9 994 601.9C994.8 601.9 995.7 593.4 996.5 593.4C997.3 593.4 998.2 599.6 999 599.6C999.8 599.6 1000.7 591.9 1001.5 591.9C1002.4 591.9 1003.4 601.9 1004.3 601.9C1005.4 601.9 1006.4 578.9 1007.5 578.9C1008.4 578.9 1009.4 607.9 1010.3 607.9C1011.4 607.9 1012.4 595.6 1013.5 595.6C1014.3 595.6 1015.2 603.6 1016 603.6C1017.2 603.6 1018.3 585.9 1019.5 585.9C1020.5 585.9 1021.5 598.6 1022.5 598.6C1023.3 598.6 1024 592.1 1024.8 592.1C1027.2 592.1 1029.6 600.9 1032 600.9C1032.9 600.9 1033.9 588.2 1034.8 588.2C1035.8 588.2 1036.8 605.6 1037.8 605.6C1038.7 605.6 1039.6 579.7 1040.5 579.7C1041.8 579.7 1043.2 611.9 1044.5 611.9C1045.5 611.9 1046.5 588.4 1047.5 588.4C1048.5 588.4 1049.5 601.6 1050.5 601.6C1051.8 601.6 1053 580.9 1054.3 580.9C1055.4 580.9 1056.4 606.6 1057.5 606.6C1060.9 606.6 1064.4 585.4 1067.8 585.4C1068.7 585.4 1069.6 605.8 1070.5 605.8C1071.3 605.8 1072 591.9 1072.8 591.9C1073.8 591.9 1074.8 609.8 1075.8 609.8C1076.7 609.8 1077.6 582.9 1078.5 582.9C1079.3 582.9 1080 601.8 1080.8 601.8C1081.8 601.8 1082.7 587.9 1083.7 587.9C1085.6 587.9 1087.6 606.3 1089.5 606.3C1090.6 606.3 1091.7 587.1 1092.8 587.1C1095.2 587.1 1097.8 604.3 1100.2 604.3C1102 604.3 1104 587.7 1105.8 587.7C1106.9 587.7 1107.9 602.9 1109 602.9C1109.8 602.9 1110.5 596.4 1111.3 596.4C1112.1 596.4 1112.9 601.4 1113.7 601.4C1114.5 601.4 1115.2 584.2 1116 584.2C1116.9 584.2 1117.9 609.8 1118.8 609.8C1119.8 609.8 1120.7 583.1 1121.7 583.1C1122.7 583.1 1123.8 604.8 1124.8 604.8C1125.7 604.8 1126.6 590.2 1127.5 590.2C1128.5 590.2 1129.5 602.3 1130.5 602.3C1131.6 602.3 1132.7 590.4 1133.8 590.4C1134.7 590.4 1135.6 597.6 1136.5 597.6C1137.4 597.6 1138.4 595.2 1139.3 595.2C1140 595.2 1140.8 601.9 1141.5 601.9C1142.4 601.9 1143.4 582.9 1144.3 582.9C1145.3 582.9 1146.3 608.3 1147.3 608.3C1148.2 608.3 1149.1 590.2 1150 590.2C1150.9 590.2 1151.9 602.6 1152.8 602.6C1153.6 602.6 1154.5 579.4 1155.3 579.4C1156.4 579.4 1157.4 612.9 1158.5 612.9C1159.3 612.9 1160 585.9 1160.8 585.9C1161.7 585.9 1162.6 612.6 1163.5 612.6C1164.5 612.6 1165.5 573.2 1166.5 573.2C1167.3 573.2 1168 607.8 1168.8 607.8C1169.7 607.8 1170.6 586.4 1171.5 586.4C1172.3 586.4 1173.2 606.3 1174 606.3C1174.8 606.3 1175.7 592.9 1176.5 592.9C1177.3 592.9 1178.2 601.9 1179 601.9C1180.2 601.9 1181.3 581.7 1182.5 581.7C1184.9 581.7 1187.4 610.6 1189.8 610.6C1192.1 610.6 1194.5 580.9 1196.8 580.9C1198.1 580.9 1199.5 613.3 1200.8 613.3C1201.7 613.3 1202.6 590.9 1203.5 590.9C1204.3 590.9 1205 601.8 1205.8 601.8C1206.9 601.8 1207.9 584.7 1209 584.7C1210.1 584.7 1211.2 614.9 1212.3 614.9C1213.4 614.9 1214.4 576.9 1215.5 576.9C1216.4 576.9 1217.4 599.1 1218.3 599.1C1219.1 599.1 1219.9 589.2 1220.7 589.2C1221.8 589.2 1222.9 611.4 1224 611.4C1226 611.4 1228 583.6 1230 583.6C1231.4 583.6 1232.8 603.8 1234.2 603.8C1235.1 603.8 1236.1 588.2 1237 588.2C1237.9 588.2 1238.9 615.8 1239.8 615.8C1240.9 615.8 1242.1 577.9 1243.2 577.9C1244.2 577.9 1245.2 602.6 1246.2 602.6C1247.1 602.6 1247.9 588.2 1248.8 588.2C1249.8 588.2 1250.8 608.6 1251.8 608.6C1253 608.6 1254.2 588.1 1255.4 588.1C1256.7 588.1 1258 599.3 1259.2 599.3C1260.3 599.3 1261.4 592.5 1262.4 592.5C1263.3 592.5 1264.1 606.2 1264.9 606.2C1266 606.2 1267 588.9 1268 588.9C1270.1 588.9 1272.2 604.3 1274.3 604.3C1275.6 604.3 1276.9 585.4 1278.2 585.4C1279.6 585.4 1280.9 606.7 1282.3 606.7C1283.6 606.7 1284.9 588.1 1286.2 588.1C1287.4 588.1 1288.5 606.2 1289.7 606.2C1290.7 606.2 1291.8 593.8 1292.8 593.8C1293.5 593.8 1294.3 598.8 1295 598.8C1295.9 598.8 1296.8 584.8 1297.7 584.8C1298.7 584.8 1299.8 611.7 1300.9 611.7C1302 611.7 1303.2 585.4 1304.4 585.4C1305.4 585.4 1306.5 602.1 1307.6 602.1C1308.4 602.1 1309.2 594.4 1310 594.4C1310.8 594.4 1311.7 604 1312.5 604C1313.7 604 1315 588.9 1316.3 588.9C1319.3 588.9 1322.4 620.4 1325.4 620.4C1326.6 620.4 1327.9 583.4 1329.1 583.4C1331.2 583.4 1333.4 608.9 1335.4 608.9C1336.2 608.9 1336.9 599.9 1337.7 599.9C1338.5 599.9 1339.3 603.4 1340.1 603.4C1342.4 603.4 1344.7 562.3 1347 562.3C1348.6 562.3 1350.1 625.4 1351.7 625.4C1353.6 625.4 1355.6 566.2 1357.5 566.2C1360.1 566.2 1362.7 617.1 1365.2 617.1C1366.6 617.1 1368 576.6 1369.4 576.6C1370.5 576.6 1371.6 603.4 1372.6 603.4C1373.6 603.4 1374.5 586.2 1375.4 586.2C1376.4 586.2 1377.3 624.8 1378.2 624.8C1379.3 624.8 1380.3 573.8 1381.3 573.8C1382.2 573.8 1383.2 613 1384.1 613C1385.2 613 1386.3 580.7 1387.3 580.7C1388.1 580.7 1388.9 610.3 1389.7 610.3C1391 610.3 1392.3 571.9 1393.6 571.9C1394.8 571.9 1396 640.4 1397.1 640.4C1398.5 640.4 1399.8 559.6 1401.2 559.6C1403.2 559.6 1405.2 613.6 1407.2 613.6C1408.3 613.6 1409.5 577.4 1410.7 577.4C1411.8 577.4 1413 616.3 1414.2 616.3C1415.3 616.3 1416.5 587.5 1417.7 587.5C1418.3 587.5 1418.9 596.6 1419.5 596.6C1420.5 596.6 1421.6 560.7 1422.6 560.7C1423.7 560.7 1424.9 650 1426.1 650C1427.2 650 1428.4 575.2 1429.6 575.2C1430.4 575.2 1431.3 587.5 1432.1 587.5C1432.7 587.5 1433.4 585.4 1434 585.4C1436.6 585.4 1439.3 624 1441.9 624C1443.1 624 1444.4 563.7 1445.7 563.7C1446.9 563.7 1448.2 619.3 1449.4 619.3C1450.5 619.3 1451.6 579.9 1452.6 579.9C1453.8 579.9 1455 618.5 1456.1 618.5C1457.3 618.5 1458.5 566.4 1459.6 566.4C1460.9 566.4 1462.2 624.5 1463.4 624.5C1464.4 624.5 1465.4 564.3 1466.4 564.3C1467.5 564.3 1468.7 642.3 1469.9 642.3C1471 642.3 1472.2 550 1473.3 550C1474.7 550 1476.1 623.4 1477.4 623.4C1478.5 623.4 1479.6 580.7 1480.6 580.7C1481.6 580.7 1482.7 613.6 1483.7 613.6C1484.8 613.6 1485.9 580.1 1486.9 580.1C1487.8 580.1 1488.8 626.2 1489.7 626.2C1490.7 626.2 1491.8 543.7 1492.8 543.7C1494 543.7 1495.2 659.1 1496.4 659.1C1497.8 659.1 1499.1 544.5 1500.5 544.5C1502 544.5 1503.6 625.9 1505.1 625.9C1506.4 625.9 1507.7 584.3 1509 584.3C1509.8 584.3 1510.6 588.4 1511.4 588.4C1512.1 588.4 1512.8 578.8 1513.5 578.8C1514.6 578.8 1515.8 626.7 1517 626.7C1518.9 626.7 1520.9 578 1522.9 578C1523.8 578 1524.8 628.6 1525.8 628.6C1526.8 628.6 1527.9 559.6 1528.9 559.6C1530 559.6 1531.2 634.4 1532.4 634.4C1533.4 634.4 1534.5 563.7 1535.6 563.7C1536.6 563.7 1537.7 617.7 1538.7 617.7C1539.9 617.7 1541.2 582.1 1542.4 582.1C1543.6 582.1 1544.8 613.8 1545.9 613.8C1547.5 613.8 1549 580.1 1550.6 580.1C1553.5 580.1 1556.5 614.9 1559.4 614.9C1561 614.9 1562.6 559.3 1564.3 559.3C1565.7 559.3 1567.3 642.3 1568.7 642.3C1570.4 642.3 1572 550.6 1573.6 550.6C1574.9 550.6 1576.3 641.2 1577.6 641.2C1579.5 641.2 1581.5 570.6 1583.4 570.6C1584.8 570.6 1586.2 637.7 1587.6 637.7C1589.8 637.7 1592 564.3 1594.2 564.3C1595.6 564.3 1597 633.6 1598.4 633.6C1600.5 633.6 1602.7 585.4 1604.8 585.4C1605.6 585.4 1606.4 600.1 1607.2 600.1C1608.3 600.1 1609.4 564.3 1610.4 564.3C1611.8 564.3 1613.2 634.9 1614.6 634.9C1616.6 634.9 1618.6 567 1620.5 567C1621.8 567 1623.1 601.5 1624.4 601.5C1625.4 601.5 1626.5 578 1627.5 578C1628.7 578 1630 650.8 1631.3 650.8C1632.6 650.8 1634.1 558.8 1635.5 558.8C1638.4 558.8 1641.4 622.6 1644.3 622.6C1645.4 622.6 1646.6 558.8 1647.8 558.8C1648.8 558.8 1649.8 617.7 1650.8 617.7C1652 617.7 1653.2 566.4 1654.3 566.4C1655.7 566.4 1657.2 636.3 1658.5 636.3C1660.4 636.3 1662.4 534.9 1664.3 534.9C1665.7 534.9 1667.1 634.4 1668.5 634.4C1669 634.4 1669.6 623.2 1670.1 623.2C1670.7 623.2 1671.4 623.4 1672 623.4C1673.3 623.4 1674.8 554.7 1676.2 554.7C1679.3 554.7 1682.6 617.7 1685.8 617.7C1687.3 617.7 1688.9 563.7 1690.4 563.7C1691.9 563.7 1693.4 618 1694.9 618C1695.7 618 1696.6 599.3 1697.4 599.3C1698.1 599.3 1698.8 608.4 1699.5 608.4C1700.9 608.4 1702.3 578.8 1703.7 578.8C1705 578.8 1706.2 605.6 1707.5 605.6C1708.2 605.6 1709 596.3 1709.7 596.3C1710.5 596.3 1711.3 608.9 1712.1 608.9C1713.2 608.9 1714.3 588.1 1715.3 588.1C1716 588.1 1716.6 592.5 1717.3 592.5C1718.3 592.5 1719.3 587 1720.2 587C1721.8 587 1723.4 624 1725 624C1726.3 624 1727.6 558.2 1728.9 558.2C1730.5 558.2 1732.2 639.6 1733.8 639.6C1735.1 639.6 1736.4 536.9 1737.7 536.9C1738.9 536.9 1740 630.8 1741.2 630.8C1743.6 630.8 1746 537.4 1748.4 537.4C1749.4 537.4 1750.4 622.6 1751.4 622.6C1752.3 622.6 1753.1 608.4 1754 608.4C1754.7 608.4 1755.3 612.6 1756 612.6C1757 612.6 1758 561 1759 561C1760 561 1761 640 1762 640C1763.3 640 1764.7 548 1766 548C1767.5 548 1769.1 649.6 1770.6 649.6C1772.1 649.6 1773.5 555.4 1775 555.4C1777.8 555.4 1780.8 625.2 1783.6 625.2C1784.9 625.2 1786.1 542.4 1787.4 542.4C1788.8 542.4 1790.2 624.2 1791.6 624.2C1792.5 624.2 1793.5 606.4 1794.4 606.4C1795.3 606.4 1796.1 625.6 1797 625.6C1798.3 625.6 1799.7 531.8 1801 531.8C1802.7 531.8 1804.3 659 1806 659C1808.2 659 1810.4 563.4 1812.6 563.4C1813.7 563.4 1814.9 608.2 1816 608.2C1817 608.2 1818 576.4 1819 576.4C1820.2 576.4 1821.4 620.2 1822.6 620.2C1823.4 620.2 1824.2 617 1825 617C1825.7 617 1826.3 619 1827 619C1828.5 619 1830.1 520.4 1831.6 520.4C1833.2 520.4 1834.8 685.6 1836.4 685.6C1837.6 685.6 1838.8 563.4 1840 563.4C1840.9 563.4 1841.7 606.2 1842.6 606.2C1843.7 606.2 1844.9 553.4 1846 553.4C1847.7 553.4 1849.3 637.6 1851 637.6C1852.5 637.6 1854.1 536.8 1855.6 536.8C1857.1 536.8 1858.5 667 1860 667C1861.5 667 1862.9 491.4 1864.4 491.4C1865.7 491.4 1867.1 674 1868.4 674C1870.4 674 1872.4 529.4 1874.4 529.4C1875.6 529.4 1876.8 647 1878 647C1880 647 1882 544.4 1884 544.4C1885.3 544.4 1886.7 643.6 1888 643.6C1889.2 643.6 1890.4 586.4 1891.6 586.4C1892.3 586.4 1892.9 590.2 1893.6 590.2C1894.3 590.2 1894.9 573.4 1895.6 573.4C1896.6 573.4 1897.6 624.6 1898.6 624.6C1900.4 624.6 1902.2 568.4 1904 568.4C1905.1 568.4 1906.3 626.6 1907.4 626.6C1910.1 626.6 1912.9 559.4 1915.6 559.4C1917.2 559.4 1918.9 646 1920.6 646C1922.1 646 1923.5 520.4 1925 520.4C1926.7 520.4 1928.3 673.2 1930 673.2C1931.3 673.2 1932.7 530 1934 530C1935.2 530 1936.4 608.6 1937.6 608.6" fill="none" stroke="#000" stroke-width="3" stroke-linejoin="round"/>
<line x1="1328.75" y1="489.9" x2="1328.75" y2="701.9" stroke="#000080" stroke-width="4"/>
<line x1="1349.5" y1="489.9" x2="1349.5" y2="701.9" stroke="#00d492" stroke-width="4"/>
<line x1="1603.25" y1="701.9" x2="1603.25" y2="489.9" stroke="#000080" stroke-width="4" stroke-dasharray="13.4 6.2"/>
<line x1="1603.25" y1="701.9" x2="1603.25" y2="489.9" stroke="#00d492" stroke-width="4" stroke-dasharray="13.4 6.2"/>
<text x="863.8" y="512.7" class="lg">TTL4-15</text>
<rect x="1255" y="807.2" width="8.1" height="10.6" fill="#f2aaaa"/>
<rect x="1263.5" y="783.9" width="8.1" height="33.9" fill="#f2aaaa"/>
<rect x="1272" y="742.5" width="8.1" height="75.3" fill="#f2aaaa"/>
<rect x="1280.5" y="741.5" width="8.1" height="76.3" fill="#f2aaaa"/>
<rect x="1289" y="727.7" width="8.1" height="90.1" fill="#f2aaaa"/>
<rect x="1297.5" y="726.6" width="8.1" height="91.2" fill="#f2aaaa"/>
<rect x="1306" y="771.2" width="8.1" height="46.6" fill="#f2aaaa"/>
<rect x="1314.5" y="796.6" width="8.1" height="21.2" fill="#f2aaaa"/>
<rect x="1323" y="812.5" width="8.1" height="5.3" fill="#f2aaaa"/>
<rect x="1433.8" y="811.4" width="14.1" height="6.4" fill="#f2aaaa"/>
<rect x="1448.2" y="811.4" width="14.1" height="6.4" fill="#f2aaaa"/>
<rect x="1462.8" y="782.8" width="14.1" height="35" fill="#f2aaaa"/>
<rect x="1477.2" y="758.4" width="14.1" height="59.4" fill="#f2aaaa"/>
<rect x="1491.8" y="737.2" width="14.1" height="80.6" fill="#f2aaaa"/>
<rect x="1506.2" y="711.8" width="14.1" height="106" fill="#f2aaaa"/>
<rect x="1520.8" y="727.7" width="14.1" height="90.1" fill="#f2aaaa"/>
<rect x="1535.2" y="766.9" width="14.1" height="50.9" fill="#f2aaaa"/>
<rect x="1549.8" y="807.2" width="14.1" height="10.6" fill="#f2aaaa"/>
<rect x="1564.2" y="814.1" width="14.1" height="3.7" fill="#f2aaaa"/>
<path d="M863.3 817.8 L1231.2 817.8 L1233.7 817.8 L1236.1 817.7 L1238.6 817.7 L1241.1 817.6 L1243.6 817.4 L1246.1 817.2 L1248.6 816.7 L1251 816.1 L1253.5 815 L1256 813.5 L1258.5 811.4 L1261 808.4 L1263.5 804.4 L1265.9 799.2 L1268.4 792.8 L1270.9 785.1 L1273.4 776.1 L1275.9 766.2 L1278.4 755.7 L1280.8 745 L1283.3 734.8 L1285.8 725.9 L1288.3 718.7 L1290.8 713.9 L1293.3 711.9 L1295.7 712.7 L1298.2 716.5 L1300.7 722.7 L1303.2 731.1 L1305.7 740.8 L1308.2 751.4 L1310.6 762 L1313.1 772.3 L1315.6 781.6 L1318.1 789.9 L1320.6 796.8 L1323.1 802.5 L1325.5 806.9 L1328 810.3 L1330.5 812.7 L1333 814.5 L1335.5 815.7 L1338 816.5 L1340.4 817 L1342.9 817.3 L1345.4 817.5 L1347.9 817.7 L1350.4 817.7 L1352.9 817.8 L1355.3 817.8 L1418.8 817.8 L1423.1 817.8 L1427.5 817.7 L1431.8 817.7 L1436.1 817.6 L1440.5 817.4 L1444.8 817.2 L1449.1 816.7 L1453.5 816.1 L1457.8 815 L1462.1 813.5 L1466.5 811.4 L1470.8 808.4 L1475.1 804.4 L1479.5 799.2 L1483.8 792.8 L1488.1 785.1 L1492.5 776.1 L1496.8 766.2 L1501.1 755.7 L1505.5 745 L1509.8 734.8 L1514.1 725.9 L1518.5 718.7 L1522.8 713.9 L1527.1 711.9 L1531.5 712.7 L1535.8 716.5 L1540.1 722.7 L1544.5 731.1 L1548.8 740.8 L1553.1 751.4 L1557.5 762 L1561.8 772.3 L1566.1 781.6 L1570.5 789.9 L1574.8 796.8 L1579.1 802.5 L1583.5 806.9 L1587.8 810.3 L1592.1 812.7 L1596.5 814.5 L1600.8 815.7 L1605.1 816.5 L1609.5 817 L1613.8 817.3 L1618.1 817.5 L1622.5 817.7 L1626.8 817.7 L1631.1 817.8 L1635.5 817.8 L1938 817.8 L1938 817.8 L863.3 817.8 Z" fill="#000080" fill-opacity="0.4" stroke="#000080" stroke-opacity="0.5" stroke-width="1.2"/>
<line x1="863.3" y1="817.8" x2="1937.4" y2="817.8" stroke="#000080" stroke-opacity="0.45" stroke-width="1.3"/>
<path d="M863.6 794.6C865.6 794.6 867.6 840 869.6 840C872.2 840 875 794 877.6 794C879.2 794 880.8 832 882.4 832C883.9 832 885.5 816 887 816C888 816 889 818 890 818C891.8 818 893.8 812 895.6 812C897.4 812 899.2 822 901 822C902.8 822 904.6 802.6 906.4 802.6C907.6 802.6 908.8 833.6 910 833.6C911.2 833.6 912.4 815 913.6 815C914.1 815 914.5 815.4 915 815.4C915.7 815.4 916.3 815 917 815C917.8 815 918.6 821.4 919.4 821.4C920.4 821.4 921.4 804.6 922.4 804.6C923.6 804.6 924.8 830 926 830C927.1 830 928.3 811.4 929.4 811.4C930.4 811.4 931.4 831 932.4 831C933.6 831 934.8 794.6 936 794.6C937.1 794.6 938.3 830 939.4 830C940.3 830 941.1 822 942 822C942.5 822 943.1 825 943.6 825C944.4 825 945.2 806 946 806C947 806 948 826.6 949 826.6C951.2 826.6 953.4 800.6 955.6 800.6C956.6 800.6 957.6 837 958.6 837C959.7 837 960.9 812 962 812C963 812 964 820.6 965 820.6C968.1 820.6 971.3 807 974.4 807C975.7 807 977.1 835 978.4 835C979.3 835 980.1 821 981 821C982 821 983 825.6 984 825.6C985.1 825.6 986.3 800.6 987.4 800.6C989.4 800.6 991.6 853 993.6 853C994.9 853 996.3 790 997.6 790C998.7 790 999.9 824 1001 824C1001.7 824 1002.3 817 1003 817C1004 817 1005 822.4 1006 822.4C1008.1 822.4 1010.3 815 1012.4 815C1013.3 815 1014.1 818.6 1015 818.6C1017.2 818.6 1019.4 813 1021.6 813C1023.8 813 1026.2 830 1028.4 830C1029.9 830 1031.5 800.6 1033 800.6C1034.3 800.6 1035.7 825 1037 825C1037.5 825 1038.1 822 1038.6 822C1039.7 822 1040.9 838 1042 838C1043.2 838 1044.4 789.6 1045.6 789.6C1046.7 789.6 1047.9 826 1049 826C1049.8 826 1050.6 811.4 1051.4 811.4C1052.4 811.4 1053.4 832.6 1054.4 832.6C1055.6 832.6 1056.8 810.6 1058 810.6C1060.4 810.6 1063 826 1065.4 826C1066.6 826 1067.8 807.4 1069 807.4C1069.9 807.4 1070.7 824 1071.6 824C1072.7 824 1073.9 808.6 1075 808.6C1076 808.6 1077 833 1078 833C1079.1 833 1080.3 802 1081.4 802C1082.4 802 1083.4 830.6 1084.4 830.6C1085.3 830.6 1086.1 807 1087 807C1088 807 1089 821 1090 821C1090.9 821 1091.7 814.6 1092.6 814.6C1093.6 814.6 1094.6 821.4 1095.6 821.4C1096.7 821.4 1097.9 816.6 1099 816.6C1100.1 816.6 1101.3 820.6 1102.4 820.6C1103.3 820.6 1104.1 816.6 1105 816.6C1105.9 816.6 1106.7 821 1107.6 821C1108.4 821 1109.2 802.6 1110 802.6C1111 802.6 1112 829 1113 829C1113.7 829 1114.3 820 1115 820C1116 820 1117 834 1118 834C1119.8 834 1121.8 781 1123.6 781C1124.9 781 1126.1 844 1127.4 844C1128.1 844 1128.9 828 1129.6 828C1130.5 828 1131.5 852 1132.4 852C1133.8 852 1135.2 780.6 1136.6 780.6C1137.9 780.6 1139.1 810 1140.4 810C1140.9 810 1141.5 807 1142 807C1143.3 807 1144.7 851 1146 851C1147.7 851 1149.3 804.6 1151 804.6C1153 804.6 1155 819.4 1157 819.4C1158.7 819.4 1160.3 816 1162 816C1163.5 816 1165.1 823 1166.6 823C1167.9 823 1169.1 810 1170.4 810C1171.5 810 1172.5 819 1173.6 819C1174.3 819 1174.9 817 1175.6 817C1176.5 817 1177.5 826 1178.4 826C1181 826 1183.8 810.6 1186.4 810.6C1187.5 810.6 1188.5 826.6 1189.6 826.6C1190.7 826.6 1191.9 812 1193 812C1194.1 812 1195.3 825.6 1196.4 825.6C1197.5 825.6 1198.5 801.4 1199.6 801.4C1200.6 801.4 1201.6 837.6 1202.6 837.6C1203.9 837.6 1205.1 802.6 1206.4 802.6C1207.5 802.6 1208.5 826 1209.6 826C1210.5 826 1211.5 810.6 1212.4 810.6C1213.4 810.6 1214.4 829 1215.4 829C1216.5 829 1217.5 804.6 1218.6 804.6C1220.1 804.6 1221.5 824 1223 824C1224.7 824 1226.3 812.6 1228 812.6C1228.7 812.6 1229.3 815 1230 815C1230.7 815 1231.3 813 1232 813C1233 813 1234 825.6 1235 825.6C1235.9 825.6 1236.7 817 1237.6 817C1238.2 817 1238.8 817 1239.4 817C1240.3 817 1241.1 805 1242 805C1243 805 1244 835 1245 835C1246 835 1247 810 1248 810C1248.8 810 1249.6 824 1250.4 824C1251.5 824 1252.5 808 1253.6 808C1255.9 808 1258.3 833.6 1260.6 833.6C1261.9 833.6 1263.1 801.4 1264.4 801.4C1265.6 801.4 1266.8 819 1268 819C1268.5 819 1269.1 816 1269.6 816C1270.3 816 1270.9 831 1271.6 831C1272.7 831 1273.9 805.4 1275 805.4C1275.9 805.4 1276.7 832 1277.6 832C1278.6 832 1279.6 805 1280.6 805C1281.7 805 1282.9 820 1284 820C1284.9 820 1285.7 813 1286.6 813C1287.7 813 1288.9 825 1290 825C1292.3 825 1294.7 796 1297 796C1298.1 796 1299.3 855 1300.4 855C1301.7 855 1303.1 781 1304.4 781C1305.7 781 1307.1 834 1308.4 834C1310.2 834 1312.2 805 1314 805C1315.3 805 1316.7 848 1318 848C1319.3 848 1320.7 791 1322 791C1324.6 791 1327.4 839 1330 839C1331.5 839 1333.1 801 1334.6 801C1337.4 801 1340.2 834 1343 834C1344.7 834 1346.3 807 1348 807C1350.1 807 1352.3 832 1354.4 832C1355.7 832 1357.1 808 1358.4 808C1359.3 808 1360.1 821 1361 821C1362.1 821 1363.3 800 1364.4 800C1365.7 800 1367.1 833 1368.4 833C1369.1 833 1369.7 828.6 1370.4 828.6C1370.9 828.6 1371.5 834 1372 834C1373.3 834 1374.7 778.6 1376 778.6C1377.2 778.6 1378.4 837.6 1379.6 837.6C1380.4 837.6 1381.2 814 1382 814C1383 814 1384 837.6 1385 837.6C1387.8 837.6 1390.8 796.6 1393.6 796.6C1395.1 796.6 1396.5 821 1398 821C1398.5 821 1398.9 817 1399.4 817C1401.1 817 1402.8 846 1404.4 846C1406.1 846 1407.9 779.6 1409.6 779.6C1411.4 779.6 1413.2 837 1415 837C1416.1 837 1417.3 812.6 1418.4 812.6C1419.5 812.6 1420.5 839 1421.6 839C1423.1 839 1424.5 799 1426 799C1428.6 799 1431.4 847 1434 847C1436.6 847 1439.4 785 1442 785C1443.2 785 1444.4 837 1445.6 837C1447.6 837 1449.6 812 1451.6 812C1452.5 812 1453.5 828 1454.4 828C1455.7 828 1457.1 807 1458.4 807C1460.1 807 1461.9 829 1463.6 829C1466.4 829 1469.2 804 1472 804C1473.1 804 1474.3 832.6 1475.4 832.6C1476.3 832.6 1477.1 810 1478 810C1479.3 810 1480.7 821.6 1482 821.6C1483.5 821.6 1485.1 810 1486.6 810C1487.6 810 1488.6 830 1489.6 830C1490.7 830 1491.9 801 1493 801C1494.3 801 1495.7 830.6 1497 830.6C1499.2 830.6 1501.4 806.8 1503.6 806.8C1505.2 806.8 1506.9 827 1508.6 827C1509.9 827 1511.1 808 1512.4 808C1513.6 808 1514.8 829.6 1516 829.6C1518.1 829.6 1520.3 797.4 1522.4 797.4C1523.9 797.4 1525.5 849.6 1527 849.6C1528.7 849.6 1530.3 798.4 1532 798.4C1533.5 798.4 1534.9 861 1536.4 861C1537.9 861 1539.5 789.8 1541 789.8C1543.3 789.8 1545.7 848.6 1548 848.6C1549.8 848.6 1551.6 777.4 1553.4 777.4C1555.2 777.4 1557.2 895.2 1559 895.2C1560.7 895.2 1562.3 735 1564 735C1566.2 735 1568.4 865.6 1570.6 865.6C1572.6 865.6 1574.6 735 1576.6 735C1577.9 735 1579.3 870.2 1580.6 870.2C1582.6 870.2 1584.6 792.8 1586.6 792.8C1587.8 792.8 1589 855.2 1590.2 855.2C1591.6 855.2 1593 780.8 1594.4 780.8C1596.2 780.8 1598.2 842.6 1600 842.6C1601.7 842.6 1603.5 774.8 1605.2 774.8C1606.8 774.8 1608.4 853.2 1610 853.2C1612 853.2 1614 779.8 1616 779.8C1617.5 779.8 1619.1 854 1620.6 854C1622.2 854 1623.8 772 1625.4 772C1626.8 772 1628.2 858.6 1629.6 858.6C1631.7 858.6 1633.9 765.8 1636 765.8C1637.3 765.8 1638.7 843 1640 843C1643.8 843 1647.8 801.8 1651.6 801.8C1653.2 801.8 1654.8 863.2 1656.4 863.2C1658.1 863.2 1659.8 761.8 1661.4 761.8C1663.2 761.8 1665.2 874.2 1667 874.2C1668.5 874.2 1669.9 765 1671.4 765C1672.6 765 1673.8 831.2 1675 831.2C1675.8 831.2 1676.6 805.4 1677.4 805.4C1678.3 805.4 1679.1 868 1680 868C1681.3 868 1682.7 767.4 1684 767.4C1685 767.4 1686 834.6 1687 834.6C1688 834.6 1689 813 1690 813C1691.1 813 1692.3 826 1693.4 826C1694.6 826 1695.8 814.8 1697 814.8C1697.9 814.8 1698.7 822.6 1699.6 822.6C1700.5 822.6 1701.5 800.4 1702.4 800.4C1703.5 800.4 1704.5 830.6 1705.6 830.6C1706.5 830.6 1707.5 813.4 1708.4 813.4C1710.4 813.4 1712.4 834.6 1714.4 834.6C1715.6 834.6 1716.8 763 1718 763C1719.3 763 1720.7 880.2 1722 880.2C1723.3 880.2 1724.7 781 1726 781C1728.3 781 1730.7 863.2 1733 863.2C1734.3 863.2 1735.7 756 1737 756C1738.5 756 1740.1 892.6 1741.6 892.6C1743.2 892.6 1744.8 755.4 1746.4 755.4C1748.1 755.4 1749.8 856.2 1751.4 856.2C1753.1 856.2 1754.8 792.4 1756.4 792.4C1757.6 792.4 1758.8 841.6 1760 841.6C1761 841.6 1762 794.4 1763 794.4C1764.7 794.4 1766.3 836.6 1768 836.6C1769.5 836.6 1770.9 796.4 1772.4 796.4C1774.4 796.4 1776.4 833.6 1778.4 833.6C1780.4 833.6 1782.4 765.8 1784.4 765.8C1786.2 765.8 1788.2 875 1790 875C1791.5 875 1792.9 761.8 1794.4 761.8C1795.5 761.8 1796.5 826.2 1797.6 826.2C1798.4 826.2 1799.2 811.4 1800 811.4C1801 811.4 1802 854 1803 854C1804.7 854 1806.3 769 1808 769C1809.5 769 1811.1 887.6 1812.6 887.6C1814.1 887.6 1815.5 771 1817 771C1818.5 771 1819.9 829.6 1821.4 829.6C1822.4 829.6 1823.4 806.8 1824.4 806.8C1825.5 806.8 1826.5 841.6 1827.6 841.6C1829.1 841.6 1830.5 801 1832 801C1833.7 801 1835.3 840.6 1837 840.6C1838.4 840.6 1839.8 789.8 1841.2 789.8C1843.9 789.8 1846.7 861.2 1849.4 861.2C1850.9 861.2 1852.5 772.4 1854 772.4C1856.2 772.4 1858.4 857 1860.6 857C1863.8 857 1867.2 786 1870.4 786C1871.7 786 1873.1 871.2 1874.4 871.2C1875.9 871.2 1877.5 795.4 1879 795.4C1879.8 795.4 1880.6 812.6 1881.4 812.6C1882.3 812.6 1883.1 798.4 1884 798.4C1886.8 798.4 1889.8 856 1892.6 856C1894.7 856 1896.9 713.4 1899 713.4C1900.5 713.4 1902.1 902.2 1903.6 902.2C1906.4 902.2 1909.2 778.8 1912 778.8C1914.8 778.8 1917.6 877.6 1920.4 877.6C1922.1 877.6 1923.8 788.4 1925.4 788.4C1929.2 788.4 1933.2 832.6 1937 832.6" fill="none" stroke="#000" stroke-width="3" stroke-linejoin="round"/>
<line x1="1293.75" y1="711.8" x2="1293.75" y2="923.8" stroke="#000080" stroke-width="4"/>
<line x1="1299.5" y1="711.8" x2="1299.5" y2="923.8" stroke="#00d492" stroke-width="4"/>
<line x1="1528.0" y1="923.8" x2="1528.0" y2="711.8" stroke="#000080" stroke-width="4" stroke-dasharray="13.4 6.2"/>
<line x1="1515.75" y1="923.8" x2="1515.75" y2="711.8" stroke="#00d492" stroke-width="4" stroke-dasharray="13.4 6.2"/>
<text x="863.8" y="734.6" class="lg">TTL4-07</text>
<line x1="862.3" y1="923.6" x2="1939.0" y2="923.6" stroke="#000" stroke-width="2.1"/>
<line x1="961.4" y1="923.6" x2="961.4" y2="932.5" class="tk"/>
<text x="961.4" y="963.1" class="tl" text-anchor="middle">0</text>
<line x1="1156.7" y1="923.6" x2="1156.7" y2="932.5" class="tk"/>
<text x="1156.7" y="963.1" class="tl" text-anchor="middle">200</text>
<line x1="1351.9" y1="923.6" x2="1351.9" y2="932.5" class="tk"/>
<text x="1351.9" y="963.1" class="tl" text-anchor="middle">400</text>
<line x1="1547.2" y1="923.6" x2="1547.2" y2="932.5" class="tk"/>
<text x="1547.2" y="963.1" class="tl" text-anchor="middle">600</text>
<line x1="1742.4" y1="923.6" x2="1742.4" y2="932.5" class="tk"/>
<text x="1742.4" y="963.1" class="tl" text-anchor="middle">800</text>
<line x1="1937.7" y1="923.6" x2="1937.7" y2="932.5" class="tk"/>
<text x="1937.7" y="963.1" class="tl" text-anchor="middle">1000</text>
<text x="1400" y="1000.8" class="lb" text-anchor="middle">Time / [<tspan class="it">s</tspan>]</text>
<text transform="translate(1996.8,512) rotate(-90)" class="lb" text-anchor="middle">Waveforms, S &amp; P arrivals</text>
<text transform="translate(850,28.0) scale(1.14,1)" class="ttp">(</text><text x="869.1" y="25.7" class="ttl">b</text><text transform="translate(892.95,28.0) scale(1.14,1)" class="ttp">)</text>
</g>
<g id="pc">
<clipPath id="clipC"><rect x="77.1" y="601.1" width="698.5" height="322.5"/></clipPath>
<line x1="775.6" y1="601.1" x2="863.6" y2="596.2" stroke="#858585" stroke-width="2.5"/>
<line x1="775.6" y1="923.6" x2="863.6" y2="596.2" stroke="#858585" stroke-width="2.5"/>
<g clip-path="url(#clipC)">
<rect x="135.8" y="763.1" width="8.3" height="6.2" fill="#f2aaaa"/>
<rect x="144.7" y="758.5" width="8.3" height="10.8" fill="#f2aaaa"/>
<rect x="153.5" y="755.4" width="8.3" height="13.9" fill="#f2aaaa"/>
<rect x="162.4" y="692.3" width="8.3" height="76.9" fill="#f2aaaa"/>
<rect x="171.2" y="667.7" width="8.3" height="101.6" fill="#f2aaaa"/>
<rect x="180.1" y="658.5" width="8.3" height="110.8" fill="#f2aaaa"/>
<rect x="188.9" y="616.2" width="8.3" height="153.1" fill="#f2aaaa"/>
<rect x="197.8" y="616.2" width="8.3" height="153.1" fill="#f2aaaa"/>
<rect x="206.6" y="623.9" width="8.3" height="145.4" fill="#f2aaaa"/>
<rect x="215.4" y="670" width="8.3" height="99.3" fill="#f2aaaa"/>
<rect x="224.3" y="719.3" width="8.3" height="50" fill="#f2aaaa"/>
<rect x="233.2" y="746.2" width="8.3" height="23.1" fill="#f2aaaa"/>
<rect x="242" y="763.9" width="8.3" height="5.4" fill="#f2aaaa"/>
<rect x="250.9" y="763.1" width="8.3" height="6.2" fill="#f2aaaa"/>
<rect x="493.2" y="751.6" width="8.3" height="17.7" fill="#f2aaaa"/>
<rect x="502" y="746.2" width="8.3" height="23.1" fill="#f2aaaa"/>
<rect x="510.9" y="741.6" width="8.3" height="27.7" fill="#f2aaaa"/>
<rect x="519.7" y="711.6" width="8.3" height="57.7" fill="#f2aaaa"/>
<rect x="528.5" y="701.6" width="8.3" height="67.7" fill="#f2aaaa"/>
<rect x="537.4" y="677.7" width="8.3" height="91.6" fill="#f2aaaa"/>
<rect x="546.2" y="694.7" width="8.3" height="74.6" fill="#f2aaaa"/>
<rect x="555" y="689.3" width="8.3" height="80" fill="#f2aaaa"/>
<rect x="563.8" y="692.3" width="8.3" height="76.9" fill="#f2aaaa"/>
<rect x="572.7" y="650.8" width="8.3" height="118.5" fill="#f2aaaa"/>
<rect x="581.5" y="664.6" width="8.3" height="104.7" fill="#f2aaaa"/>
<rect x="590.3" y="719.3" width="8.3" height="50" fill="#f2aaaa"/>
<rect x="599.2" y="709.3" width="8.3" height="60" fill="#f2aaaa"/>
<rect x="608" y="751.6" width="8.3" height="17.7" fill="#f2aaaa"/>
<rect x="616.8" y="753.9" width="8.3" height="15.4" fill="#f2aaaa"/>
<rect x="625.6" y="753.1" width="8.3" height="16.2" fill="#f2aaaa"/>
<rect x="634.5" y="748.5" width="8.3" height="20.8" fill="#f2aaaa"/>
<rect x="643.3" y="760.8" width="8.3" height="8.5" fill="#f2aaaa"/>
<path d="M77.1 769.1 L78.1 769.1 L79.1 769.1 L80.1 769.1 L81.1 769 L82.1 769 L83.1 769 L84.1 768.9 L85.1 768.9 L86.1 768.8 L87.1 768.8 L88.1 768.7 L89.1 768.6 L90.1 768.5 L91.1 768.4 L92.1 768.3 L93.1 768.2 L94.1 768.1 L95.1 768 L96.1 767.8 L97.1 767.6 L98.1 767.5 L99.1 767.3 L100.1 767 L101.1 766.8 L102.1 766.5 L103.1 766.3 L104.1 766 L105.1 765.6 L106.1 765.3 L107.1 764.9 L108.1 764.4 L109.1 764 L110.1 763.5 L111.1 762.9 L112.1 762.4 L113.1 761.7 L114.1 761.1 L115.1 760.4 L116.1 759.6 L117.1 758.8 L118.1 757.9 L119.1 757 L120.1 756 L121.1 754.9 L122.1 753.8 L123.1 752.6 L124.1 751.3 L125.1 750 L126.1 748.6 L127.1 747.1 L128.1 745.6 L129.1 744 L130.1 742.2 L131.1 740.5 L132.1 738.6 L133.1 736.6 L134.1 734.6 L135.1 732.5 L136.1 730.3 L137.1 728 L138.1 725.6 L139.1 723.2 L140.1 720.6 L141.1 718 L142.1 715.3 L143.1 712.6 L144.1 709.8 L145.1 706.9 L146.1 704 L147.1 701 L148.1 697.9 L149.1 694.8 L150.1 691.7 L151.1 688.5 L152.1 685.3 L153.1 682.1 L154.1 678.9 L155.1 675.6 L156.1 672.4 L157.1 669.2 L158.1 665.9 L159.1 662.8 L160.1 659.6 L161.1 656.5 L162.1 653.4 L163.1 650.4 L164.1 647.5 L165.1 644.7 L166.1 641.9 L167.1 639.2 L168.1 636.6 L169.1 634.2 L170.1 631.9 L171.1 629.7 L172.1 627.6 L173.1 625.7 L174.1 623.9 L175.1 622.3 L176.1 620.8 L177.1 619.5 L178.1 618.4 L179.1 617.4 L180.1 616.7 L181.1 616.1 L182.1 615.7 L183.1 615.4 L184.1 615.4 L185.1 615.6 L186.1 615.9 L187.1 616.4 L188.1 617.1 L189.1 618 L190.1 619 L191.1 620.3 L192.1 621.7 L193.1 623.2 L194.1 624.9 L195.1 626.8 L196.1 628.8 L197.1 631 L198.1 633.2 L199.1 635.7 L200.1 638.2 L201.1 640.8 L202.1 643.5 L203.1 646.4 L204.1 649.3 L205.1 652.2 L206.1 655.3 L207.1 658.4 L208.1 661.5 L209.1 664.7 L210.1 667.9 L211.1 671.1 L212.1 674.3 L213.1 677.6 L214.1 680.8 L215.1 684 L216.1 687.2 L217.1 690.4 L218.1 693.6 L219.1 696.7 L220.1 699.8 L221.1 702.8 L222.1 705.7 L223.1 708.6 L224.1 711.5 L225.1 714.3 L226.1 717 L227.1 719.6 L228.1 722.2 L229.1 724.6 L230.1 727 L231.1 729.4 L232.1 731.6 L233.1 733.7 L234.1 735.8 L235.1 737.8 L236.1 739.7 L237.1 741.5 L238.1 743.3 L239.1 744.9 L240.1 746.5 L241.1 748 L242.1 749.5 L243.1 750.8 L244.1 752.1 L245.1 753.3 L246.1 754.5 L247.1 755.6 L248.1 756.6 L249.1 757.5 L250.1 758.4 L251.1 759.3 L252.1 760.1 L253.1 760.8 L254.1 761.5 L255.1 762.1 L256.1 762.7 L257.1 763.3 L258.1 763.8 L259.1 764.3 L260.1 764.7 L261.1 765.1 L262.1 765.5 L263.1 765.8 L264.1 766.1 L265.1 766.4 L266.1 766.7 L267.1 767 L268.1 767.2 L269.1 767.4 L270.1 767.6 L271.1 767.7 L272.1 767.9 L273.1 768 L274.1 768.2 L275.1 768.3 L276.1 768.4 L277.1 768.5 L278.1 768.6 L279.1 768.7 L280.1 768.7 L281.1 768.8 L282.1 768.8 L283.1 768.9 L284.1 768.9 L285.1 769 L286.1 769 L287.1 769.1 L288.1 769.1 L289.1 769.1 L290.1 769.1" fill="none" stroke="#000080" stroke-width="2.6"/>
<path d="M430 768.4 L431 768.3 L432 768.2 L433 768.1 L434 768 L435 767.9 L436 767.8 L437 767.6 L438 767.5 L439 767.4 L440 767.2 L441 767.1 L442 767 L443 766.8 L444 766.6 L445 766.5 L446 766.3 L447 766.1 L448 765.9 L449 765.7 L450 765.4 L451 765.2 L452 765 L453 764.7 L454 764.5 L455 764.2 L456 763.9 L457 763.6 L458 763.3 L459 763 L460 762.7 L461 762.3 L462 762 L463 761.6 L464 761.2 L465 760.8 L466 760.4 L467 760 L468 759.5 L469 759.1 L470 758.6 L471 758.1 L472 757.6 L473 757.1 L474 756.5 L475 756 L476 755.4 L477 754.8 L478 754.2 L479 753.5 L480 752.9 L481 752.2 L482 751.5 L483 750.8 L484 750.1 L485 749.3 L486 748.6 L487 747.8 L488 747 L489 746.1 L490 745.3 L491 744.4 L492 743.5 L493 742.6 L494 741.7 L495 740.7 L496 739.8 L497 738.8 L498 737.8 L499 736.7 L500 735.7 L501 734.6 L502 733.5 L503 732.4 L504 731.3 L505 730.2 L506 729 L507 727.9 L508 726.7 L509 725.5 L510 724.2 L511 723 L512 721.8 L513 720.5 L514 719.2 L515 718 L516 716.7 L517 715.4 L518 714 L519 712.7 L520 711.4 L521 710.1 L522 708.7 L523 707.4 L524 706 L525 704.7 L526 703.3 L527 702 L528 700.6 L529 699.3 L530 697.9 L531 696.6 L532 695.2 L533 693.9 L534 692.6 L535 691.3 L536 690 L537 688.7 L538 687.4 L539 686.1 L540 684.9 L541 683.6 L542 682.4 L543 681.2 L544 680 L545 678.9 L546 677.7 L547 676.6 L548 675.5 L549 674.5 L550 673.4 L551 672.4 L552 671.5 L553 670.5 L554 669.6 L555 668.7 L556 667.9 L557 667.1 L558 666.3 L559 665.6 L560 664.9 L561 664.2 L562 663.6 L563 663 L564 662.4 L565 661.9 L566 661.5 L567 661.1 L568 660.7 L569 660.4 L570 660.1 L571 659.8 L572 659.6 L573 659.5 L574 659.4 L575 659.3 L576 659.3 L577 659.3 L578 659.4 L579 659.5 L580 659.7 L581 659.9 L582 660.1 L583 660.4 L584 660.8 L585 661.2 L586 661.6 L587 662 L588 662.6 L589 663.1 L590 663.7 L591 664.3 L592 665 L593 665.7 L594 666.4 L595 667.2 L596 668 L597 668.9 L598 669.8 L599 670.7 L600 671.7 L601 672.6 L602 673.6 L603 674.7 L604 675.7 L605 676.8 L606 678 L607 679.1 L608 680.3 L609 681.4 L610 682.6 L611 683.9 L612 685.1 L613 686.4 L614 687.6 L615 688.9 L616 690.2 L617 691.5 L618 692.8 L619 694.2 L620 695.5 L621 696.8 L622 698.2 L623 699.5 L624 700.9 L625 702.2 L626 703.6 L627 704.9 L628 706.3 L629 707.6 L630 709 L631 710.3 L632 711.7 L633 713 L634 714.3 L635 715.6 L636 716.9 L637 718.2 L638 719.5 L639 720.8 L640 722 L641 723.3 L642 724.5 L643 725.7 L644 726.9 L645 728.1 L646 729.3 L647 730.4 L648 731.5 L649 732.7 L650 733.8 L651 734.8 L652 735.9 L653 736.9 L654 738 L655 739 L656 740 L657 740.9 L658 741.9 L659 742.8 L660 743.7 L661 744.6 L662 745.5 L663 746.3 L664 747.1 L665 747.9 L666 748.7 L667 749.5 L668 750.2 L669 751 L670 751.7 L671 752.3 L672 753 L673 753.7 L674 754.3 L675 754.9 L676 755.5 L677 756.1 L678 756.6 L679 757.2 L680 757.7 L681 758.2 L682 758.7 L683 759.2 L684 759.6 L685 760.1 L686 760.5 L687 760.9 L688 761.3 L689 761.7 L690 762 L691 762.4 L692 762.7 L693 763.1 L694 763.4 L695 763.7 L696 764 L697 764.3 L698 764.5 L699 764.8 L700 765 L701 765.3 L702 765.5 L703 765.7 L704 765.9 L705 766.1 L706 766.3 L707 766.5 L708 766.7 L709 766.8 L710 767 L711 767.1 L712 767.3 L713 767.4 L714 767.5 L715 767.7 L716 767.8 L717 767.9 L718 768 L719 768.1 L720 768.2 L721 768.3 L722 768.4" fill="none" stroke="#000080" stroke-width="2.6" stroke-dasharray="9.6 4.2"/>
<path d="M77.1 767.3C77.7 767.3 78.4 763.6 79 763.6C80.8 763.6 82.6 771.8 84.4 771.8C85.9 771.8 87.5 766.8 89 766.8C90.2 766.8 91.4 776.8 92.6 776.8C94.1 776.8 95.5 764.2 97 764.2C100 764.2 103 775.4 106 775.4C107.8 775.4 109.8 761.6 111.6 761.6C113.5 761.6 115.5 777.2 117.4 777.2C119.2 777.2 121.2 763.6 123 763.6C124.7 763.6 126.3 776.8 128 776.8C129.5 776.8 130.9 767.8 132.4 767.8C133.5 767.8 134.5 771.4 135.6 771.4C136.9 771.4 138.1 761.2 139.4 761.2C140.9 761.2 142.5 780.8 144 780.8C145.7 780.8 147.3 761.6 149 761.6C150.5 761.6 152.1 773.8 153.6 773.8C154.7 773.8 155.9 768.2 157 768.2C158.2 768.2 159.4 775.2 160.6 775.2C162.4 775.2 164.2 764.2 166 764.2C170.3 764.2 174.7 787.2 179 787.2C180.8 787.2 182.6 760.2 184.4 760.2C187.4 760.2 190.4 778.8 193.4 778.8C194.5 778.8 195.5 772.2 196.6 772.2C197.7 772.2 198.9 774.8 200 774.8C203.3 774.8 206.7 744.8 210 744.8C212.2 744.8 214.4 790.8 216.6 790.8C219.4 790.8 222.2 747.6 225 747.6C228.6 747.6 232.4 784.8 236 784.8C238 784.8 240 755.2 242 755.2C243.5 755.2 245.1 774.8 246.6 774.8C247.9 774.8 249.3 762.2 250.6 762.2C251.9 762.2 253.3 790.4 254.6 790.4C256.1 790.4 257.5 753.2 259 753.2C260.3 753.2 261.7 781.8 263 781.8C264.5 781.8 266.1 758.2 267.6 758.2C268.7 758.2 269.9 779.8 271 779.8C272.8 779.8 274.8 751.8 276.6 751.8C278.2 751.8 280 801.8 281.6 801.8C283.5 801.8 285.5 742.8 287.4 742.8C290.2 742.8 293.2 782.2 296 782.2C297.6 782.2 299.4 755.8 301 755.8C302.6 755.8 304.4 784.2 306 784.2C307.6 784.2 309.4 763.2 311 763.2C311.9 763.2 312.7 769.8 313.6 769.8C315.1 769.8 316.5 743.6 318 743.6C319.6 743.6 321.4 808.8 323 808.8C324.6 808.8 326.4 754.2 328 754.2C329.2 754.2 330.4 763.2 331.6 763.2C332.5 763.2 333.5 761.6 334.4 761.6C338.1 761.6 341.9 789.8 345.6 789.8C347.4 789.8 349.2 745.8 351 745.8C352.8 745.8 354.6 786.4 356.4 786.4C357.9 786.4 359.5 757.6 361 757.6C362.6 757.6 364.4 785.8 366 785.8C367.6 785.8 369.4 747.8 371 747.8C372.8 747.8 374.6 790.2 376.4 790.2C377.8 790.2 379.2 746.2 380.6 746.2C382.2 746.2 384 803.2 385.6 803.2C387.2 803.2 389 735.8 390.6 735.8C392.5 735.8 394.5 789.4 396.4 789.4C397.9 789.4 399.5 758.2 401 758.2C402.5 758.2 403.9 782.2 405.4 782.2C406.9 782.2 408.5 757.8 410 757.8C411.3 757.8 412.7 791.4 414 791.4C415.5 791.4 416.9 731.2 418.4 731.2C420.1 731.2 421.9 815.4 423.6 815.4C425.5 815.4 427.5 731.8 429.4 731.8C431.6 731.8 433.8 791.2 436 791.2C437.8 791.2 439.8 760.8 441.6 760.8C442.7 760.8 443.9 763.8 445 763.8C446 763.8 447 756.8 448 756.8C449.6 756.8 451.4 791.8 453 791.8C455.8 791.8 458.6 756.2 461.4 756.2C462.8 756.2 464.2 793.2 465.6 793.2C467.1 793.2 468.5 742.8 470 742.8C471.6 742.8 473.4 797.4 475 797.4C476.5 797.4 478.1 745.8 479.6 745.8C481.1 745.8 482.5 785.2 484 785.2C485.8 785.2 487.6 759.2 489.4 759.2C491 759.2 492.8 782.4 494.4 782.4C496.6 782.4 498.8 757.8 501 757.8C505.2 757.8 509.4 783.2 513.6 783.2C515.9 783.2 518.3 742.6 520.6 742.6C522.7 742.6 524.9 803.2 527 803.2C529.3 803.2 531.7 736.2 534 736.2C535.8 736.2 537.8 802.4 539.6 802.4C542.4 802.4 545.2 750.8 548 750.8C550 750.8 552 799.8 554 799.8C557.1 799.8 560.3 746.2 563.4 746.2C565.4 746.2 567.4 796.8 569.4 796.8C572.4 796.8 575.6 761.6 578.6 761.6C579.7 761.6 580.9 772.4 582 772.4C583.5 772.4 585.1 746.2 586.6 746.2C588.6 746.2 590.6 797.8 592.6 797.8C595.4 797.8 598.2 748.2 601 748.2C602.8 748.2 604.8 773.4 606.6 773.4C608.1 773.4 609.5 756.2 611 756.2C612.8 756.2 614.6 809.4 616.4 809.4C618.4 809.4 620.4 742.2 622.4 742.2C626.6 742.2 630.8 788.8 635 788.8C636.6 788.8 638.4 742.2 640 742.2C641.5 742.2 642.9 785.2 644.4 785.2C646 785.2 647.8 747.8 649.4 747.8C651.4 747.8 653.4 798.8 655.4 798.8C658.1 798.8 660.9 724.8 663.6 724.8C665.6 724.8 667.6 797.4 669.6 797.4C670.4 797.4 671.2 789.2 672 789.2C672.9 789.2 673.7 789.4 674.6 789.4C676.6 789.4 678.6 739.2 680.6 739.2C685.2 739.2 689.8 785.2 694.4 785.2C696.6 785.2 698.8 745.8 701 745.8C703.1 745.8 705.3 785.4 707.4 785.4C708.6 785.4 709.8 771.8 711 771.8C712 771.8 713 778.4 714 778.4C716 778.4 718 756.8 720 756.8C721.8 756.8 723.6 776.4 725.4 776.4C726.5 776.4 727.5 769.6 728.6 769.6C729.7 769.6 730.9 778.8 732 778.8C733.5 778.8 735.1 763.6 736.6 763.6C737.5 763.6 738.5 766.8 739.4 766.8C740.8 766.8 742.2 762.8 743.6 762.8C745.8 762.8 748.2 789.8 750.4 789.8C752.2 789.8 754.2 741.8 756 741.8C758.3 741.8 760.7 801.2 763 801.2C764.8 801.2 766.8 726.2 768.6 726.2C770.2 726.2 772 794.8 773.6 794.8C774.4 794.8 775.2 783.2 776 783.2" fill="none" stroke="#000" stroke-width="2.5" stroke-linejoin="round"/>
<line x1="183.8" y1="615.4" x2="183.8" y2="771" stroke="#000080" stroke-width="4"/>
<line x1="213.5" y1="601.1" x2="213.5" y2="771" stroke="#02a270" stroke-width="4"/>
<line x1="575.9" y1="769.3" x2="575.9" y2="601.1" stroke="#02a270" stroke-width="4" stroke-dasharray="14 5.7"/>
</g>
<text x="140.4" y="634.3" style="font-size:33.3px;fill:#000080">P</text>
<text x="580.3" y="635.7" style="font-size:33.3px;fill:#000080">S</text>
<rect x="77.1" y="601.1" width="698.5" height="322.5" fill="none" stroke="#000" stroke-width="2.1"/>
<line x1="77.1" y1="923.6" x2="77.1" y2="932.5" class="tk"/>
<text x="77.1" y="963.1" class="tl" text-anchor="middle">300</text>
<line x1="216.8" y1="923.6" x2="216.8" y2="932.5" class="tk"/>
<text x="216.8" y="963.1" class="tl" text-anchor="middle">400</text>
<line x1="356.5" y1="923.6" x2="356.5" y2="932.5" class="tk"/>
<text x="356.5" y="963.1" class="tl" text-anchor="middle">500</text>
<line x1="496.2" y1="923.6" x2="496.2" y2="932.5" class="tk"/>
<text x="496.2" y="963.1" class="tl" text-anchor="middle">600</text>
<line x1="635.9" y1="923.6" x2="635.9" y2="932.5" class="tk"/>
<text x="635.9" y="963.1" class="tl" text-anchor="middle">700</text>
<line x1="775.6" y1="923.6" x2="775.6" y2="932.5" class="tk"/>
<text x="775.6" y="963.1" class="tl" text-anchor="middle">800</text>
<text x="426" y="1000.8" class="lb" text-anchor="middle">Time / [<tspan class="it">s</tspan>]</text>
<text transform="translate(26,761.7) rotate(-90)" class="lb" text-anchor="middle">Posterior P and S</text>
<text transform="translate(75,579.8) scale(1.14,1)" class="ttp">(</text><text x="94.25" y="577.5" class="ttl">c</text><text transform="translate(113.95,579.8) scale(1.14,1)" class="ttp">)</text>
<rect x="104" y="871" width="58.6" height="19.6" fill="#f2aaaa"/>
<text x="186.5" y="891" class="lg">Posterior</text>
<line x1="374.2" y1="881" x2="433.8" y2="881" stroke="#000080" stroke-width="4" stroke-dasharray="14.2 5.6"/>
<line x1="374.2" y1="888.2" x2="433.8" y2="888.2" stroke="#000080" stroke-width="4"/>
<text x="456.3" y="891" class="lg">Picked</text>
<line x1="609.6" y1="881" x2="669" y2="881" stroke="#02a270" stroke-width="4" stroke-dasharray="14.2 5.6"/>
<line x1="609.6" y1="888.2" x2="669" y2="888.2" stroke="#02a270" stroke-width="4"/>
<text x="692" y="891" class="lg">MAP</text>
</g>
</svg></body></html>
